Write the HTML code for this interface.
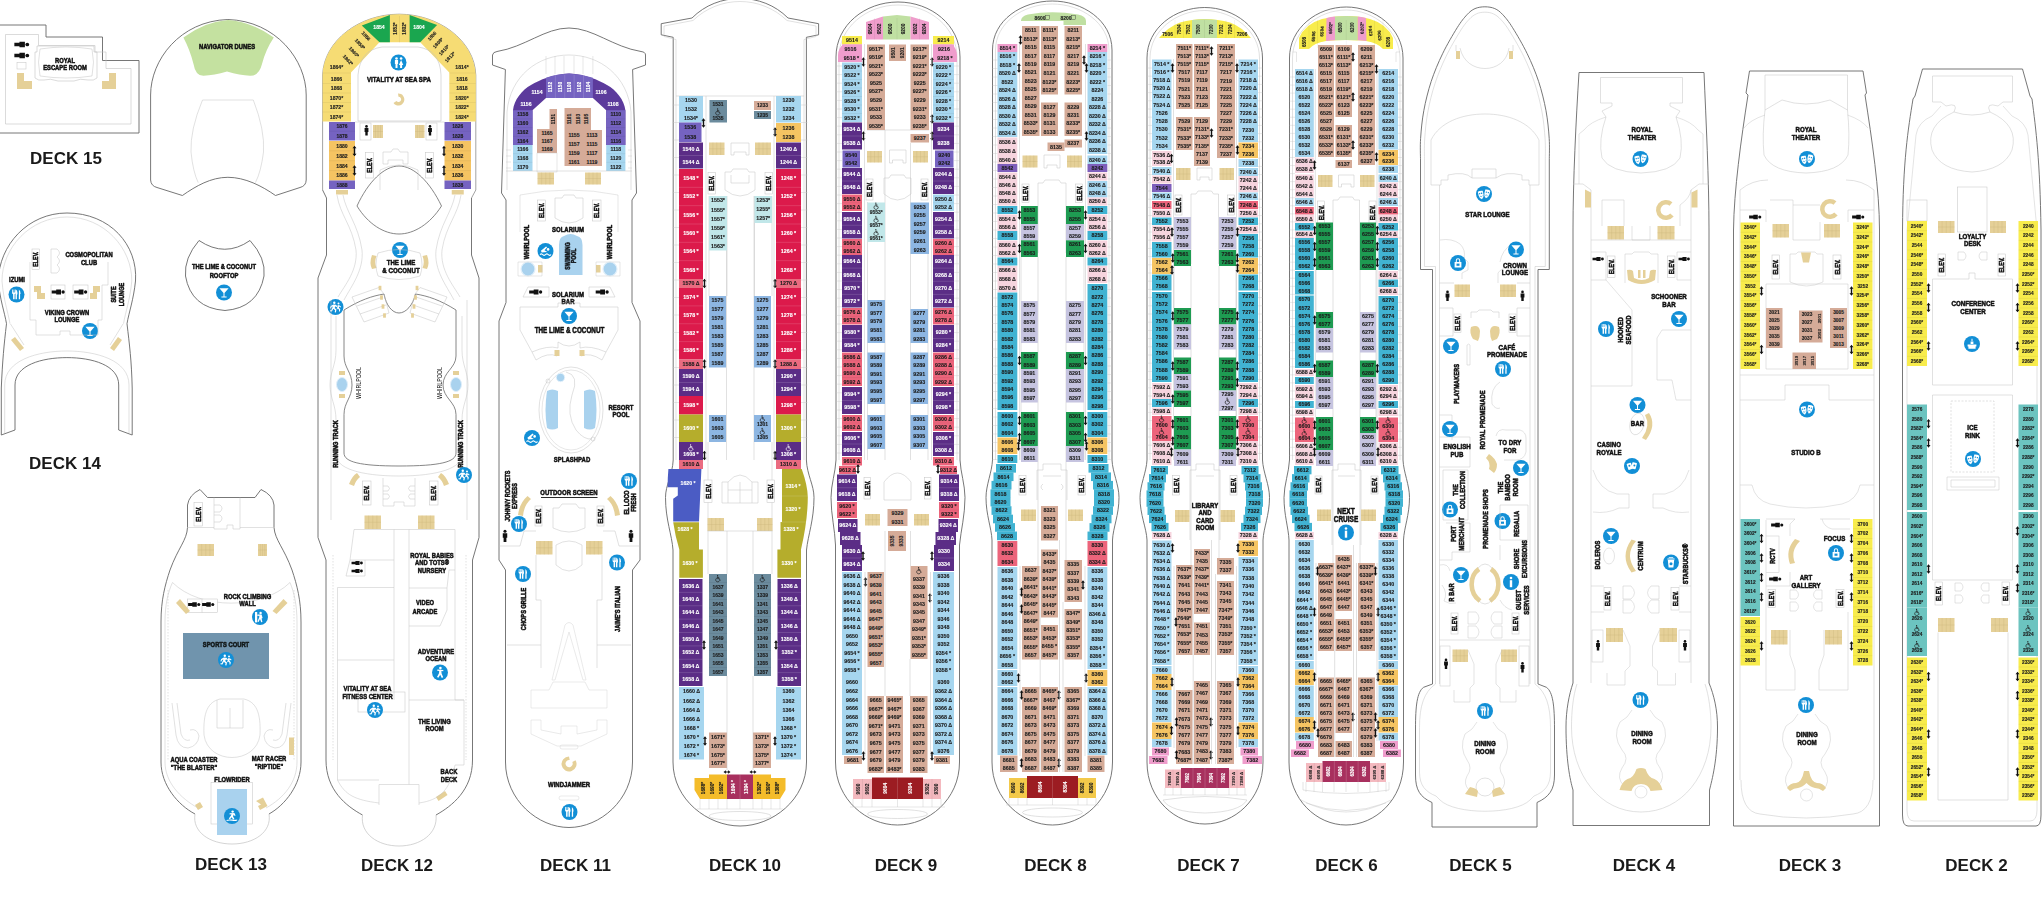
<!DOCTYPE html>
<html lang="en"><head><meta charset="utf-8"><title>Deck Plans</title>
<style>
html,body{margin:0;padding:0;background:#fff;}
body{width:2044px;height:921px;overflow:hidden;}
svg{display:block;opacity:0.999;}
.lb{font-family:"Liberation Sans",Arial,Helvetica,sans-serif;font-weight:bold;text-anchor:middle;stroke:#111;stroke-width:0.55px;stroke-linejoin:round;}
.lbn{font-family:"Liberation Sans",Arial,Helvetica,sans-serif;text-anchor:middle;}
.cb{font-family:"Liberation Sans",Arial,Helvetica,sans-serif;text-anchor:middle;stroke-width:0.12px;font-weight:bold;}
.dk{font-family:"Liberation Sans",Arial,Helvetica,sans-serif;font-weight:bold;font-size:17px;text-anchor:middle;fill:#1a1a1a;}
</style></head><body>
<svg width="2044" height="921" viewBox="0 0 2044 921">
<path d="M0,25 H46 V37 H102.5 V60.5 H139 V133 H0" fill="none" stroke="#686868" stroke-width="0.9"/>
<path d="M5.5,34.5 H38.5 V45.5 H95 V52 H106 V68.5 H131 V124 H5.5 Z" fill="none" stroke="#c2c2c2" stroke-width="0.6"/>
<path d="M37,46 H94 V52 H97 V78 Q94,81 88,80 Q80,78 74,81 H58 Q50,78 44,80 Q38,81 35,78 V52 H37 Z" fill="none" stroke="#c2c2c2" stroke-width="0.6"/>
<path d="M40,49 Q66,45 92,49 Q95,62 92,76 Q66,80 40,76 Q37,62 40,49 Z" fill="none" stroke="#c2c2c2" stroke-width="0.5"/>
<rect x="17" y="62.5" width="9" height="6.5" fill="#fff" stroke="#c2c2c2" stroke-width="0.5"/>
<g transform="translate(21.5,44.5) rotate(90) scale(1.7)" fill="#111"><circle cx="0" cy="-3.4" r="1.1"/><path d="M-1.6,-2 H1.6 V1.2 H1 V4.2 H-1 V1.2 H-1.6 Z"/></g>
<g transform="translate(21.5,55.5) rotate(90) scale(1.7)" fill="#111"><circle cx="0" cy="-3.4" r="1.1"/><path d="M-1.6,-2 H1.6 V1.2 H1 V4.2 H-1 V1.2 H-1.6 Z"/></g>
<polygon points="17,73 24,73 24,81 32,81 32,89 17,89" fill="#e5d098"/>
<polygon points="116,73 109,73 109,81 102,81 102,89 116,89" fill="#e5d098"/>
<g transform="translate(65,63.7) rotate(0) scale(0.7527,1)" class="lb" font-size="7.77" fill="#111">
<text x="0" y="-0.95">ROYAL</text>
<text x="0" y="6.55">ESCAPE ROOM</text>
</g>
<text x="66" y="164" class="dk">DECK 15</text>
<path d="M150.6,180 V95 C150.6,60 180,21 227.9,19.5 C276,21 306.2,60 306.2,95 V180 Q306,186 300,187.5 L275.5,195.5 C262,186 245,177.3 227.9,177.3 C211,177.3 196,186 182.4,195.5 L157,187.5 Q151,186 150.6,180 Z" fill="none" stroke="#686868" stroke-width="0.9"/>
<path d="M183.4,37.5 Q205,21.5 227.9,20 Q251,21.5 273.8,37.5 Q265.5,50 262,64 Q259,76 250,75.8 Q240,75 227,71.4 Q214,75 203.5,75.8 Q195.5,76 193.5,64 Q190,50 183.4,37.5 Z" fill="#c4e1a0" stroke="none" stroke-width="0"/>
<path d="M202.5,100 H253.3 Q265,130 263.5,152 Q261,172 255.4,182.6 M202.5,100 Q190,130 191,152 Q193,172 198.2,182.6" fill="none" stroke="#c2c2c2" stroke-width="0.5"/>
<g transform="translate(227,46) rotate(0) scale(0.7527,1)" class="lb" font-size="7.77" fill="#111">
<text x="0" y="2.8">NAVIGATOR DUNES</text>
</g>
<path d="M1.3,435 L15,430 V385 C15,365 42,357.6 66.9,357.6 C92,357.6 118.7,365 118.7,385 V430 L132.2,435 V388 C131.5,360 129.5,345 127,323.7 C129,312 133.5,300 135.5,281 C138,245 110,213 67,213 C28,213 -1,245 -1.8,281 C0,300 4.5,312 6.5,323.7 C4,345 2.5,360 1.3,388 Z" fill="none" stroke="#686868" stroke-width="0.9"/>
<path d="M10,323.7 C8,312 3.5,300 2,281 C2,248 30,217 67,217 C104,217 132,248 131.8,281 C130,300 125.5,312 123.5,323.7" fill="none" stroke="#c2c2c2" stroke-width="0.5"/>
<path d="M4.7,433 V385 C4.7,360 38,351 66.9,351 C96,351 129,360 129,385 V433" fill="none" stroke="#c2c2c2" stroke-width="0.5"/>
<path d="M10.5,324 L24,345 M123,324 L110,345" fill="none" stroke="#c2c2c2" stroke-width="0.5"/>
<rect x="32" y="249" width="7.5" height="20.5" fill="#fff" stroke="#c2c2c2" stroke-width="0.5"/>
<g transform="translate(35.95,259.25) rotate(-90) scale(0.8106,1)" class="lb" font-size="6.55" fill="#111">
<text x="0" y="2.36">ELEV.</text>
</g>
<path d="M51,249 h6 q5,4 0,8 q5,4 0,8 q5,4 0,8 h-6 z" fill="none" stroke="#c2c2c2" stroke-width="0.5"/>
<g transform="translate(89,258) rotate(0) scale(0.7527,1)" class="lb" font-size="7.77" fill="#111">
<text x="0" y="-1.1">COSMOPOLITAN</text>
<text x="0" y="6.7">CLUB</text>
</g>
<g transform="translate(17,279) rotate(0) scale(0.7527,1)" class="lb" font-size="7.77" fill="#111">
<text x="0" y="2.8">IZUMI</text>
</g>
<g transform="translate(16.5,294.5)">
<circle r="8" fill="#128fd6"/>
<path d="M-4.2,-5 h0.7 v3 h0.6 v-3 h0.7 v3 h0.6 v-3 h0.7 v3.6 q0,1 -1,1.2 v5 h-1.5 v-5 q-1,-0.2 -1,-1.2 z M-0.6,-5 q1.6,0.8 1.6,3.4 q0,1.6 -0.6,2.2 v4.2 h-1.4 v-4.2 z M2.4,-5 q1.7,1 1.7,4.6 h-0.5 v5.2 h-1.3 z" fill="#fff"/>
</g>
<g transform="translate(117.5,294.5) rotate(-90) scale(0.7527,1)" class="lb" font-size="7.33" fill="#111">
<text x="0" y="-1.61">SUITE</text>
<text x="0" y="6.89">LOUNGE</text>
</g>
<g transform="translate(67,315.7) rotate(0) scale(0.7527,1)" class="lb" font-size="7.77" fill="#111">
<text x="0" y="-1">VIKING CROWN</text>
<text x="0" y="6.6">LOUNGE</text>
</g>
<g transform="translate(90,331)">
<circle r="8" fill="#128fd6"/>
<path d="M-4.6,-4.2 H4.6 L0.5,0.6 V4 H2.6 V4.9 H-2.6 V4 H-0.5 V0.6 Z" fill="#fff"/>
</g>
<rect x="51" y="285" width="14" height="14" fill="#fff" stroke="#c2c2c2" stroke-width="0.5"/>
<rect x="73" y="285" width="15" height="14" fill="#fff" stroke="#c2c2c2" stroke-width="0.5"/>
<g transform="translate(58,292) rotate(90) scale(1.5)" fill="#111"><circle cx="0" cy="-3.4" r="1.1"/><path d="M-1.6,-2 H1.6 V1.2 H1 V4.2 H-1 V1.2 H-1.6 Z"/></g>
<g transform="translate(80.5,292) rotate(90) scale(1.5)" fill="#111"><circle cx="0" cy="-3.4" r="1.1"/><path d="M-1.6,-2 H1.6 V1.2 H1 V4.2 H-1 V1.2 H-1.6 Z"/></g>
<polygon points="34,286 41,286 41,293 45,293 45,299 37,299 37,292 34,292" fill="#e5d098"/>
<polygon points="100,286 93,286 93,293 90,293 90,299 97,299 97,292 100,292" fill="#e5d098"/>
<polygon points="11,340 15,337 24,348 20,351" fill="#e5d098"/>
<polygon points="122,340 118,337 110,348 114,351" fill="#e5d098"/>
<path d="M30,262 V320 H36 V335 H60 V331 H70 V335 H98 V320 H102 V285 H108 V262" fill="none" stroke="#c2c2c2" stroke-width="0.5"/>
<text x="65" y="469" class="dk">DECK 14</text>
<path d="M199,240.5 Q225,258 250,240.5 Q266,258 264,276 Q258,308 225,310.5 Q191,308 185.5,276 Q184,258 199,240.5 Z" fill="none" stroke="#686868" stroke-width="0.9"/>
<g transform="translate(224,270.5) rotate(0) scale(0.7527,1)" class="lb" font-size="7.77" fill="#111">
<text x="0" y="-1.6">THE LIME &amp; COCONUT</text>
<text x="0" y="7.2">ROOFTOP</text>
</g>
<g transform="translate(224,292.5)">
<circle r="8" fill="#128fd6"/>
<path d="M-4.6,-4.2 H4.6 L0.5,0.6 V4 H2.6 V4.9 H-2.6 V4 H-0.5 V0.6 Z" fill="#fff"/>
</g>
<path d="M161,762 V622 C161,600 165,585 170,570 C178,548 187,540 187.5,527.5 V505 Q189,495 200,489.5 L207.5,497.5 H255 L261,489.5 Q273,495 274,505 V527.5 C275,540 284,548 292,570 C297,585 301,600 301,622 V762 C301,785 285,805 269,814 M161,762 C161,785 178,805 195,814" fill="none" stroke="#686868" stroke-width="0.9"/>
<path d="M195,814 C192,832 210,844 232,844 C254,844 272,832 269,814" fill="none" stroke="#c2c2c2" stroke-width="0.7"/>
<path d="M165,762 V622 C165,605 168,592 172.5,582.5 C200,610 262,610 290,582.5 C294,592 297,605 297,622 V762 C297,782 284,798 266,808 M165,762 C165,782 180,798 198,808" fill="none" stroke="#c2c2c2" stroke-width="0.5"/>
<line x1="168" y1="590" x2="168" y2="760" stroke="#c2c2c2" stroke-width="0.5" stroke-dasharray="1.5 1.5"/>
<line x1="294" y1="590" x2="294" y2="760" stroke="#c2c2c2" stroke-width="0.5" stroke-dasharray="1.5 1.5"/>
<rect x="194" y="502.5" width="8.5" height="23.5" fill="#fff" stroke="#c2c2c2" stroke-width="0.5"/>
<g transform="translate(198.45,514.25) rotate(-90) scale(0.8106,1)" class="lb" font-size="6.55" fill="#111">
<text x="0" y="2.36">ELEV.</text>
</g>
<path d="M214,497.5 V529 H227 V525 H233 V529 H240 V497.5 M214,505 h6 q4,3 0,7 h-6 M214,515 h6 q4,3 0,7 h-6" fill="none" stroke="#c2c2c2" stroke-width="0.5"/>
<path d="M187.5,527.5 H214 M240,527.5 H275" fill="none" stroke="#c2c2c2" stroke-width="0.5"/>
<rect x="197.5" y="544" width="16.5" height="12" fill="#e5d098"/>
<line x1="201.62" y1="544" x2="201.62" y2="556" stroke="#c9b278" stroke-width="0.3"/>
<line x1="205.75" y1="544" x2="205.75" y2="556" stroke="#c9b278" stroke-width="0.3"/>
<line x1="209.88" y1="544" x2="209.88" y2="556" stroke="#c9b278" stroke-width="0.3"/>
<line x1="197.5" y1="550" x2="214" y2="550" stroke="#c9b278" stroke-width="0.3"/>
<rect x="258" y="544" width="9" height="12" fill="#e5d098"/>
<line x1="260.25" y1="544" x2="260.25" y2="556" stroke="#c9b278" stroke-width="0.3"/>
<line x1="262.5" y1="544" x2="262.5" y2="556" stroke="#c9b278" stroke-width="0.3"/>
<line x1="264.75" y1="544" x2="264.75" y2="556" stroke="#c9b278" stroke-width="0.3"/>
<line x1="258" y1="550" x2="267" y2="550" stroke="#c9b278" stroke-width="0.3"/>
<rect x="187.5" y="599" width="30" height="13.5" fill="#fff" stroke="#c2c2c2" stroke-width="0.5"/>
<line x1="202" y1="599" x2="202" y2="612.5" stroke="#c2c2c2" stroke-width="0.5"/>
<g transform="translate(194,604.5) rotate(90) scale(1.4)" fill="#111"><circle cx="0" cy="-3.4" r="1.1"/><path d="M-1.6,-2 H1.6 V1.2 H1 V4.2 H-1 V1.2 H-1.6 Z"/></g>
<g transform="translate(208,604.5) rotate(90) scale(1.4)" fill="#111"><circle cx="0" cy="-3.4" r="1.1"/><path d="M-1.6,-2 H1.6 V1.2 H1 V4.2 H-1 V1.2 H-1.6 Z"/></g>
<g transform="translate(247.5,599.7) rotate(0) scale(0.7527,1)" class="lb" font-size="7.77" fill="#111">
<text x="0" y="-1">ROCK CLIMBING</text>
<text x="0" y="6.6">WALL</text>
</g>
<g transform="translate(260,617)">
<circle r="8" fill="#128fd6"/>
<rect x="-5" y="-5" width="2.2" height="10.4" fill="#fff"/><circle cx="0.6" cy="-4" r="1.2" fill="#fff"/><path d="M-2.6,-2.4 L1.6,-2.6 L2.6,1 L1.6,1.4 L2.4,5 L1.2,5.2 L0,2 L-1.4,5 L-2.6,4.6 L-0.8,0.6 L-0.6,-1.2 L-2.6,-1 Z" fill="#fff"/>
</g>
<polygon points="176,603 180,599 190,611 186,614" fill="#e5d098"/>
<polygon points="287.5,603 283.5,599 272.5,611 276.5,614" fill="#e5d098"/>
<rect x="183" y="633" width="86" height="46" fill="#7094ad"/>
<g transform="translate(226,644) rotate(0) scale(0.7527,1)" class="lb" font-size="7.77" fill="#122">
<text x="0" y="2.8">SPORTS COURT</text>
</g>
<g transform="translate(226,660)">
<circle r="8" fill="#128fd6"/>
<circle cx="-1.2" cy="-4.2" r="1.2" fill="#fff"/><circle cx="3" cy="-3.4" r="1" fill="#fff"/><path d="M-2.2,-2.6 L0.4,-2.2 L2,-0.6 L1.2,0.2 L0,-0.8 L-0.8,1 L1,2.6 L0.4,5.4 L-0.8,5.2 L-0.4,3.2 L-2.2,1.8 L-3.6,4.4 L-5.6,4.2 L-5.4,3.2 L-4.2,3.2 L-2.6,-0.4 L-4,0 L-4.6,1.6 L-5.6,1.2 L-4.8,-1 Z" fill="#fff"/><path d="M2.2,-2 L4.2,-1.6 L5.6,-0.2 L5,0.4 L3.8,-0.4 L3.4,0.8 L4.8,2.2 L4.4,4.6 L3.4,4.4 L3.6,2.8 L2.2,1.6 L1.6,2.6 L1.2,1.4 L2,-0.2 Z" fill="#fff"/>
</g>
<path d="M204,735 C203,712 208,702 220,699 H244 C256,702 261,712 260,735 C258,750 245,757.5 232,757.5 C219,757.5 206,750 204,735 Z M217,700 V728 H243 V700 M230,708 V728" fill="none" stroke="#c2c2c2" stroke-width="0.5"/>
<path d="M172,703 L176,735 Q178,748 188,748 Q198,746 199,736 Q197,728 190,730 M177,703 L181,734 Q184,742 190,740" fill="none" stroke="#c2c2c2" stroke-width="0.5"/>
<path d="M291,703 L287,735 Q285,748 275,748 Q265,746 264,736 Q266,728 273,730 M286,703 L282,734 Q279,742 273,740" fill="none" stroke="#c2c2c2" stroke-width="0.5"/>
<rect x="289" y="737.5" width="5" height="17.5" fill="#e5d098"/>
<g transform="translate(194,763) rotate(0) scale(0.7527,1)" class="lb" font-size="7.77" fill="#111">
<text x="0" y="-1.1">AQUA COASTER</text>
<text x="0" y="6.7">"THE BLASTER"</text>
</g>
<g transform="translate(269,762) rotate(0) scale(0.7527,1)" class="lb" font-size="7.77" fill="#111">
<text x="0" y="-1.1">MAT RACER</text>
<text x="0" y="6.7">"RIPTIDE"</text>
</g>
<g transform="translate(232,779) rotate(0) scale(0.7527,1)" class="lb" font-size="7.77" fill="#111">
<text x="0" y="2.8">FLOWRIDER</text>
</g>
<rect x="211" y="782.5" width="41.5" height="41.5" fill="#fff" stroke="#c2c2c2" stroke-width="0.5"/>
<rect x="217" y="789" width="30" height="46" fill="#a9d2ee"/>
<g transform="translate(232,816)">
<circle r="8" fill="#128fd6"/>
<circle cx="0.6" cy="-4.4" r="1.2" fill="#fff"/><path d="M-2.4,-2.8 L2.4,-3 L3.6,-0.4 L2.6,0 L1.8,-1.6 L1,0.6 L2.4,2.8 L1.2,3.4 L-0.4,1.2 L-2,3.2 L-3.2,2.6 L-1,-0.4 L-0.6,-1.8 L-2.4,-1.6 Z M-5.4,4 q2,-1 5.6,-0.4 q3,0.6 5,-0.2 v1 q-2,1 -5,0.4 q-3.6,-0.6 -5.6,0.2 z" fill="#fff"/>
</g>
<polygon points="195,805 200,802 203,807 198,810" fill="#e5d098"/>
<polygon points="256,801 263,797.5 267.5,806 260,810 258,806 261,804.5" fill="#e5d098"/>
<text x="231" y="869.5" class="dk">DECK 13</text>
<path d="M322.6,190 V75 C324,40 360,14.2 399.2,14.2 C438,14.2 474.5,40 475.8,75 V190 L471.5,198" fill="none" stroke="#8c8c8c" stroke-width="0.8"/>
<path d="M471.5,198 V255 L479,278 V537.5 L472.5,560 V760 C472.5,790 452,806 436,815 M322.6,190 L326.5,198 V255 L318,278 V537.5 L326,560 V760 C326,790 346,806 362.5,815" fill="none" stroke="#686868" stroke-width="0.9"/>
<path d="M362.5,815 C360,834 378,846 399,846 C420,846 438,834 436,815" fill="none" stroke="#c2c2c2" stroke-width="0.7"/>
<path d="M322.6,121.5 V75 C324,40 360,14.2 399.2,14.2 C438,14.2 474.5,40 475.8,75 V121.5 H449.3 V72.5 L420.2,42.3 H379.5 L351,72.5 V121.5 Z" fill="#f6dc74" stroke="none" stroke-width="0"/>
<polygon points="361.8,25.4 389.9,15 389.9,42.3 379.5,42.3" fill="#1aa64f"/>
<polygon points="409.6,15 437.1,25.1 420.2,42.3 409.6,42.3" fill="#1aa64f"/>
<line x1="399.5" y1="16" x2="399.5" y2="42.5" stroke="rgba(0,0,0,0.15)" stroke-width="0.4"/>
<text x="379" y="28.85" class="cb" font-size="5.13" fill="#fff" stroke="#fff">1854</text>
<text x="419" y="28.85" class="cb" font-size="5.13" fill="#fff" stroke="#fff">1804</text>
<text x="395" y="30.21" class="cb" font-size="4.75" fill="#1c1c1c" stroke="#1c1c1c" transform="rotate(-90 395 28.5)">1852*</text>
<text x="404.5" y="30.21" class="cb" font-size="4.75" fill="#1c1c1c" stroke="#1c1c1c" transform="rotate(-90 404.5 28.5)">1802*</text>
<text x="366" y="37.71" class="cb" font-size="4.75" fill="#1c1c1c" stroke="#1c1c1c" transform="rotate(48 366 36)">1856</text>
<text x="360" y="45.71" class="cb" font-size="4.75" fill="#1c1c1c" stroke="#1c1c1c" transform="rotate(48 360 44)">1858*</text>
<text x="354" y="53.71" class="cb" font-size="4.75" fill="#1c1c1c" stroke="#1c1c1c" transform="rotate(48 354 52)">1860*</text>
<text x="348" y="61.71" class="cb" font-size="4.75" fill="#1c1c1c" stroke="#1c1c1c" transform="rotate(48 348 60)">1862*</text>
<text x="432" y="37.71" class="cb" font-size="4.75" fill="#1c1c1c" stroke="#1c1c1c" transform="rotate(-48 432 36)">1806</text>
<text x="438" y="44.71" class="cb" font-size="4.75" fill="#1c1c1c" stroke="#1c1c1c" transform="rotate(-48 438 43)">1808*</text>
<text x="444" y="51.71" class="cb" font-size="4.75" fill="#1c1c1c" stroke="#1c1c1c" transform="rotate(-48 444 50)">1810*</text>
<text x="450" y="58.71" class="cb" font-size="4.75" fill="#1c1c1c" stroke="#1c1c1c" transform="rotate(-48 450 57)">1812*</text>
<text x="336.5" y="68.85" class="cb" font-size="5.13" fill="#1c1c1c" stroke="#1c1c1c">1864*</text>
<text x="336.5" y="80.85" class="cb" font-size="5.13" fill="#1c1c1c" stroke="#1c1c1c">1866</text>
<text x="336.5" y="90.35" class="cb" font-size="5.13" fill="#1c1c1c" stroke="#1c1c1c">1868</text>
<text x="336.5" y="99.85" class="cb" font-size="5.13" fill="#1c1c1c" stroke="#1c1c1c">1870*</text>
<text x="336.5" y="109.35" class="cb" font-size="5.13" fill="#1c1c1c" stroke="#1c1c1c">1872*</text>
<text x="336.5" y="118.85" class="cb" font-size="5.13" fill="#1c1c1c" stroke="#1c1c1c">1874*</text>
<text x="462" y="68.85" class="cb" font-size="5.13" fill="#1c1c1c" stroke="#1c1c1c">1814*</text>
<text x="462" y="80.85" class="cb" font-size="5.13" fill="#1c1c1c" stroke="#1c1c1c">1816</text>
<text x="462" y="90.35" class="cb" font-size="5.13" fill="#1c1c1c" stroke="#1c1c1c">1818</text>
<text x="462" y="99.85" class="cb" font-size="5.13" fill="#1c1c1c" stroke="#1c1c1c">1820*</text>
<text x="462" y="109.35" class="cb" font-size="5.13" fill="#1c1c1c" stroke="#1c1c1c">1822*</text>
<text x="462" y="118.85" class="cb" font-size="5.13" fill="#1c1c1c" stroke="#1c1c1c">1824*</text>
<line x1="322.6" y1="73" x2="351" y2="73" stroke="rgba(0,0,0,0.12)" stroke-width="0.4"/>
<line x1="449.3" y1="73" x2="475.8" y2="73" stroke="rgba(0,0,0,0.12)" stroke-width="0.4"/>
<line x1="322.6" y1="83.5" x2="351" y2="83.5" stroke="rgba(0,0,0,0.12)" stroke-width="0.4"/>
<line x1="449.3" y1="83.5" x2="475.8" y2="83.5" stroke="rgba(0,0,0,0.12)" stroke-width="0.4"/>
<line x1="322.6" y1="93" x2="351" y2="93" stroke="rgba(0,0,0,0.12)" stroke-width="0.4"/>
<line x1="449.3" y1="93" x2="475.8" y2="93" stroke="rgba(0,0,0,0.12)" stroke-width="0.4"/>
<line x1="322.6" y1="102.5" x2="351" y2="102.5" stroke="rgba(0,0,0,0.12)" stroke-width="0.4"/>
<line x1="449.3" y1="102.5" x2="475.8" y2="102.5" stroke="rgba(0,0,0,0.12)" stroke-width="0.4"/>
<line x1="322.6" y1="112" x2="351" y2="112" stroke="rgba(0,0,0,0.12)" stroke-width="0.4"/>
<line x1="449.3" y1="112" x2="475.8" y2="112" stroke="rgba(0,0,0,0.12)" stroke-width="0.4"/>
<rect x="329" y="122" width="26" height="18.5" fill="#7563c1"/>
<text x="342" y="128.4" class="cb" font-size="4.9399999999999995" fill="#1c1c1c" stroke="#1c1c1c">1876</text>
<line x1="329" y1="131.25" x2="355" y2="131.25" stroke="rgba(0,0,0,0.13)" stroke-width="0.4"/>
<text x="342" y="137.65" class="cb" font-size="4.9399999999999995" fill="#1c1c1c" stroke="#1c1c1c">1878</text>
<rect x="329" y="141" width="26" height="39.5" fill="#f5c462"/>
<text x="342" y="147.78" class="cb" font-size="5.13" fill="#1c1c1c" stroke="#1c1c1c">1880</text>
<line x1="329" y1="150.88" x2="355" y2="150.88" stroke="rgba(0,0,0,0.13)" stroke-width="0.4"/>
<text x="342" y="157.66" class="cb" font-size="5.13" fill="#1c1c1c" stroke="#1c1c1c">1882</text>
<line x1="329" y1="160.75" x2="355" y2="160.75" stroke="rgba(0,0,0,0.13)" stroke-width="0.4"/>
<text x="342" y="167.53" class="cb" font-size="5.13" fill="#1c1c1c" stroke="#1c1c1c">1884</text>
<line x1="329" y1="170.62" x2="355" y2="170.62" stroke="rgba(0,0,0,0.13)" stroke-width="0.4"/>
<text x="342" y="177.41" class="cb" font-size="5.13" fill="#1c1c1c" stroke="#1c1c1c">1886</text>
<rect x="329" y="180.5" width="26" height="8.5" fill="#7563c1"/>
<text x="342" y="186.53" class="cb" font-size="4.9399999999999995" fill="#1c1c1c" stroke="#1c1c1c">1888</text>
<path d="M354.5,145.75 l2,2.6 h-1.3 v5.3 h1.3 l-2,2.6 l-2,-2.6 h1.3 v-5.3 h-1.3 z" fill="#111"/>
<path d="M354.5,165.25 l2,2.6 h-1.3 v5.3 h1.3 l-2,2.6 l-2,-2.6 h1.3 v-5.3 h-1.3 z" fill="#111"/>
<rect x="336" y="190" width="12" height="4.5" fill="#e5d098"/>
<rect x="444.5" y="122" width="26.5" height="18.5" fill="#7563c1"/>
<text x="457.75" y="128.4" class="cb" font-size="4.9399999999999995" fill="#1c1c1c" stroke="#1c1c1c">1826</text>
<line x1="444.5" y1="131.25" x2="471" y2="131.25" stroke="rgba(0,0,0,0.13)" stroke-width="0.4"/>
<text x="457.75" y="137.65" class="cb" font-size="4.9399999999999995" fill="#1c1c1c" stroke="#1c1c1c">1828</text>
<rect x="444.5" y="141" width="26.5" height="39.5" fill="#f5c462"/>
<text x="457.75" y="147.78" class="cb" font-size="5.13" fill="#1c1c1c" stroke="#1c1c1c">1830</text>
<line x1="444.5" y1="150.88" x2="471" y2="150.88" stroke="rgba(0,0,0,0.13)" stroke-width="0.4"/>
<text x="457.75" y="157.66" class="cb" font-size="5.13" fill="#1c1c1c" stroke="#1c1c1c">1832</text>
<line x1="444.5" y1="160.75" x2="471" y2="160.75" stroke="rgba(0,0,0,0.13)" stroke-width="0.4"/>
<text x="457.75" y="167.53" class="cb" font-size="5.13" fill="#1c1c1c" stroke="#1c1c1c">1834</text>
<line x1="444.5" y1="170.62" x2="471" y2="170.62" stroke="rgba(0,0,0,0.13)" stroke-width="0.4"/>
<text x="457.75" y="177.41" class="cb" font-size="5.13" fill="#1c1c1c" stroke="#1c1c1c">1836</text>
<rect x="444.5" y="180.5" width="26.5" height="8.5" fill="#7563c1"/>
<text x="457.75" y="186.53" class="cb" font-size="4.9399999999999995" fill="#1c1c1c" stroke="#1c1c1c">1838</text>
<path d="M444,145.75 l2,2.6 h-1.3 v5.3 h1.3 l-2,2.6 l-2,-2.6 h1.3 v-5.3 h-1.3 z" fill="#111"/>
<path d="M444,165.25 l2,2.6 h-1.3 v5.3 h1.3 l-2,2.6 l-2,-2.6 h1.3 v-5.3 h-1.3 z" fill="#111"/>
<rect x="451.75" y="190" width="12" height="4.5" fill="#e5d098"/>
<path d="M358,121 V75 Q360,50 382,47 H418 Q440,50 441,75 V121 Z" fill="none" stroke="#c2c2c2" stroke-width="0.6"/>
<g transform="translate(398.5,62.5)">
<circle r="8" fill="#128fd6"/>
<circle cx="-2" cy="-4" r="1.3" fill="#fff"/><circle cx="2.6" cy="-4" r="1.3" fill="#fff"/><path d="M-3.6,-2.4 H-0.4 V1.6 H-1 V5.4 H-3 V1.6 H-3.6 Z M2.6,-2.4 L4.8,2.4 H3.6 V5.4 H1.6 V2.4 H0.4 Z" fill="#fff"/>
</g>
<g transform="translate(399,79.3) rotate(0) scale(0.772,1)" class="lb" font-size="7.99" fill="#111">
<text x="0" y="2.88">VITALITY AT SEA SPA</text>
</g>
<path d="M398,93.5 a6,6 0 1 1 -4.5,9.5 l3,-2 a2.6,2.6 0 1 0 2,-4.2 z" fill="#e5d098"/>
<line x1="355" y1="122" x2="444.5" y2="122" stroke="#c2c2c2" stroke-width="0.5"/>
<g transform="translate(366.5,130.5) rotate(0) scale(1.2)" fill="#111"><circle cx="0" cy="-3.4" r="1.1"/><path d="M-1.6,-2 H1.6 V1.2 H1 V4.2 H-1 V1.2 H-1.6 Z"/></g>
<g transform="translate(430,130.5) rotate(0) scale(1.2)" fill="#111"><circle cx="0" cy="-3.4" r="1.1"/><path d="M-1.6,-2 H1.6 V1.2 H1 V4.2 H-1 V1.2 H-1.6 Z"/></g>
<rect x="373" y="125" width="10" height="13" fill="#e5d098"/>
<line x1="375.5" y1="125" x2="375.5" y2="138" stroke="#c9b278" stroke-width="0.3"/>
<line x1="378" y1="125" x2="378" y2="138" stroke="#c9b278" stroke-width="0.3"/>
<line x1="380.5" y1="125" x2="380.5" y2="138" stroke="#c9b278" stroke-width="0.3"/>
<line x1="373" y1="131.5" x2="383" y2="131.5" stroke="#c9b278" stroke-width="0.3"/>
<rect x="415" y="125" width="9.5" height="13" fill="#e5d098"/>
<line x1="417.38" y1="125" x2="417.38" y2="138" stroke="#c9b278" stroke-width="0.3"/>
<line x1="419.75" y1="125" x2="419.75" y2="138" stroke="#c9b278" stroke-width="0.3"/>
<line x1="422.12" y1="125" x2="422.12" y2="138" stroke="#c9b278" stroke-width="0.3"/>
<line x1="415" y1="131.5" x2="424.5" y2="131.5" stroke="#c9b278" stroke-width="0.3"/>
<rect x="360" y="123" width="11" height="17" fill="none" stroke="#c2c2c2" stroke-width="0.5"/>
<rect x="426" y="123" width="11" height="17" fill="none" stroke="#c2c2c2" stroke-width="0.5"/>
<rect x="365.5" y="152.5" width="8" height="25.5" fill="#fff" stroke="#c2c2c2" stroke-width="0.5"/>
<g transform="translate(369.7,165.25) rotate(-90) scale(0.8106,1)" class="lb" font-size="6.55" fill="#111">
<text x="0" y="2.36">ELEV.</text>
</g>
<rect x="425.5" y="152.5" width="8" height="25.5" fill="#fff" stroke="#c2c2c2" stroke-width="0.5"/>
<g transform="translate(429.7,165.25) rotate(-90) scale(0.8106,1)" class="lb" font-size="6.55" fill="#111">
<text x="0" y="2.36">ELEV.</text>
</g>
<path d="M383,152 h8 l2,-3 h5 l2,3 h8 v12 h-5 v-4 h-15 v4 h-5 z" fill="none" stroke="#c2c2c2" stroke-width="0.5"/>
<path d="M357,206 C368,182 384,166 399,166 C414,166 430,182 441.5,206 C430,224 414,234 399,234 C384,234 368,224 357,206 Z" fill="none" stroke="#686868" stroke-width="0.8"/>
<path d="M380,190 V170 Q399,160 418,170 V190" fill="none" stroke="#c2c2c2" stroke-width="0.5"/>
<path d="M337,195 C340,215 352,225 356,250 C358,270 345,285 338,297 M343,195 C346,212 358,224 362,250 C364,270 352,285 344,300" fill="none" stroke="#c2c2c2" stroke-width="0.5"/>
<path d="M461,195 C458,215 446,225 442,250 C440,270 453,285 460,297 M455,195 C452,212 440,224 436,250 C434,270 446,285 454,300" fill="none" stroke="#c2c2c2" stroke-width="0.5"/>
<g transform="translate(400,250)">
<circle r="8" fill="#128fd6"/>
<path d="M-4.6,-4.2 H4.6 L0.5,0.6 V4 H2.6 V4.9 H-2.6 V4 H-0.5 V0.6 Z" fill="#fff"/>
</g>
<g transform="translate(401,266.5) rotate(0) scale(0.772,1)" class="lb" font-size="7.99" fill="#111">
<text x="0" y="-1.02">THE LIME</text>
<text x="0" y="6.78">&amp; COCONUT</text>
</g>
<path d="M372,255 q-3,8 0,14 l4.5,-1 q-2.5,-6 0,-12 z" fill="#e5d098" stroke="#c2c2c2" stroke-width="0"/>
<path d="M427,255 q3,8 0,14 l-4.5,-1 q2.5,-6 0,-12 z" fill="#e5d098" stroke="#c2c2c2" stroke-width="0"/>
<path d="M378,253 Q399,246 420,253 Q424,265 420,276 Q399,283 378,276 Q374,265 378,253 Z" fill="none" stroke="#c2c2c2" stroke-width="0.5"/>
<path d="M344,310 C360,300 372,296 384,294 C386,305 392,313 399,313 C406,313 413,305 415.5,294 C428,296 440,300 456,310 V356 C456,368 443,372 443,385 C443,398 456,402 456,414.5 V453 C456,462 440,466 399,466 C360,466 344,462 344,453 V414.5 C344,402 352,398 352,385 C352,372 344,368 344,356 Z" fill="none" stroke="#686868" stroke-width="0.8"/>
<path d="M352,297 L379,287.5 L384,294 M357,306 L383,297 M360,314 L386,305 M364,322 L389,313 L384,294 M352,297 L364,322" fill="none" stroke="#c2c2c2" stroke-width="0.5"/>
<path d="M447,297 L420,287.5 L415,294 M442,306 L416,297 M439,314 L413,305 M435,322 L410,313 L415,294 M447,297 L435,322" fill="none" stroke="#c2c2c2" stroke-width="0.5"/>
<rect x="378.6" y="285.8" width="2.8" height="4.4" fill="#e5d098"/>
<rect x="415.6" y="285.8" width="2.8" height="4.4" fill="#e5d098"/>
<rect x="380.1" y="295.3" width="2.8" height="4.4" fill="#e5d098"/>
<rect x="414.1" y="295.3" width="2.8" height="4.4" fill="#e5d098"/>
<rect x="381.6" y="304.3" width="2.8" height="4.4" fill="#e5d098"/>
<rect x="412.6" y="304.3" width="2.8" height="4.4" fill="#e5d098"/>
<rect x="383.1" y="313.3" width="2.8" height="4.4" fill="#e5d098"/>
<rect x="411.1" y="313.3" width="2.8" height="4.4" fill="#e5d098"/>
<g transform="translate(335.5,307)">
<circle r="8" fill="#128fd6"/>
<circle cx="-1.2" cy="-4.2" r="1.2" fill="#fff"/><circle cx="3" cy="-3.4" r="1" fill="#fff"/><path d="M-2.2,-2.6 L0.4,-2.2 L2,-0.6 L1.2,0.2 L0,-0.8 L-0.8,1 L1,2.6 L0.4,5.4 L-0.8,5.2 L-0.4,3.2 L-2.2,1.8 L-3.6,4.4 L-5.6,4.2 L-5.4,3.2 L-4.2,3.2 L-2.6,-0.4 L-4,0 L-4.6,1.6 L-5.6,1.2 L-4.8,-1 Z" fill="#fff"/><path d="M2.2,-2 L4.2,-1.6 L5.6,-0.2 L5,0.4 L3.8,-0.4 L3.4,0.8 L4.8,2.2 L4.4,4.6 L3.4,4.4 L3.6,2.8 L2.2,1.6 L1.6,2.6 L1.2,1.4 L2,-0.2 Z" fill="#fff"/>
</g>
<path d="M331,300 V520 M336,316 V350 C336,365 330,372 330,385 C330,398 336,405 336,420 V455 C336,468 360,476 399,476 C438,476 462,468 462,455 V420 C462,405 468,398 468,385 C468,372 462,365 462,350 V316 M467,300 V520" fill="none" stroke="#c2c2c2" stroke-width="0.5"/>
<ellipse cx="342" cy="384.5" rx="5.5" ry="7" fill="#a9d2ee" stroke="#dfeefa" stroke-width="1"/>
<rect x="339" y="371" width="6" height="4" fill="#e5d098"/>
<rect x="339" y="394" width="6" height="4" fill="#e5d098"/>
<ellipse cx="456" cy="384.5" rx="5.5" ry="7" fill="#a9d2ee" stroke="#dfeefa" stroke-width="1"/>
<rect x="453" y="371" width="6" height="4" fill="#e5d098"/>
<rect x="453" y="394" width="6" height="4" fill="#e5d098"/>
<g transform="translate(359,383) rotate(-90) scale(0.772,1)" class="lbn" font-size="6.88" fill="#111">
<text x="0" y="2.48">WHIRLPOOL</text>
</g>
<g transform="translate(440,383) rotate(-90) scale(0.772,1)" class="lbn" font-size="6.88" fill="#111">
<text x="0" y="2.48">WHIRLPOOL</text>
</g>
<g transform="translate(335,444) rotate(-90) scale(0.772,1)" class="lb" font-size="7.33" fill="#111">
<text x="0" y="2.64">RUNNING TRACK</text>
</g>
<g transform="translate(460,444) rotate(-90) scale(0.772,1)" class="lb" font-size="7.33" fill="#111">
<text x="0" y="2.64">RUNNING TRACK</text>
</g>
<g transform="translate(464,475)">
<circle r="8" fill="#128fd6"/>
<circle cx="-1.2" cy="-4.2" r="1.2" fill="#fff"/><circle cx="3" cy="-3.4" r="1" fill="#fff"/><path d="M-2.2,-2.6 L0.4,-2.2 L2,-0.6 L1.2,0.2 L0,-0.8 L-0.8,1 L1,2.6 L0.4,5.4 L-0.8,5.2 L-0.4,3.2 L-2.2,1.8 L-3.6,4.4 L-5.6,4.2 L-5.4,3.2 L-4.2,3.2 L-2.6,-0.4 L-4,0 L-4.6,1.6 L-5.6,1.2 L-4.8,-1 Z" fill="#fff"/><path d="M2.2,-2 L4.2,-1.6 L5.6,-0.2 L5,0.4 L3.8,-0.4 L3.4,0.8 L4.8,2.2 L4.4,4.6 L3.4,4.4 L3.6,2.8 L2.2,1.6 L1.6,2.6 L1.2,1.4 L2,-0.2 Z" fill="#fff"/>
</g>
<path d="M349,484 q3,-8 8,-11 l3,4 q-4,3 -6,9 z" fill="#e5d098" stroke="#c2c2c2" stroke-width="0"/>
<path d="M449,484 q-3,-8 -8,-11 l-3,4 q4,3 6,9 z" fill="#e5d098" stroke="#c2c2c2" stroke-width="0"/>
<rect x="362.5" y="481" width="8.5" height="24" fill="#fff" stroke="#c2c2c2" stroke-width="0.5"/>
<g transform="translate(366.95,493) rotate(-90) scale(0.8106,1)" class="lb" font-size="6.55" fill="#111">
<text x="0" y="2.36">ELEV.</text>
</g>
<rect x="429.5" y="481" width="8.5" height="24" fill="#fff" stroke="#c2c2c2" stroke-width="0.5"/>
<g transform="translate(433.95,493) rotate(-90) scale(0.8106,1)" class="lb" font-size="6.55" fill="#111">
<text x="0" y="2.36">ELEV.</text>
</g>
<path d="M383,478 V506 H394 V502 H404 V506 H415 V478 M383,486 h5 q3,2.5 0,5 h-5 M383,494 h5 q3,2.5 0,5 h-5 M415,486 h-5 q-3,2.5 0,5 h5 M415,494 h-5 q-3,2.5 0,5 h5" fill="none" stroke="#c2c2c2" stroke-width="0.5"/>
<rect x="364.5" y="515.5" width="16.5" height="13.5" fill="#e5d098"/>
<line x1="368.62" y1="515.5" x2="368.62" y2="529" stroke="#c9b278" stroke-width="0.3"/>
<line x1="372.75" y1="515.5" x2="372.75" y2="529" stroke="#c9b278" stroke-width="0.3"/>
<line x1="376.88" y1="515.5" x2="376.88" y2="529" stroke="#c9b278" stroke-width="0.3"/>
<line x1="364.5" y1="522.25" x2="381" y2="522.25" stroke="#c9b278" stroke-width="0.3"/>
<rect x="418" y="515.5" width="16.5" height="13.5" fill="#e5d098"/>
<line x1="422.12" y1="515.5" x2="422.12" y2="529" stroke="#c9b278" stroke-width="0.3"/>
<line x1="426.25" y1="515.5" x2="426.25" y2="529" stroke="#c9b278" stroke-width="0.3"/>
<line x1="430.38" y1="515.5" x2="430.38" y2="529" stroke="#c9b278" stroke-width="0.3"/>
<line x1="418" y1="522.25" x2="434.5" y2="522.25" stroke="#c9b278" stroke-width="0.3"/>
<path d="M354,529.5 H455 V700 H464 V765 M394,529.5 V560 H350 L354,529.5 M346,576 L350,560 M394,560 V700 M409,529.5 V784.5 M337.5,587.5 H394 M337.5,587.5 V660 H394 M337.5,660 V780 H379 M409,588 H447 L449,570 H455 M409,626 H440 L447,610 V588 M409,700 H464 M346,576 H365 V560" fill="none" stroke="#c2c2c2" stroke-width="0.5"/>
<line x1="333" y1="555" x2="333" y2="760" stroke="#c2c2c2" stroke-width="0.5" stroke-dasharray="1.5 1.5"/>
<line x1="466" y1="555" x2="466" y2="760" stroke="#c2c2c2" stroke-width="0.5" stroke-dasharray="1.5 1.5"/>
<g transform="translate(357,563) rotate(90) scale(1.3)" fill="#111"><circle cx="0" cy="-3.4" r="1.1"/><path d="M-1.6,-2 H1.6 V1.2 H1 V4.2 H-1 V1.2 H-1.6 Z"/></g>
<g transform="translate(357,571) rotate(90) scale(1.3)" fill="#111"><circle cx="0" cy="-3.4" r="1.1"/><path d="M-1.6,-2 H1.6 V1.2 H1 V4.2 H-1 V1.2 H-1.6 Z"/></g>
<g transform="translate(432,562.5) rotate(0) scale(0.7527,1)" class="lb" font-size="7.77" fill="#111">
<text x="0" y="-4.8">ROYAL BABIES</text>
<text x="0" y="2.8">AND TOTS®</text>
<text x="0" y="10.4">NURSERY</text>
</g>
<g transform="translate(425,606.7) rotate(0) scale(0.7527,1)" class="lb" font-size="7.77" fill="#111">
<text x="0" y="-1.4">VIDEO</text>
<text x="0" y="7">ARCADE</text>
</g>
<g transform="translate(436,654.5) rotate(0) scale(0.7527,1)" class="lb" font-size="7.77" fill="#111">
<text x="0" y="-0.9">ADVENTURE</text>
<text x="0" y="6.5">OCEAN</text>
</g>
<g transform="translate(440,672.5)">
<circle r="8" fill="#128fd6"/>
<circle cx="0.4" cy="-4.4" r="1.3" fill="#fff"/><path d="M-2.6,-3 L3.4,-2.4 L3.2,-1.2 L1.4,-1.4 L1.6,1 L3.2,4.8 L1.8,5.4 L0.2,2.2 L-1.6,5.2 L-3,4.6 L-1,0.8 L-0.8,-1.6 L-2.8,-1.8 Z" fill="#fff"/>
</g>
<g transform="translate(367.5,692) rotate(0) scale(0.7527,1)" class="lb" font-size="7.77" fill="#111">
<text x="0" y="-1.2">VITALITY AT SEA</text>
<text x="0" y="6.8">FITNESS CENTER</text>
</g>
<rect x="358" y="692" width="47" height="20" fill="none" stroke="#c2c2c2" stroke-width="0.5"/>
<g transform="translate(375,710)">
<circle r="8" fill="#128fd6"/>
<circle cx="-1.2" cy="-4.2" r="1.2" fill="#fff"/><circle cx="3" cy="-3.4" r="1" fill="#fff"/><path d="M-2.2,-2.6 L0.4,-2.2 L2,-0.6 L1.2,0.2 L0,-0.8 L-0.8,1 L1,2.6 L0.4,5.4 L-0.8,5.2 L-0.4,3.2 L-2.2,1.8 L-3.6,4.4 L-5.6,4.2 L-5.4,3.2 L-4.2,3.2 L-2.6,-0.4 L-4,0 L-4.6,1.6 L-5.6,1.2 L-4.8,-1 Z" fill="#fff"/><path d="M2.2,-2 L4.2,-1.6 L5.6,-0.2 L5,0.4 L3.8,-0.4 L3.4,0.8 L4.8,2.2 L4.4,4.6 L3.4,4.4 L3.6,2.8 L2.2,1.6 L1.6,2.6 L1.2,1.4 L2,-0.2 Z" fill="#fff"/>
</g>
<g transform="translate(434.5,724.5) rotate(0) scale(0.7527,1)" class="lb" font-size="7.77" fill="#111">
<text x="0" y="-0.9">THE LIVING</text>
<text x="0" y="6.5">ROOM</text>
</g>
<g transform="translate(449,775) rotate(0) scale(0.7527,1)" class="lb" font-size="7.77" fill="#111">
<text x="0" y="-1.2">BACK</text>
<text x="0" y="6.8">DECK</text>
</g>
<polygon points="436,797 445,791 447.5,795 438.5,801" fill="#e5d098"/>
<path d="M379,805 V784.5 H419 V805 M337.5,780 C345,795 355,800 379,803 M419,803 C440,800 450,790 455,765 H464" fill="none" stroke="#c2c2c2" stroke-width="0.5"/>
<text x="397" y="871" class="dk">DECK 12</text>
<path d="M506,302.5 V200 L501.5,193 L505.4,69.5 L492.5,65 V55 Q493,52 497,51.5 C525,47 545,28 569,28 C593,28 613,47 641,51.5 Q645.5,52 645.5,55 V65 L632.6,69.5 L636.5,193 L632,200 V302.5 L640,321 V560 L632.5,570 V762 C632.5,800 600,827.5 569,827.5 C538,827.5 505.5,800 505.5,762 V570 L499,560 V321 Z" fill="none" stroke="#686868" stroke-width="0.9"/>
<path d="M507,190 V112 C510,76 538,55 569,55 C600,55 628,76 631,112 V190" fill="none" stroke="#c2c2c2" stroke-width="0.5"/>
<line x1="546" y1="56" x2="546" y2="74" stroke="#c2c2c2" stroke-width="0.4"/>
<line x1="555" y1="56" x2="555" y2="74" stroke="#c2c2c2" stroke-width="0.4"/>
<line x1="564" y1="56" x2="564" y2="74" stroke="#c2c2c2" stroke-width="0.4"/>
<line x1="574" y1="56" x2="574" y2="74" stroke="#c2c2c2" stroke-width="0.4"/>
<line x1="583" y1="56" x2="583" y2="74" stroke="#c2c2c2" stroke-width="0.4"/>
<line x1="592.9" y1="56" x2="592.9" y2="74" stroke="#c2c2c2" stroke-width="0.4"/>
<line x1="506" y1="150" x2="511" y2="150" stroke="#c2c2c2" stroke-width="0.4"/>
<line x1="628" y1="150" x2="632" y2="150" stroke="#c2c2c2" stroke-width="0.4"/>
<line x1="506" y1="156" x2="511" y2="156" stroke="#c2c2c2" stroke-width="0.4"/>
<line x1="628" y1="156" x2="632" y2="156" stroke="#c2c2c2" stroke-width="0.4"/>
<line x1="506" y1="162" x2="511" y2="162" stroke="#c2c2c2" stroke-width="0.4"/>
<line x1="628" y1="162" x2="632" y2="162" stroke="#c2c2c2" stroke-width="0.4"/>
<line x1="506" y1="168" x2="511" y2="168" stroke="#c2c2c2" stroke-width="0.4"/>
<line x1="628" y1="168" x2="632" y2="168" stroke="#c2c2c2" stroke-width="0.4"/>
<path d="M513,145 V110.2 C514,100 522,90 531,85 C540,80 552,74.5 569.1,73.6 C586,74.5 598,80 607,85 C616,90 624.4,100 625.4,110.2 V145 H606.2 V110.2 L592.9,98 H546 L532.5,110.2 V145 Z" fill="#5c3a9c" stroke="none" stroke-width="0"/>
<path d="M546,98 V77.7 Q557,74 569.1,73.6 Q581,74 592.9,77.7 V98 Z" fill="#7563c1" stroke="none" stroke-width="0"/>
<text x="550.69" y="88.71" class="cb" font-size="4.75" fill="#fff" stroke="#fff" transform="rotate(-90 550.69 87)">1152</text>
<text x="560.07" y="88.71" class="cb" font-size="4.75" fill="#fff" stroke="#fff" transform="rotate(-90 560.07 87)">1150</text>
<line x1="555.38" y1="75" x2="555.38" y2="98" stroke="rgba(255,255,255,0.35)" stroke-width="0.4"/>
<text x="569.45" y="88.71" class="cb" font-size="4.75" fill="#fff" stroke="#fff" transform="rotate(-90 569.45 87)">1100</text>
<line x1="564.76" y1="75" x2="564.76" y2="98" stroke="rgba(255,255,255,0.35)" stroke-width="0.4"/>
<text x="578.83" y="88.71" class="cb" font-size="4.75" fill="#fff" stroke="#fff" transform="rotate(-90 578.83 87)">1102</text>
<line x1="574.14" y1="75" x2="574.14" y2="98" stroke="rgba(255,255,255,0.35)" stroke-width="0.4"/>
<text x="588.21" y="88.71" class="cb" font-size="4.75" fill="#fff" stroke="#fff" transform="rotate(-90 588.21 87)">1104</text>
<line x1="583.52" y1="75" x2="583.52" y2="98" stroke="rgba(255,255,255,0.35)" stroke-width="0.4"/>
<text x="537" y="93.85" class="cb" font-size="5.13" fill="#fff" stroke="#fff">1154</text>
<text x="601" y="93.85" class="cb" font-size="5.13" fill="#fff" stroke="#fff">1106</text>
<text x="526" y="106.35" class="cb" font-size="5.13" fill="#fff" stroke="#fff">1156</text>
<text x="613" y="106.35" class="cb" font-size="5.13" fill="#fff" stroke="#fff">1108</text>
<rect x="513" y="110.2" width="19.5" height="34.8" fill="#7563c1"/>
<text x="522.75" y="116.4" class="cb" font-size="5.13" fill="#1c1c1c" stroke="#1c1c1c">1158</text>
<line x1="513" y1="118.9" x2="532.5" y2="118.9" stroke="rgba(0,0,0,0.13)" stroke-width="0.4"/>
<text x="522.75" y="125.1" class="cb" font-size="5.13" fill="#1c1c1c" stroke="#1c1c1c">1160</text>
<line x1="513" y1="127.6" x2="532.5" y2="127.6" stroke="rgba(0,0,0,0.13)" stroke-width="0.4"/>
<text x="522.75" y="133.8" class="cb" font-size="5.13" fill="#1c1c1c" stroke="#1c1c1c">1162</text>
<line x1="513" y1="136.3" x2="532.5" y2="136.3" stroke="rgba(0,0,0,0.13)" stroke-width="0.4"/>
<text x="522.75" y="142.5" class="cb" font-size="5.13" fill="#1c1c1c" stroke="#1c1c1c">1164</text>
<rect x="606.2" y="110.2" width="19.2" height="34.8" fill="#7563c1"/>
<text x="615.8" y="116.4" class="cb" font-size="5.13" fill="#1c1c1c" stroke="#1c1c1c">1110</text>
<line x1="606.2" y1="118.9" x2="625.4" y2="118.9" stroke="rgba(0,0,0,0.13)" stroke-width="0.4"/>
<text x="615.8" y="125.1" class="cb" font-size="5.13" fill="#1c1c1c" stroke="#1c1c1c">1112</text>
<line x1="606.2" y1="127.6" x2="625.4" y2="127.6" stroke="rgba(0,0,0,0.13)" stroke-width="0.4"/>
<text x="615.8" y="133.8" class="cb" font-size="5.13" fill="#1c1c1c" stroke="#1c1c1c">1114</text>
<line x1="606.2" y1="136.3" x2="625.4" y2="136.3" stroke="rgba(0,0,0,0.13)" stroke-width="0.4"/>
<text x="615.8" y="142.5" class="cb" font-size="5.13" fill="#1c1c1c" stroke="#1c1c1c">1116</text>
<rect x="513" y="145" width="19.5" height="26" fill="#a6d6ef"/>
<text x="522.75" y="151.18" class="cb" font-size="5.13" fill="#1c1c1c" stroke="#1c1c1c">1166</text>
<line x1="513" y1="153.67" x2="532.5" y2="153.67" stroke="rgba(0,0,0,0.13)" stroke-width="0.4"/>
<text x="522.75" y="159.85" class="cb" font-size="5.13" fill="#1c1c1c" stroke="#1c1c1c">1168</text>
<line x1="513" y1="162.33" x2="532.5" y2="162.33" stroke="rgba(0,0,0,0.13)" stroke-width="0.4"/>
<text x="522.75" y="168.51" class="cb" font-size="5.13" fill="#1c1c1c" stroke="#1c1c1c">1170</text>
<rect x="606.2" y="145" width="19.2" height="26" fill="#a6d6ef"/>
<text x="615.8" y="151.18" class="cb" font-size="5.13" fill="#1c1c1c" stroke="#1c1c1c">1118</text>
<line x1="606.2" y1="153.67" x2="625.4" y2="153.67" stroke="rgba(0,0,0,0.13)" stroke-width="0.4"/>
<text x="615.8" y="159.85" class="cb" font-size="5.13" fill="#1c1c1c" stroke="#1c1c1c">1120</text>
<line x1="606.2" y1="162.33" x2="625.4" y2="162.33" stroke="rgba(0,0,0,0.13)" stroke-width="0.4"/>
<text x="615.8" y="168.51" class="cb" font-size="5.13" fill="#1c1c1c" stroke="#1c1c1c">1122</text>
<rect x="549.5" y="109" width="7.5" height="20" fill="#d5ab98"/>
<text x="553.2" y="120.71" class="cb" font-size="4.75" fill="#1c1c1c" stroke="#1c1c1c" transform="rotate(-90 553.2 119)">1151</text>
<rect x="537" y="129" width="20" height="24" fill="#d5ab98"/>
<text x="547" y="134.85" class="cb" font-size="5.13" fill="#1c1c1c" stroke="#1c1c1c">1165</text>
<text x="547" y="142.85" class="cb" font-size="5.13" fill="#1c1c1c" stroke="#1c1c1c">1167</text>
<text x="547" y="150.85" class="cb" font-size="5.13" fill="#1c1c1c" stroke="#1c1c1c">1169</text>
<rect x="564.5" y="108" width="26.5" height="22" fill="#d5ab98"/>
<text x="568.92" y="120.78" class="cb" font-size="4.9399999999999995" fill="#1c1c1c" stroke="#1c1c1c" transform="rotate(-90 568.92 119)">1101</text>
<text x="577.75" y="120.78" class="cb" font-size="4.9399999999999995" fill="#1c1c1c" stroke="#1c1c1c" transform="rotate(-90 577.75 119)">1103</text>
<text x="586.58" y="120.78" class="cb" font-size="4.9399999999999995" fill="#1c1c1c" stroke="#1c1c1c" transform="rotate(-90 586.58 119)">1105</text>
<rect x="564.5" y="130" width="37.5" height="36" fill="#d5ab98"/>
<text x="574" y="137.35" class="cb" font-size="5.13" fill="#1c1c1c" stroke="#1c1c1c">1155</text>
<text x="592" y="137.35" class="cb" font-size="5.13" fill="#1c1c1c" stroke="#1c1c1c">1113</text>
<text x="574" y="146.35" class="cb" font-size="5.13" fill="#1c1c1c" stroke="#1c1c1c">1157</text>
<text x="592" y="146.35" class="cb" font-size="5.13" fill="#1c1c1c" stroke="#1c1c1c">1115</text>
<text x="574" y="155.35" class="cb" font-size="5.13" fill="#1c1c1c" stroke="#1c1c1c">1159</text>
<text x="592" y="155.35" class="cb" font-size="5.13" fill="#1c1c1c" stroke="#1c1c1c">1117</text>
<text x="574" y="164.35" class="cb" font-size="5.13" fill="#1c1c1c" stroke="#1c1c1c">1161</text>
<text x="592" y="164.35" class="cb" font-size="5.13" fill="#1c1c1c" stroke="#1c1c1c">1119</text>
<rect x="537" y="153" width="20" height="19" fill="#fff" stroke="#c2c2c2" stroke-width="0.4"/>
<rect x="537.5" y="172.5" width="16.5" height="12" fill="#e5d098"/>
<line x1="541.62" y1="172.5" x2="541.62" y2="184.5" stroke="#c9b278" stroke-width="0.3"/>
<line x1="545.75" y1="172.5" x2="545.75" y2="184.5" stroke="#c9b278" stroke-width="0.3"/>
<line x1="549.88" y1="172.5" x2="549.88" y2="184.5" stroke="#c9b278" stroke-width="0.3"/>
<line x1="537.5" y1="178.5" x2="554" y2="178.5" stroke="#c9b278" stroke-width="0.3"/>
<rect x="585" y="172.5" width="16" height="12" fill="#e5d098"/>
<line x1="589" y1="172.5" x2="589" y2="184.5" stroke="#c9b278" stroke-width="0.3"/>
<line x1="593" y1="172.5" x2="593" y2="184.5" stroke="#c9b278" stroke-width="0.3"/>
<line x1="597" y1="172.5" x2="597" y2="184.5" stroke="#c9b278" stroke-width="0.3"/>
<line x1="585" y1="178.5" x2="601" y2="178.5" stroke="#c9b278" stroke-width="0.3"/>
<line x1="506" y1="171" x2="632" y2="171" stroke="#c2c2c2" stroke-width="0.5"/>
<rect x="537.5" y="200" width="8" height="21" fill="#fff" stroke="#c2c2c2" stroke-width="0.5"/>
<g transform="translate(541.7,210.5) rotate(-90) scale(0.8106,1)" class="lb" font-size="6.55" fill="#111">
<text x="0" y="2.36">ELEV.</text>
</g>
<rect x="592.5" y="200" width="8.5" height="21" fill="#fff" stroke="#c2c2c2" stroke-width="0.5"/>
<g transform="translate(596.95,210.5) rotate(-90) scale(0.8106,1)" class="lb" font-size="6.55" fill="#111">
<text x="0" y="2.36">ELEV.</text>
</g>
<path d="M555,198 h7 l2,-3 h10 l2,3 h7 v20 q-14,10 -28,0 z" fill="none" stroke="#c2c2c2" stroke-width="0.5"/>
<path d="M520,195 Q569,185 618,195 M520,195 V232 M618,195 V232" fill="none" stroke="#c2c2c2" stroke-width="0.4"/>
<g transform="translate(568,229) rotate(0) scale(0.772,1)" class="lb" font-size="7.77" fill="#111">
<text x="0" y="2.8">SOLARIUM</text>
</g>
<g transform="translate(526,242) rotate(-90) scale(0.772,1)" class="lb" font-size="7.33" fill="#111">
<text x="0" y="2.64">WHIRLPOOL</text>
</g>
<g transform="translate(609,242) rotate(-90) scale(0.772,1)" class="lb" font-size="7.33" fill="#111">
<text x="0" y="2.64">WHIRLPOOL</text>
</g>
<g transform="translate(545.5,251)">
<circle r="8" fill="#128fd6"/>
<circle cx="2.6" cy="-1.6" r="1.3" fill="#fff"/><path d="M-4.6,-0.2 L0.6,-4.4 L1.6,-3.4 L-1,-0.8 L1.8,1 L-3.8,1.4 Z M-5.6,3 q1.4,-1.4 2.8,0 q1.4,1.4 2.8,0 q1.4,-1.4 2.8,0 q1.4,1.4 2.8,0 v1.2 q-1.4,1.4 -2.8,0 q-1.4,-1.4 -2.8,0 q-1.4,1.4 -2.8,0 q-1.4,-1.4 -2.8,0 z" fill="#fff"/>
</g>
<path d="M559,275 V245 Q559,237 564,236 Q570.5,232 577,236 Q582.5,237 582.5,245 V275 Z" fill="#a9d2ee" stroke="none" stroke-width="0"/>
<g transform="translate(570.5,256) rotate(-90) scale(0.772,1)" class="lb" font-size="6.66" fill="#234">
<text x="0" y="-0.9">SWIMMING</text>
<text x="0" y="5.7">POOL</text>
</g>
<circle cx="528" cy="269" r="7" fill="#a9d2ee" stroke="#e3f0fa" stroke-width="1.2"/>
<circle cx="610" cy="269" r="7" fill="#a9d2ee" stroke="#e3f0fa" stroke-width="1.2"/>
<rect x="538" y="265" width="4.5" height="7.5" fill="#e5d098"/>
<rect x="596" y="265" width="4.5" height="7.5" fill="#e5d098"/>
<path d="M518,262 h24 v14 h-24 z M596,262 h24 v14 h-24 z" fill="none" stroke="#c2c2c2" stroke-width="0.4"/>
<path d="M523,297 L528,287 H549 V297 Z M615,297 L610,287 H589 V297 Z" fill="none" stroke="#c2c2c2" stroke-width="0.5"/>
<g transform="translate(535.5,292) rotate(90) scale(1.5)" fill="#111"><circle cx="0" cy="-3.4" r="1.1"/><path d="M-1.6,-2 H1.6 V1.2 H1 V4.2 H-1 V1.2 H-1.6 Z"/></g>
<g transform="translate(602,292) rotate(90) scale(1.5)" fill="#111"><circle cx="0" cy="-3.4" r="1.1"/><path d="M-1.6,-2 H1.6 V1.2 H1 V4.2 H-1 V1.2 H-1.6 Z"/></g>
<g transform="translate(568,297.5) rotate(0) scale(0.772,1)" class="lb" font-size="7.77" fill="#111">
<text x="0" y="-0.8">SOLARIUM</text>
<text x="0" y="6.4">BAR</text>
</g>
<path d="M520,307 H558 V303 H580 V307 H618 V330 L606,352 Q590,345 580,348 V342 Q569,350 558,342 V348 Q548,345 532,352 L520,330 Z" fill="none" stroke="#c2c2c2" stroke-width="0.5"/>
<path d="M532,352 L536,360 Q548,352 557,356 M606,352 L602,360 Q590,352 581,356" fill="none" stroke="#c2c2c2" stroke-width="0.5"/>
<g transform="translate(569,316)">
<circle r="8" fill="#128fd6"/>
<path d="M-4.6,-4.2 H4.6 L0.5,0.6 V4 H2.6 V4.9 H-2.6 V4 H-0.5 V0.6 Z" fill="#fff"/>
</g>
<g transform="translate(569.5,330.5) rotate(0) scale(0.772,1)" class="lb" font-size="8.21" fill="#111">
<text x="0" y="2.96">THE LIME &amp; COCONUT</text>
</g>
<rect x="554.5" y="350" width="5" height="6" fill="#e5d098"/>
<rect x="579.5" y="350" width="5" height="6" fill="#e5d098"/>
<ellipse cx="571" cy="410" rx="32" ry="43" fill="none" stroke="#c2c2c2" stroke-width="0.5"/>
<ellipse cx="571" cy="410" rx="29" ry="40" fill="none" stroke="#c2c2c2" stroke-width="0.4"/>
<path d="M547,391 Q552,388 558,391 V428 Q552,431 547,428 Q544,410 547,391 Z" fill="#a9d2ee" stroke="none" stroke-width="0"/>
<path d="M595,391 Q590,388 584,391 V428 Q590,431 595,428 Q598,410 595,391 Z" fill="#a9d2ee" stroke="none" stroke-width="0"/>
<circle cx="560.5" cy="377.5" r="4.2" fill="#a9d2ee" stroke="#e3f0fa" stroke-width="1"/>
<circle cx="548" cy="381" r="2" fill="none" stroke="#c2c2c2" stroke-width="0.5"/>
<circle cx="593" cy="439" r="2" fill="none" stroke="#c2c2c2" stroke-width="0.5"/>
<path d="M566,372 Q580,375 572,395 Q566,415 576,430 Q584,440 592,439" fill="none" stroke="#c2c2c2" stroke-width="0.5"/>
<g transform="translate(621,410.7) rotate(0) scale(0.772,1)" class="lb" font-size="7.77" fill="#111">
<text x="0" y="-1">RESORT</text>
<text x="0" y="6.6">POOL</text>
</g>
<g transform="translate(532,438)">
<circle r="8" fill="#128fd6"/>
<circle cx="2.6" cy="-1.6" r="1.3" fill="#fff"/><path d="M-4.6,-0.2 L0.6,-4.4 L1.6,-3.4 L-1,-0.8 L1.8,1 L-3.8,1.4 Z M-5.6,3 q1.4,-1.4 2.8,0 q1.4,1.4 2.8,0 q1.4,-1.4 2.8,0 q1.4,1.4 2.8,0 v1.2 q-1.4,1.4 -2.8,0 q-1.4,-1.4 -2.8,0 q-1.4,1.4 -2.8,0 q-1.4,-1.4 -2.8,0 z" fill="#fff"/>
</g>
<g transform="translate(572,459) rotate(0) scale(0.772,1)" class="lb" font-size="7.77" fill="#111">
<text x="0" y="2.8">SPLASHPAD</text>
</g>
<g transform="translate(511,496) rotate(-90) scale(0.772,1)" class="lb" font-size="7.1" fill="#111">
<text x="0" y="-1.24">JOHNNY ROCKETS</text>
<text x="0" y="6.36">EXPRESS</text>
</g>
<g transform="translate(519,524)">
<circle r="8" fill="#128fd6"/>
<path d="M-4.2,-5 h0.7 v3 h0.6 v-3 h0.7 v3 h0.6 v-3 h0.7 v3.6 q0,1 -1,1.2 v5 h-1.5 v-5 q-1,-0.2 -1,-1.2 z M-0.6,-5 q1.6,0.8 1.6,3.4 q0,1.6 -0.6,2.2 v4.2 h-1.4 v-4.2 z M2.4,-5 q1.7,1 1.7,4.6 h-0.5 v5.2 h-1.3 z" fill="#fff"/>
</g>
<g transform="translate(569,492.3) rotate(0) scale(0.772,1)" class="lb" font-size="7.77" fill="#111">
<text x="0" y="2.8">OUTDOOR SCREEN</text>
</g>
<line x1="541" y1="497.5" x2="597.5" y2="497.5" stroke="#111" stroke-width="0.9"/>
<path d="M523,516 q1,-11 8,-17 l-3.5,-3 q-8,7 -9.5,19 z" fill="#e5d098" stroke="none" stroke-width="0"/>
<path d="M615,516 q-1,-11 -8,-17 l3.5,-3 q8,7 9.5,19 z" fill="#e5d098" stroke="none" stroke-width="0"/>
<rect x="535" y="506" width="7" height="20" fill="#fff" stroke="#c2c2c2" stroke-width="0.5"/>
<g transform="translate(538.7,516) rotate(-90) scale(0.8106,1)" class="lb" font-size="6.55" fill="#111">
<text x="0" y="2.36">ELEV.</text>
</g>
<rect x="597" y="506" width="7" height="20" fill="#fff" stroke="#c2c2c2" stroke-width="0.5"/>
<g transform="translate(600.7,516) rotate(-90) scale(0.8106,1)" class="lb" font-size="6.55" fill="#111">
<text x="0" y="2.36">ELEV.</text>
</g>
<path d="M553,528 V508 h6 l3,-4 h14 l3,4 h6 V528 q-16,8 -32,0 z" fill="none" stroke="#c2c2c2" stroke-width="0.5"/>
<g transform="translate(630,502.5) rotate(-90) scale(0.772,1)" class="lb" font-size="7.1" fill="#111">
<text x="0" y="-1.24">EL LOCO</text>
<text x="0" y="6.36">FRESH</text>
</g>
<g transform="translate(629,481)">
<circle r="8" fill="#128fd6"/>
<path d="M-4.2,-5 h0.7 v3 h0.6 v-3 h0.7 v3 h0.6 v-3 h0.7 v3.6 q0,1 -1,1.2 v5 h-1.5 v-5 q-1,-0.2 -1,-1.2 z M-0.6,-5 q1.6,0.8 1.6,3.4 q0,1.6 -0.6,2.2 v4.2 h-1.4 v-4.2 z M2.4,-5 q1.7,1 1.7,4.6 h-0.5 v5.2 h-1.3 z" fill="#fff"/>
</g>
<g transform="translate(505,536) rotate(0) scale(1.4)" fill="#111"><circle cx="0" cy="-3.4" r="1.1"/><path d="M-1.6,-2 H1.6 V1.2 H1 V4.2 H-1 V1.2 H-1.6 Z"/></g>
<g transform="translate(631,536) rotate(0) scale(1.4)" fill="#111"><circle cx="0" cy="-3.4" r="1.1"/><path d="M-1.6,-2 H1.6 V1.2 H1 V4.2 H-1 V1.2 H-1.6 Z"/></g>
<path d="M499,546 H520 L524,531 H536 M640,546 H619 L615,531 H603" fill="none" stroke="#c2c2c2" stroke-width="0.5"/>
<rect x="536" y="541" width="16.5" height="13.5" fill="#e5d098"/>
<line x1="540.12" y1="541" x2="540.12" y2="554.5" stroke="#c9b278" stroke-width="0.3"/>
<line x1="544.25" y1="541" x2="544.25" y2="554.5" stroke="#c9b278" stroke-width="0.3"/>
<line x1="548.38" y1="541" x2="548.38" y2="554.5" stroke="#c9b278" stroke-width="0.3"/>
<line x1="536" y1="547.75" x2="552.5" y2="547.75" stroke="#c9b278" stroke-width="0.3"/>
<rect x="586" y="541" width="16.5" height="13.5" fill="#e5d098"/>
<line x1="590.12" y1="541" x2="590.12" y2="554.5" stroke="#c9b278" stroke-width="0.3"/>
<line x1="594.25" y1="541" x2="594.25" y2="554.5" stroke="#c9b278" stroke-width="0.3"/>
<line x1="598.38" y1="541" x2="598.38" y2="554.5" stroke="#c9b278" stroke-width="0.3"/>
<line x1="586" y1="547.75" x2="602.5" y2="547.75" stroke="#c9b278" stroke-width="0.3"/>
<g transform="translate(523,574)">
<circle r="8" fill="#128fd6"/>
<path d="M-4.2,-5 h0.7 v3 h0.6 v-3 h0.7 v3 h0.6 v-3 h0.7 v3.6 q0,1 -1,1.2 v5 h-1.5 v-5 q-1,-0.2 -1,-1.2 z M-0.6,-5 q1.6,0.8 1.6,3.4 q0,1.6 -0.6,2.2 v4.2 h-1.4 v-4.2 z M2.4,-5 q1.7,1 1.7,4.6 h-0.5 v5.2 h-1.3 z" fill="#fff"/>
</g>
<g transform="translate(617,562.5)">
<circle r="8" fill="#128fd6"/>
<path d="M-4.2,-5 h0.7 v3 h0.6 v-3 h0.7 v3 h0.6 v-3 h0.7 v3.6 q0,1 -1,1.2 v5 h-1.5 v-5 q-1,-0.2 -1,-1.2 z M-0.6,-5 q1.6,0.8 1.6,3.4 q0,1.6 -0.6,2.2 v4.2 h-1.4 v-4.2 z M2.4,-5 q1.7,1 1.7,4.6 h-0.5 v5.2 h-1.3 z" fill="#fff"/>
</g>
<g transform="translate(523,609) rotate(-90) scale(0.772,1)" class="lb" font-size="7.33" fill="#111">
<text x="0" y="2.64">CHOPS GRILLE</text>
</g>
<g transform="translate(617,609) rotate(-90) scale(0.772,1)" class="lb" font-size="7.33" fill="#111">
<text x="0" y="2.64">JAIME'S ITALIAN</text>
</g>
<path d="M536,555 V600 H541 V645 H507 M602,555 V600 H597 V645 H631 M556,545 q13,-8 26,0 v20 q-13,12 -26,0 z" fill="none" stroke="#c2c2c2" stroke-width="0.5"/>
<path d="M541,645 V668 M597,645 V668" fill="none" stroke="#c2c2c2" stroke-width="0.5"/>
<path d="M565,625 q4,-5 8,0 L586,680 h-3 L569,632 L555,680 h-3 Z" fill="none" stroke="#d5d5d5" stroke-width="0.5"/>
<path d="M531,690 h18 l4,-8 h32 l4,8 h18 v18 h-76 z M531,720 h10 v10 l20,4 v-8 h16 v8 l20,-4 v-10 h10 v14 l-26,12 h-24 l-26,-12 z" fill="none" stroke="#d5d5d5" stroke-width="0.5"/>
<rect x="560" y="745" width="18" height="4" rx="2" fill="none" stroke="#d5d5d5" stroke-width="0.5"/>
<rect x="559" y="796" width="20" height="4" rx="2" fill="none" stroke="#d5d5d5" stroke-width="0.5"/>
<path d="M569,756.5 a7.5,7.5 0 1 0 6.5,3.7 l-3.2,1.8 a3.6,3.6 0 1 1 -2.6,-1.9 z" fill="#e5d098"/>
<g transform="translate(569,784) rotate(0) scale(0.772,1)" class="lb" font-size="7.77" fill="#111">
<text x="0" y="2.8">WINDJAMMER</text>
</g>
<g transform="translate(569.5,812)">
<circle r="8" fill="#128fd6"/>
<path d="M-4.2,-5 h0.7 v3 h0.6 v-3 h0.7 v3 h0.6 v-3 h0.7 v3.6 q0,1 -1,1.2 v5 h-1.5 v-5 q-1,-0.2 -1,-1.2 z M-0.6,-5 q1.6,0.8 1.6,3.4 q0,1.6 -0.6,2.2 v4.2 h-1.4 v-4.2 z M2.4,-5 q1.7,1 1.7,4.6 h-0.5 v5.2 h-1.3 z" fill="#fff"/>
</g>
<text x="575.5" y="871" class="dk">DECK 11</text>
<path d="M673.2,460 V37.3 L661.2,34.8 V23.7 L692,18 C705,5 722,-1.5 740,-1.5 C758,-1.5 775,5 788,18 L818.6,23.7 V34.8 L806.4,37.3 V460 C807,475 814,485 814,497.5 C814,520 808,535 806.5,550 V762 C806.5,800 772,826 740,826 C708,826 673,800 673,762 V550 C672,535 665.5,520 665.5,497.5 C665.5,485 672.5,475 673.2,460" fill="none" stroke="#686868" stroke-width="0.9"/>
<path d="M676,96 V460 M804,96 V460 M676,96 H804 M676,96 V39.5 L664,36.5 V26 L693,20.5 C706,8 723,1.5 740,1.5 C757,1.5 774,8 787,20.5 L816,26 V36.5 L804,39.5 V96" fill="none" stroke="#c2c2c2" stroke-width="0.5"/>
<line x1="672.5" y1="105" x2="679" y2="105" stroke="#c2c2c2" stroke-width="0.4"/>
<line x1="801" y1="105" x2="807.5" y2="105" stroke="#c2c2c2" stroke-width="0.4"/>
<line x1="672.5" y1="122.5" x2="679" y2="122.5" stroke="#c2c2c2" stroke-width="0.4"/>
<line x1="801" y1="122.5" x2="807.5" y2="122.5" stroke="#c2c2c2" stroke-width="0.4"/>
<line x1="672.5" y1="140" x2="679" y2="140" stroke="#c2c2c2" stroke-width="0.4"/>
<line x1="801" y1="140" x2="807.5" y2="140" stroke="#c2c2c2" stroke-width="0.4"/>
<line x1="672.5" y1="157.5" x2="679" y2="157.5" stroke="#c2c2c2" stroke-width="0.4"/>
<line x1="801" y1="157.5" x2="807.5" y2="157.5" stroke="#c2c2c2" stroke-width="0.4"/>
<line x1="672.5" y1="175" x2="679" y2="175" stroke="#c2c2c2" stroke-width="0.4"/>
<line x1="801" y1="175" x2="807.5" y2="175" stroke="#c2c2c2" stroke-width="0.4"/>
<line x1="672.5" y1="192.5" x2="679" y2="192.5" stroke="#c2c2c2" stroke-width="0.4"/>
<line x1="801" y1="192.5" x2="807.5" y2="192.5" stroke="#c2c2c2" stroke-width="0.4"/>
<line x1="672.5" y1="210" x2="679" y2="210" stroke="#c2c2c2" stroke-width="0.4"/>
<line x1="801" y1="210" x2="807.5" y2="210" stroke="#c2c2c2" stroke-width="0.4"/>
<line x1="672.5" y1="227.5" x2="679" y2="227.5" stroke="#c2c2c2" stroke-width="0.4"/>
<line x1="801" y1="227.5" x2="807.5" y2="227.5" stroke="#c2c2c2" stroke-width="0.4"/>
<line x1="672.5" y1="245" x2="679" y2="245" stroke="#c2c2c2" stroke-width="0.4"/>
<line x1="801" y1="245" x2="807.5" y2="245" stroke="#c2c2c2" stroke-width="0.4"/>
<line x1="672.5" y1="262.5" x2="679" y2="262.5" stroke="#c2c2c2" stroke-width="0.4"/>
<line x1="801" y1="262.5" x2="807.5" y2="262.5" stroke="#c2c2c2" stroke-width="0.4"/>
<line x1="672.5" y1="280" x2="679" y2="280" stroke="#c2c2c2" stroke-width="0.4"/>
<line x1="801" y1="280" x2="807.5" y2="280" stroke="#c2c2c2" stroke-width="0.4"/>
<line x1="672.5" y1="297.5" x2="679" y2="297.5" stroke="#c2c2c2" stroke-width="0.4"/>
<line x1="801" y1="297.5" x2="807.5" y2="297.5" stroke="#c2c2c2" stroke-width="0.4"/>
<line x1="672.5" y1="315" x2="679" y2="315" stroke="#c2c2c2" stroke-width="0.4"/>
<line x1="801" y1="315" x2="807.5" y2="315" stroke="#c2c2c2" stroke-width="0.4"/>
<line x1="672.5" y1="332.5" x2="679" y2="332.5" stroke="#c2c2c2" stroke-width="0.4"/>
<line x1="801" y1="332.5" x2="807.5" y2="332.5" stroke="#c2c2c2" stroke-width="0.4"/>
<line x1="672.5" y1="350" x2="679" y2="350" stroke="#c2c2c2" stroke-width="0.4"/>
<line x1="801" y1="350" x2="807.5" y2="350" stroke="#c2c2c2" stroke-width="0.4"/>
<line x1="672.5" y1="367.5" x2="679" y2="367.5" stroke="#c2c2c2" stroke-width="0.4"/>
<line x1="801" y1="367.5" x2="807.5" y2="367.5" stroke="#c2c2c2" stroke-width="0.4"/>
<line x1="672.5" y1="385" x2="679" y2="385" stroke="#c2c2c2" stroke-width="0.4"/>
<line x1="801" y1="385" x2="807.5" y2="385" stroke="#c2c2c2" stroke-width="0.4"/>
<line x1="672.5" y1="402.5" x2="679" y2="402.5" stroke="#c2c2c2" stroke-width="0.4"/>
<line x1="801" y1="402.5" x2="807.5" y2="402.5" stroke="#c2c2c2" stroke-width="0.4"/>
<line x1="672.5" y1="420" x2="679" y2="420" stroke="#c2c2c2" stroke-width="0.4"/>
<line x1="801" y1="420" x2="807.5" y2="420" stroke="#c2c2c2" stroke-width="0.4"/>
<line x1="672.5" y1="437.5" x2="679" y2="437.5" stroke="#c2c2c2" stroke-width="0.4"/>
<line x1="801" y1="437.5" x2="807.5" y2="437.5" stroke="#c2c2c2" stroke-width="0.4"/>
<rect x="679" y="96" width="24" height="26.5" fill="#a6d6ef"/>
<text x="691" y="102.33" class="cb" font-size="5.319999999999999" fill="#1c1c1c" stroke="#1c1c1c">1530</text>
<text x="691" y="111.17" class="cb" font-size="5.319999999999999" fill="#1c1c1c" stroke="#1c1c1c">1532</text>
<text x="691" y="120" class="cb" font-size="5.319999999999999" fill="#1c1c1c" stroke="#1c1c1c">1534*</text>
<rect x="679" y="122.5" width="22.5" height="19.5" fill="#7563c1"/>
<text x="690.25" y="129.29" class="cb" font-size="5.319999999999999" fill="#1c1c1c" stroke="#1c1c1c">1536</text>
<text x="690.25" y="139.04" class="cb" font-size="5.319999999999999" fill="#1c1c1c" stroke="#1c1c1c">1538</text>
<rect x="679" y="142.5" width="24" height="26" fill="#5b2d86"/>
<text x="691" y="150.92" class="cb" font-size="5.319999999999999" fill="#fff" stroke="#fff">1540 Δ</text>
<line x1="679" y1="155.5" x2="703" y2="155.5" stroke="rgba(255,255,255,0.35)" stroke-width="0.4"/>
<text x="691" y="163.92" class="cb" font-size="5.319999999999999" fill="#fff" stroke="#fff">1544 Δ</text>
<rect x="679" y="169" width="24" height="110" fill="#dc1a4b"/>
<text x="691" y="180.08" class="cb" font-size="5.319999999999999" fill="#fff" stroke="#fff">1548 *</text>
<line x1="679" y1="187.33" x2="703" y2="187.33" stroke="rgba(255,255,255,0.35)" stroke-width="0.4"/>
<text x="691" y="198.42" class="cb" font-size="5.319999999999999" fill="#fff" stroke="#fff">1552 *</text>
<line x1="679" y1="205.67" x2="703" y2="205.67" stroke="rgba(255,255,255,0.35)" stroke-width="0.4"/>
<text x="691" y="216.75" class="cb" font-size="5.319999999999999" fill="#fff" stroke="#fff">1556 *</text>
<line x1="679" y1="224" x2="703" y2="224" stroke="rgba(255,255,255,0.35)" stroke-width="0.4"/>
<text x="691" y="235.08" class="cb" font-size="5.319999999999999" fill="#fff" stroke="#fff">1560 *</text>
<line x1="679" y1="242.33" x2="703" y2="242.33" stroke="rgba(255,255,255,0.35)" stroke-width="0.4"/>
<text x="691" y="253.42" class="cb" font-size="5.319999999999999" fill="#fff" stroke="#fff">1564 *</text>
<line x1="679" y1="260.67" x2="703" y2="260.67" stroke="rgba(255,255,255,0.35)" stroke-width="0.4"/>
<text x="691" y="271.75" class="cb" font-size="5.319999999999999" fill="#fff" stroke="#fff">1568 *</text>
<rect x="679" y="279" width="24" height="9" fill="#ea6b80"/>
<text x="691" y="285.42" class="cb" font-size="5.319999999999999" fill="#1c1c1c" stroke="#1c1c1c">1570 Δ</text>
<rect x="679" y="288" width="24" height="71.5" fill="#dc1a4b"/>
<text x="691" y="298.85" class="cb" font-size="5.319999999999999" fill="#fff" stroke="#fff">1574 *</text>
<line x1="679" y1="305.88" x2="703" y2="305.88" stroke="rgba(255,255,255,0.35)" stroke-width="0.4"/>
<text x="691" y="316.73" class="cb" font-size="5.319999999999999" fill="#fff" stroke="#fff">1578 *</text>
<line x1="679" y1="323.75" x2="703" y2="323.75" stroke="rgba(255,255,255,0.35)" stroke-width="0.4"/>
<text x="691" y="334.6" class="cb" font-size="5.319999999999999" fill="#fff" stroke="#fff">1582 *</text>
<line x1="679" y1="341.62" x2="703" y2="341.62" stroke="rgba(255,255,255,0.35)" stroke-width="0.4"/>
<text x="691" y="352.48" class="cb" font-size="5.319999999999999" fill="#fff" stroke="#fff">1586 *</text>
<rect x="679" y="359.5" width="24" height="9.5" fill="#ea6b80"/>
<text x="691" y="366.17" class="cb" font-size="5.319999999999999" fill="#1c1c1c" stroke="#1c1c1c">1588 Δ</text>
<rect x="679" y="369" width="24" height="27" fill="#5b2d86"/>
<text x="691" y="377.67" class="cb" font-size="5.319999999999999" fill="#fff" stroke="#fff">1590 Δ</text>
<line x1="679" y1="382.5" x2="703" y2="382.5" stroke="rgba(255,255,255,0.35)" stroke-width="0.4"/>
<text x="691" y="391.17" class="cb" font-size="5.319999999999999" fill="#fff" stroke="#fff">1594 Δ</text>
<rect x="679" y="396" width="24" height="18.5" fill="#dc1a4b"/>
<text x="691" y="407.17" class="cb" font-size="5.319999999999999" fill="#fff" stroke="#fff">1598 *</text>
<rect x="679" y="414.5" width="24" height="27.5" fill="#b5ad2c"/>
<text x="691" y="430.17" class="cb" font-size="5.319999999999999" fill="#fff" stroke="#fff">1600 *</text>
<rect x="679" y="442" width="24" height="18" fill="#5b2d86"/>
<g transform="translate(691,447.4) scale(1.0)" fill="none" stroke="#fff" stroke-width="0.7"><circle cx="-0.4" cy="-2.6" r="0.6" fill="#fff" stroke="none"/><path d="M-0.4,-1.8 V0.4 H1.4 L2.2,2.4 M-0.4,-0.8 H1.2"/><path d="M-1.2,-0.2 A2,2 0 1 0 1.6,2.2"/></g>
<text x="691" y="455.52" class="cb" font-size="5.319999999999999" fill="#fff" stroke="#fff">1608 *</text>
<rect x="679" y="460" width="24" height="9" fill="#ea6b80"/>
<text x="691" y="466.42" class="cb" font-size="5.319999999999999" fill="#1c1c1c" stroke="#1c1c1c">1610 Δ</text>
<rect x="776" y="96" width="25" height="26.5" fill="#a6d6ef"/>
<text x="788.5" y="102.33" class="cb" font-size="5.319999999999999" fill="#1c1c1c" stroke="#1c1c1c">1230</text>
<text x="788.5" y="111.17" class="cb" font-size="5.319999999999999" fill="#1c1c1c" stroke="#1c1c1c">1232</text>
<text x="788.5" y="120" class="cb" font-size="5.319999999999999" fill="#1c1c1c" stroke="#1c1c1c">1234</text>
<rect x="776" y="123" width="25" height="19" fill="#f5c462"/>
<text x="788.5" y="129.67" class="cb" font-size="5.319999999999999" fill="#1c1c1c" stroke="#1c1c1c">1236</text>
<text x="788.5" y="139.17" class="cb" font-size="5.319999999999999" fill="#1c1c1c" stroke="#1c1c1c">1238</text>
<rect x="776" y="142.5" width="25" height="26" fill="#5b2d86"/>
<text x="788.5" y="150.92" class="cb" font-size="5.319999999999999" fill="#fff" stroke="#fff">1240 Δ</text>
<line x1="776" y1="155.5" x2="801" y2="155.5" stroke="rgba(255,255,255,0.35)" stroke-width="0.4"/>
<text x="788.5" y="163.92" class="cb" font-size="5.319999999999999" fill="#fff" stroke="#fff">1244 Δ</text>
<rect x="776" y="169" width="25" height="110" fill="#dc1a4b"/>
<text x="788.5" y="180.08" class="cb" font-size="5.319999999999999" fill="#fff" stroke="#fff">1248 *</text>
<line x1="776" y1="187.33" x2="801" y2="187.33" stroke="rgba(255,255,255,0.35)" stroke-width="0.4"/>
<text x="788.5" y="198.42" class="cb" font-size="5.319999999999999" fill="#fff" stroke="#fff">1252 *</text>
<line x1="776" y1="205.67" x2="801" y2="205.67" stroke="rgba(255,255,255,0.35)" stroke-width="0.4"/>
<text x="788.5" y="216.75" class="cb" font-size="5.319999999999999" fill="#fff" stroke="#fff">1256 *</text>
<line x1="776" y1="224" x2="801" y2="224" stroke="rgba(255,255,255,0.35)" stroke-width="0.4"/>
<text x="788.5" y="235.08" class="cb" font-size="5.319999999999999" fill="#fff" stroke="#fff">1260 *</text>
<line x1="776" y1="242.33" x2="801" y2="242.33" stroke="rgba(255,255,255,0.35)" stroke-width="0.4"/>
<text x="788.5" y="253.42" class="cb" font-size="5.319999999999999" fill="#fff" stroke="#fff">1264 *</text>
<line x1="776" y1="260.67" x2="801" y2="260.67" stroke="rgba(255,255,255,0.35)" stroke-width="0.4"/>
<text x="788.5" y="271.75" class="cb" font-size="5.319999999999999" fill="#fff" stroke="#fff">1268 *</text>
<rect x="776" y="279" width="25" height="9" fill="#ea6b80"/>
<text x="788.5" y="285.42" class="cb" font-size="5.319999999999999" fill="#1c1c1c" stroke="#1c1c1c">1270 Δ</text>
<rect x="776" y="288" width="25" height="71.5" fill="#dc1a4b"/>
<text x="788.5" y="298.85" class="cb" font-size="5.319999999999999" fill="#fff" stroke="#fff">1274 *</text>
<line x1="776" y1="305.88" x2="801" y2="305.88" stroke="rgba(255,255,255,0.35)" stroke-width="0.4"/>
<text x="788.5" y="316.73" class="cb" font-size="5.319999999999999" fill="#fff" stroke="#fff">1278 *</text>
<line x1="776" y1="323.75" x2="801" y2="323.75" stroke="rgba(255,255,255,0.35)" stroke-width="0.4"/>
<text x="788.5" y="334.6" class="cb" font-size="5.319999999999999" fill="#fff" stroke="#fff">1282 *</text>
<line x1="776" y1="341.62" x2="801" y2="341.62" stroke="rgba(255,255,255,0.35)" stroke-width="0.4"/>
<text x="788.5" y="352.48" class="cb" font-size="5.319999999999999" fill="#fff" stroke="#fff">1286 *</text>
<rect x="776" y="359.5" width="25" height="9.5" fill="#ea6b80"/>
<text x="788.5" y="366.17" class="cb" font-size="5.319999999999999" fill="#1c1c1c" stroke="#1c1c1c">1288 Δ</text>
<rect x="776" y="369" width="25" height="27" fill="#5b2d86"/>
<text x="788.5" y="377.67" class="cb" font-size="5.319999999999999" fill="#fff" stroke="#fff">1290 *</text>
<line x1="776" y1="382.5" x2="801" y2="382.5" stroke="rgba(255,255,255,0.35)" stroke-width="0.4"/>
<text x="788.5" y="391.17" class="cb" font-size="5.319999999999999" fill="#fff" stroke="#fff">1294 *</text>
<rect x="776" y="396" width="25" height="18.5" fill="#dc1a4b"/>
<text x="788.5" y="407.17" class="cb" font-size="5.319999999999999" fill="#fff" stroke="#fff">1298 *</text>
<rect x="776" y="414.5" width="25" height="27.5" fill="#b5ad2c"/>
<text x="788.5" y="430.17" class="cb" font-size="5.319999999999999" fill="#fff" stroke="#fff">1300 *</text>
<rect x="776" y="442" width="25" height="18" fill="#5b2d86"/>
<g transform="translate(788.5,447.4) scale(1.0)" fill="none" stroke="#fff" stroke-width="0.7"><circle cx="-0.4" cy="-2.6" r="0.6" fill="#fff" stroke="none"/><path d="M-0.4,-1.8 V0.4 H1.4 L2.2,2.4 M-0.4,-0.8 H1.2"/><path d="M-1.2,-0.2 A2,2 0 1 0 1.6,2.2"/></g>
<text x="788.5" y="455.52" class="cb" font-size="5.319999999999999" fill="#fff" stroke="#fff">1308 *</text>
<rect x="776" y="460" width="25" height="9" fill="#ea6b80"/>
<text x="788.5" y="466.42" class="cb" font-size="5.319999999999999" fill="#1c1c1c" stroke="#1c1c1c">1310 Δ</text>
<path d="M775,127.25 l2,2.6 h-1.3 v4.3 h1.3 l-2,2.6 l-2,-2.6 h1.3 v-4.3 h-1.3 z" fill="#111"/>
<path d="M704.5,278.75 l2,2.6 h-1.3 v4.3 h1.3 l-2,2.6 l-2,-2.6 h1.3 v-4.3 h-1.3 z" fill="#111"/>
<path d="M775,278.75 l2,2.6 h-1.3 v4.3 h1.3 l-2,2.6 l-2,-2.6 h1.3 v-4.3 h-1.3 z" fill="#111"/>
<path d="M704.5,359.25 l2,2.6 h-1.3 v4.3 h1.3 l-2,2.6 l-2,-2.6 h1.3 v-4.3 h-1.3 z" fill="#111"/>
<path d="M775,359.25 l2,2.6 h-1.3 v4.3 h1.3 l-2,2.6 l-2,-2.6 h1.3 v-4.3 h-1.3 z" fill="#111"/>
<path d="M704.5,450.75 l2,2.6 h-1.3 v4.3 h1.3 l-2,2.6 l-2,-2.6 h1.3 v-4.3 h-1.3 z" fill="#111"/>
<path d="M775,450.75 l2,2.6 h-1.3 v4.3 h1.3 l-2,2.6 l-2,-2.6 h1.3 v-4.3 h-1.3 z" fill="#111"/>
<path d="M703.5,118.25 l2,2.6 h-1.3 v4.3 h1.3 l-2,2.6 l-2,-2.6 h1.3 v-4.3 h-1.3 z" fill="#111"/>
<path d="M706,96 V460 M774,96 V460 M709,296 V196 M727,296 V196 M754.5,296 V196 M772,296 V196 M726.5,196 V460 M754,196 V460 M708,442 V574 M772,442 V574" fill="none" stroke="#c2c2c2" stroke-width="0.5"/>
<rect x="709.5" y="100" width="17.5" height="22.5" fill="#6b8b9d"/>
<text x="718" y="106.28" class="cb" font-size="4.9399999999999995" fill="#1c1c1c" stroke="#1c1c1c">1531</text>
<g transform="translate(718,111.5) scale(1.0)" fill="none" stroke="#1c1c1c" stroke-width="0.7"><circle cx="-0.4" cy="-2.6" r="0.6" fill="#1c1c1c" stroke="none"/><path d="M-0.4,-1.8 V0.4 H1.4 L2.2,2.4 M-0.4,-0.8 H1.2"/><path d="M-1.2,-0.2 A2,2 0 1 0 1.6,2.2"/></g>
<text x="718" y="120.28" class="cb" font-size="4.9399999999999995" fill="#1c1c1c" stroke="#1c1c1c">1535</text>
<rect x="754" y="101" width="17" height="9" fill="#d5ab98"/>
<text x="762.5" y="107.28" class="cb" font-size="4.9399999999999995" fill="#1c1c1c" stroke="#1c1c1c">1233</text>
<rect x="754" y="111" width="17" height="8" fill="#6b8b9d"/>
<text x="762.5" y="116.78" class="cb" font-size="4.9399999999999995" fill="#1c1c1c" stroke="#1c1c1c">1235</text>
<rect x="709" y="142.5" width="15.5" height="12.5" fill="#e5d098"/>
<line x1="712.88" y1="142.5" x2="712.88" y2="155" stroke="#c9b278" stroke-width="0.3"/>
<line x1="716.75" y1="142.5" x2="716.75" y2="155" stroke="#c9b278" stroke-width="0.3"/>
<line x1="720.62" y1="142.5" x2="720.62" y2="155" stroke="#c9b278" stroke-width="0.3"/>
<line x1="709" y1="148.75" x2="724.5" y2="148.75" stroke="#c9b278" stroke-width="0.3"/>
<rect x="755" y="142.5" width="16" height="12.5" fill="#e5d098"/>
<line x1="759" y1="142.5" x2="759" y2="155" stroke="#c9b278" stroke-width="0.3"/>
<line x1="763" y1="142.5" x2="763" y2="155" stroke="#c9b278" stroke-width="0.3"/>
<line x1="767" y1="142.5" x2="767" y2="155" stroke="#c9b278" stroke-width="0.3"/>
<line x1="755" y1="148.75" x2="771" y2="148.75" stroke="#c9b278" stroke-width="0.3"/>
<path d="M731,143 H749 V155 H746 V152 H734 V155 H731 Z" fill="none" stroke="#c2c2c2" stroke-width="0.5"/>
<rect x="708" y="172.5" width="7.5" height="21.5" fill="#fff" stroke="#c2c2c2" stroke-width="0.5"/>
<g transform="translate(711.95,183.25) rotate(-90) scale(0.8106,1)" class="lb" font-size="6.55" fill="#111">
<text x="0" y="2.36">ELEV.</text>
</g>
<rect x="765" y="172.5" width="7.5" height="21.5" fill="#fff" stroke="#c2c2c2" stroke-width="0.5"/>
<g transform="translate(768.95,183.25) rotate(-90) scale(0.8106,1)" class="lb" font-size="6.55" fill="#111">
<text x="0" y="2.36">ELEV.</text>
</g>
<path d="M725,172 h6 l2,-3 h14 l2,3 h6 v18 q-15,12 -30,0 z M731,175 v8 h18 v-8" fill="none" stroke="#c2c2c2" stroke-width="0.5"/>
<rect x="709" y="196" width="18" height="54.5" fill="#c1e7e9"/>
<text x="718" y="202.46" class="cb" font-size="5.319999999999999" fill="#1c1c1c" stroke="#1c1c1c">1553*</text>
<text x="718" y="211.54" class="cb" font-size="5.319999999999999" fill="#1c1c1c" stroke="#1c1c1c">1555*</text>
<text x="718" y="220.62" class="cb" font-size="5.319999999999999" fill="#1c1c1c" stroke="#1c1c1c">1557*</text>
<text x="718" y="229.71" class="cb" font-size="5.319999999999999" fill="#1c1c1c" stroke="#1c1c1c">1559*</text>
<text x="718" y="238.79" class="cb" font-size="5.319999999999999" fill="#1c1c1c" stroke="#1c1c1c">1561*</text>
<text x="718" y="247.87" class="cb" font-size="5.319999999999999" fill="#1c1c1c" stroke="#1c1c1c">1563*</text>
<rect x="754.5" y="196" width="17.5" height="27" fill="#c1e7e9"/>
<text x="763.25" y="202.42" class="cb" font-size="5.319999999999999" fill="#1c1c1c" stroke="#1c1c1c">1253*</text>
<text x="763.25" y="211.42" class="cb" font-size="5.319999999999999" fill="#1c1c1c" stroke="#1c1c1c">1255*</text>
<text x="763.25" y="220.42" class="cb" font-size="5.319999999999999" fill="#1c1c1c" stroke="#1c1c1c">1257*</text>
<rect x="709" y="296" width="17" height="71.5" fill="#8db6e2"/>
<text x="717.5" y="302.38" class="cb" font-size="5.319999999999999" fill="#1c1c1c" stroke="#1c1c1c">1575</text>
<text x="717.5" y="311.32" class="cb" font-size="5.319999999999999" fill="#1c1c1c" stroke="#1c1c1c">1577</text>
<text x="717.5" y="320.26" class="cb" font-size="5.319999999999999" fill="#1c1c1c" stroke="#1c1c1c">1579</text>
<text x="717.5" y="329.2" class="cb" font-size="5.319999999999999" fill="#1c1c1c" stroke="#1c1c1c">1581</text>
<text x="717.5" y="338.13" class="cb" font-size="5.319999999999999" fill="#1c1c1c" stroke="#1c1c1c">1583</text>
<text x="717.5" y="347.07" class="cb" font-size="5.319999999999999" fill="#1c1c1c" stroke="#1c1c1c">1585</text>
<text x="717.5" y="356.01" class="cb" font-size="5.319999999999999" fill="#1c1c1c" stroke="#1c1c1c">1587</text>
<text x="717.5" y="364.95" class="cb" font-size="5.319999999999999" fill="#1c1c1c" stroke="#1c1c1c">1589</text>
<rect x="754" y="296" width="17" height="71.5" fill="#8db6e2"/>
<text x="762.5" y="302.38" class="cb" font-size="5.319999999999999" fill="#1c1c1c" stroke="#1c1c1c">1275</text>
<text x="762.5" y="311.32" class="cb" font-size="5.319999999999999" fill="#1c1c1c" stroke="#1c1c1c">1277</text>
<text x="762.5" y="320.26" class="cb" font-size="5.319999999999999" fill="#1c1c1c" stroke="#1c1c1c">1279</text>
<text x="762.5" y="329.2" class="cb" font-size="5.319999999999999" fill="#1c1c1c" stroke="#1c1c1c">1281</text>
<text x="762.5" y="338.13" class="cb" font-size="5.319999999999999" fill="#1c1c1c" stroke="#1c1c1c">1283</text>
<text x="762.5" y="347.07" class="cb" font-size="5.319999999999999" fill="#1c1c1c" stroke="#1c1c1c">1285</text>
<text x="762.5" y="356.01" class="cb" font-size="5.319999999999999" fill="#1c1c1c" stroke="#1c1c1c">1287</text>
<text x="762.5" y="364.95" class="cb" font-size="5.319999999999999" fill="#1c1c1c" stroke="#1c1c1c">1289</text>
<rect x="709" y="415" width="17" height="27" fill="#8db6e2"/>
<text x="717.5" y="421.42" class="cb" font-size="5.319999999999999" fill="#1c1c1c" stroke="#1c1c1c">1601</text>
<text x="717.5" y="430.42" class="cb" font-size="5.319999999999999" fill="#1c1c1c" stroke="#1c1c1c">1603</text>
<text x="717.5" y="439.42" class="cb" font-size="5.319999999999999" fill="#1c1c1c" stroke="#1c1c1c">1605</text>
<rect x="754" y="415" width="17" height="27" fill="#8db6e2"/>
<g transform="translate(762.5,418.5) scale(1.0)" fill="none" stroke="#1c1c1c" stroke-width="0.7"><circle cx="-0.4" cy="-2.6" r="0.6" fill="#1c1c1c" stroke="none"/><path d="M-0.4,-1.8 V0.4 H1.4 L2.2,2.4 M-0.4,-0.8 H1.2"/><path d="M-1.2,-0.2 A2,2 0 1 0 1.6,2.2"/></g>
<text x="762.5" y="426.28" class="cb" font-size="4.9399999999999995" fill="#1c1c1c" stroke="#1c1c1c">1301</text>
<g transform="translate(762.5,431) scale(1.0)" fill="none" stroke="#1c1c1c" stroke-width="0.7"><circle cx="-0.4" cy="-2.6" r="0.6" fill="#1c1c1c" stroke="none"/><path d="M-0.4,-1.8 V0.4 H1.4 L2.2,2.4 M-0.4,-0.8 H1.2"/><path d="M-1.2,-0.2 A2,2 0 1 0 1.6,2.2"/></g>
<text x="762.5" y="439.28" class="cb" font-size="4.9399999999999995" fill="#1c1c1c" stroke="#1c1c1c">1305</text>
<polygon points="668.4,469 701.4,469 699,521.5 673.2,521.5 673.2,498.7 677.8,495.6 677.8,487.3 667.6,487.3 667.8,478" fill="#4b5cc4"/>
<text x="688" y="484.85" class="cb" font-size="5.13" fill="#fff" stroke="#fff">1620 *</text>
<path d="M673.2,522.2 H699 V549.6 H702.9 V577.7 H679.3 V549.6 Q675,535 673.2,522.2 Z" fill="#b5ad2c" stroke="none" stroke-width="0"/>
<text x="685" y="531.35" class="cb" font-size="5.13" fill="#fff" stroke="#fff">1628 *</text>
<text x="690" y="565.35" class="cb" font-size="5.13" fill="#fff" stroke="#fff">1630 *</text>
<path d="M782,469 H801.7 Q807.5,485 807.8,497 Q807.8,520 801,549.6 V577.7 H777.4 V549.6 H780.5 V522 H782 Z" fill="#b5ad2c" stroke="none" stroke-width="0"/>
<line x1="782" y1="496" x2="807.8" y2="496" stroke="rgba(255,255,255,0.35)" stroke-width="0.4"/>
<line x1="780.5" y1="522" x2="806" y2="522" stroke="rgba(255,255,255,0.35)" stroke-width="0.4"/>
<text x="793" y="487.85" class="cb" font-size="5.13" fill="#fff" stroke="#fff">1314 *</text>
<text x="793" y="510.85" class="cb" font-size="5.13" fill="#fff" stroke="#fff">1320 *</text>
<text x="791" y="531.35" class="cb" font-size="5.13" fill="#fff" stroke="#fff">1328 *</text>
<text x="789" y="564.85" class="cb" font-size="5.13" fill="#fff" stroke="#fff">1330 *</text>
<rect x="704" y="480" width="8" height="22.5" fill="#fff" stroke="#c2c2c2" stroke-width="0.5"/>
<g transform="translate(708.2,491.25) rotate(-90) scale(0.8106,1)" class="lb" font-size="6.55" fill="#111">
<text x="0" y="2.36">ELEV.</text>
</g>
<rect x="767" y="480" width="7.5" height="22.5" fill="#fff" stroke="#c2c2c2" stroke-width="0.5"/>
<g transform="translate(770.95,491.25) rotate(-90) scale(0.8106,1)" class="lb" font-size="6.55" fill="#111">
<text x="0" y="2.36">ELEV.</text>
</g>
<path d="M722,503 V482 h6 q12,-14 24,0 h6 V503 Z M728,490 h24 M740,482 v21 M728,482 v21 M752,482 v21" fill="none" stroke="#c2c2c2" stroke-width="0.5"/>
<rect x="707.5" y="518" width="16.5" height="13" fill="#e5d098"/>
<line x1="711.62" y1="518" x2="711.62" y2="531" stroke="#c9b278" stroke-width="0.3"/>
<line x1="715.75" y1="518" x2="715.75" y2="531" stroke="#c9b278" stroke-width="0.3"/>
<line x1="719.88" y1="518" x2="719.88" y2="531" stroke="#c9b278" stroke-width="0.3"/>
<line x1="707.5" y1="524.5" x2="724" y2="524.5" stroke="#c9b278" stroke-width="0.3"/>
<rect x="757" y="518" width="15.5" height="13" fill="#e5d098"/>
<line x1="760.88" y1="518" x2="760.88" y2="531" stroke="#c9b278" stroke-width="0.3"/>
<line x1="764.75" y1="518" x2="764.75" y2="531" stroke="#c9b278" stroke-width="0.3"/>
<line x1="768.62" y1="518" x2="768.62" y2="531" stroke="#c9b278" stroke-width="0.3"/>
<line x1="757" y1="524.5" x2="772.5" y2="524.5" stroke="#c9b278" stroke-width="0.3"/>
<path d="M707.5,531 H772.5 M727,531 V574 M753,531 V574" fill="none" stroke="#c2c2c2" stroke-width="0.5"/>
<rect x="679" y="579" width="23.5" height="107" fill="#5b2d86"/>
<text x="690.75" y="587.6" class="cb" font-size="5.319999999999999" fill="#fff" stroke="#fff">1636 Δ</text>
<line x1="679" y1="592.38" x2="702.5" y2="592.38" stroke="rgba(255,255,255,0.35)" stroke-width="0.4"/>
<text x="690.75" y="600.98" class="cb" font-size="5.319999999999999" fill="#fff" stroke="#fff">1640 Δ</text>
<line x1="679" y1="605.75" x2="702.5" y2="605.75" stroke="rgba(255,255,255,0.35)" stroke-width="0.4"/>
<text x="690.75" y="614.35" class="cb" font-size="5.319999999999999" fill="#fff" stroke="#fff">1644 Δ</text>
<line x1="679" y1="619.12" x2="702.5" y2="619.12" stroke="rgba(255,255,255,0.35)" stroke-width="0.4"/>
<text x="690.75" y="627.73" class="cb" font-size="5.319999999999999" fill="#fff" stroke="#fff">1646 Δ</text>
<line x1="679" y1="632.5" x2="702.5" y2="632.5" stroke="rgba(255,255,255,0.35)" stroke-width="0.4"/>
<text x="690.75" y="641.1" class="cb" font-size="5.319999999999999" fill="#fff" stroke="#fff">1650 Δ</text>
<line x1="679" y1="645.88" x2="702.5" y2="645.88" stroke="rgba(255,255,255,0.35)" stroke-width="0.4"/>
<text x="690.75" y="654.48" class="cb" font-size="5.319999999999999" fill="#fff" stroke="#fff">1652 Δ</text>
<line x1="679" y1="659.25" x2="702.5" y2="659.25" stroke="rgba(255,255,255,0.35)" stroke-width="0.4"/>
<text x="690.75" y="667.85" class="cb" font-size="5.319999999999999" fill="#fff" stroke="#fff">1654 Δ</text>
<line x1="679" y1="672.62" x2="702.5" y2="672.62" stroke="rgba(255,255,255,0.35)" stroke-width="0.4"/>
<text x="690.75" y="681.23" class="cb" font-size="5.319999999999999" fill="#fff" stroke="#fff">1658 Δ</text>
<rect x="777.5" y="579" width="23.5" height="107" fill="#5b2d86"/>
<text x="789.25" y="587.6" class="cb" font-size="5.319999999999999" fill="#fff" stroke="#fff">1336 Δ</text>
<line x1="777.5" y1="592.38" x2="801" y2="592.38" stroke="rgba(255,255,255,0.35)" stroke-width="0.4"/>
<text x="789.25" y="600.98" class="cb" font-size="5.319999999999999" fill="#fff" stroke="#fff">1340 Δ</text>
<line x1="777.5" y1="605.75" x2="801" y2="605.75" stroke="rgba(255,255,255,0.35)" stroke-width="0.4"/>
<text x="789.25" y="614.35" class="cb" font-size="5.319999999999999" fill="#fff" stroke="#fff">1344 Δ</text>
<line x1="777.5" y1="619.12" x2="801" y2="619.12" stroke="rgba(255,255,255,0.35)" stroke-width="0.4"/>
<text x="789.25" y="627.73" class="cb" font-size="5.319999999999999" fill="#fff" stroke="#fff">1346 Δ</text>
<line x1="777.5" y1="632.5" x2="801" y2="632.5" stroke="rgba(255,255,255,0.35)" stroke-width="0.4"/>
<text x="789.25" y="641.1" class="cb" font-size="5.319999999999999" fill="#fff" stroke="#fff">1350 Δ</text>
<line x1="777.5" y1="645.88" x2="801" y2="645.88" stroke="rgba(255,255,255,0.35)" stroke-width="0.4"/>
<text x="789.25" y="654.48" class="cb" font-size="5.319999999999999" fill="#fff" stroke="#fff">1352 *</text>
<line x1="777.5" y1="659.25" x2="801" y2="659.25" stroke="rgba(255,255,255,0.35)" stroke-width="0.4"/>
<text x="789.25" y="667.85" class="cb" font-size="5.319999999999999" fill="#fff" stroke="#fff">1354 Δ</text>
<line x1="777.5" y1="672.62" x2="801" y2="672.62" stroke="rgba(255,255,255,0.35)" stroke-width="0.4"/>
<text x="789.25" y="681.23" class="cb" font-size="5.319999999999999" fill="#fff" stroke="#fff">1358 *</text>
<path d="M704,640.25 l2,2.6 h-1.3 v4.3 h1.3 l-2,2.6 l-2,-2.6 h1.3 v-4.3 h-1.3 z" fill="#111"/>
<path d="M776,640.25 l2,2.6 h-1.3 v4.3 h1.3 l-2,2.6 l-2,-2.6 h1.3 v-4.3 h-1.3 z" fill="#111"/>
<rect x="709" y="574" width="18" height="102" fill="#6b8b9d"/>
<g transform="translate(718,578.25) scale(1.0)" fill="none" stroke="#1c1c1c" stroke-width="0.7"><circle cx="-0.4" cy="-2.6" r="0.6" fill="#1c1c1c" stroke="none"/><path d="M-0.4,-1.8 V0.4 H1.4 L2.2,2.4 M-0.4,-0.8 H1.2"/><path d="M-1.2,-0.2 A2,2 0 1 0 1.6,2.2"/></g>
<line x1="709" y1="582.5" x2="727" y2="582.5" stroke="rgba(0,0,0,0.13)" stroke-width="0.4"/>
<text x="718" y="588.53" class="cb" font-size="4.9399999999999995" fill="#1c1c1c" stroke="#1c1c1c">1637</text>
<line x1="709" y1="591" x2="727" y2="591" stroke="rgba(0,0,0,0.13)" stroke-width="0.4"/>
<text x="718" y="597.03" class="cb" font-size="4.9399999999999995" fill="#1c1c1c" stroke="#1c1c1c">1639</text>
<line x1="709" y1="599.5" x2="727" y2="599.5" stroke="rgba(0,0,0,0.13)" stroke-width="0.4"/>
<text x="718" y="605.53" class="cb" font-size="4.9399999999999995" fill="#1c1c1c" stroke="#1c1c1c">1641</text>
<line x1="709" y1="608" x2="727" y2="608" stroke="rgba(0,0,0,0.13)" stroke-width="0.4"/>
<text x="718" y="614.03" class="cb" font-size="4.9399999999999995" fill="#1c1c1c" stroke="#1c1c1c">1643</text>
<line x1="709" y1="616.5" x2="727" y2="616.5" stroke="rgba(0,0,0,0.13)" stroke-width="0.4"/>
<text x="718" y="622.53" class="cb" font-size="4.9399999999999995" fill="#1c1c1c" stroke="#1c1c1c">1645</text>
<line x1="709" y1="625" x2="727" y2="625" stroke="rgba(0,0,0,0.13)" stroke-width="0.4"/>
<text x="718" y="631.03" class="cb" font-size="4.9399999999999995" fill="#1c1c1c" stroke="#1c1c1c">1647</text>
<line x1="709" y1="633.5" x2="727" y2="633.5" stroke="rgba(0,0,0,0.13)" stroke-width="0.4"/>
<text x="718" y="639.53" class="cb" font-size="4.9399999999999995" fill="#1c1c1c" stroke="#1c1c1c">1649</text>
<line x1="709" y1="642" x2="727" y2="642" stroke="rgba(0,0,0,0.13)" stroke-width="0.4"/>
<text x="718" y="648.03" class="cb" font-size="4.9399999999999995" fill="#1c1c1c" stroke="#1c1c1c">1651</text>
<line x1="709" y1="650.5" x2="727" y2="650.5" stroke="rgba(0,0,0,0.13)" stroke-width="0.4"/>
<text x="718" y="656.53" class="cb" font-size="4.9399999999999995" fill="#1c1c1c" stroke="#1c1c1c">1653</text>
<line x1="709" y1="659" x2="727" y2="659" stroke="rgba(0,0,0,0.13)" stroke-width="0.4"/>
<text x="718" y="665.03" class="cb" font-size="4.9399999999999995" fill="#1c1c1c" stroke="#1c1c1c">1655</text>
<line x1="709" y1="667.5" x2="727" y2="667.5" stroke="rgba(0,0,0,0.13)" stroke-width="0.4"/>
<text x="718" y="673.53" class="cb" font-size="4.9399999999999995" fill="#1c1c1c" stroke="#1c1c1c">1657</text>
<rect x="754" y="574" width="17" height="102" fill="#6b8b9d"/>
<g transform="translate(762.5,578.25) scale(1.0)" fill="none" stroke="#1c1c1c" stroke-width="0.7"><circle cx="-0.4" cy="-2.6" r="0.6" fill="#1c1c1c" stroke="none"/><path d="M-0.4,-1.8 V0.4 H1.4 L2.2,2.4 M-0.4,-0.8 H1.2"/><path d="M-1.2,-0.2 A2,2 0 1 0 1.6,2.2"/></g>
<line x1="754" y1="582.5" x2="771" y2="582.5" stroke="rgba(0,0,0,0.13)" stroke-width="0.4"/>
<text x="762.5" y="588.53" class="cb" font-size="4.9399999999999995" fill="#1c1c1c" stroke="#1c1c1c">1337</text>
<line x1="754" y1="591" x2="771" y2="591" stroke="rgba(0,0,0,0.13)" stroke-width="0.4"/>
<text x="762.5" y="597.03" class="cb" font-size="4.9399999999999995" fill="#1c1c1c" stroke="#1c1c1c">1339</text>
<line x1="754" y1="599.5" x2="771" y2="599.5" stroke="rgba(0,0,0,0.13)" stroke-width="0.4"/>
<text x="762.5" y="605.53" class="cb" font-size="4.9399999999999995" fill="#1c1c1c" stroke="#1c1c1c">1341</text>
<line x1="754" y1="608" x2="771" y2="608" stroke="rgba(0,0,0,0.13)" stroke-width="0.4"/>
<text x="762.5" y="614.03" class="cb" font-size="4.9399999999999995" fill="#1c1c1c" stroke="#1c1c1c">1343</text>
<line x1="754" y1="616.5" x2="771" y2="616.5" stroke="rgba(0,0,0,0.13)" stroke-width="0.4"/>
<text x="762.5" y="622.53" class="cb" font-size="4.9399999999999995" fill="#1c1c1c" stroke="#1c1c1c">1345</text>
<line x1="754" y1="625" x2="771" y2="625" stroke="rgba(0,0,0,0.13)" stroke-width="0.4"/>
<text x="762.5" y="631.03" class="cb" font-size="4.9399999999999995" fill="#1c1c1c" stroke="#1c1c1c">1347</text>
<line x1="754" y1="633.5" x2="771" y2="633.5" stroke="rgba(0,0,0,0.13)" stroke-width="0.4"/>
<text x="762.5" y="639.53" class="cb" font-size="4.9399999999999995" fill="#1c1c1c" stroke="#1c1c1c">1349</text>
<line x1="754" y1="642" x2="771" y2="642" stroke="rgba(0,0,0,0.13)" stroke-width="0.4"/>
<text x="762.5" y="648.03" class="cb" font-size="4.9399999999999995" fill="#1c1c1c" stroke="#1c1c1c">1351</text>
<line x1="754" y1="650.5" x2="771" y2="650.5" stroke="rgba(0,0,0,0.13)" stroke-width="0.4"/>
<text x="762.5" y="656.53" class="cb" font-size="4.9399999999999995" fill="#1c1c1c" stroke="#1c1c1c">1353</text>
<line x1="754" y1="659" x2="771" y2="659" stroke="rgba(0,0,0,0.13)" stroke-width="0.4"/>
<text x="762.5" y="665.03" class="cb" font-size="4.9399999999999995" fill="#1c1c1c" stroke="#1c1c1c">1355</text>
<line x1="754" y1="667.5" x2="771" y2="667.5" stroke="rgba(0,0,0,0.13)" stroke-width="0.4"/>
<text x="762.5" y="673.53" class="cb" font-size="4.9399999999999995" fill="#1c1c1c" stroke="#1c1c1c">1357</text>
<rect x="679" y="687" width="25" height="72.5" fill="#a6d6ef"/>
<text x="691.5" y="693.45" class="cb" font-size="5.319999999999999" fill="#1c1c1c" stroke="#1c1c1c">1660 Δ</text>
<text x="691.5" y="702.51" class="cb" font-size="5.319999999999999" fill="#1c1c1c" stroke="#1c1c1c">1662 Δ</text>
<text x="691.5" y="711.57" class="cb" font-size="5.319999999999999" fill="#1c1c1c" stroke="#1c1c1c">1664 Δ</text>
<text x="691.5" y="720.63" class="cb" font-size="5.319999999999999" fill="#1c1c1c" stroke="#1c1c1c">1666 Δ</text>
<text x="691.5" y="729.7" class="cb" font-size="5.319999999999999" fill="#1c1c1c" stroke="#1c1c1c">1668 *</text>
<text x="691.5" y="738.76" class="cb" font-size="5.319999999999999" fill="#1c1c1c" stroke="#1c1c1c">1670 *</text>
<text x="691.5" y="747.82" class="cb" font-size="5.319999999999999" fill="#1c1c1c" stroke="#1c1c1c">1672 *</text>
<text x="691.5" y="756.88" class="cb" font-size="5.319999999999999" fill="#1c1c1c" stroke="#1c1c1c">1674 *</text>
<rect x="776" y="687" width="25" height="72.5" fill="#a6d6ef"/>
<text x="788.5" y="693.45" class="cb" font-size="5.319999999999999" fill="#1c1c1c" stroke="#1c1c1c">1360</text>
<text x="788.5" y="702.51" class="cb" font-size="5.319999999999999" fill="#1c1c1c" stroke="#1c1c1c">1362</text>
<text x="788.5" y="711.57" class="cb" font-size="5.319999999999999" fill="#1c1c1c" stroke="#1c1c1c">1364</text>
<text x="788.5" y="720.63" class="cb" font-size="5.319999999999999" fill="#1c1c1c" stroke="#1c1c1c">1366</text>
<text x="788.5" y="729.7" class="cb" font-size="5.319999999999999" fill="#1c1c1c" stroke="#1c1c1c">1368 *</text>
<text x="788.5" y="738.76" class="cb" font-size="5.319999999999999" fill="#1c1c1c" stroke="#1c1c1c">1370 *</text>
<text x="788.5" y="747.82" class="cb" font-size="5.319999999999999" fill="#1c1c1c" stroke="#1c1c1c">1372 *</text>
<text x="788.5" y="756.88" class="cb" font-size="5.319999999999999" fill="#1c1c1c" stroke="#1c1c1c">1374 *</text>
<path d="M705,736.25 l2,2.6 h-1.3 v4.3 h1.3 l-2,2.6 l-2,-2.6 h1.3 v-4.3 h-1.3 z" fill="#111"/>
<path d="M775,736.25 l2,2.6 h-1.3 v4.3 h1.3 l-2,2.6 l-2,-2.6 h1.3 v-4.3 h-1.3 z" fill="#111"/>
<rect x="709" y="732.5" width="18" height="35.5" fill="#d5ab98"/>
<text x="718" y="738.85" class="cb" font-size="5.319999999999999" fill="#1c1c1c" stroke="#1c1c1c">1671*</text>
<text x="718" y="747.73" class="cb" font-size="5.319999999999999" fill="#1c1c1c" stroke="#1c1c1c">1673*</text>
<text x="718" y="756.6" class="cb" font-size="5.319999999999999" fill="#1c1c1c" stroke="#1c1c1c">1675*</text>
<text x="718" y="765.48" class="cb" font-size="5.319999999999999" fill="#1c1c1c" stroke="#1c1c1c">1677*</text>
<rect x="753" y="732.5" width="18" height="35.5" fill="#d5ab98"/>
<text x="762" y="738.85" class="cb" font-size="5.319999999999999" fill="#1c1c1c" stroke="#1c1c1c">1371*</text>
<text x="762" y="747.73" class="cb" font-size="5.319999999999999" fill="#1c1c1c" stroke="#1c1c1c">1373*</text>
<text x="762" y="756.6" class="cb" font-size="5.319999999999999" fill="#1c1c1c" stroke="#1c1c1c">1375*</text>
<text x="762" y="765.48" class="cb" font-size="5.319999999999999" fill="#1c1c1c" stroke="#1c1c1c">1377*</text>
<path d="M727,676 V770 M753,676 V770" fill="none" stroke="#c2c2c2" stroke-width="0.5"/>
<polygon points="694.5,778 709,778 709,774.5 727,774.5 727,799 700,799 694.5,790" fill="#f4bc2a"/>
<polygon points="785.5,778 771,778 771,774.5 753,774.5 753,799 780,799 785.5,790" fill="#f4bc2a"/>
<rect x="727" y="774.5" width="26" height="24.5" fill="#a8305e"/>
<line x1="740" y1="774.5" x2="740" y2="799" stroke="rgba(255,255,255,0.4)" stroke-width="0.4"/>
<text x="703" y="789.71" class="cb" font-size="4.75" fill="#1c1c1c" stroke="#1c1c1c" transform="rotate(-90 703 788)">1688*</text>
<text x="712" y="789.71" class="cb" font-size="4.75" fill="#1c1c1c" stroke="#1c1c1c" transform="rotate(-90 712 788)">1690*</text>
<text x="721" y="789.71" class="cb" font-size="4.75" fill="#1c1c1c" stroke="#1c1c1c" transform="rotate(-90 721 788)">1692*</text>
<text x="759" y="789.71" class="cb" font-size="4.75" fill="#1c1c1c" stroke="#1c1c1c" transform="rotate(-90 759 788)">1392*</text>
<text x="768" y="789.71" class="cb" font-size="4.75" fill="#1c1c1c" stroke="#1c1c1c" transform="rotate(-90 768 788)">1390*</text>
<text x="777" y="789.71" class="cb" font-size="4.75" fill="#1c1c1c" stroke="#1c1c1c" transform="rotate(-90 777 788)">1388*</text>
<text x="733.5" y="788.71" class="cb" font-size="4.75" fill="#fff" stroke="#fff" transform="rotate(-90 733.5 787)">1694 *</text>
<text x="746.5" y="788.71" class="cb" font-size="4.75" fill="#fff" stroke="#fff" transform="rotate(-90 746.5 787)">1394 *</text>
<path d="M723.5,772 l2.4,-1.8 v1.2 h2.2 v-1.2 l2.4,1.8 l-2.4,1.8 v-1.2 h-2.2 v1.2 z" fill="#111"/>
<path d="M749.5,772 l2.4,-1.8 v1.2 h2.2 v-1.2 l2.4,1.8 l-2.4,1.8 v-1.2 h-2.2 v1.2 z" fill="#111"/>
<line x1="700" y1="799" x2="700" y2="809" stroke="#c2c2c2" stroke-width="0.4"/>
<line x1="709" y1="799" x2="709" y2="809" stroke="#c2c2c2" stroke-width="0.4"/>
<line x1="718" y1="799" x2="718" y2="809" stroke="#c2c2c2" stroke-width="0.4"/>
<line x1="727" y1="799" x2="727" y2="809" stroke="#c2c2c2" stroke-width="0.4"/>
<line x1="740" y1="799" x2="740" y2="809" stroke="#c2c2c2" stroke-width="0.4"/>
<line x1="753" y1="799" x2="753" y2="809" stroke="#c2c2c2" stroke-width="0.4"/>
<line x1="762" y1="799" x2="762" y2="809" stroke="#c2c2c2" stroke-width="0.4"/>
<line x1="771" y1="799" x2="771" y2="809" stroke="#c2c2c2" stroke-width="0.4"/>
<line x1="780" y1="799" x2="780" y2="809" stroke="#c2c2c2" stroke-width="0.4"/>
<line x1="697" y1="809" x2="783" y2="809" stroke="#c2c2c2" stroke-width="0.4"/>
<ellipse cx="740" cy="816" rx="31" ry="4.5" fill="none" stroke="#c2c2c2" stroke-width="0.5"/>
<text x="745" y="871" class="dk">DECK 10</text>
<path d="M836,460 V57 C836,25 865,2 898,2 C931,2 960,25 960,57 V460 C960.5,472 965,485 965,497.5 C965,515 961,530 959.5,545 V762 C959.5,800 928,825 897.5,825 C867,825 835.5,800 835.5,762 V545 C835,530 831,515 831,497.5 C831,485 835.5,472 836,460" fill="none" stroke="#686868" stroke-width="0.9"/>
<path d="M839,57 C839,28 866,5 898,5 C930,5 957,28 957,57 V460 M839,57 V460" fill="none" stroke="#c2c2c2" stroke-width="0.5"/>
<line x1="836" y1="66" x2="842" y2="66" stroke="#c2c2c2" stroke-width="0.35"/>
<line x1="954" y1="66" x2="960" y2="66" stroke="#c2c2c2" stroke-width="0.35"/>
<line x1="836" y1="74.6" x2="842" y2="74.6" stroke="#c2c2c2" stroke-width="0.35"/>
<line x1="954" y1="74.6" x2="960" y2="74.6" stroke="#c2c2c2" stroke-width="0.35"/>
<line x1="836" y1="83.2" x2="842" y2="83.2" stroke="#c2c2c2" stroke-width="0.35"/>
<line x1="954" y1="83.2" x2="960" y2="83.2" stroke="#c2c2c2" stroke-width="0.35"/>
<line x1="836" y1="91.8" x2="842" y2="91.8" stroke="#c2c2c2" stroke-width="0.35"/>
<line x1="954" y1="91.8" x2="960" y2="91.8" stroke="#c2c2c2" stroke-width="0.35"/>
<line x1="836" y1="100.4" x2="842" y2="100.4" stroke="#c2c2c2" stroke-width="0.35"/>
<line x1="954" y1="100.4" x2="960" y2="100.4" stroke="#c2c2c2" stroke-width="0.35"/>
<line x1="836" y1="109" x2="842" y2="109" stroke="#c2c2c2" stroke-width="0.35"/>
<line x1="954" y1="109" x2="960" y2="109" stroke="#c2c2c2" stroke-width="0.35"/>
<line x1="836" y1="117.6" x2="842" y2="117.6" stroke="#c2c2c2" stroke-width="0.35"/>
<line x1="954" y1="117.6" x2="960" y2="117.6" stroke="#c2c2c2" stroke-width="0.35"/>
<line x1="836" y1="126.2" x2="842" y2="126.2" stroke="#c2c2c2" stroke-width="0.35"/>
<line x1="954" y1="126.2" x2="960" y2="126.2" stroke="#c2c2c2" stroke-width="0.35"/>
<line x1="836" y1="134.8" x2="842" y2="134.8" stroke="#c2c2c2" stroke-width="0.35"/>
<line x1="954" y1="134.8" x2="960" y2="134.8" stroke="#c2c2c2" stroke-width="0.35"/>
<line x1="836" y1="143.4" x2="842" y2="143.4" stroke="#c2c2c2" stroke-width="0.35"/>
<line x1="954" y1="143.4" x2="960" y2="143.4" stroke="#c2c2c2" stroke-width="0.35"/>
<line x1="836" y1="152" x2="842" y2="152" stroke="#c2c2c2" stroke-width="0.35"/>
<line x1="954" y1="152" x2="960" y2="152" stroke="#c2c2c2" stroke-width="0.35"/>
<line x1="836" y1="160.6" x2="842" y2="160.6" stroke="#c2c2c2" stroke-width="0.35"/>
<line x1="954" y1="160.6" x2="960" y2="160.6" stroke="#c2c2c2" stroke-width="0.35"/>
<line x1="836" y1="169.2" x2="842" y2="169.2" stroke="#c2c2c2" stroke-width="0.35"/>
<line x1="954" y1="169.2" x2="960" y2="169.2" stroke="#c2c2c2" stroke-width="0.35"/>
<line x1="836" y1="177.8" x2="842" y2="177.8" stroke="#c2c2c2" stroke-width="0.35"/>
<line x1="954" y1="177.8" x2="960" y2="177.8" stroke="#c2c2c2" stroke-width="0.35"/>
<line x1="836" y1="186.4" x2="842" y2="186.4" stroke="#c2c2c2" stroke-width="0.35"/>
<line x1="954" y1="186.4" x2="960" y2="186.4" stroke="#c2c2c2" stroke-width="0.35"/>
<line x1="836" y1="195" x2="842" y2="195" stroke="#c2c2c2" stroke-width="0.35"/>
<line x1="954" y1="195" x2="960" y2="195" stroke="#c2c2c2" stroke-width="0.35"/>
<line x1="836" y1="203.6" x2="842" y2="203.6" stroke="#c2c2c2" stroke-width="0.35"/>
<line x1="954" y1="203.6" x2="960" y2="203.6" stroke="#c2c2c2" stroke-width="0.35"/>
<line x1="836" y1="212.2" x2="842" y2="212.2" stroke="#c2c2c2" stroke-width="0.35"/>
<line x1="954" y1="212.2" x2="960" y2="212.2" stroke="#c2c2c2" stroke-width="0.35"/>
<line x1="836" y1="220.8" x2="842" y2="220.8" stroke="#c2c2c2" stroke-width="0.35"/>
<line x1="954" y1="220.8" x2="960" y2="220.8" stroke="#c2c2c2" stroke-width="0.35"/>
<line x1="836" y1="229.4" x2="842" y2="229.4" stroke="#c2c2c2" stroke-width="0.35"/>
<line x1="954" y1="229.4" x2="960" y2="229.4" stroke="#c2c2c2" stroke-width="0.35"/>
<line x1="836" y1="238" x2="842" y2="238" stroke="#c2c2c2" stroke-width="0.35"/>
<line x1="954" y1="238" x2="960" y2="238" stroke="#c2c2c2" stroke-width="0.35"/>
<line x1="836" y1="246.6" x2="842" y2="246.6" stroke="#c2c2c2" stroke-width="0.35"/>
<line x1="954" y1="246.6" x2="960" y2="246.6" stroke="#c2c2c2" stroke-width="0.35"/>
<line x1="836" y1="255.2" x2="842" y2="255.2" stroke="#c2c2c2" stroke-width="0.35"/>
<line x1="954" y1="255.2" x2="960" y2="255.2" stroke="#c2c2c2" stroke-width="0.35"/>
<line x1="836" y1="263.8" x2="842" y2="263.8" stroke="#c2c2c2" stroke-width="0.35"/>
<line x1="954" y1="263.8" x2="960" y2="263.8" stroke="#c2c2c2" stroke-width="0.35"/>
<line x1="836" y1="272.4" x2="842" y2="272.4" stroke="#c2c2c2" stroke-width="0.35"/>
<line x1="954" y1="272.4" x2="960" y2="272.4" stroke="#c2c2c2" stroke-width="0.35"/>
<line x1="836" y1="281" x2="842" y2="281" stroke="#c2c2c2" stroke-width="0.35"/>
<line x1="954" y1="281" x2="960" y2="281" stroke="#c2c2c2" stroke-width="0.35"/>
<line x1="836" y1="289.6" x2="842" y2="289.6" stroke="#c2c2c2" stroke-width="0.35"/>
<line x1="954" y1="289.6" x2="960" y2="289.6" stroke="#c2c2c2" stroke-width="0.35"/>
<line x1="836" y1="298.2" x2="842" y2="298.2" stroke="#c2c2c2" stroke-width="0.35"/>
<line x1="954" y1="298.2" x2="960" y2="298.2" stroke="#c2c2c2" stroke-width="0.35"/>
<line x1="836" y1="306.8" x2="842" y2="306.8" stroke="#c2c2c2" stroke-width="0.35"/>
<line x1="954" y1="306.8" x2="960" y2="306.8" stroke="#c2c2c2" stroke-width="0.35"/>
<line x1="836" y1="315.4" x2="842" y2="315.4" stroke="#c2c2c2" stroke-width="0.35"/>
<line x1="954" y1="315.4" x2="960" y2="315.4" stroke="#c2c2c2" stroke-width="0.35"/>
<line x1="836" y1="324" x2="842" y2="324" stroke="#c2c2c2" stroke-width="0.35"/>
<line x1="954" y1="324" x2="960" y2="324" stroke="#c2c2c2" stroke-width="0.35"/>
<line x1="836" y1="332.6" x2="842" y2="332.6" stroke="#c2c2c2" stroke-width="0.35"/>
<line x1="954" y1="332.6" x2="960" y2="332.6" stroke="#c2c2c2" stroke-width="0.35"/>
<line x1="836" y1="341.2" x2="842" y2="341.2" stroke="#c2c2c2" stroke-width="0.35"/>
<line x1="954" y1="341.2" x2="960" y2="341.2" stroke="#c2c2c2" stroke-width="0.35"/>
<line x1="836" y1="349.8" x2="842" y2="349.8" stroke="#c2c2c2" stroke-width="0.35"/>
<line x1="954" y1="349.8" x2="960" y2="349.8" stroke="#c2c2c2" stroke-width="0.35"/>
<line x1="836" y1="358.4" x2="842" y2="358.4" stroke="#c2c2c2" stroke-width="0.35"/>
<line x1="954" y1="358.4" x2="960" y2="358.4" stroke="#c2c2c2" stroke-width="0.35"/>
<line x1="836" y1="367" x2="842" y2="367" stroke="#c2c2c2" stroke-width="0.35"/>
<line x1="954" y1="367" x2="960" y2="367" stroke="#c2c2c2" stroke-width="0.35"/>
<line x1="836" y1="375.6" x2="842" y2="375.6" stroke="#c2c2c2" stroke-width="0.35"/>
<line x1="954" y1="375.6" x2="960" y2="375.6" stroke="#c2c2c2" stroke-width="0.35"/>
<line x1="836" y1="384.2" x2="842" y2="384.2" stroke="#c2c2c2" stroke-width="0.35"/>
<line x1="954" y1="384.2" x2="960" y2="384.2" stroke="#c2c2c2" stroke-width="0.35"/>
<line x1="836" y1="392.8" x2="842" y2="392.8" stroke="#c2c2c2" stroke-width="0.35"/>
<line x1="954" y1="392.8" x2="960" y2="392.8" stroke="#c2c2c2" stroke-width="0.35"/>
<line x1="836" y1="401.4" x2="842" y2="401.4" stroke="#c2c2c2" stroke-width="0.35"/>
<line x1="954" y1="401.4" x2="960" y2="401.4" stroke="#c2c2c2" stroke-width="0.35"/>
<line x1="836" y1="410" x2="842" y2="410" stroke="#c2c2c2" stroke-width="0.35"/>
<line x1="954" y1="410" x2="960" y2="410" stroke="#c2c2c2" stroke-width="0.35"/>
<line x1="836" y1="418.6" x2="842" y2="418.6" stroke="#c2c2c2" stroke-width="0.35"/>
<line x1="954" y1="418.6" x2="960" y2="418.6" stroke="#c2c2c2" stroke-width="0.35"/>
<line x1="836" y1="427.2" x2="842" y2="427.2" stroke="#c2c2c2" stroke-width="0.35"/>
<line x1="954" y1="427.2" x2="960" y2="427.2" stroke="#c2c2c2" stroke-width="0.35"/>
<line x1="836" y1="435.8" x2="842" y2="435.8" stroke="#c2c2c2" stroke-width="0.35"/>
<line x1="954" y1="435.8" x2="960" y2="435.8" stroke="#c2c2c2" stroke-width="0.35"/>
<line x1="836" y1="444.4" x2="842" y2="444.4" stroke="#c2c2c2" stroke-width="0.35"/>
<line x1="954" y1="444.4" x2="960" y2="444.4" stroke="#c2c2c2" stroke-width="0.35"/>
<line x1="836" y1="453" x2="842" y2="453" stroke="#c2c2c2" stroke-width="0.35"/>
<line x1="954" y1="453" x2="960" y2="453" stroke="#c2c2c2" stroke-width="0.35"/>
<polygon points="866,22 883,16.5 883,39.5 866,39.5" fill="#ef9dcc"/>
<polygon points="883,16.5 897,15 910.5,16.5 910.5,39.5 883,39.5" fill="#c0e0a2"/>
<polygon points="910.5,16.5 929,22 929,39.5 910.5,39.5" fill="#ef9dcc"/>
<text x="870.5" y="30.71" class="cb" font-size="4.75" fill="#1c1c1c" stroke="#1c1c1c" transform="rotate(-90 870.5 29)">9504</text>
<text x="878.8" y="30.71" class="cb" font-size="4.75" fill="#1c1c1c" stroke="#1c1c1c" transform="rotate(-90 878.8 29)">9502</text>
<text x="890" y="30.71" class="cb" font-size="4.75" fill="#1c1c1c" stroke="#1c1c1c" transform="rotate(-90 890 29)">9500</text>
<text x="903.5" y="30.71" class="cb" font-size="4.75" fill="#1c1c1c" stroke="#1c1c1c" transform="rotate(-90 903.5 29)">9200</text>
<text x="915" y="30.71" class="cb" font-size="4.75" fill="#1c1c1c" stroke="#1c1c1c" transform="rotate(-90 915 29)">9202</text>
<text x="924" y="30.71" class="cb" font-size="4.75" fill="#1c1c1c" stroke="#1c1c1c" transform="rotate(-90 924 29)">9204</text>
<line x1="874.5" y1="18" x2="874.5" y2="39.5" stroke="rgba(0,0,0,0.12)" stroke-width="0.4"/>
<line x1="897" y1="18" x2="897" y2="39.5" stroke="rgba(0,0,0,0.12)" stroke-width="0.4"/>
<line x1="919.5" y1="18" x2="919.5" y2="39.5" stroke="rgba(0,0,0,0.12)" stroke-width="0.4"/>
<rect x="842" y="36" width="20" height="8.5" fill="#f8ec4c"/>
<text x="852" y="42.17" class="cb" font-size="5.319999999999999" fill="#1c1c1c" stroke="#1c1c1c">9514</text>
<rect x="842" y="44.5" width="20" height="17.5" fill="#ef9dcc"/>
<text x="852" y="50.79" class="cb" font-size="5.319999999999999" fill="#1c1c1c" stroke="#1c1c1c">9516</text>
<line x1="842" y1="53.25" x2="862" y2="53.25" stroke="rgba(0,0,0,0.13)" stroke-width="0.4"/>
<text x="852" y="59.54" class="cb" font-size="5.319999999999999" fill="#1c1c1c" stroke="#1c1c1c">9518 *</text>
<rect x="842" y="62.5" width="20" height="59.5" fill="#a6d6ef"/>
<text x="852" y="68.67" class="cb" font-size="5.319999999999999" fill="#1c1c1c" stroke="#1c1c1c">9520 *</text>
<line x1="842" y1="71" x2="862" y2="71" stroke="rgba(0,0,0,0.13)" stroke-width="0.4"/>
<text x="852" y="77.17" class="cb" font-size="5.319999999999999" fill="#1c1c1c" stroke="#1c1c1c">9522 *</text>
<line x1="842" y1="79.5" x2="862" y2="79.5" stroke="rgba(0,0,0,0.13)" stroke-width="0.4"/>
<text x="852" y="85.67" class="cb" font-size="5.319999999999999" fill="#1c1c1c" stroke="#1c1c1c">9524 *</text>
<line x1="842" y1="88" x2="862" y2="88" stroke="rgba(0,0,0,0.13)" stroke-width="0.4"/>
<text x="852" y="94.17" class="cb" font-size="5.319999999999999" fill="#1c1c1c" stroke="#1c1c1c">9526 *</text>
<line x1="842" y1="96.5" x2="862" y2="96.5" stroke="rgba(0,0,0,0.13)" stroke-width="0.4"/>
<text x="852" y="102.67" class="cb" font-size="5.319999999999999" fill="#1c1c1c" stroke="#1c1c1c">9528 *</text>
<line x1="842" y1="105" x2="862" y2="105" stroke="rgba(0,0,0,0.13)" stroke-width="0.4"/>
<text x="852" y="111.17" class="cb" font-size="5.319999999999999" fill="#1c1c1c" stroke="#1c1c1c">9530 *</text>
<line x1="842" y1="113.5" x2="862" y2="113.5" stroke="rgba(0,0,0,0.13)" stroke-width="0.4"/>
<text x="852" y="119.67" class="cb" font-size="5.319999999999999" fill="#1c1c1c" stroke="#1c1c1c">9532 *</text>
<rect x="842" y="122.5" width="20" height="27" fill="#5b2d86"/>
<text x="852" y="131.17" class="cb" font-size="5.319999999999999" fill="#fff" stroke="#fff">9534 Δ</text>
<line x1="842" y1="136" x2="862" y2="136" stroke="rgba(255,255,255,0.35)" stroke-width="0.4"/>
<text x="852" y="144.67" class="cb" font-size="5.319999999999999" fill="#fff" stroke="#fff">9538 Δ</text>
<rect x="842.5" y="150.5" width="17.5" height="17" fill="#7563c1"/>
<text x="851.25" y="156.67" class="cb" font-size="5.319999999999999" fill="#1c1c1c" stroke="#1c1c1c">9540</text>
<line x1="842.5" y1="159" x2="860" y2="159" stroke="rgba(0,0,0,0.13)" stroke-width="0.4"/>
<text x="851.25" y="165.17" class="cb" font-size="5.319999999999999" fill="#1c1c1c" stroke="#1c1c1c">9542</text>
<rect x="842" y="168" width="20" height="26" fill="#5b2d86"/>
<text x="852" y="176.42" class="cb" font-size="5.319999999999999" fill="#fff" stroke="#fff">9544 Δ</text>
<line x1="842" y1="181" x2="862" y2="181" stroke="rgba(255,255,255,0.35)" stroke-width="0.4"/>
<text x="852" y="189.42" class="cb" font-size="5.319999999999999" fill="#fff" stroke="#fff">9548 Δ</text>
<rect x="842" y="194.5" width="20" height="16.5" fill="#ec647b"/>
<text x="852" y="200.54" class="cb" font-size="5.319999999999999" fill="#1c1c1c" stroke="#1c1c1c">9550 Δ</text>
<line x1="842" y1="202.75" x2="862" y2="202.75" stroke="rgba(0,0,0,0.13)" stroke-width="0.4"/>
<text x="852" y="208.79" class="cb" font-size="5.319999999999999" fill="#1c1c1c" stroke="#1c1c1c">9552 Δ</text>
<rect x="842" y="212" width="20" height="26.5" fill="#5b2d86"/>
<text x="852" y="220.54" class="cb" font-size="5.319999999999999" fill="#fff" stroke="#fff">9554 Δ</text>
<line x1="842" y1="225.25" x2="862" y2="225.25" stroke="rgba(255,255,255,0.35)" stroke-width="0.4"/>
<text x="852" y="233.79" class="cb" font-size="5.319999999999999" fill="#fff" stroke="#fff">9558 Δ</text>
<rect x="842" y="239" width="20" height="16" fill="#ec647b"/>
<text x="852" y="244.92" class="cb" font-size="5.319999999999999" fill="#1c1c1c" stroke="#1c1c1c">9560 Δ</text>
<line x1="842" y1="247" x2="862" y2="247" stroke="rgba(0,0,0,0.13)" stroke-width="0.4"/>
<text x="852" y="252.92" class="cb" font-size="5.319999999999999" fill="#1c1c1c" stroke="#1c1c1c">9562 Δ</text>
<rect x="842" y="255" width="20" height="52.5" fill="#5b2d86"/>
<text x="852" y="263.48" class="cb" font-size="5.319999999999999" fill="#fff" stroke="#fff">9564 Δ</text>
<line x1="842" y1="268.12" x2="862" y2="268.12" stroke="rgba(255,255,255,0.35)" stroke-width="0.4"/>
<text x="852" y="276.6" class="cb" font-size="5.319999999999999" fill="#fff" stroke="#fff">9568 Δ</text>
<line x1="842" y1="281.25" x2="862" y2="281.25" stroke="rgba(255,255,255,0.35)" stroke-width="0.4"/>
<text x="852" y="289.73" class="cb" font-size="5.319999999999999" fill="#fff" stroke="#fff">9570 *</text>
<line x1="842" y1="294.38" x2="862" y2="294.38" stroke="rgba(255,255,255,0.35)" stroke-width="0.4"/>
<text x="852" y="302.85" class="cb" font-size="5.319999999999999" fill="#fff" stroke="#fff">9572 *</text>
<rect x="842" y="308" width="20" height="16.5" fill="#ec647b"/>
<text x="852" y="314.04" class="cb" font-size="5.319999999999999" fill="#1c1c1c" stroke="#1c1c1c">9576 Δ</text>
<line x1="842" y1="316.25" x2="862" y2="316.25" stroke="rgba(0,0,0,0.13)" stroke-width="0.4"/>
<text x="852" y="322.29" class="cb" font-size="5.319999999999999" fill="#1c1c1c" stroke="#1c1c1c">9578 Δ</text>
<rect x="842" y="325" width="20" height="27" fill="#5b2d86"/>
<text x="852" y="333.67" class="cb" font-size="5.319999999999999" fill="#fff" stroke="#fff">9580 *</text>
<line x1="842" y1="338.5" x2="862" y2="338.5" stroke="rgba(255,255,255,0.35)" stroke-width="0.4"/>
<text x="852" y="347.17" class="cb" font-size="5.319999999999999" fill="#fff" stroke="#fff">9584 *</text>
<rect x="842" y="352.5" width="20" height="33.5" fill="#ec647b"/>
<text x="852" y="358.6" class="cb" font-size="5.319999999999999" fill="#1c1c1c" stroke="#1c1c1c">9586 Δ</text>
<line x1="842" y1="360.88" x2="862" y2="360.88" stroke="rgba(0,0,0,0.13)" stroke-width="0.4"/>
<text x="852" y="366.98" class="cb" font-size="5.319999999999999" fill="#1c1c1c" stroke="#1c1c1c">9588 Δ</text>
<line x1="842" y1="369.25" x2="862" y2="369.25" stroke="rgba(0,0,0,0.13)" stroke-width="0.4"/>
<text x="852" y="375.35" class="cb" font-size="5.319999999999999" fill="#1c1c1c" stroke="#1c1c1c">9590 Δ</text>
<line x1="842" y1="377.62" x2="862" y2="377.62" stroke="rgba(0,0,0,0.13)" stroke-width="0.4"/>
<text x="852" y="383.73" class="cb" font-size="5.319999999999999" fill="#1c1c1c" stroke="#1c1c1c">9592 Δ</text>
<rect x="842" y="387" width="20" height="27" fill="#5b2d86"/>
<text x="852" y="395.67" class="cb" font-size="5.319999999999999" fill="#fff" stroke="#fff">9594 *</text>
<line x1="842" y1="400.5" x2="862" y2="400.5" stroke="rgba(255,255,255,0.35)" stroke-width="0.4"/>
<text x="852" y="409.17" class="cb" font-size="5.319999999999999" fill="#fff" stroke="#fff">9598 *</text>
<rect x="842" y="415" width="20" height="16" fill="#ec647b"/>
<text x="852" y="420.92" class="cb" font-size="5.319999999999999" fill="#1c1c1c" stroke="#1c1c1c">9600 Δ</text>
<line x1="842" y1="423" x2="862" y2="423" stroke="rgba(0,0,0,0.13)" stroke-width="0.4"/>
<text x="852" y="428.92" class="cb" font-size="5.319999999999999" fill="#1c1c1c" stroke="#1c1c1c">9602 Δ</text>
<rect x="842" y="432" width="20" height="24" fill="#5b2d86"/>
<text x="852" y="439.92" class="cb" font-size="5.319999999999999" fill="#fff" stroke="#fff">9606 *</text>
<line x1="842" y1="444" x2="862" y2="444" stroke="rgba(255,255,255,0.35)" stroke-width="0.4"/>
<text x="852" y="451.92" class="cb" font-size="5.319999999999999" fill="#fff" stroke="#fff">9608 Δ</text>
<rect x="842" y="457" width="20" height="8.5" fill="#ec647b"/>
<text x="852" y="463.17" class="cb" font-size="5.319999999999999" fill="#1c1c1c" stroke="#1c1c1c">9610 Δ</text>
<rect x="933" y="36" width="21" height="8.5" fill="#f8ec4c"/>
<text x="943.5" y="42.17" class="cb" font-size="5.319999999999999" fill="#1c1c1c" stroke="#1c1c1c">9214</text>
<rect x="933" y="44.5" width="21" height="17.5" fill="#ef9dcc"/>
<text x="943.5" y="50.79" class="cb" font-size="5.319999999999999" fill="#1c1c1c" stroke="#1c1c1c">9216</text>
<line x1="933" y1="53.25" x2="954" y2="53.25" stroke="rgba(0,0,0,0.13)" stroke-width="0.4"/>
<text x="943.5" y="59.54" class="cb" font-size="5.319999999999999" fill="#1c1c1c" stroke="#1c1c1c">9218 *</text>
<rect x="933" y="62.5" width="21" height="59.5" fill="#a6d6ef"/>
<text x="943.5" y="68.67" class="cb" font-size="5.319999999999999" fill="#1c1c1c" stroke="#1c1c1c">9220 *</text>
<line x1="933" y1="71" x2="954" y2="71" stroke="rgba(0,0,0,0.13)" stroke-width="0.4"/>
<text x="943.5" y="77.17" class="cb" font-size="5.319999999999999" fill="#1c1c1c" stroke="#1c1c1c">9222 *</text>
<line x1="933" y1="79.5" x2="954" y2="79.5" stroke="rgba(0,0,0,0.13)" stroke-width="0.4"/>
<text x="943.5" y="85.67" class="cb" font-size="5.319999999999999" fill="#1c1c1c" stroke="#1c1c1c">9224 *</text>
<line x1="933" y1="88" x2="954" y2="88" stroke="rgba(0,0,0,0.13)" stroke-width="0.4"/>
<text x="943.5" y="94.17" class="cb" font-size="5.319999999999999" fill="#1c1c1c" stroke="#1c1c1c">9226 *</text>
<line x1="933" y1="96.5" x2="954" y2="96.5" stroke="rgba(0,0,0,0.13)" stroke-width="0.4"/>
<text x="943.5" y="102.67" class="cb" font-size="5.319999999999999" fill="#1c1c1c" stroke="#1c1c1c">9228 *</text>
<line x1="933" y1="105" x2="954" y2="105" stroke="rgba(0,0,0,0.13)" stroke-width="0.4"/>
<text x="943.5" y="111.17" class="cb" font-size="5.319999999999999" fill="#1c1c1c" stroke="#1c1c1c">9230 *</text>
<line x1="933" y1="113.5" x2="954" y2="113.5" stroke="rgba(0,0,0,0.13)" stroke-width="0.4"/>
<text x="943.5" y="119.67" class="cb" font-size="5.319999999999999" fill="#1c1c1c" stroke="#1c1c1c">9232 *</text>
<rect x="933" y="122.5" width="21" height="27" fill="#5b2d86"/>
<text x="943.5" y="131.17" class="cb" font-size="5.319999999999999" fill="#fff" stroke="#fff">9234</text>
<line x1="933" y1="136" x2="954" y2="136" stroke="rgba(255,255,255,0.35)" stroke-width="0.4"/>
<text x="943.5" y="144.67" class="cb" font-size="5.319999999999999" fill="#fff" stroke="#fff">9238</text>
<rect x="935" y="150.5" width="18.5" height="17" fill="#7563c1"/>
<text x="944.25" y="156.67" class="cb" font-size="5.319999999999999" fill="#1c1c1c" stroke="#1c1c1c">9240</text>
<line x1="935" y1="159" x2="953.5" y2="159" stroke="rgba(0,0,0,0.13)" stroke-width="0.4"/>
<text x="944.25" y="165.17" class="cb" font-size="5.319999999999999" fill="#1c1c1c" stroke="#1c1c1c">9242</text>
<rect x="933" y="168" width="21" height="26" fill="#5b2d86"/>
<text x="943.5" y="176.42" class="cb" font-size="5.319999999999999" fill="#fff" stroke="#fff">9244 Δ</text>
<line x1="933" y1="181" x2="954" y2="181" stroke="rgba(255,255,255,0.35)" stroke-width="0.4"/>
<text x="943.5" y="189.42" class="cb" font-size="5.319999999999999" fill="#fff" stroke="#fff">9248 Δ</text>
<rect x="933" y="194.5" width="21" height="16.5" fill="#a6d6ef"/>
<text x="943.5" y="200.54" class="cb" font-size="5.319999999999999" fill="#1c1c1c" stroke="#1c1c1c">9250 Δ</text>
<line x1="933" y1="202.75" x2="954" y2="202.75" stroke="rgba(0,0,0,0.13)" stroke-width="0.4"/>
<text x="943.5" y="208.79" class="cb" font-size="5.319999999999999" fill="#1c1c1c" stroke="#1c1c1c">9252 Δ</text>
<rect x="933" y="212" width="21" height="26.5" fill="#5b2d86"/>
<text x="943.5" y="220.54" class="cb" font-size="5.319999999999999" fill="#fff" stroke="#fff">9254 Δ</text>
<line x1="933" y1="225.25" x2="954" y2="225.25" stroke="rgba(255,255,255,0.35)" stroke-width="0.4"/>
<text x="943.5" y="233.79" class="cb" font-size="5.319999999999999" fill="#fff" stroke="#fff">9258 Δ</text>
<rect x="933" y="239" width="21" height="16" fill="#ec647b"/>
<text x="943.5" y="244.92" class="cb" font-size="5.319999999999999" fill="#1c1c1c" stroke="#1c1c1c">9260 Δ</text>
<line x1="933" y1="247" x2="954" y2="247" stroke="rgba(0,0,0,0.13)" stroke-width="0.4"/>
<text x="943.5" y="252.92" class="cb" font-size="5.319999999999999" fill="#1c1c1c" stroke="#1c1c1c">9262 Δ</text>
<rect x="933" y="255" width="21" height="52.5" fill="#5b2d86"/>
<text x="943.5" y="263.48" class="cb" font-size="5.319999999999999" fill="#fff" stroke="#fff">9264 Δ</text>
<line x1="933" y1="268.12" x2="954" y2="268.12" stroke="rgba(255,255,255,0.35)" stroke-width="0.4"/>
<text x="943.5" y="276.6" class="cb" font-size="5.319999999999999" fill="#fff" stroke="#fff">9268 Δ</text>
<line x1="933" y1="281.25" x2="954" y2="281.25" stroke="rgba(255,255,255,0.35)" stroke-width="0.4"/>
<text x="943.5" y="289.73" class="cb" font-size="5.319999999999999" fill="#fff" stroke="#fff">9270 Δ</text>
<line x1="933" y1="294.38" x2="954" y2="294.38" stroke="rgba(255,255,255,0.35)" stroke-width="0.4"/>
<text x="943.5" y="302.85" class="cb" font-size="5.319999999999999" fill="#fff" stroke="#fff">9272 Δ</text>
<rect x="933" y="308" width="21" height="16.5" fill="#ec647b"/>
<text x="943.5" y="314.04" class="cb" font-size="5.319999999999999" fill="#1c1c1c" stroke="#1c1c1c">9276 Δ</text>
<line x1="933" y1="316.25" x2="954" y2="316.25" stroke="rgba(0,0,0,0.13)" stroke-width="0.4"/>
<text x="943.5" y="322.29" class="cb" font-size="5.319999999999999" fill="#1c1c1c" stroke="#1c1c1c">9278 Δ</text>
<rect x="933" y="325" width="21" height="27" fill="#5b2d86"/>
<text x="943.5" y="333.67" class="cb" font-size="5.319999999999999" fill="#fff" stroke="#fff">9280 *</text>
<line x1="933" y1="338.5" x2="954" y2="338.5" stroke="rgba(255,255,255,0.35)" stroke-width="0.4"/>
<text x="943.5" y="347.17" class="cb" font-size="5.319999999999999" fill="#fff" stroke="#fff">9284 *</text>
<rect x="933" y="352.5" width="21" height="33.5" fill="#ec647b"/>
<text x="943.5" y="358.6" class="cb" font-size="5.319999999999999" fill="#1c1c1c" stroke="#1c1c1c">9286 Δ</text>
<line x1="933" y1="360.88" x2="954" y2="360.88" stroke="rgba(0,0,0,0.13)" stroke-width="0.4"/>
<text x="943.5" y="366.98" class="cb" font-size="5.319999999999999" fill="#1c1c1c" stroke="#1c1c1c">9288 Δ</text>
<line x1="933" y1="369.25" x2="954" y2="369.25" stroke="rgba(0,0,0,0.13)" stroke-width="0.4"/>
<text x="943.5" y="375.35" class="cb" font-size="5.319999999999999" fill="#1c1c1c" stroke="#1c1c1c">9290 Δ</text>
<line x1="933" y1="377.62" x2="954" y2="377.62" stroke="rgba(0,0,0,0.13)" stroke-width="0.4"/>
<text x="943.5" y="383.73" class="cb" font-size="5.319999999999999" fill="#1c1c1c" stroke="#1c1c1c">9292 Δ</text>
<rect x="933" y="387" width="21" height="27" fill="#5b2d86"/>
<text x="943.5" y="395.67" class="cb" font-size="5.319999999999999" fill="#fff" stroke="#fff">9294 *</text>
<line x1="933" y1="400.5" x2="954" y2="400.5" stroke="rgba(255,255,255,0.35)" stroke-width="0.4"/>
<text x="943.5" y="409.17" class="cb" font-size="5.319999999999999" fill="#fff" stroke="#fff">9298 *</text>
<rect x="933" y="415" width="21" height="16" fill="#ec647b"/>
<text x="943.5" y="420.92" class="cb" font-size="5.319999999999999" fill="#1c1c1c" stroke="#1c1c1c">9300 Δ</text>
<line x1="933" y1="423" x2="954" y2="423" stroke="rgba(0,0,0,0.13)" stroke-width="0.4"/>
<text x="943.5" y="428.92" class="cb" font-size="5.319999999999999" fill="#1c1c1c" stroke="#1c1c1c">9302 Δ</text>
<rect x="933" y="432" width="21" height="24" fill="#5b2d86"/>
<text x="943.5" y="439.92" class="cb" font-size="5.319999999999999" fill="#fff" stroke="#fff">9306 *</text>
<line x1="933" y1="444" x2="954" y2="444" stroke="rgba(255,255,255,0.35)" stroke-width="0.4"/>
<text x="943.5" y="451.92" class="cb" font-size="5.319999999999999" fill="#fff" stroke="#fff">9308 Δ</text>
<rect x="933" y="457" width="21" height="8.5" fill="#ec647b"/>
<text x="943.5" y="463.17" class="cb" font-size="5.319999999999999" fill="#1c1c1c" stroke="#1c1c1c">9310 Δ</text>
<path d="M838,62 V55 Q838.5,48 843,44.5 H862 V62 Z" fill="#ef9dcc" stroke="none" stroke-width="0"/>
<path d="M957,62 V55 Q956.5,48 952,44.5 H933 V62 Z" fill="#ef9dcc" stroke="none" stroke-width="0"/>
<text x="850.5" y="50.92" class="cb" font-size="5.319999999999999" fill="#1c1c1c" stroke="#1c1c1c">9516</text>
<text x="851.5" y="59.62" class="cb" font-size="5.319999999999999" fill="#1c1c1c" stroke="#1c1c1c">9518 *</text>
<text x="944" y="50.92" class="cb" font-size="5.319999999999999" fill="#1c1c1c" stroke="#1c1c1c">9216</text>
<text x="945" y="59.62" class="cb" font-size="5.319999999999999" fill="#1c1c1c" stroke="#1c1c1c">9218 *</text>
<rect x="839" y="466" width="17" height="8" fill="#ec647b"/>
<text x="847.5" y="471.92" class="cb" font-size="5.319999999999999" fill="#1c1c1c" stroke="#1c1c1c">9612 Δ</text>
<rect x="837" y="474.5" width="20" height="26.5" fill="#5b2d86"/>
<text x="847" y="483.04" class="cb" font-size="5.319999999999999" fill="#fff" stroke="#fff">9614 Δ</text>
<line x1="837" y1="487.75" x2="857" y2="487.75" stroke="rgba(255,255,255,0.35)" stroke-width="0.4"/>
<text x="847" y="496.29" class="cb" font-size="5.319999999999999" fill="#fff" stroke="#fff">9618 Δ</text>
<rect x="837" y="502" width="20" height="16" fill="#ec647b"/>
<text x="847" y="507.92" class="cb" font-size="5.319999999999999" fill="#1c1c1c" stroke="#1c1c1c">9620 *</text>
<line x1="837" y1="510" x2="857" y2="510" stroke="rgba(0,0,0,0.13)" stroke-width="0.4"/>
<text x="847" y="515.92" class="cb" font-size="5.319999999999999" fill="#1c1c1c" stroke="#1c1c1c">9622 *</text>
<rect x="838" y="519" width="19.5" height="13" fill="#5b2d86"/>
<text x="847.75" y="527.42" class="cb" font-size="5.319999999999999" fill="#fff" stroke="#fff">9624 Δ</text>
<rect x="840" y="532" width="20.5" height="13" fill="#5b2d86"/>
<text x="850.25" y="540.42" class="cb" font-size="5.319999999999999" fill="#fff" stroke="#fff">9628 Δ</text>
<rect x="842" y="545" width="20" height="26" fill="#5b2d86"/>
<text x="852" y="553.42" class="cb" font-size="5.319999999999999" fill="#fff" stroke="#fff">9630 Δ</text>
<line x1="842" y1="558" x2="862" y2="558" stroke="rgba(255,255,255,0.35)" stroke-width="0.4"/>
<text x="852" y="566.42" class="cb" font-size="5.319999999999999" fill="#fff" stroke="#fff">9634 Δ</text>
<rect x="940" y="466" width="17" height="8" fill="#ec647b"/>
<text x="948.5" y="471.92" class="cb" font-size="5.319999999999999" fill="#1c1c1c" stroke="#1c1c1c">9312 Δ</text>
<rect x="939" y="474.5" width="20" height="26.5" fill="#5b2d86"/>
<text x="949" y="483.04" class="cb" font-size="5.319999999999999" fill="#fff" stroke="#fff">9314 Δ</text>
<line x1="939" y1="487.75" x2="959" y2="487.75" stroke="rgba(255,255,255,0.35)" stroke-width="0.4"/>
<text x="949" y="496.29" class="cb" font-size="5.319999999999999" fill="#fff" stroke="#fff">9318 Δ</text>
<rect x="939" y="502" width="20" height="16" fill="#ec647b"/>
<text x="949" y="507.92" class="cb" font-size="5.319999999999999" fill="#1c1c1c" stroke="#1c1c1c">9320 *</text>
<line x1="939" y1="510" x2="959" y2="510" stroke="rgba(0,0,0,0.13)" stroke-width="0.4"/>
<text x="949" y="515.92" class="cb" font-size="5.319999999999999" fill="#1c1c1c" stroke="#1c1c1c">9322 *</text>
<rect x="938.5" y="519" width="19.5" height="13" fill="#5b2d86"/>
<text x="948.25" y="527.42" class="cb" font-size="5.319999999999999" fill="#fff" stroke="#fff">9324 Δ</text>
<rect x="935.5" y="532" width="20.5" height="13" fill="#5b2d86"/>
<text x="945.75" y="540.42" class="cb" font-size="5.319999999999999" fill="#fff" stroke="#fff">9328 Δ</text>
<rect x="934" y="545" width="20" height="26" fill="#5b2d86"/>
<text x="944" y="553.42" class="cb" font-size="5.319999999999999" fill="#fff" stroke="#fff">9330</text>
<line x1="934" y1="558" x2="954" y2="558" stroke="rgba(255,255,255,0.35)" stroke-width="0.4"/>
<text x="944" y="566.42" class="cb" font-size="5.319999999999999" fill="#fff" stroke="#fff">9334</text>
<rect x="842" y="572" width="20" height="102" fill="#a6d6ef"/>
<text x="852" y="578.17" class="cb" font-size="5.319999999999999" fill="#1c1c1c" stroke="#1c1c1c">9636 Δ</text>
<text x="852" y="586.67" class="cb" font-size="5.319999999999999" fill="#1c1c1c" stroke="#1c1c1c">9638 Δ</text>
<text x="852" y="595.17" class="cb" font-size="5.319999999999999" fill="#1c1c1c" stroke="#1c1c1c">9640 Δ</text>
<text x="852" y="603.67" class="cb" font-size="5.319999999999999" fill="#1c1c1c" stroke="#1c1c1c">9642 Δ</text>
<text x="852" y="612.17" class="cb" font-size="5.319999999999999" fill="#1c1c1c" stroke="#1c1c1c">9644 Δ</text>
<text x="852" y="620.67" class="cb" font-size="5.319999999999999" fill="#1c1c1c" stroke="#1c1c1c">9646 Δ</text>
<text x="852" y="629.17" class="cb" font-size="5.319999999999999" fill="#1c1c1c" stroke="#1c1c1c">9648 Δ</text>
<text x="852" y="637.67" class="cb" font-size="5.319999999999999" fill="#1c1c1c" stroke="#1c1c1c">9650</text>
<text x="852" y="646.17" class="cb" font-size="5.319999999999999" fill="#1c1c1c" stroke="#1c1c1c">9652</text>
<text x="852" y="654.67" class="cb" font-size="5.319999999999999" fill="#1c1c1c" stroke="#1c1c1c">9654 *</text>
<text x="852" y="663.17" class="cb" font-size="5.319999999999999" fill="#1c1c1c" stroke="#1c1c1c">9656 *</text>
<text x="852" y="671.67" class="cb" font-size="5.319999999999999" fill="#1c1c1c" stroke="#1c1c1c">9658 *</text>
<rect x="842" y="678.3" width="20" height="76.7" fill="#a6d6ef"/>
<text x="852" y="684.48" class="cb" font-size="5.319999999999999" fill="#1c1c1c" stroke="#1c1c1c">9660</text>
<text x="852" y="693" class="cb" font-size="5.319999999999999" fill="#1c1c1c" stroke="#1c1c1c">9662</text>
<text x="852" y="701.52" class="cb" font-size="5.319999999999999" fill="#1c1c1c" stroke="#1c1c1c">9664</text>
<text x="852" y="710.04" class="cb" font-size="5.319999999999999" fill="#1c1c1c" stroke="#1c1c1c">9666</text>
<text x="852" y="718.57" class="cb" font-size="5.319999999999999" fill="#1c1c1c" stroke="#1c1c1c">9668</text>
<text x="852" y="727.09" class="cb" font-size="5.319999999999999" fill="#1c1c1c" stroke="#1c1c1c">9670</text>
<text x="852" y="735.61" class="cb" font-size="5.319999999999999" fill="#1c1c1c" stroke="#1c1c1c">9672</text>
<text x="852" y="744.13" class="cb" font-size="5.319999999999999" fill="#1c1c1c" stroke="#1c1c1c">9674</text>
<text x="852" y="752.65" class="cb" font-size="5.319999999999999" fill="#1c1c1c" stroke="#1c1c1c">9676</text>
<rect x="933" y="572" width="21" height="102" fill="#a6d6ef"/>
<text x="943.5" y="578.17" class="cb" font-size="5.319999999999999" fill="#1c1c1c" stroke="#1c1c1c">9336</text>
<text x="943.5" y="586.67" class="cb" font-size="5.319999999999999" fill="#1c1c1c" stroke="#1c1c1c">9338</text>
<text x="943.5" y="595.17" class="cb" font-size="5.319999999999999" fill="#1c1c1c" stroke="#1c1c1c">9340</text>
<text x="943.5" y="603.67" class="cb" font-size="5.319999999999999" fill="#1c1c1c" stroke="#1c1c1c">9342</text>
<text x="943.5" y="612.17" class="cb" font-size="5.319999999999999" fill="#1c1c1c" stroke="#1c1c1c">9344</text>
<text x="943.5" y="620.67" class="cb" font-size="5.319999999999999" fill="#1c1c1c" stroke="#1c1c1c">9346</text>
<text x="943.5" y="629.17" class="cb" font-size="5.319999999999999" fill="#1c1c1c" stroke="#1c1c1c">9348</text>
<text x="943.5" y="637.67" class="cb" font-size="5.319999999999999" fill="#1c1c1c" stroke="#1c1c1c">9350</text>
<text x="943.5" y="646.17" class="cb" font-size="5.319999999999999" fill="#1c1c1c" stroke="#1c1c1c">9352</text>
<text x="943.5" y="654.67" class="cb" font-size="5.319999999999999" fill="#1c1c1c" stroke="#1c1c1c">9354 *</text>
<text x="943.5" y="663.17" class="cb" font-size="5.319999999999999" fill="#1c1c1c" stroke="#1c1c1c">9356 *</text>
<text x="943.5" y="671.67" class="cb" font-size="5.319999999999999" fill="#1c1c1c" stroke="#1c1c1c">9358 *</text>
<rect x="933" y="678.3" width="21" height="76.7" fill="#a6d6ef"/>
<text x="943.5" y="684.48" class="cb" font-size="5.319999999999999" fill="#1c1c1c" stroke="#1c1c1c">9360</text>
<text x="943.5" y="693" class="cb" font-size="5.319999999999999" fill="#1c1c1c" stroke="#1c1c1c">9362 Δ</text>
<text x="943.5" y="701.52" class="cb" font-size="5.319999999999999" fill="#1c1c1c" stroke="#1c1c1c">9364 Δ</text>
<text x="943.5" y="710.04" class="cb" font-size="5.319999999999999" fill="#1c1c1c" stroke="#1c1c1c">9366 Δ</text>
<text x="943.5" y="718.57" class="cb" font-size="5.319999999999999" fill="#1c1c1c" stroke="#1c1c1c">9368 Δ</text>
<text x="943.5" y="727.09" class="cb" font-size="5.319999999999999" fill="#1c1c1c" stroke="#1c1c1c">9370 Δ</text>
<text x="943.5" y="735.61" class="cb" font-size="5.319999999999999" fill="#1c1c1c" stroke="#1c1c1c">9372 Δ</text>
<text x="943.5" y="744.13" class="cb" font-size="5.319999999999999" fill="#1c1c1c" stroke="#1c1c1c">9374 Δ</text>
<text x="943.5" y="752.65" class="cb" font-size="5.319999999999999" fill="#1c1c1c" stroke="#1c1c1c">9376</text>
<rect x="842" y="673.5" width="20" height="5.5" fill="#a6d6ef"/>
<rect x="933" y="673.5" width="21" height="5.5" fill="#a6d6ef"/>
<rect x="844" y="756" width="18" height="8" fill="#d5ab98"/>
<text x="853" y="761.92" class="cb" font-size="5.319999999999999" fill="#1c1c1c" stroke="#1c1c1c">9681</text>
<rect x="934" y="756" width="16" height="8" fill="#d5ab98"/>
<text x="942" y="761.92" class="cb" font-size="5.319999999999999" fill="#1c1c1c" stroke="#1c1c1c">9381</text>
<path d="M863.5,57.25 l2,2.6 h-1.3 v4.3 h1.3 l-2,2.6 l-2,-2.6 h1.3 v-4.3 h-1.3 z" fill="#111"/>
<path d="M932,57.25 l2,2.6 h-1.3 v4.3 h1.3 l-2,2.6 l-2,-2.6 h1.3 v-4.3 h-1.3 z" fill="#111"/>
<path d="M863.5,131.25 l2,2.6 h-1.3 v4.3 h1.3 l-2,2.6 l-2,-2.6 h1.3 v-4.3 h-1.3 z" fill="#111"/>
<path d="M932,131.25 l2,2.6 h-1.3 v4.3 h1.3 l-2,2.6 l-2,-2.6 h1.3 v-4.3 h-1.3 z" fill="#111"/>
<path d="M932,114.25 l2,2.6 h-1.3 v4.3 h1.3 l-2,2.6 l-2,-2.6 h1.3 v-4.3 h-1.3 z" fill="#111"/>
<path d="M858,464.25 l2,2.6 h-1.3 v4.3 h1.3 l-2,2.6 l-2,-2.6 h1.3 v-4.3 h-1.3 z" fill="#111"/>
<path d="M938,464.25 l2,2.6 h-1.3 v4.3 h1.3 l-2,2.6 l-2,-2.6 h1.3 v-4.3 h-1.3 z" fill="#111"/>
<path d="M863,551.25 l2,2.6 h-1.3 v4.3 h1.3 l-2,2.6 l-2,-2.6 h1.3 v-4.3 h-1.3 z" fill="#111"/>
<path d="M932,551.25 l2,2.6 h-1.3 v4.3 h1.3 l-2,2.6 l-2,-2.6 h1.3 v-4.3 h-1.3 z" fill="#111"/>
<path d="M865.5,577.25 l2,2.6 h-1.3 v4.3 h1.3 l-2,2.6 l-2,-2.6 h1.3 v-4.3 h-1.3 z" fill="#111"/>
<path d="M930,593.25 l2,2.6 h-1.3 v4.3 h1.3 l-2,2.6 l-2,-2.6 h1.3 v-4.3 h-1.3 z" fill="#111"/>
<path d="M863.5,751.25 l2,2.6 h-1.3 v4.3 h1.3 l-2,2.6 l-2,-2.6 h1.3 v-4.3 h-1.3 z" fill="#111"/>
<path d="M932,751.25 l2,2.6 h-1.3 v4.3 h1.3 l-2,2.6 l-2,-2.6 h1.3 v-4.3 h-1.3 z" fill="#111"/>
<path d="M864.5,44 V460 M931.5,44 V460 M867.5,202 V460 M885,130 V460 M885,531 V572 M910.5,143 V460 M910.5,531 V566 M928,254 V460 M867,130 H929" fill="none" stroke="#c2c2c2" stroke-width="0.5"/>
<rect x="867" y="44.5" width="18" height="85.5" fill="#d5ab98"/>
<text x="876" y="50.69" class="cb" font-size="5.319999999999999" fill="#1c1c1c" stroke="#1c1c1c">9517*</text>
<text x="876" y="59.24" class="cb" font-size="5.319999999999999" fill="#1c1c1c" stroke="#1c1c1c">9519*</text>
<text x="876" y="67.79" class="cb" font-size="5.319999999999999" fill="#1c1c1c" stroke="#1c1c1c">9521*</text>
<text x="876" y="76.34" class="cb" font-size="5.319999999999999" fill="#1c1c1c" stroke="#1c1c1c">9523*</text>
<text x="876" y="84.89" class="cb" font-size="5.319999999999999" fill="#1c1c1c" stroke="#1c1c1c">9525</text>
<text x="876" y="93.44" class="cb" font-size="5.319999999999999" fill="#1c1c1c" stroke="#1c1c1c">9527*</text>
<text x="876" y="101.99" class="cb" font-size="5.319999999999999" fill="#1c1c1c" stroke="#1c1c1c">9529</text>
<text x="876" y="110.54" class="cb" font-size="5.319999999999999" fill="#1c1c1c" stroke="#1c1c1c">9531*</text>
<text x="876" y="119.09" class="cb" font-size="5.319999999999999" fill="#1c1c1c" stroke="#1c1c1c">9533</text>
<text x="876" y="127.64" class="cb" font-size="5.319999999999999" fill="#1c1c1c" stroke="#1c1c1c">9535*</text>
<rect x="910.5" y="44.5" width="18.5" height="85.5" fill="#d5ab98"/>
<text x="919.75" y="50.69" class="cb" font-size="5.319999999999999" fill="#1c1c1c" stroke="#1c1c1c">9217*</text>
<text x="919.75" y="59.24" class="cb" font-size="5.319999999999999" fill="#1c1c1c" stroke="#1c1c1c">9219*</text>
<text x="919.75" y="67.79" class="cb" font-size="5.319999999999999" fill="#1c1c1c" stroke="#1c1c1c">9221*</text>
<text x="919.75" y="76.34" class="cb" font-size="5.319999999999999" fill="#1c1c1c" stroke="#1c1c1c">9223*</text>
<text x="919.75" y="84.89" class="cb" font-size="5.319999999999999" fill="#1c1c1c" stroke="#1c1c1c">9225</text>
<text x="919.75" y="93.44" class="cb" font-size="5.319999999999999" fill="#1c1c1c" stroke="#1c1c1c">9227*</text>
<text x="919.75" y="101.99" class="cb" font-size="5.319999999999999" fill="#1c1c1c" stroke="#1c1c1c">9229</text>
<text x="919.75" y="110.54" class="cb" font-size="5.319999999999999" fill="#1c1c1c" stroke="#1c1c1c">9231*</text>
<text x="919.75" y="119.09" class="cb" font-size="5.319999999999999" fill="#1c1c1c" stroke="#1c1c1c">9233</text>
<text x="919.75" y="127.64" class="cb" font-size="5.319999999999999" fill="#1c1c1c" stroke="#1c1c1c">9235*</text>
<rect x="889" y="44.5" width="17" height="16.5" fill="#d5ab98"/>
<text x="893.25" y="54.53" class="cb" font-size="4.9399999999999995" fill="#1c1c1c" stroke="#1c1c1c" transform="rotate(-90 893.25 52.75)">9501</text>
<text x="901.75" y="54.53" class="cb" font-size="4.9399999999999995" fill="#1c1c1c" stroke="#1c1c1c" transform="rotate(-90 901.75 52.75)">9201</text>
<rect x="910.5" y="134" width="18.5" height="8.5" fill="#d5ab98"/>
<text x="919.75" y="140.17" class="cb" font-size="5.319999999999999" fill="#1c1c1c" stroke="#1c1c1c">9237</text>
<rect x="867" y="151" width="15" height="11.5" fill="#e5d098"/>
<line x1="870.75" y1="151" x2="870.75" y2="162.5" stroke="#c9b278" stroke-width="0.3"/>
<line x1="874.5" y1="151" x2="874.5" y2="162.5" stroke="#c9b278" stroke-width="0.3"/>
<line x1="878.25" y1="151" x2="878.25" y2="162.5" stroke="#c9b278" stroke-width="0.3"/>
<line x1="867" y1="156.75" x2="882" y2="156.75" stroke="#c9b278" stroke-width="0.3"/>
<rect x="913" y="151" width="15" height="11.5" fill="#e5d098"/>
<line x1="916.75" y1="151" x2="916.75" y2="162.5" stroke="#c9b278" stroke-width="0.3"/>
<line x1="920.5" y1="151" x2="920.5" y2="162.5" stroke="#c9b278" stroke-width="0.3"/>
<line x1="924.25" y1="151" x2="924.25" y2="162.5" stroke="#c9b278" stroke-width="0.3"/>
<line x1="913" y1="156.75" x2="928" y2="156.75" stroke="#c9b278" stroke-width="0.3"/>
<path d="M889.5,150 H906 V163 H903 V160 H892.5 V163 H889.5 Z" fill="none" stroke="#c2c2c2" stroke-width="0.5"/>
<rect x="866" y="179" width="7" height="21" fill="#fff" stroke="#c2c2c2" stroke-width="0.5"/>
<g transform="translate(869.7,189.5) rotate(-90) scale(0.8106,1)" class="lb" font-size="6.55" fill="#111">
<text x="0" y="2.36">ELEV.</text>
</g>
<rect x="921" y="179" width="7" height="21" fill="#fff" stroke="#c2c2c2" stroke-width="0.5"/>
<g transform="translate(924.7,189.5) rotate(-90) scale(0.8106,1)" class="lb" font-size="6.55" fill="#111">
<text x="0" y="2.36">ELEV.</text>
</g>
<path d="M884,178 h5 l2,-3 h13 l2,3 h5 v16 q-13.5,12 -27,0 z" fill="none" stroke="#c2c2c2" stroke-width="0.5"/>
<rect x="867.5" y="202.5" width="17.5" height="39.5" fill="#c1e7e9"/>
<g transform="translate(876.25,205.79) scale(1.0)" fill="none" stroke="#1c1c1c" stroke-width="0.7"><circle cx="-0.4" cy="-2.6" r="0.6" fill="#1c1c1c" stroke="none"/><path d="M-0.4,-1.8 V0.4 H1.4 L2.2,2.4 M-0.4,-0.8 H1.2"/><path d="M-1.2,-0.2 A2,2 0 1 0 1.6,2.2"/></g>
<text x="876.25" y="214.15" class="cb" font-size="4.9399999999999995" fill="#1c1c1c" stroke="#1c1c1c">9553*</text>
<g transform="translate(876.25,218.96) scale(1.0)" fill="none" stroke="#1c1c1c" stroke-width="0.7"><circle cx="-0.4" cy="-2.6" r="0.6" fill="#1c1c1c" stroke="none"/><path d="M-0.4,-1.8 V0.4 H1.4 L2.2,2.4 M-0.4,-0.8 H1.2"/><path d="M-1.2,-0.2 A2,2 0 1 0 1.6,2.2"/></g>
<text x="876.25" y="227.32" class="cb" font-size="4.9399999999999995" fill="#1c1c1c" stroke="#1c1c1c">9557*</text>
<g transform="translate(876.25,232.12) scale(1.0)" fill="none" stroke="#1c1c1c" stroke-width="0.7"><circle cx="-0.4" cy="-2.6" r="0.6" fill="#1c1c1c" stroke="none"/><path d="M-0.4,-1.8 V0.4 H1.4 L2.2,2.4 M-0.4,-0.8 H1.2"/><path d="M-1.2,-0.2 A2,2 0 1 0 1.6,2.2"/></g>
<text x="876.25" y="240.49" class="cb" font-size="4.9399999999999995" fill="#1c1c1c" stroke="#1c1c1c">9561*</text>
<rect x="910.5" y="202.5" width="18.5" height="51.5" fill="#8db6e2"/>
<text x="919.75" y="208.71" class="cb" font-size="5.319999999999999" fill="#1c1c1c" stroke="#1c1c1c">9253</text>
<text x="919.75" y="217.29" class="cb" font-size="5.319999999999999" fill="#1c1c1c" stroke="#1c1c1c">9255</text>
<text x="919.75" y="225.87" class="cb" font-size="5.319999999999999" fill="#1c1c1c" stroke="#1c1c1c">9257</text>
<text x="919.75" y="234.46" class="cb" font-size="5.319999999999999" fill="#1c1c1c" stroke="#1c1c1c">9259</text>
<text x="919.75" y="243.04" class="cb" font-size="5.319999999999999" fill="#1c1c1c" stroke="#1c1c1c">9261</text>
<text x="919.75" y="251.62" class="cb" font-size="5.319999999999999" fill="#1c1c1c" stroke="#1c1c1c">9263</text>
<rect x="867.5" y="300" width="17.5" height="43" fill="#8db6e2"/>
<text x="876.25" y="306.22" class="cb" font-size="5.319999999999999" fill="#1c1c1c" stroke="#1c1c1c">9575</text>
<text x="876.25" y="314.82" class="cb" font-size="5.319999999999999" fill="#1c1c1c" stroke="#1c1c1c">9577</text>
<text x="876.25" y="323.42" class="cb" font-size="5.319999999999999" fill="#1c1c1c" stroke="#1c1c1c">9579</text>
<text x="876.25" y="332.02" class="cb" font-size="5.319999999999999" fill="#1c1c1c" stroke="#1c1c1c">9581</text>
<text x="876.25" y="340.62" class="cb" font-size="5.319999999999999" fill="#1c1c1c" stroke="#1c1c1c">9583</text>
<rect x="910.5" y="309" width="17.5" height="34" fill="#8db6e2"/>
<text x="919.25" y="315.17" class="cb" font-size="5.319999999999999" fill="#1c1c1c" stroke="#1c1c1c">9277</text>
<text x="919.25" y="323.67" class="cb" font-size="5.319999999999999" fill="#1c1c1c" stroke="#1c1c1c">9279</text>
<text x="919.25" y="332.17" class="cb" font-size="5.319999999999999" fill="#1c1c1c" stroke="#1c1c1c">9281</text>
<text x="919.25" y="340.67" class="cb" font-size="5.319999999999999" fill="#1c1c1c" stroke="#1c1c1c">9283</text>
<rect x="867.5" y="352.5" width="17.5" height="51.5" fill="#8db6e2"/>
<text x="876.25" y="358.71" class="cb" font-size="5.319999999999999" fill="#1c1c1c" stroke="#1c1c1c">9587</text>
<text x="876.25" y="367.29" class="cb" font-size="5.319999999999999" fill="#1c1c1c" stroke="#1c1c1c">9589</text>
<text x="876.25" y="375.87" class="cb" font-size="5.319999999999999" fill="#1c1c1c" stroke="#1c1c1c">9591</text>
<text x="876.25" y="384.46" class="cb" font-size="5.319999999999999" fill="#1c1c1c" stroke="#1c1c1c">9593</text>
<text x="876.25" y="393.04" class="cb" font-size="5.319999999999999" fill="#1c1c1c" stroke="#1c1c1c">9595</text>
<text x="876.25" y="401.62" class="cb" font-size="5.319999999999999" fill="#1c1c1c" stroke="#1c1c1c">9597</text>
<rect x="910.5" y="352.5" width="17.5" height="51.5" fill="#8db6e2"/>
<text x="919.25" y="358.71" class="cb" font-size="5.319999999999999" fill="#1c1c1c" stroke="#1c1c1c">9287</text>
<text x="919.25" y="367.29" class="cb" font-size="5.319999999999999" fill="#1c1c1c" stroke="#1c1c1c">9289</text>
<text x="919.25" y="375.87" class="cb" font-size="5.319999999999999" fill="#1c1c1c" stroke="#1c1c1c">9291</text>
<text x="919.25" y="384.46" class="cb" font-size="5.319999999999999" fill="#1c1c1c" stroke="#1c1c1c">9293</text>
<text x="919.25" y="393.04" class="cb" font-size="5.319999999999999" fill="#1c1c1c" stroke="#1c1c1c">9295</text>
<text x="919.25" y="401.62" class="cb" font-size="5.319999999999999" fill="#1c1c1c" stroke="#1c1c1c">9297</text>
<rect x="867.5" y="415" width="17.5" height="34" fill="#8db6e2"/>
<text x="876.25" y="421.17" class="cb" font-size="5.319999999999999" fill="#1c1c1c" stroke="#1c1c1c">9601</text>
<text x="876.25" y="429.67" class="cb" font-size="5.319999999999999" fill="#1c1c1c" stroke="#1c1c1c">9603</text>
<text x="876.25" y="438.17" class="cb" font-size="5.319999999999999" fill="#1c1c1c" stroke="#1c1c1c">9605</text>
<text x="876.25" y="446.67" class="cb" font-size="5.319999999999999" fill="#1c1c1c" stroke="#1c1c1c">9607</text>
<rect x="910.5" y="415" width="17.5" height="34" fill="#8db6e2"/>
<text x="919.25" y="421.17" class="cb" font-size="5.319999999999999" fill="#1c1c1c" stroke="#1c1c1c">9301</text>
<text x="919.25" y="429.67" class="cb" font-size="5.319999999999999" fill="#1c1c1c" stroke="#1c1c1c">9303</text>
<text x="919.25" y="438.17" class="cb" font-size="5.319999999999999" fill="#1c1c1c" stroke="#1c1c1c">9305</text>
<text x="919.25" y="446.67" class="cb" font-size="5.319999999999999" fill="#1c1c1c" stroke="#1c1c1c">9307</text>
<rect x="864" y="477.5" width="6.5" height="21.5" fill="#fff" stroke="#c2c2c2" stroke-width="0.5"/>
<g transform="translate(867.45,488.25) rotate(-90) scale(0.8106,1)" class="lb" font-size="6.55" fill="#111">
<text x="0" y="2.36">ELEV.</text>
</g>
<rect x="924.5" y="477.5" width="6.5" height="21.5" fill="#fff" stroke="#c2c2c2" stroke-width="0.5"/>
<g transform="translate(927.95,488.25) rotate(-90) scale(0.8106,1)" class="lb" font-size="6.55" fill="#111">
<text x="0" y="2.36">ELEV.</text>
</g>
<path d="M884,500 V482 q13.5,-18 27,0 V500 Z" fill="none" stroke="#c2c2c2" stroke-width="0.5"/>
<rect x="887.5" y="509" width="20" height="17" fill="#d5ab98"/>
<text x="897.5" y="515.17" class="cb" font-size="5.319999999999999" fill="#1c1c1c" stroke="#1c1c1c">9329</text>
<text x="897.5" y="523.67" class="cb" font-size="5.319999999999999" fill="#1c1c1c" stroke="#1c1c1c">9331</text>
<rect x="888" y="531" width="18" height="20" fill="#d5ab98"/>
<text x="892.5" y="542.78" class="cb" font-size="4.9399999999999995" fill="#1c1c1c" stroke="#1c1c1c" transform="rotate(-90 892.5 541)">9335</text>
<text x="901.5" y="542.78" class="cb" font-size="4.9399999999999995" fill="#1c1c1c" stroke="#1c1c1c" transform="rotate(-90 901.5 541)">9333</text>
<rect x="865" y="514" width="15" height="11.5" fill="#e5d098"/>
<line x1="868.75" y1="514" x2="868.75" y2="525.5" stroke="#c9b278" stroke-width="0.3"/>
<line x1="872.5" y1="514" x2="872.5" y2="525.5" stroke="#c9b278" stroke-width="0.3"/>
<line x1="876.25" y1="514" x2="876.25" y2="525.5" stroke="#c9b278" stroke-width="0.3"/>
<line x1="865" y1="519.75" x2="880" y2="519.75" stroke="#c9b278" stroke-width="0.3"/>
<rect x="914" y="514" width="15" height="11.5" fill="#e5d098"/>
<line x1="917.75" y1="514" x2="917.75" y2="525.5" stroke="#c9b278" stroke-width="0.3"/>
<line x1="921.5" y1="514" x2="921.5" y2="525.5" stroke="#c9b278" stroke-width="0.3"/>
<line x1="925.25" y1="514" x2="925.25" y2="525.5" stroke="#c9b278" stroke-width="0.3"/>
<line x1="914" y1="519.75" x2="929" y2="519.75" stroke="#c9b278" stroke-width="0.3"/>
<rect x="867.5" y="572" width="16.5" height="95" fill="#d5ab98"/>
<text x="875.75" y="578.23" class="cb" font-size="5.319999999999999" fill="#1c1c1c" stroke="#1c1c1c">9637</text>
<text x="875.75" y="586.87" class="cb" font-size="5.319999999999999" fill="#1c1c1c" stroke="#1c1c1c">9639</text>
<text x="875.75" y="595.51" class="cb" font-size="5.319999999999999" fill="#1c1c1c" stroke="#1c1c1c">9641</text>
<text x="875.75" y="604.14" class="cb" font-size="5.319999999999999" fill="#1c1c1c" stroke="#1c1c1c">9643</text>
<text x="875.75" y="612.78" class="cb" font-size="5.319999999999999" fill="#1c1c1c" stroke="#1c1c1c">9645</text>
<text x="875.75" y="621.42" class="cb" font-size="5.319999999999999" fill="#1c1c1c" stroke="#1c1c1c">9647*</text>
<text x="875.75" y="630.05" class="cb" font-size="5.319999999999999" fill="#1c1c1c" stroke="#1c1c1c">9649*</text>
<text x="875.75" y="638.69" class="cb" font-size="5.319999999999999" fill="#1c1c1c" stroke="#1c1c1c">9651*</text>
<text x="875.75" y="647.32" class="cb" font-size="5.319999999999999" fill="#1c1c1c" stroke="#1c1c1c">9653*</text>
<text x="875.75" y="655.96" class="cb" font-size="5.319999999999999" fill="#1c1c1c" stroke="#1c1c1c">9655*</text>
<text x="875.75" y="664.6" class="cb" font-size="5.319999999999999" fill="#1c1c1c" stroke="#1c1c1c">9657</text>
<rect x="910.5" y="566" width="17" height="93" fill="#d5ab98"/>
<g transform="translate(919,570.23) scale(1.0)" fill="none" stroke="#1c1c1c" stroke-width="0.7"><circle cx="-0.4" cy="-2.6" r="0.6" fill="#1c1c1c" stroke="none"/><path d="M-0.4,-1.8 V0.4 H1.4 L2.2,2.4 M-0.4,-0.8 H1.2"/><path d="M-1.2,-0.2 A2,2 0 1 0 1.6,2.2"/></g>
<text x="919" y="580.6" class="cb" font-size="5.319999999999999" fill="#1c1c1c" stroke="#1c1c1c">9337</text>
<text x="919" y="589.05" class="cb" font-size="5.319999999999999" fill="#1c1c1c" stroke="#1c1c1c">9339</text>
<text x="919" y="597.51" class="cb" font-size="5.319999999999999" fill="#1c1c1c" stroke="#1c1c1c">9341</text>
<text x="919" y="605.96" class="cb" font-size="5.319999999999999" fill="#1c1c1c" stroke="#1c1c1c">9343</text>
<text x="919" y="614.42" class="cb" font-size="5.319999999999999" fill="#1c1c1c" stroke="#1c1c1c">9345</text>
<text x="919" y="622.87" class="cb" font-size="5.319999999999999" fill="#1c1c1c" stroke="#1c1c1c">9347</text>
<text x="919" y="631.32" class="cb" font-size="5.319999999999999" fill="#1c1c1c" stroke="#1c1c1c">9349*</text>
<text x="919" y="639.78" class="cb" font-size="5.319999999999999" fill="#1c1c1c" stroke="#1c1c1c">9351*</text>
<text x="919" y="648.23" class="cb" font-size="5.319999999999999" fill="#1c1c1c" stroke="#1c1c1c">9353*</text>
<text x="919" y="656.69" class="cb" font-size="5.319999999999999" fill="#1c1c1c" stroke="#1c1c1c">9355*</text>
<rect x="867.5" y="696" width="16.5" height="77" fill="#d5ab98"/>
<text x="875.75" y="702.19" class="cb" font-size="5.319999999999999" fill="#1c1c1c" stroke="#1c1c1c">9665</text>
<text x="875.75" y="710.75" class="cb" font-size="5.319999999999999" fill="#1c1c1c" stroke="#1c1c1c">9667*</text>
<text x="875.75" y="719.3" class="cb" font-size="5.319999999999999" fill="#1c1c1c" stroke="#1c1c1c">9669*</text>
<text x="875.75" y="727.86" class="cb" font-size="5.319999999999999" fill="#1c1c1c" stroke="#1c1c1c">9671*</text>
<text x="875.75" y="736.42" class="cb" font-size="5.319999999999999" fill="#1c1c1c" stroke="#1c1c1c">9673</text>
<text x="875.75" y="744.97" class="cb" font-size="5.319999999999999" fill="#1c1c1c" stroke="#1c1c1c">9675</text>
<text x="875.75" y="753.53" class="cb" font-size="5.319999999999999" fill="#1c1c1c" stroke="#1c1c1c">9677</text>
<text x="875.75" y="762.08" class="cb" font-size="5.319999999999999" fill="#1c1c1c" stroke="#1c1c1c">9679</text>
<text x="875.75" y="770.64" class="cb" font-size="5.319999999999999" fill="#1c1c1c" stroke="#1c1c1c">9683*</text>
<rect x="886" y="696" width="17" height="77" fill="#d5ab98"/>
<text x="894.5" y="702.19" class="cb" font-size="5.319999999999999" fill="#1c1c1c" stroke="#1c1c1c">9465*</text>
<text x="894.5" y="710.75" class="cb" font-size="5.319999999999999" fill="#1c1c1c" stroke="#1c1c1c">9467*</text>
<text x="894.5" y="719.3" class="cb" font-size="5.319999999999999" fill="#1c1c1c" stroke="#1c1c1c">9469*</text>
<text x="894.5" y="727.86" class="cb" font-size="5.319999999999999" fill="#1c1c1c" stroke="#1c1c1c">9471</text>
<text x="894.5" y="736.42" class="cb" font-size="5.319999999999999" fill="#1c1c1c" stroke="#1c1c1c">9473</text>
<text x="894.5" y="744.97" class="cb" font-size="5.319999999999999" fill="#1c1c1c" stroke="#1c1c1c">9475</text>
<text x="894.5" y="753.53" class="cb" font-size="5.319999999999999" fill="#1c1c1c" stroke="#1c1c1c">9477</text>
<text x="894.5" y="762.08" class="cb" font-size="5.319999999999999" fill="#1c1c1c" stroke="#1c1c1c">9479</text>
<text x="894.5" y="770.64" class="cb" font-size="5.319999999999999" fill="#1c1c1c" stroke="#1c1c1c">9483*</text>
<rect x="910" y="696" width="17.5" height="77" fill="#d5ab98"/>
<text x="918.75" y="702.19" class="cb" font-size="5.319999999999999" fill="#1c1c1c" stroke="#1c1c1c">9365</text>
<text x="918.75" y="710.75" class="cb" font-size="5.319999999999999" fill="#1c1c1c" stroke="#1c1c1c">9367</text>
<text x="918.75" y="719.3" class="cb" font-size="5.319999999999999" fill="#1c1c1c" stroke="#1c1c1c">9369</text>
<text x="918.75" y="727.86" class="cb" font-size="5.319999999999999" fill="#1c1c1c" stroke="#1c1c1c">9371</text>
<text x="918.75" y="736.42" class="cb" font-size="5.319999999999999" fill="#1c1c1c" stroke="#1c1c1c">9373</text>
<text x="918.75" y="744.97" class="cb" font-size="5.319999999999999" fill="#1c1c1c" stroke="#1c1c1c">9375</text>
<text x="918.75" y="753.53" class="cb" font-size="5.319999999999999" fill="#1c1c1c" stroke="#1c1c1c">9377</text>
<text x="918.75" y="762.08" class="cb" font-size="5.319999999999999" fill="#1c1c1c" stroke="#1c1c1c">9379</text>
<text x="918.75" y="770.64" class="cb" font-size="5.319999999999999" fill="#1c1c1c" stroke="#1c1c1c">9383</text>
<path d="M885,572 V696 M910,659 V696 M865,572 V756 M930.5,572 V756" fill="none" stroke="#c2c2c2" stroke-width="0.5"/>
<rect x="853" y="779" width="19" height="20" fill="#f4b9bf"/>
<text x="857.75" y="790.78" class="cb" font-size="4.9399999999999995" fill="#1c1c1c" stroke="#1c1c1c" transform="rotate(-90 857.75 789)">9690</text>
<line x1="862.5" y1="779" x2="862.5" y2="799" stroke="rgba(0,0,0,0.15)" stroke-width="0.4"/>
<text x="867.25" y="790.78" class="cb" font-size="4.9399999999999995" fill="#1c1c1c" stroke="#1c1c1c" transform="rotate(-90 867.25 789)">9692</text>
<rect x="872" y="777.5" width="51" height="21.5" fill="#9c1c22"/>
<text x="884.75" y="790.03" class="cb" font-size="4.9399999999999995" fill="#fff" stroke="#fff" transform="rotate(-90 884.75 788.25)">9694</text>
<line x1="897.5" y1="777.5" x2="897.5" y2="799" stroke="rgba(255,255,255,0.4)" stroke-width="0.4"/>
<text x="910.25" y="790.03" class="cb" font-size="4.9399999999999995" fill="#fff" stroke="#fff" transform="rotate(-90 910.25 788.25)">9394</text>
<rect x="923" y="779" width="18" height="20" fill="#f4b9bf"/>
<text x="927.5" y="790.78" class="cb" font-size="4.9399999999999995" fill="#1c1c1c" stroke="#1c1c1c" transform="rotate(-90 927.5 789)">9392</text>
<line x1="932" y1="779" x2="932" y2="799" stroke="rgba(0,0,0,0.15)" stroke-width="0.4"/>
<text x="936.5" y="790.78" class="cb" font-size="4.9399999999999995" fill="#1c1c1c" stroke="#1c1c1c" transform="rotate(-90 936.5 789)">9390</text>
<line x1="853" y1="799" x2="853" y2="807" stroke="#c2c2c2" stroke-width="0.4"/>
<line x1="862" y1="799" x2="862" y2="807" stroke="#c2c2c2" stroke-width="0.4"/>
<line x1="872" y1="799" x2="872" y2="807" stroke="#c2c2c2" stroke-width="0.4"/>
<line x1="897.5" y1="799" x2="897.5" y2="807" stroke="#c2c2c2" stroke-width="0.4"/>
<line x1="923" y1="799" x2="923" y2="807" stroke="#c2c2c2" stroke-width="0.4"/>
<line x1="932" y1="799" x2="932" y2="807" stroke="#c2c2c2" stroke-width="0.4"/>
<line x1="941" y1="799" x2="941" y2="807" stroke="#c2c2c2" stroke-width="0.4"/>
<line x1="850" y1="807" x2="945" y2="807" stroke="#c2c2c2" stroke-width="0.4"/>
<ellipse cx="897.5" cy="814" rx="30" ry="4.5" fill="none" stroke="#c2c2c2" stroke-width="0.5"/>
<text x="906" y="871" class="dk">DECK 9</text>
<path d="M992.5,460 V50 C992.5,20 1022,1 1052.25,1 C1082,1 1112,20 1112,50 V460 C1112.5,472 1119,485 1119,497.5 C1119,515 1113,528 1112.5,540 V762 C1112.5,800 1082,825 1052.5,825 C1023,825 992,800 992,762 V540 C991.5,528 986,515 986,497.5 C986,485 992,472 992.5,460" fill="none" stroke="#686868" stroke-width="0.9"/>
<path d="M995.5,50 C995.5,23 1023,4 1052.25,4 C1081,4 1109,23 1109,50 V460 M995.5,50 V460" fill="none" stroke="#c2c2c2" stroke-width="0.5"/>
<line x1="992.5" y1="60" x2="997.5" y2="60" stroke="#c2c2c2" stroke-width="0.35"/>
<line x1="1107.5" y1="60" x2="1112" y2="60" stroke="#c2c2c2" stroke-width="0.35"/>
<line x1="992.5" y1="68.5" x2="997.5" y2="68.5" stroke="#c2c2c2" stroke-width="0.35"/>
<line x1="1107.5" y1="68.5" x2="1112" y2="68.5" stroke="#c2c2c2" stroke-width="0.35"/>
<line x1="992.5" y1="77" x2="997.5" y2="77" stroke="#c2c2c2" stroke-width="0.35"/>
<line x1="1107.5" y1="77" x2="1112" y2="77" stroke="#c2c2c2" stroke-width="0.35"/>
<line x1="992.5" y1="85.5" x2="997.5" y2="85.5" stroke="#c2c2c2" stroke-width="0.35"/>
<line x1="1107.5" y1="85.5" x2="1112" y2="85.5" stroke="#c2c2c2" stroke-width="0.35"/>
<line x1="992.5" y1="94" x2="997.5" y2="94" stroke="#c2c2c2" stroke-width="0.35"/>
<line x1="1107.5" y1="94" x2="1112" y2="94" stroke="#c2c2c2" stroke-width="0.35"/>
<line x1="992.5" y1="102.5" x2="997.5" y2="102.5" stroke="#c2c2c2" stroke-width="0.35"/>
<line x1="1107.5" y1="102.5" x2="1112" y2="102.5" stroke="#c2c2c2" stroke-width="0.35"/>
<line x1="992.5" y1="111" x2="997.5" y2="111" stroke="#c2c2c2" stroke-width="0.35"/>
<line x1="1107.5" y1="111" x2="1112" y2="111" stroke="#c2c2c2" stroke-width="0.35"/>
<line x1="992.5" y1="119.5" x2="997.5" y2="119.5" stroke="#c2c2c2" stroke-width="0.35"/>
<line x1="1107.5" y1="119.5" x2="1112" y2="119.5" stroke="#c2c2c2" stroke-width="0.35"/>
<line x1="992.5" y1="128" x2="997.5" y2="128" stroke="#c2c2c2" stroke-width="0.35"/>
<line x1="1107.5" y1="128" x2="1112" y2="128" stroke="#c2c2c2" stroke-width="0.35"/>
<line x1="992.5" y1="136.5" x2="997.5" y2="136.5" stroke="#c2c2c2" stroke-width="0.35"/>
<line x1="1107.5" y1="136.5" x2="1112" y2="136.5" stroke="#c2c2c2" stroke-width="0.35"/>
<line x1="992.5" y1="145" x2="997.5" y2="145" stroke="#c2c2c2" stroke-width="0.35"/>
<line x1="1107.5" y1="145" x2="1112" y2="145" stroke="#c2c2c2" stroke-width="0.35"/>
<line x1="992.5" y1="153.5" x2="997.5" y2="153.5" stroke="#c2c2c2" stroke-width="0.35"/>
<line x1="1107.5" y1="153.5" x2="1112" y2="153.5" stroke="#c2c2c2" stroke-width="0.35"/>
<line x1="992.5" y1="162" x2="997.5" y2="162" stroke="#c2c2c2" stroke-width="0.35"/>
<line x1="1107.5" y1="162" x2="1112" y2="162" stroke="#c2c2c2" stroke-width="0.35"/>
<line x1="992.5" y1="170.5" x2="997.5" y2="170.5" stroke="#c2c2c2" stroke-width="0.35"/>
<line x1="1107.5" y1="170.5" x2="1112" y2="170.5" stroke="#c2c2c2" stroke-width="0.35"/>
<line x1="992.5" y1="179" x2="997.5" y2="179" stroke="#c2c2c2" stroke-width="0.35"/>
<line x1="1107.5" y1="179" x2="1112" y2="179" stroke="#c2c2c2" stroke-width="0.35"/>
<line x1="992.5" y1="187.5" x2="997.5" y2="187.5" stroke="#c2c2c2" stroke-width="0.35"/>
<line x1="1107.5" y1="187.5" x2="1112" y2="187.5" stroke="#c2c2c2" stroke-width="0.35"/>
<line x1="992.5" y1="196" x2="997.5" y2="196" stroke="#c2c2c2" stroke-width="0.35"/>
<line x1="1107.5" y1="196" x2="1112" y2="196" stroke="#c2c2c2" stroke-width="0.35"/>
<line x1="992.5" y1="204.5" x2="997.5" y2="204.5" stroke="#c2c2c2" stroke-width="0.35"/>
<line x1="1107.5" y1="204.5" x2="1112" y2="204.5" stroke="#c2c2c2" stroke-width="0.35"/>
<line x1="992.5" y1="213" x2="997.5" y2="213" stroke="#c2c2c2" stroke-width="0.35"/>
<line x1="1107.5" y1="213" x2="1112" y2="213" stroke="#c2c2c2" stroke-width="0.35"/>
<line x1="992.5" y1="221.5" x2="997.5" y2="221.5" stroke="#c2c2c2" stroke-width="0.35"/>
<line x1="1107.5" y1="221.5" x2="1112" y2="221.5" stroke="#c2c2c2" stroke-width="0.35"/>
<line x1="992.5" y1="230" x2="997.5" y2="230" stroke="#c2c2c2" stroke-width="0.35"/>
<line x1="1107.5" y1="230" x2="1112" y2="230" stroke="#c2c2c2" stroke-width="0.35"/>
<line x1="992.5" y1="238.5" x2="997.5" y2="238.5" stroke="#c2c2c2" stroke-width="0.35"/>
<line x1="1107.5" y1="238.5" x2="1112" y2="238.5" stroke="#c2c2c2" stroke-width="0.35"/>
<line x1="992.5" y1="247" x2="997.5" y2="247" stroke="#c2c2c2" stroke-width="0.35"/>
<line x1="1107.5" y1="247" x2="1112" y2="247" stroke="#c2c2c2" stroke-width="0.35"/>
<line x1="992.5" y1="255.5" x2="997.5" y2="255.5" stroke="#c2c2c2" stroke-width="0.35"/>
<line x1="1107.5" y1="255.5" x2="1112" y2="255.5" stroke="#c2c2c2" stroke-width="0.35"/>
<line x1="992.5" y1="264" x2="997.5" y2="264" stroke="#c2c2c2" stroke-width="0.35"/>
<line x1="1107.5" y1="264" x2="1112" y2="264" stroke="#c2c2c2" stroke-width="0.35"/>
<line x1="992.5" y1="272.5" x2="997.5" y2="272.5" stroke="#c2c2c2" stroke-width="0.35"/>
<line x1="1107.5" y1="272.5" x2="1112" y2="272.5" stroke="#c2c2c2" stroke-width="0.35"/>
<line x1="992.5" y1="281" x2="997.5" y2="281" stroke="#c2c2c2" stroke-width="0.35"/>
<line x1="1107.5" y1="281" x2="1112" y2="281" stroke="#c2c2c2" stroke-width="0.35"/>
<line x1="992.5" y1="289.5" x2="997.5" y2="289.5" stroke="#c2c2c2" stroke-width="0.35"/>
<line x1="1107.5" y1="289.5" x2="1112" y2="289.5" stroke="#c2c2c2" stroke-width="0.35"/>
<line x1="992.5" y1="298" x2="997.5" y2="298" stroke="#c2c2c2" stroke-width="0.35"/>
<line x1="1107.5" y1="298" x2="1112" y2="298" stroke="#c2c2c2" stroke-width="0.35"/>
<line x1="992.5" y1="306.5" x2="997.5" y2="306.5" stroke="#c2c2c2" stroke-width="0.35"/>
<line x1="1107.5" y1="306.5" x2="1112" y2="306.5" stroke="#c2c2c2" stroke-width="0.35"/>
<line x1="992.5" y1="315" x2="997.5" y2="315" stroke="#c2c2c2" stroke-width="0.35"/>
<line x1="1107.5" y1="315" x2="1112" y2="315" stroke="#c2c2c2" stroke-width="0.35"/>
<line x1="992.5" y1="323.5" x2="997.5" y2="323.5" stroke="#c2c2c2" stroke-width="0.35"/>
<line x1="1107.5" y1="323.5" x2="1112" y2="323.5" stroke="#c2c2c2" stroke-width="0.35"/>
<line x1="992.5" y1="332" x2="997.5" y2="332" stroke="#c2c2c2" stroke-width="0.35"/>
<line x1="1107.5" y1="332" x2="1112" y2="332" stroke="#c2c2c2" stroke-width="0.35"/>
<line x1="992.5" y1="340.5" x2="997.5" y2="340.5" stroke="#c2c2c2" stroke-width="0.35"/>
<line x1="1107.5" y1="340.5" x2="1112" y2="340.5" stroke="#c2c2c2" stroke-width="0.35"/>
<line x1="992.5" y1="349" x2="997.5" y2="349" stroke="#c2c2c2" stroke-width="0.35"/>
<line x1="1107.5" y1="349" x2="1112" y2="349" stroke="#c2c2c2" stroke-width="0.35"/>
<line x1="992.5" y1="357.5" x2="997.5" y2="357.5" stroke="#c2c2c2" stroke-width="0.35"/>
<line x1="1107.5" y1="357.5" x2="1112" y2="357.5" stroke="#c2c2c2" stroke-width="0.35"/>
<line x1="992.5" y1="366" x2="997.5" y2="366" stroke="#c2c2c2" stroke-width="0.35"/>
<line x1="1107.5" y1="366" x2="1112" y2="366" stroke="#c2c2c2" stroke-width="0.35"/>
<line x1="992.5" y1="374.5" x2="997.5" y2="374.5" stroke="#c2c2c2" stroke-width="0.35"/>
<line x1="1107.5" y1="374.5" x2="1112" y2="374.5" stroke="#c2c2c2" stroke-width="0.35"/>
<line x1="992.5" y1="383" x2="997.5" y2="383" stroke="#c2c2c2" stroke-width="0.35"/>
<line x1="1107.5" y1="383" x2="1112" y2="383" stroke="#c2c2c2" stroke-width="0.35"/>
<line x1="992.5" y1="391.5" x2="997.5" y2="391.5" stroke="#c2c2c2" stroke-width="0.35"/>
<line x1="1107.5" y1="391.5" x2="1112" y2="391.5" stroke="#c2c2c2" stroke-width="0.35"/>
<line x1="992.5" y1="400" x2="997.5" y2="400" stroke="#c2c2c2" stroke-width="0.35"/>
<line x1="1107.5" y1="400" x2="1112" y2="400" stroke="#c2c2c2" stroke-width="0.35"/>
<line x1="992.5" y1="408.5" x2="997.5" y2="408.5" stroke="#c2c2c2" stroke-width="0.35"/>
<line x1="1107.5" y1="408.5" x2="1112" y2="408.5" stroke="#c2c2c2" stroke-width="0.35"/>
<line x1="992.5" y1="417" x2="997.5" y2="417" stroke="#c2c2c2" stroke-width="0.35"/>
<line x1="1107.5" y1="417" x2="1112" y2="417" stroke="#c2c2c2" stroke-width="0.35"/>
<line x1="992.5" y1="425.5" x2="997.5" y2="425.5" stroke="#c2c2c2" stroke-width="0.35"/>
<line x1="1107.5" y1="425.5" x2="1112" y2="425.5" stroke="#c2c2c2" stroke-width="0.35"/>
<line x1="992.5" y1="434" x2="997.5" y2="434" stroke="#c2c2c2" stroke-width="0.35"/>
<line x1="1107.5" y1="434" x2="1112" y2="434" stroke="#c2c2c2" stroke-width="0.35"/>
<line x1="992.5" y1="442.5" x2="997.5" y2="442.5" stroke="#c2c2c2" stroke-width="0.35"/>
<line x1="1107.5" y1="442.5" x2="1112" y2="442.5" stroke="#c2c2c2" stroke-width="0.35"/>
<line x1="992.5" y1="451" x2="997.5" y2="451" stroke="#c2c2c2" stroke-width="0.35"/>
<line x1="1107.5" y1="451" x2="1112" y2="451" stroke="#c2c2c2" stroke-width="0.35"/>
<line x1="992.5" y1="459.5" x2="997.5" y2="459.5" stroke="#c2c2c2" stroke-width="0.35"/>
<line x1="1107.5" y1="459.5" x2="1112" y2="459.5" stroke="#c2c2c2" stroke-width="0.35"/>
<path d="M1021,21 Q1021,16 1028,14.5 Q1052,10 1078,14.5 Q1086,16 1086,21 V25 H1063.5 V21 Z" fill="#c0e0a2" stroke="none" stroke-width="0"/>
<text x="1040" y="19.58" class="cb" font-size="4.9399999999999995" fill="#1c1c1c" stroke="#1c1c1c">8600</text>
<text x="1066" y="19.58" class="cb" font-size="4.9399999999999995" fill="#1c1c1c" stroke="#1c1c1c">8200</text>
<rect x="1045.5" y="15.3" width="4" height="4" fill="none" stroke="#333" stroke-width="0.4"/>
<rect x="1071.5" y="15.3" width="4" height="4" fill="none" stroke="#333" stroke-width="0.4"/>
<rect x="997.5" y="44" width="19.8" height="8" fill="#ef9dcc"/>
<text x="1007.4" y="49.92" class="cb" font-size="5.319999999999999" fill="#1c1c1c" stroke="#1c1c1c">8514 *</text>
<rect x="997.5" y="52" width="19.8" height="85" fill="#a6d6ef"/>
<text x="1007.4" y="58.17" class="cb" font-size="5.319999999999999" fill="#1c1c1c" stroke="#1c1c1c">8516 *</text>
<text x="1007.4" y="66.67" class="cb" font-size="5.319999999999999" fill="#1c1c1c" stroke="#1c1c1c">8518 *</text>
<text x="1007.4" y="75.17" class="cb" font-size="5.319999999999999" fill="#1c1c1c" stroke="#1c1c1c">8520 Δ</text>
<text x="1007.4" y="83.67" class="cb" font-size="5.319999999999999" fill="#1c1c1c" stroke="#1c1c1c">8522</text>
<text x="1007.4" y="92.17" class="cb" font-size="5.319999999999999" fill="#1c1c1c" stroke="#1c1c1c">8524 Δ</text>
<text x="1007.4" y="100.67" class="cb" font-size="5.319999999999999" fill="#1c1c1c" stroke="#1c1c1c">8526 Δ</text>
<text x="1007.4" y="109.17" class="cb" font-size="5.319999999999999" fill="#1c1c1c" stroke="#1c1c1c">8528 Δ</text>
<text x="1007.4" y="117.67" class="cb" font-size="5.319999999999999" fill="#1c1c1c" stroke="#1c1c1c">8530 Δ</text>
<text x="1007.4" y="126.17" class="cb" font-size="5.319999999999999" fill="#1c1c1c" stroke="#1c1c1c">8532 Δ</text>
<text x="1007.4" y="134.67" class="cb" font-size="5.319999999999999" fill="#1c1c1c" stroke="#1c1c1c">8534 Δ</text>
<rect x="997.5" y="137.5" width="19.8" height="26.5" fill="#f6d4de"/>
<text x="1007.4" y="143.83" class="cb" font-size="5.319999999999999" fill="#1c1c1c" stroke="#1c1c1c">8536 Δ</text>
<text x="1007.4" y="152.67" class="cb" font-size="5.319999999999999" fill="#1c1c1c" stroke="#1c1c1c">8538 Δ</text>
<text x="1007.4" y="161.5" class="cb" font-size="5.319999999999999" fill="#1c1c1c" stroke="#1c1c1c">8540 Δ</text>
<rect x="997.5" y="164" width="19.8" height="8" fill="#7e5fbb"/>
<text x="1007.4" y="169.92" class="cb" font-size="5.319999999999999" fill="#1c1c1c" stroke="#1c1c1c">8542</text>
<rect x="997.5" y="172.5" width="19.8" height="33" fill="#f6d4de"/>
<text x="1007.4" y="178.54" class="cb" font-size="5.319999999999999" fill="#1c1c1c" stroke="#1c1c1c">8544 Δ</text>
<text x="1007.4" y="186.79" class="cb" font-size="5.319999999999999" fill="#1c1c1c" stroke="#1c1c1c">8546 Δ</text>
<text x="1007.4" y="195.04" class="cb" font-size="5.319999999999999" fill="#1c1c1c" stroke="#1c1c1c">8548 Δ</text>
<text x="1007.4" y="203.29" class="cb" font-size="5.319999999999999" fill="#1c1c1c" stroke="#1c1c1c">8550 Δ</text>
<rect x="997.5" y="206" width="19.8" height="8" fill="#41b3d2"/>
<text x="1007.4" y="211.92" class="cb" font-size="5.319999999999999" fill="#1c1c1c" stroke="#1c1c1c">8552</text>
<rect x="997.5" y="214.5" width="19.8" height="16.5" fill="#f6d4de"/>
<text x="1007.4" y="220.54" class="cb" font-size="5.319999999999999" fill="#1c1c1c" stroke="#1c1c1c">8554 Δ</text>
<text x="1007.4" y="228.79" class="cb" font-size="5.319999999999999" fill="#1c1c1c" stroke="#1c1c1c">8556 Δ</text>
<rect x="997.5" y="231" width="19.8" height="9" fill="#41b3d2"/>
<text x="1007.4" y="237.42" class="cb" font-size="5.319999999999999" fill="#1c1c1c" stroke="#1c1c1c">8558</text>
<rect x="997.5" y="240.5" width="19.8" height="16.5" fill="#f6d4de"/>
<text x="1007.4" y="246.54" class="cb" font-size="5.319999999999999" fill="#1c1c1c" stroke="#1c1c1c">8560 Δ</text>
<text x="1007.4" y="254.79" class="cb" font-size="5.319999999999999" fill="#1c1c1c" stroke="#1c1c1c">8562 Δ</text>
<rect x="997.5" y="257.5" width="19.8" height="8" fill="#41b3d2"/>
<text x="1007.4" y="263.42" class="cb" font-size="5.319999999999999" fill="#1c1c1c" stroke="#1c1c1c">8564</text>
<rect x="997.5" y="266" width="19.8" height="26" fill="#f6d4de"/>
<text x="1007.4" y="272.25" class="cb" font-size="5.319999999999999" fill="#1c1c1c" stroke="#1c1c1c">8566 Δ</text>
<text x="1007.4" y="280.92" class="cb" font-size="5.319999999999999" fill="#1c1c1c" stroke="#1c1c1c">8568 Δ</text>
<text x="1007.4" y="289.58" class="cb" font-size="5.319999999999999" fill="#1c1c1c" stroke="#1c1c1c">8570 Δ</text>
<rect x="997.5" y="292.5" width="19.8" height="117.5" fill="#41b3d2"/>
<text x="1007.4" y="298.61" class="cb" font-size="5.319999999999999" fill="#1c1c1c" stroke="#1c1c1c">8572</text>
<text x="1007.4" y="307" class="cb" font-size="5.319999999999999" fill="#1c1c1c" stroke="#1c1c1c">8574</text>
<text x="1007.4" y="315.4" class="cb" font-size="5.319999999999999" fill="#1c1c1c" stroke="#1c1c1c">8576</text>
<text x="1007.4" y="323.79" class="cb" font-size="5.319999999999999" fill="#1c1c1c" stroke="#1c1c1c">8578</text>
<text x="1007.4" y="332.18" class="cb" font-size="5.319999999999999" fill="#1c1c1c" stroke="#1c1c1c">8580</text>
<text x="1007.4" y="340.58" class="cb" font-size="5.319999999999999" fill="#1c1c1c" stroke="#1c1c1c">8582</text>
<text x="1007.4" y="348.97" class="cb" font-size="5.319999999999999" fill="#1c1c1c" stroke="#1c1c1c">8584</text>
<text x="1007.4" y="357.36" class="cb" font-size="5.319999999999999" fill="#1c1c1c" stroke="#1c1c1c">8586</text>
<text x="1007.4" y="365.75" class="cb" font-size="5.319999999999999" fill="#1c1c1c" stroke="#1c1c1c">8588</text>
<text x="1007.4" y="374.15" class="cb" font-size="5.319999999999999" fill="#1c1c1c" stroke="#1c1c1c">8590</text>
<text x="1007.4" y="382.54" class="cb" font-size="5.319999999999999" fill="#1c1c1c" stroke="#1c1c1c">8592</text>
<text x="1007.4" y="390.93" class="cb" font-size="5.319999999999999" fill="#1c1c1c" stroke="#1c1c1c">8594</text>
<text x="1007.4" y="399.33" class="cb" font-size="5.319999999999999" fill="#1c1c1c" stroke="#1c1c1c">8596</text>
<text x="1007.4" y="407.72" class="cb" font-size="5.319999999999999" fill="#1c1c1c" stroke="#1c1c1c">8598</text>
<rect x="997.5" y="412" width="19.8" height="25" fill="#41b3d2"/>
<text x="1007.4" y="418.08" class="cb" font-size="5.319999999999999" fill="#1c1c1c" stroke="#1c1c1c">8600</text>
<text x="1007.4" y="426.42" class="cb" font-size="5.319999999999999" fill="#1c1c1c" stroke="#1c1c1c">8602</text>
<text x="1007.4" y="434.75" class="cb" font-size="5.319999999999999" fill="#1c1c1c" stroke="#1c1c1c">8604</text>
<rect x="997.5" y="437.5" width="19.8" height="16.5" fill="#f5c462"/>
<text x="1007.4" y="443.54" class="cb" font-size="5.319999999999999" fill="#1c1c1c" stroke="#1c1c1c">8606</text>
<text x="1007.4" y="451.79" class="cb" font-size="5.319999999999999" fill="#1c1c1c" stroke="#1c1c1c">8608</text>
<rect x="997.5" y="455" width="19.8" height="8" fill="#41b3d2"/>
<text x="1007.4" y="460.92" class="cb" font-size="5.319999999999999" fill="#1c1c1c" stroke="#1c1c1c">8610</text>
<rect x="1087.5" y="44" width="19.8" height="8" fill="#ef9dcc"/>
<text x="1097.4" y="49.92" class="cb" font-size="5.319999999999999" fill="#1c1c1c" stroke="#1c1c1c">8214 *</text>
<rect x="1087.5" y="52" width="19.8" height="102" fill="#a6d6ef"/>
<text x="1097.4" y="58.17" class="cb" font-size="5.319999999999999" fill="#1c1c1c" stroke="#1c1c1c">8216 *</text>
<text x="1097.4" y="66.67" class="cb" font-size="5.319999999999999" fill="#1c1c1c" stroke="#1c1c1c">8218 *</text>
<text x="1097.4" y="75.17" class="cb" font-size="5.319999999999999" fill="#1c1c1c" stroke="#1c1c1c">8220 *</text>
<text x="1097.4" y="83.67" class="cb" font-size="5.319999999999999" fill="#1c1c1c" stroke="#1c1c1c">8222 *</text>
<text x="1097.4" y="92.17" class="cb" font-size="5.319999999999999" fill="#1c1c1c" stroke="#1c1c1c">8224</text>
<text x="1097.4" y="100.67" class="cb" font-size="5.319999999999999" fill="#1c1c1c" stroke="#1c1c1c">8226</text>
<text x="1097.4" y="109.17" class="cb" font-size="5.319999999999999" fill="#1c1c1c" stroke="#1c1c1c">8228 Δ</text>
<text x="1097.4" y="117.67" class="cb" font-size="5.319999999999999" fill="#1c1c1c" stroke="#1c1c1c">8230 Δ</text>
<text x="1097.4" y="126.17" class="cb" font-size="5.319999999999999" fill="#1c1c1c" stroke="#1c1c1c">8232 Δ</text>
<text x="1097.4" y="134.67" class="cb" font-size="5.319999999999999" fill="#1c1c1c" stroke="#1c1c1c">8234 Δ</text>
<text x="1097.4" y="143.17" class="cb" font-size="5.319999999999999" fill="#1c1c1c" stroke="#1c1c1c">8236 Δ</text>
<text x="1097.4" y="151.67" class="cb" font-size="5.319999999999999" fill="#1c1c1c" stroke="#1c1c1c">8238 Δ</text>
<rect x="1087.5" y="155.5" width="19.8" height="8.5" fill="#a6d6ef"/>
<text x="1097.4" y="161.67" class="cb" font-size="5.319999999999999" fill="#1c1c1c" stroke="#1c1c1c">8240 Δ</text>
<rect x="1087.5" y="164" width="19.8" height="8" fill="#7e5fbb"/>
<text x="1097.4" y="169.92" class="cb" font-size="5.319999999999999" fill="#1c1c1c" stroke="#1c1c1c">8242</text>
<rect x="1087.5" y="172.5" width="19.8" height="8" fill="#f6d4de"/>
<text x="1097.4" y="178.42" class="cb" font-size="5.319999999999999" fill="#1c1c1c" stroke="#1c1c1c">8244 Δ</text>
<rect x="1087.5" y="181" width="19.8" height="16.5" fill="#a6d6ef"/>
<text x="1097.4" y="187.04" class="cb" font-size="5.319999999999999" fill="#1c1c1c" stroke="#1c1c1c">8246 Δ</text>
<text x="1097.4" y="195.29" class="cb" font-size="5.319999999999999" fill="#1c1c1c" stroke="#1c1c1c">8248 Δ</text>
<rect x="1087.5" y="197.5" width="19.8" height="8" fill="#f6d4de"/>
<text x="1097.4" y="203.42" class="cb" font-size="5.319999999999999" fill="#1c1c1c" stroke="#1c1c1c">8250 Δ</text>
<rect x="1087.5" y="206" width="19.8" height="8" fill="#41b3d2"/>
<text x="1097.4" y="211.92" class="cb" font-size="5.319999999999999" fill="#1c1c1c" stroke="#1c1c1c">8252</text>
<rect x="1087.5" y="214.5" width="19.8" height="16.5" fill="#f6d4de"/>
<text x="1097.4" y="220.54" class="cb" font-size="5.319999999999999" fill="#1c1c1c" stroke="#1c1c1c">8254 Δ</text>
<text x="1097.4" y="228.79" class="cb" font-size="5.319999999999999" fill="#1c1c1c" stroke="#1c1c1c">8256 Δ</text>
<rect x="1087.5" y="231" width="19.8" height="9" fill="#41b3d2"/>
<text x="1097.4" y="237.42" class="cb" font-size="5.319999999999999" fill="#1c1c1c" stroke="#1c1c1c">8258</text>
<rect x="1087.5" y="240.5" width="19.8" height="16.5" fill="#f6d4de"/>
<text x="1097.4" y="246.54" class="cb" font-size="5.319999999999999" fill="#1c1c1c" stroke="#1c1c1c">8260 Δ</text>
<text x="1097.4" y="254.79" class="cb" font-size="5.319999999999999" fill="#1c1c1c" stroke="#1c1c1c">8262 Δ</text>
<rect x="1087.5" y="257.5" width="19.8" height="8" fill="#41b3d2"/>
<text x="1097.4" y="263.42" class="cb" font-size="5.319999999999999" fill="#1c1c1c" stroke="#1c1c1c">8264</text>
<rect x="1087.5" y="266" width="19.8" height="17" fill="#f6d4de"/>
<text x="1097.4" y="272.17" class="cb" font-size="5.319999999999999" fill="#1c1c1c" stroke="#1c1c1c">8266 Δ</text>
<text x="1097.4" y="280.67" class="cb" font-size="5.319999999999999" fill="#1c1c1c" stroke="#1c1c1c">8268 Δ</text>
<rect x="1087.5" y="284" width="19.8" height="126" fill="#41b3d2"/>
<text x="1097.4" y="290.12" class="cb" font-size="5.319999999999999" fill="#1c1c1c" stroke="#1c1c1c">8270</text>
<text x="1097.4" y="298.52" class="cb" font-size="5.319999999999999" fill="#1c1c1c" stroke="#1c1c1c">8272</text>
<text x="1097.4" y="306.92" class="cb" font-size="5.319999999999999" fill="#1c1c1c" stroke="#1c1c1c">8274</text>
<text x="1097.4" y="315.32" class="cb" font-size="5.319999999999999" fill="#1c1c1c" stroke="#1c1c1c">8276</text>
<text x="1097.4" y="323.72" class="cb" font-size="5.319999999999999" fill="#1c1c1c" stroke="#1c1c1c">8278</text>
<text x="1097.4" y="332.12" class="cb" font-size="5.319999999999999" fill="#1c1c1c" stroke="#1c1c1c">8280</text>
<text x="1097.4" y="340.52" class="cb" font-size="5.319999999999999" fill="#1c1c1c" stroke="#1c1c1c">8282</text>
<text x="1097.4" y="348.92" class="cb" font-size="5.319999999999999" fill="#1c1c1c" stroke="#1c1c1c">8284</text>
<text x="1097.4" y="357.32" class="cb" font-size="5.319999999999999" fill="#1c1c1c" stroke="#1c1c1c">8286</text>
<text x="1097.4" y="365.72" class="cb" font-size="5.319999999999999" fill="#1c1c1c" stroke="#1c1c1c">8288</text>
<text x="1097.4" y="374.12" class="cb" font-size="5.319999999999999" fill="#1c1c1c" stroke="#1c1c1c">8290</text>
<text x="1097.4" y="382.52" class="cb" font-size="5.319999999999999" fill="#1c1c1c" stroke="#1c1c1c">8292</text>
<text x="1097.4" y="390.92" class="cb" font-size="5.319999999999999" fill="#1c1c1c" stroke="#1c1c1c">8294</text>
<text x="1097.4" y="399.32" class="cb" font-size="5.319999999999999" fill="#1c1c1c" stroke="#1c1c1c">8296</text>
<text x="1097.4" y="407.72" class="cb" font-size="5.319999999999999" fill="#1c1c1c" stroke="#1c1c1c">8298</text>
<rect x="1087.5" y="412" width="19.8" height="25" fill="#41b3d2"/>
<text x="1097.4" y="418.08" class="cb" font-size="5.319999999999999" fill="#1c1c1c" stroke="#1c1c1c">8300</text>
<text x="1097.4" y="426.42" class="cb" font-size="5.319999999999999" fill="#1c1c1c" stroke="#1c1c1c">8302</text>
<text x="1097.4" y="434.75" class="cb" font-size="5.319999999999999" fill="#1c1c1c" stroke="#1c1c1c">8304</text>
<rect x="1087.5" y="437.5" width="19.8" height="16.5" fill="#f5c462"/>
<text x="1097.4" y="443.54" class="cb" font-size="5.319999999999999" fill="#1c1c1c" stroke="#1c1c1c">8306</text>
<text x="1097.4" y="451.79" class="cb" font-size="5.319999999999999" fill="#1c1c1c" stroke="#1c1c1c">8308</text>
<rect x="1087.5" y="455" width="19.8" height="8" fill="#41b3d2"/>
<text x="1097.4" y="460.92" class="cb" font-size="5.319999999999999" fill="#1c1c1c" stroke="#1c1c1c">8310</text>
<rect x="996" y="464" width="20" height="8.64" fill="#41b3d2"/>
<text x="1006" y="470.24" class="cb" font-size="5.319999999999999" fill="#1c1c1c" stroke="#1c1c1c">8612</text>
<rect x="1088.5" y="464" width="20" height="8.64" fill="#41b3d2"/>
<text x="1098.5" y="470.24" class="cb" font-size="5.319999999999999" fill="#1c1c1c" stroke="#1c1c1c">8312</text>
<rect x="993.5" y="472.44" width="20" height="8.64" fill="#41b3d2"/>
<text x="1003.5" y="478.68" class="cb" font-size="5.319999999999999" fill="#1c1c1c" stroke="#1c1c1c">8614</text>
<rect x="1091" y="472.44" width="20" height="8.64" fill="#41b3d2"/>
<text x="1101" y="478.68" class="cb" font-size="5.319999999999999" fill="#1c1c1c" stroke="#1c1c1c">8314</text>
<rect x="991.5" y="480.89" width="20" height="8.64" fill="#41b3d2"/>
<text x="1001.5" y="487.13" class="cb" font-size="5.319999999999999" fill="#1c1c1c" stroke="#1c1c1c">8616</text>
<rect x="1093" y="480.89" width="20" height="8.64" fill="#41b3d2"/>
<text x="1103" y="487.13" class="cb" font-size="5.319999999999999" fill="#1c1c1c" stroke="#1c1c1c">8316</text>
<rect x="990.5" y="489.33" width="20" height="8.64" fill="#41b3d2"/>
<text x="1000.5" y="495.57" class="cb" font-size="5.319999999999999" fill="#1c1c1c" stroke="#1c1c1c">8618</text>
<rect x="1094" y="489.33" width="20" height="8.64" fill="#41b3d2"/>
<text x="1104" y="495.57" class="cb" font-size="5.319999999999999" fill="#1c1c1c" stroke="#1c1c1c">8318</text>
<rect x="990.5" y="497.78" width="20" height="8.64" fill="#41b3d2"/>
<text x="1000.5" y="504.02" class="cb" font-size="5.319999999999999" fill="#1c1c1c" stroke="#1c1c1c">8620</text>
<rect x="1094" y="497.78" width="20" height="8.64" fill="#41b3d2"/>
<text x="1104" y="504.02" class="cb" font-size="5.319999999999999" fill="#1c1c1c" stroke="#1c1c1c">8320</text>
<rect x="991.5" y="506.22" width="20" height="8.64" fill="#41b3d2"/>
<text x="1001.5" y="512.46" class="cb" font-size="5.319999999999999" fill="#1c1c1c" stroke="#1c1c1c">8622</text>
<rect x="1093" y="506.22" width="20" height="8.64" fill="#41b3d2"/>
<text x="1103" y="512.46" class="cb" font-size="5.319999999999999" fill="#1c1c1c" stroke="#1c1c1c">8322</text>
<rect x="993" y="514.67" width="20" height="8.64" fill="#41b3d2"/>
<text x="1003" y="520.9" class="cb" font-size="5.319999999999999" fill="#1c1c1c" stroke="#1c1c1c">8624</text>
<rect x="1091.5" y="514.67" width="20" height="8.64" fill="#41b3d2"/>
<text x="1101.5" y="520.9" class="cb" font-size="5.319999999999999" fill="#1c1c1c" stroke="#1c1c1c">8324</text>
<rect x="995" y="523.11" width="20" height="8.64" fill="#41b3d2"/>
<text x="1005" y="529.35" class="cb" font-size="5.319999999999999" fill="#1c1c1c" stroke="#1c1c1c">8626</text>
<rect x="1089.5" y="523.11" width="20" height="8.64" fill="#41b3d2"/>
<text x="1099.5" y="529.35" class="cb" font-size="5.319999999999999" fill="#1c1c1c" stroke="#1c1c1c">8326</text>
<rect x="997" y="531.56" width="20" height="8.64" fill="#41b3d2"/>
<text x="1007" y="537.79" class="cb" font-size="5.319999999999999" fill="#1c1c1c" stroke="#1c1c1c">8628</text>
<rect x="1087.5" y="531.56" width="20" height="8.64" fill="#41b3d2"/>
<text x="1097.5" y="537.79" class="cb" font-size="5.319999999999999" fill="#1c1c1c" stroke="#1c1c1c">8328</text>
<rect x="997.5" y="541" width="19.8" height="25" fill="#ec647b"/>
<text x="1007.4" y="547.08" class="cb" font-size="5.319999999999999" fill="#1c1c1c" stroke="#1c1c1c">8630</text>
<text x="1007.4" y="555.42" class="cb" font-size="5.319999999999999" fill="#1c1c1c" stroke="#1c1c1c">8632</text>
<text x="1007.4" y="563.75" class="cb" font-size="5.319999999999999" fill="#1c1c1c" stroke="#1c1c1c">8634</text>
<rect x="997.5" y="567" width="19.8" height="102" fill="#a6d6ef"/>
<text x="1007.4" y="573.17" class="cb" font-size="5.319999999999999" fill="#1c1c1c" stroke="#1c1c1c">8636</text>
<text x="1007.4" y="581.67" class="cb" font-size="5.319999999999999" fill="#1c1c1c" stroke="#1c1c1c">8638</text>
<text x="1007.4" y="590.17" class="cb" font-size="5.319999999999999" fill="#1c1c1c" stroke="#1c1c1c">8640</text>
<text x="1007.4" y="598.67" class="cb" font-size="5.319999999999999" fill="#1c1c1c" stroke="#1c1c1c">8642</text>
<text x="1007.4" y="607.17" class="cb" font-size="5.319999999999999" fill="#1c1c1c" stroke="#1c1c1c">8644</text>
<text x="1007.4" y="615.67" class="cb" font-size="5.319999999999999" fill="#1c1c1c" stroke="#1c1c1c">8646</text>
<text x="1007.4" y="624.17" class="cb" font-size="5.319999999999999" fill="#1c1c1c" stroke="#1c1c1c">8648</text>
<text x="1007.4" y="632.67" class="cb" font-size="5.319999999999999" fill="#1c1c1c" stroke="#1c1c1c">8650</text>
<text x="1007.4" y="641.17" class="cb" font-size="5.319999999999999" fill="#1c1c1c" stroke="#1c1c1c">8652</text>
<text x="1007.4" y="649.67" class="cb" font-size="5.319999999999999" fill="#1c1c1c" stroke="#1c1c1c">8654</text>
<text x="1007.4" y="658.17" class="cb" font-size="5.319999999999999" fill="#1c1c1c" stroke="#1c1c1c">8656 *</text>
<text x="1007.4" y="666.67" class="cb" font-size="5.319999999999999" fill="#1c1c1c" stroke="#1c1c1c">8658</text>
<rect x="997.5" y="670" width="19.8" height="16" fill="#a6d6ef"/>
<text x="1007.4" y="675.92" class="cb" font-size="5.319999999999999" fill="#1c1c1c" stroke="#1c1c1c">8660</text>
<text x="1007.4" y="683.92" class="cb" font-size="5.319999999999999" fill="#1c1c1c" stroke="#1c1c1c">8662</text>
<rect x="997.5" y="687" width="19.8" height="68" fill="#a6d6ef"/>
<text x="1007.4" y="693.17" class="cb" font-size="5.319999999999999" fill="#1c1c1c" stroke="#1c1c1c">8664</text>
<text x="1007.4" y="701.67" class="cb" font-size="5.319999999999999" fill="#1c1c1c" stroke="#1c1c1c">8666</text>
<text x="1007.4" y="710.17" class="cb" font-size="5.319999999999999" fill="#1c1c1c" stroke="#1c1c1c">8668</text>
<text x="1007.4" y="718.67" class="cb" font-size="5.319999999999999" fill="#1c1c1c" stroke="#1c1c1c">8670</text>
<text x="1007.4" y="727.17" class="cb" font-size="5.319999999999999" fill="#1c1c1c" stroke="#1c1c1c">8672</text>
<text x="1007.4" y="735.67" class="cb" font-size="5.319999999999999" fill="#1c1c1c" stroke="#1c1c1c">8674</text>
<text x="1007.4" y="744.17" class="cb" font-size="5.319999999999999" fill="#1c1c1c" stroke="#1c1c1c">8676</text>
<text x="1007.4" y="752.67" class="cb" font-size="5.319999999999999" fill="#1c1c1c" stroke="#1c1c1c">8678</text>
<rect x="1087.5" y="541" width="19.8" height="25" fill="#ec647b"/>
<text x="1097.4" y="547.08" class="cb" font-size="5.319999999999999" fill="#1c1c1c" stroke="#1c1c1c">8330</text>
<text x="1097.4" y="555.42" class="cb" font-size="5.319999999999999" fill="#1c1c1c" stroke="#1c1c1c">8332 Δ</text>
<text x="1097.4" y="563.75" class="cb" font-size="5.319999999999999" fill="#1c1c1c" stroke="#1c1c1c">8334 Δ</text>
<rect x="1087.5" y="567" width="19.8" height="102" fill="#a6d6ef"/>
<text x="1097.4" y="573.17" class="cb" font-size="5.319999999999999" fill="#1c1c1c" stroke="#1c1c1c">8336</text>
<text x="1097.4" y="581.67" class="cb" font-size="5.319999999999999" fill="#1c1c1c" stroke="#1c1c1c">8338</text>
<text x="1097.4" y="590.17" class="cb" font-size="5.319999999999999" fill="#1c1c1c" stroke="#1c1c1c">8340</text>
<text x="1097.4" y="598.67" class="cb" font-size="5.319999999999999" fill="#1c1c1c" stroke="#1c1c1c">8342</text>
<text x="1097.4" y="607.17" class="cb" font-size="5.319999999999999" fill="#1c1c1c" stroke="#1c1c1c">8344</text>
<text x="1097.4" y="615.67" class="cb" font-size="5.319999999999999" fill="#1c1c1c" stroke="#1c1c1c">8346 Δ</text>
<text x="1097.4" y="624.17" class="cb" font-size="5.319999999999999" fill="#1c1c1c" stroke="#1c1c1c">8348</text>
<text x="1097.4" y="632.67" class="cb" font-size="5.319999999999999" fill="#1c1c1c" stroke="#1c1c1c">8350</text>
<text x="1097.4" y="641.17" class="cb" font-size="5.319999999999999" fill="#1c1c1c" stroke="#1c1c1c">8352</text>
<text x="1097.4" y="649.67" class="cb" font-size="5.319999999999999" fill="#1c1c1c" stroke="#1c1c1c">8354 *</text>
<text x="1097.4" y="658.17" class="cb" font-size="5.319999999999999" fill="#1c1c1c" stroke="#1c1c1c">8356 *</text>
<text x="1097.4" y="666.67" class="cb" font-size="5.319999999999999" fill="#1c1c1c" stroke="#1c1c1c">8358 *</text>
<rect x="1087.5" y="670" width="19.8" height="16" fill="#f5c462"/>
<text x="1097.4" y="675.92" class="cb" font-size="5.319999999999999" fill="#1c1c1c" stroke="#1c1c1c">8360</text>
<text x="1097.4" y="683.92" class="cb" font-size="5.319999999999999" fill="#1c1c1c" stroke="#1c1c1c">8362</text>
<rect x="1087.5" y="687" width="19.8" height="68" fill="#a6d6ef"/>
<text x="1097.4" y="693.17" class="cb" font-size="5.319999999999999" fill="#1c1c1c" stroke="#1c1c1c">8364 Δ</text>
<text x="1097.4" y="701.67" class="cb" font-size="5.319999999999999" fill="#1c1c1c" stroke="#1c1c1c">8366 Δ</text>
<text x="1097.4" y="710.17" class="cb" font-size="5.319999999999999" fill="#1c1c1c" stroke="#1c1c1c">8368 Δ</text>
<text x="1097.4" y="718.67" class="cb" font-size="5.319999999999999" fill="#1c1c1c" stroke="#1c1c1c">8370</text>
<text x="1097.4" y="727.17" class="cb" font-size="5.319999999999999" fill="#1c1c1c" stroke="#1c1c1c">8372 Δ</text>
<text x="1097.4" y="735.67" class="cb" font-size="5.319999999999999" fill="#1c1c1c" stroke="#1c1c1c">8374 Δ</text>
<text x="1097.4" y="744.17" class="cb" font-size="5.319999999999999" fill="#1c1c1c" stroke="#1c1c1c">8376 Δ</text>
<text x="1097.4" y="752.67" class="cb" font-size="5.319999999999999" fill="#1c1c1c" stroke="#1c1c1c">8378 Δ</text>
<rect x="1000" y="755.5" width="17.5" height="16.5" fill="#d5ab98"/>
<text x="1008.75" y="761.54" class="cb" font-size="5.319999999999999" fill="#1c1c1c" stroke="#1c1c1c">8681</text>
<text x="1008.75" y="769.79" class="cb" font-size="5.319999999999999" fill="#1c1c1c" stroke="#1c1c1c">8685</text>
<rect x="1087.5" y="755.5" width="17" height="16.5" fill="#d5ab98"/>
<text x="1096" y="761.54" class="cb" font-size="5.319999999999999" fill="#1c1c1c" stroke="#1c1c1c">8381</text>
<text x="1096" y="769.79" class="cb" font-size="5.319999999999999" fill="#1c1c1c" stroke="#1c1c1c">8385</text>
<path d="M1019.5,44 V460 M1085.5,44 V460 M1021,224 V460 M1038,257 V566 M1066,257 V560 M1084,224 V460" fill="none" stroke="#c2c2c2" stroke-width="0.5"/>
<rect x="1022" y="26" width="17.5" height="110" fill="#d5ab98"/>
<text x="1030.75" y="32.15" class="cb" font-size="5.319999999999999" fill="#1c1c1c" stroke="#1c1c1c">8511</text>
<text x="1030.75" y="40.61" class="cb" font-size="5.319999999999999" fill="#1c1c1c" stroke="#1c1c1c">8513*</text>
<text x="1030.75" y="49.07" class="cb" font-size="5.319999999999999" fill="#1c1c1c" stroke="#1c1c1c">8515</text>
<text x="1030.75" y="57.53" class="cb" font-size="5.319999999999999" fill="#1c1c1c" stroke="#1c1c1c">8517</text>
<text x="1030.75" y="65.99" class="cb" font-size="5.319999999999999" fill="#1c1c1c" stroke="#1c1c1c">8519</text>
<text x="1030.75" y="74.45" class="cb" font-size="5.319999999999999" fill="#1c1c1c" stroke="#1c1c1c">8521</text>
<text x="1030.75" y="82.92" class="cb" font-size="5.319999999999999" fill="#1c1c1c" stroke="#1c1c1c">8523</text>
<text x="1030.75" y="91.38" class="cb" font-size="5.319999999999999" fill="#1c1c1c" stroke="#1c1c1c">8525</text>
<text x="1030.75" y="99.84" class="cb" font-size="5.319999999999999" fill="#1c1c1c" stroke="#1c1c1c">8527</text>
<text x="1030.75" y="108.3" class="cb" font-size="5.319999999999999" fill="#1c1c1c" stroke="#1c1c1c">8529</text>
<text x="1030.75" y="116.76" class="cb" font-size="5.319999999999999" fill="#1c1c1c" stroke="#1c1c1c">8531</text>
<text x="1030.75" y="125.22" class="cb" font-size="5.319999999999999" fill="#1c1c1c" stroke="#1c1c1c">8533*</text>
<text x="1030.75" y="133.68" class="cb" font-size="5.319999999999999" fill="#1c1c1c" stroke="#1c1c1c">8535*</text>
<rect x="1041" y="26" width="17" height="68.5" fill="#d5ab98"/>
<text x="1049.5" y="32.2" class="cb" font-size="5.319999999999999" fill="#1c1c1c" stroke="#1c1c1c">8111*</text>
<text x="1049.5" y="40.76" class="cb" font-size="5.319999999999999" fill="#1c1c1c" stroke="#1c1c1c">8113*</text>
<text x="1049.5" y="49.32" class="cb" font-size="5.319999999999999" fill="#1c1c1c" stroke="#1c1c1c">8115</text>
<text x="1049.5" y="57.88" class="cb" font-size="5.319999999999999" fill="#1c1c1c" stroke="#1c1c1c">8117</text>
<text x="1049.5" y="66.45" class="cb" font-size="5.319999999999999" fill="#1c1c1c" stroke="#1c1c1c">8119</text>
<text x="1049.5" y="75.01" class="cb" font-size="5.319999999999999" fill="#1c1c1c" stroke="#1c1c1c">8121</text>
<text x="1049.5" y="83.57" class="cb" font-size="5.319999999999999" fill="#1c1c1c" stroke="#1c1c1c">8123*</text>
<text x="1049.5" y="92.13" class="cb" font-size="5.319999999999999" fill="#1c1c1c" stroke="#1c1c1c">8125*</text>
<rect x="1041" y="102.5" width="17" height="33.5" fill="#d5ab98"/>
<text x="1049.5" y="108.6" class="cb" font-size="5.319999999999999" fill="#1c1c1c" stroke="#1c1c1c">8127</text>
<text x="1049.5" y="116.98" class="cb" font-size="5.319999999999999" fill="#1c1c1c" stroke="#1c1c1c">8129</text>
<text x="1049.5" y="125.35" class="cb" font-size="5.319999999999999" fill="#1c1c1c" stroke="#1c1c1c">8131</text>
<text x="1049.5" y="133.73" class="cb" font-size="5.319999999999999" fill="#1c1c1c" stroke="#1c1c1c">8133</text>
<rect x="1064.5" y="26" width="17.5" height="68.5" fill="#d5ab98"/>
<text x="1073.25" y="32.2" class="cb" font-size="5.319999999999999" fill="#1c1c1c" stroke="#1c1c1c">8211</text>
<text x="1073.25" y="40.76" class="cb" font-size="5.319999999999999" fill="#1c1c1c" stroke="#1c1c1c">8213*</text>
<text x="1073.25" y="49.32" class="cb" font-size="5.319999999999999" fill="#1c1c1c" stroke="#1c1c1c">8215*</text>
<text x="1073.25" y="57.88" class="cb" font-size="5.319999999999999" fill="#1c1c1c" stroke="#1c1c1c">8217</text>
<text x="1073.25" y="66.45" class="cb" font-size="5.319999999999999" fill="#1c1c1c" stroke="#1c1c1c">8219</text>
<text x="1073.25" y="75.01" class="cb" font-size="5.319999999999999" fill="#1c1c1c" stroke="#1c1c1c">8221</text>
<text x="1073.25" y="83.57" class="cb" font-size="5.319999999999999" fill="#1c1c1c" stroke="#1c1c1c">8223*</text>
<text x="1073.25" y="92.13" class="cb" font-size="5.319999999999999" fill="#1c1c1c" stroke="#1c1c1c">8225*</text>
<rect x="1064.5" y="102.5" width="17.5" height="33.5" fill="#d5ab98"/>
<text x="1073.25" y="108.6" class="cb" font-size="5.319999999999999" fill="#1c1c1c" stroke="#1c1c1c">8229</text>
<text x="1073.25" y="116.98" class="cb" font-size="5.319999999999999" fill="#1c1c1c" stroke="#1c1c1c">8231</text>
<text x="1073.25" y="125.35" class="cb" font-size="5.319999999999999" fill="#1c1c1c" stroke="#1c1c1c">8233*</text>
<text x="1073.25" y="133.73" class="cb" font-size="5.319999999999999" fill="#1c1c1c" stroke="#1c1c1c">8235*</text>
<rect x="1047.5" y="142.5" width="17" height="8.5" fill="#d5ab98"/>
<text x="1056" y="148.67" class="cb" font-size="5.319999999999999" fill="#1c1c1c" stroke="#1c1c1c">8135</text>
<rect x="1064.5" y="139.5" width="17.5" height="8" fill="#d5ab98"/>
<text x="1073.25" y="145.42" class="cb" font-size="5.319999999999999" fill="#1c1c1c" stroke="#1c1c1c">8237</text>
<path d="M1020.5,35.25 l2,2.6 h-1.3 v4.3 h1.3 l-2,2.6 l-2,-2.6 h1.3 v-4.3 h-1.3 z" fill="#111"/>
<path d="M1019,63.25 l2,2.6 h-1.3 v4.3 h1.3 l-2,2.6 l-2,-2.6 h1.3 v-4.3 h-1.3 z" fill="#111"/>
<path d="M1084,55.25 l2,2.6 h-1.3 v4.3 h1.3 l-2,2.6 l-2,-2.6 h1.3 v-4.3 h-1.3 z" fill="#111"/>
<path d="M1086.5,63.25 l2,2.6 h-1.3 v4.3 h1.3 l-2,2.6 l-2,-2.6 h1.3 v-4.3 h-1.3 z" fill="#111"/>
<path d="M1086.5,131.25 l2,2.6 h-1.3 v4.3 h1.3 l-2,2.6 l-2,-2.6 h1.3 v-4.3 h-1.3 z" fill="#111"/>
<rect x="1022.5" y="155.5" width="15" height="12" fill="#e5d098"/>
<line x1="1026.25" y1="155.5" x2="1026.25" y2="167.5" stroke="#c9b278" stroke-width="0.3"/>
<line x1="1030" y1="155.5" x2="1030" y2="167.5" stroke="#c9b278" stroke-width="0.3"/>
<line x1="1033.75" y1="155.5" x2="1033.75" y2="167.5" stroke="#c9b278" stroke-width="0.3"/>
<line x1="1022.5" y1="161.5" x2="1037.5" y2="161.5" stroke="#c9b278" stroke-width="0.3"/>
<rect x="1067" y="155.5" width="15" height="12" fill="#e5d098"/>
<line x1="1070.75" y1="155.5" x2="1070.75" y2="167.5" stroke="#c9b278" stroke-width="0.3"/>
<line x1="1074.5" y1="155.5" x2="1074.5" y2="167.5" stroke="#c9b278" stroke-width="0.3"/>
<line x1="1078.25" y1="155.5" x2="1078.25" y2="167.5" stroke="#c9b278" stroke-width="0.3"/>
<line x1="1067" y1="161.5" x2="1082" y2="161.5" stroke="#c9b278" stroke-width="0.3"/>
<path d="M1044,155 H1060 V168 H1057 V165 H1047 V168 H1044 Z" fill="none" stroke="#c2c2c2" stroke-width="0.5"/>
<rect x="1022" y="184" width="7" height="18.5" fill="#fff" stroke="#c2c2c2" stroke-width="0.5"/>
<g transform="translate(1025.7,193.25) rotate(-90) scale(0.8106,1)" class="lb" font-size="6.55" fill="#111">
<text x="0" y="2.36">ELEV.</text>
</g>
<rect x="1075.5" y="184" width="7" height="18.5" fill="#fff" stroke="#c2c2c2" stroke-width="0.5"/>
<g transform="translate(1079.2,193.25) rotate(-90) scale(0.8106,1)" class="lb" font-size="6.55" fill="#111">
<text x="0" y="2.36">ELEV.</text>
</g>
<path d="M1038,183 h5 l2,-3 h14 l2,3 h5 v70 M1038,183 v70" fill="none" stroke="#c2c2c2" stroke-width="0.5"/>
<rect x="1021" y="206" width="16.8" height="18" fill="#1e9b52"/>
<text x="1029.4" y="212.42" class="cb" font-size="5.319999999999999" fill="#1c1c1c" stroke="#1c1c1c">8553</text>
<text x="1029.4" y="221.42" class="cb" font-size="5.319999999999999" fill="#1c1c1c" stroke="#1c1c1c">8555</text>
<rect x="1021" y="224" width="16.8" height="16.3" fill="#c6c4e0"/>
<text x="1029.4" y="229.99" class="cb" font-size="5.319999999999999" fill="#1c1c1c" stroke="#1c1c1c">8557</text>
<text x="1029.4" y="238.14" class="cb" font-size="5.319999999999999" fill="#1c1c1c" stroke="#1c1c1c">8559</text>
<rect x="1021" y="240.3" width="16.8" height="16.7" fill="#1e9b52"/>
<text x="1029.4" y="246.39" class="cb" font-size="5.319999999999999" fill="#1c1c1c" stroke="#1c1c1c">8561</text>
<text x="1029.4" y="254.74" class="cb" font-size="5.319999999999999" fill="#1c1c1c" stroke="#1c1c1c">8563</text>
<rect x="1021" y="301" width="16.8" height="42" fill="#c6c4e0"/>
<text x="1029.4" y="307.12" class="cb" font-size="5.319999999999999" fill="#1c1c1c" stroke="#1c1c1c">8575</text>
<text x="1029.4" y="315.52" class="cb" font-size="5.319999999999999" fill="#1c1c1c" stroke="#1c1c1c">8577</text>
<text x="1029.4" y="323.92" class="cb" font-size="5.319999999999999" fill="#1c1c1c" stroke="#1c1c1c">8579</text>
<text x="1029.4" y="332.32" class="cb" font-size="5.319999999999999" fill="#1c1c1c" stroke="#1c1c1c">8581</text>
<text x="1029.4" y="340.72" class="cb" font-size="5.319999999999999" fill="#1c1c1c" stroke="#1c1c1c">8583</text>
<rect x="1021" y="352" width="16.8" height="17" fill="#1e9b52"/>
<text x="1029.4" y="358.17" class="cb" font-size="5.319999999999999" fill="#1c1c1c" stroke="#1c1c1c">8587</text>
<text x="1029.4" y="366.67" class="cb" font-size="5.319999999999999" fill="#1c1c1c" stroke="#1c1c1c">8589</text>
<rect x="1021" y="369" width="16.8" height="33.5" fill="#c6c4e0"/>
<text x="1029.4" y="375.1" class="cb" font-size="5.319999999999999" fill="#1c1c1c" stroke="#1c1c1c">8591</text>
<text x="1029.4" y="383.48" class="cb" font-size="5.319999999999999" fill="#1c1c1c" stroke="#1c1c1c">8593</text>
<text x="1029.4" y="391.85" class="cb" font-size="5.319999999999999" fill="#1c1c1c" stroke="#1c1c1c">8595</text>
<text x="1029.4" y="400.23" class="cb" font-size="5.319999999999999" fill="#1c1c1c" stroke="#1c1c1c">8597</text>
<rect x="1066" y="206" width="18" height="18" fill="#1e9b52"/>
<text x="1075" y="212.42" class="cb" font-size="5.319999999999999" fill="#1c1c1c" stroke="#1c1c1c">8253</text>
<text x="1075" y="221.42" class="cb" font-size="5.319999999999999" fill="#1c1c1c" stroke="#1c1c1c">8255</text>
<rect x="1066" y="224" width="18" height="16.3" fill="#c6c4e0"/>
<text x="1075" y="229.99" class="cb" font-size="5.319999999999999" fill="#1c1c1c" stroke="#1c1c1c">8257</text>
<text x="1075" y="238.14" class="cb" font-size="5.319999999999999" fill="#1c1c1c" stroke="#1c1c1c">8259</text>
<rect x="1066" y="240.3" width="18" height="16.7" fill="#1e9b52"/>
<text x="1075" y="246.39" class="cb" font-size="5.319999999999999" fill="#1c1c1c" stroke="#1c1c1c">8261</text>
<text x="1075" y="254.74" class="cb" font-size="5.319999999999999" fill="#1c1c1c" stroke="#1c1c1c">8263</text>
<rect x="1066" y="301" width="18" height="42" fill="#c6c4e0"/>
<text x="1075" y="307.12" class="cb" font-size="5.319999999999999" fill="#1c1c1c" stroke="#1c1c1c">8275</text>
<text x="1075" y="315.52" class="cb" font-size="5.319999999999999" fill="#1c1c1c" stroke="#1c1c1c">8277</text>
<text x="1075" y="323.92" class="cb" font-size="5.319999999999999" fill="#1c1c1c" stroke="#1c1c1c">8279</text>
<text x="1075" y="332.32" class="cb" font-size="5.319999999999999" fill="#1c1c1c" stroke="#1c1c1c">8281</text>
<text x="1075" y="340.72" class="cb" font-size="5.319999999999999" fill="#1c1c1c" stroke="#1c1c1c">8283</text>
<rect x="1066" y="352" width="18" height="17" fill="#1e9b52"/>
<text x="1075" y="358.17" class="cb" font-size="5.319999999999999" fill="#1c1c1c" stroke="#1c1c1c">8287</text>
<text x="1075" y="366.67" class="cb" font-size="5.319999999999999" fill="#1c1c1c" stroke="#1c1c1c">8289</text>
<rect x="1066" y="369" width="18" height="33.5" fill="#c6c4e0"/>
<text x="1075" y="375.1" class="cb" font-size="5.319999999999999" fill="#1c1c1c" stroke="#1c1c1c">8291</text>
<text x="1075" y="383.48" class="cb" font-size="5.319999999999999" fill="#1c1c1c" stroke="#1c1c1c">8293</text>
<text x="1075" y="391.85" class="cb" font-size="5.319999999999999" fill="#1c1c1c" stroke="#1c1c1c">8295</text>
<text x="1075" y="400.23" class="cb" font-size="5.319999999999999" fill="#1c1c1c" stroke="#1c1c1c">8297</text>
<rect x="1021" y="412" width="16.8" height="34" fill="#1e9b52"/>
<text x="1029.4" y="418.17" class="cb" font-size="5.319999999999999" fill="#1c1c1c" stroke="#1c1c1c">8601</text>
<text x="1029.4" y="426.67" class="cb" font-size="5.319999999999999" fill="#1c1c1c" stroke="#1c1c1c">8603</text>
<text x="1029.4" y="435.17" class="cb" font-size="5.319999999999999" fill="#1c1c1c" stroke="#1c1c1c">8605</text>
<text x="1029.4" y="443.67" class="cb" font-size="5.319999999999999" fill="#1c1c1c" stroke="#1c1c1c">8607</text>
<rect x="1021" y="446" width="16.8" height="16" fill="#c6c4e0"/>
<text x="1029.4" y="451.92" class="cb" font-size="5.319999999999999" fill="#1c1c1c" stroke="#1c1c1c">8609</text>
<text x="1029.4" y="459.92" class="cb" font-size="5.319999999999999" fill="#1c1c1c" stroke="#1c1c1c">8611</text>
<rect x="1066" y="412" width="18" height="34" fill="#1e9b52"/>
<text x="1075" y="418.17" class="cb" font-size="5.319999999999999" fill="#1c1c1c" stroke="#1c1c1c">8301</text>
<text x="1075" y="426.67" class="cb" font-size="5.319999999999999" fill="#1c1c1c" stroke="#1c1c1c">8303</text>
<text x="1075" y="435.17" class="cb" font-size="5.319999999999999" fill="#1c1c1c" stroke="#1c1c1c">8305</text>
<text x="1075" y="443.67" class="cb" font-size="5.319999999999999" fill="#1c1c1c" stroke="#1c1c1c">8307</text>
<rect x="1066" y="446" width="18" height="16" fill="#c6c4e0"/>
<text x="1075" y="451.92" class="cb" font-size="5.319999999999999" fill="#1c1c1c" stroke="#1c1c1c">8309</text>
<text x="1075" y="459.92" class="cb" font-size="5.319999999999999" fill="#1c1c1c" stroke="#1c1c1c">8311</text>
<path d="M1019.5,210.25 l2,2.6 h-1.3 v4.3 h1.3 l-2,2.6 l-2,-2.6 h1.3 v-4.3 h-1.3 z" fill="#111"/>
<path d="M1085.5,210.25 l2,2.6 h-1.3 v4.3 h1.3 l-2,2.6 l-2,-2.6 h1.3 v-4.3 h-1.3 z" fill="#111"/>
<path d="M1019.5,243.75 l2,2.6 h-1.3 v4.3 h1.3 l-2,2.6 l-2,-2.6 h1.3 v-4.3 h-1.3 z" fill="#111"/>
<path d="M1085.5,243.75 l2,2.6 h-1.3 v4.3 h1.3 l-2,2.6 l-2,-2.6 h1.3 v-4.3 h-1.3 z" fill="#111"/>
<path d="M1019.5,355.75 l2,2.6 h-1.3 v4.3 h1.3 l-2,2.6 l-2,-2.6 h1.3 v-4.3 h-1.3 z" fill="#111"/>
<path d="M1085.5,355.75 l2,2.6 h-1.3 v4.3 h1.3 l-2,2.6 l-2,-2.6 h1.3 v-4.3 h-1.3 z" fill="#111"/>
<path d="M1019.5,415.75 l2,2.6 h-1.3 v4.3 h1.3 l-2,2.6 l-2,-2.6 h1.3 v-4.3 h-1.3 z" fill="#111"/>
<path d="M1085.5,415.75 l2,2.6 h-1.3 v4.3 h1.3 l-2,2.6 l-2,-2.6 h1.3 v-4.3 h-1.3 z" fill="#111"/>
<path d="M1019.5,432.75 l2,2.6 h-1.3 v4.3 h1.3 l-2,2.6 l-2,-2.6 h1.3 v-4.3 h-1.3 z" fill="#111"/>
<path d="M1085.5,432.75 l2,2.6 h-1.3 v4.3 h1.3 l-2,2.6 l-2,-2.6 h1.3 v-4.3 h-1.3 z" fill="#111"/>
<path d="M1018.5,441.25 l2,2.6 h-1.3 v4.3 h1.3 l-2,2.6 l-2,-2.6 h1.3 v-4.3 h-1.3 z" fill="#111"/>
<path d="M1086.5,441.25 l2,2.6 h-1.3 v4.3 h1.3 l-2,2.6 l-2,-2.6 h1.3 v-4.3 h-1.3 z" fill="#111"/>
<rect x="1019" y="475.5" width="7" height="19.5" fill="#fff" stroke="#c2c2c2" stroke-width="0.5"/>
<g transform="translate(1022.7,485.25) rotate(-90) scale(0.8106,1)" class="lb" font-size="6.55" fill="#111">
<text x="0" y="2.36">ELEV.</text>
</g>
<rect x="1078" y="475.5" width="7.5" height="19.5" fill="#fff" stroke="#c2c2c2" stroke-width="0.5"/>
<g transform="translate(1081.95,485.25) rotate(-90) scale(0.8106,1)" class="lb" font-size="6.55" fill="#111">
<text x="0" y="2.36">ELEV.</text>
</g>
<path d="M1037,500 V470 h6 v-6 h18 v6 h6 V500 M1043,476 h18 M1043,484 q-4,3 0,6 M1061,484 q4,3 0,6" fill="none" stroke="#c2c2c2" stroke-width="0.5"/>
<rect x="1021" y="509.5" width="15" height="11.5" fill="#e5d098"/>
<line x1="1024.75" y1="509.5" x2="1024.75" y2="521" stroke="#c9b278" stroke-width="0.3"/>
<line x1="1028.5" y1="509.5" x2="1028.5" y2="521" stroke="#c9b278" stroke-width="0.3"/>
<line x1="1032.25" y1="509.5" x2="1032.25" y2="521" stroke="#c9b278" stroke-width="0.3"/>
<line x1="1021" y1="515.25" x2="1036" y2="515.25" stroke="#c9b278" stroke-width="0.3"/>
<rect x="1068" y="509.5" width="15" height="11.5" fill="#e5d098"/>
<line x1="1071.75" y1="509.5" x2="1071.75" y2="521" stroke="#c9b278" stroke-width="0.3"/>
<line x1="1075.5" y1="509.5" x2="1075.5" y2="521" stroke="#c9b278" stroke-width="0.3"/>
<line x1="1079.25" y1="509.5" x2="1079.25" y2="521" stroke="#c9b278" stroke-width="0.3"/>
<line x1="1068" y1="515.25" x2="1083" y2="515.25" stroke="#c9b278" stroke-width="0.3"/>
<rect x="1041" y="506" width="17" height="34.5" fill="#d5ab98"/>
<text x="1049.5" y="512.23" class="cb" font-size="5.319999999999999" fill="#1c1c1c" stroke="#1c1c1c">8321</text>
<text x="1049.5" y="520.85" class="cb" font-size="5.319999999999999" fill="#1c1c1c" stroke="#1c1c1c">8323</text>
<text x="1049.5" y="529.48" class="cb" font-size="5.319999999999999" fill="#1c1c1c" stroke="#1c1c1c">8325</text>
<text x="1049.5" y="538.1" class="cb" font-size="5.319999999999999" fill="#1c1c1c" stroke="#1c1c1c">8327</text>
<rect x="1041" y="549.5" width="17" height="68" fill="#d5ab98"/>
<text x="1049.5" y="555.67" class="cb" font-size="5.319999999999999" fill="#1c1c1c" stroke="#1c1c1c">8433*</text>
<text x="1049.5" y="564.17" class="cb" font-size="5.319999999999999" fill="#1c1c1c" stroke="#1c1c1c">8435</text>
<text x="1049.5" y="572.67" class="cb" font-size="5.319999999999999" fill="#1c1c1c" stroke="#1c1c1c">8437*</text>
<text x="1049.5" y="581.17" class="cb" font-size="5.319999999999999" fill="#1c1c1c" stroke="#1c1c1c">8439*</text>
<text x="1049.5" y="589.67" class="cb" font-size="5.319999999999999" fill="#1c1c1c" stroke="#1c1c1c">8441*</text>
<text x="1049.5" y="598.17" class="cb" font-size="5.319999999999999" fill="#1c1c1c" stroke="#1c1c1c">8443*</text>
<text x="1049.5" y="606.67" class="cb" font-size="5.319999999999999" fill="#1c1c1c" stroke="#1c1c1c">8445*</text>
<text x="1049.5" y="615.17" class="cb" font-size="5.319999999999999" fill="#1c1c1c" stroke="#1c1c1c">8447</text>
<rect x="1041" y="625" width="17" height="34.5" fill="#d5ab98"/>
<text x="1049.5" y="631.23" class="cb" font-size="5.319999999999999" fill="#1c1c1c" stroke="#1c1c1c">8451</text>
<text x="1049.5" y="639.85" class="cb" font-size="5.319999999999999" fill="#1c1c1c" stroke="#1c1c1c">8453*</text>
<text x="1049.5" y="648.48" class="cb" font-size="5.319999999999999" fill="#1c1c1c" stroke="#1c1c1c">8455 *</text>
<text x="1049.5" y="657.1" class="cb" font-size="5.319999999999999" fill="#1c1c1c" stroke="#1c1c1c">8457*</text>
<rect x="1022" y="566" width="17.5" height="93.5" fill="#d5ab98"/>
<text x="1030.75" y="572.17" class="cb" font-size="5.319999999999999" fill="#1c1c1c" stroke="#1c1c1c">8637</text>
<text x="1030.75" y="580.67" class="cb" font-size="5.319999999999999" fill="#1c1c1c" stroke="#1c1c1c">8639*</text>
<text x="1030.75" y="589.17" class="cb" font-size="5.319999999999999" fill="#1c1c1c" stroke="#1c1c1c">8641*</text>
<text x="1030.75" y="597.67" class="cb" font-size="5.319999999999999" fill="#1c1c1c" stroke="#1c1c1c">8643*</text>
<text x="1030.75" y="606.17" class="cb" font-size="5.319999999999999" fill="#1c1c1c" stroke="#1c1c1c">8645*</text>
<text x="1030.75" y="614.67" class="cb" font-size="5.319999999999999" fill="#1c1c1c" stroke="#1c1c1c">8647*</text>
<text x="1030.75" y="623.17" class="cb" font-size="5.319999999999999" fill="#1c1c1c" stroke="#1c1c1c">8649*</text>
<text x="1030.75" y="631.67" class="cb" font-size="5.319999999999999" fill="#1c1c1c" stroke="#1c1c1c">8651*</text>
<text x="1030.75" y="640.17" class="cb" font-size="5.319999999999999" fill="#1c1c1c" stroke="#1c1c1c">8653*</text>
<text x="1030.75" y="648.67" class="cb" font-size="5.319999999999999" fill="#1c1c1c" stroke="#1c1c1c">8655*</text>
<text x="1030.75" y="657.17" class="cb" font-size="5.319999999999999" fill="#1c1c1c" stroke="#1c1c1c">8657</text>
<rect x="1064.5" y="560" width="17.5" height="42" fill="#d5ab98"/>
<text x="1073.25" y="566.12" class="cb" font-size="5.319999999999999" fill="#1c1c1c" stroke="#1c1c1c">8335</text>
<text x="1073.25" y="574.52" class="cb" font-size="5.319999999999999" fill="#1c1c1c" stroke="#1c1c1c">8337</text>
<text x="1073.25" y="582.92" class="cb" font-size="5.319999999999999" fill="#1c1c1c" stroke="#1c1c1c">8339</text>
<text x="1073.25" y="591.32" class="cb" font-size="5.319999999999999" fill="#1c1c1c" stroke="#1c1c1c">8341</text>
<text x="1073.25" y="599.72" class="cb" font-size="5.319999999999999" fill="#1c1c1c" stroke="#1c1c1c">8343</text>
<rect x="1064.5" y="609" width="17.5" height="50.5" fill="#d5ab98"/>
<text x="1073.25" y="615.12" class="cb" font-size="5.319999999999999" fill="#1c1c1c" stroke="#1c1c1c">8347*</text>
<text x="1073.25" y="623.54" class="cb" font-size="5.319999999999999" fill="#1c1c1c" stroke="#1c1c1c">8349*</text>
<text x="1073.25" y="631.96" class="cb" font-size="5.319999999999999" fill="#1c1c1c" stroke="#1c1c1c">8351*</text>
<text x="1073.25" y="640.37" class="cb" font-size="5.319999999999999" fill="#1c1c1c" stroke="#1c1c1c">8353*</text>
<text x="1073.25" y="648.79" class="cb" font-size="5.319999999999999" fill="#1c1c1c" stroke="#1c1c1c">8355*</text>
<text x="1073.25" y="657.21" class="cb" font-size="5.319999999999999" fill="#1c1c1c" stroke="#1c1c1c">8357</text>
<path d="M1021.5,587.25 l2,2.6 h-1.3 v4.3 h1.3 l-2,2.6 l-2,-2.6 h1.3 v-4.3 h-1.3 z" fill="#111"/>
<path d="M1021.5,604.25 l2,2.6 h-1.3 v4.3 h1.3 l-2,2.6 l-2,-2.6 h1.3 v-4.3 h-1.3 z" fill="#111"/>
<path d="M1083,580.25 l2,2.6 h-1.3 v4.3 h1.3 l-2,2.6 l-2,-2.6 h1.3 v-4.3 h-1.3 z" fill="#111"/>
<path d="M1018.5,673.25 l2,2.6 h-1.3 v4.3 h1.3 l-2,2.6 l-2,-2.6 h1.3 v-4.3 h-1.3 z" fill="#111"/>
<path d="M1086,673.25 l2,2.6 h-1.3 v4.3 h1.3 l-2,2.6 l-2,-2.6 h1.3 v-4.3 h-1.3 z" fill="#111"/>
<rect x="1022" y="687" width="17.5" height="85" fill="#d5ab98"/>
<text x="1030.75" y="693.17" class="cb" font-size="5.319999999999999" fill="#1c1c1c" stroke="#1c1c1c">8665</text>
<text x="1030.75" y="701.67" class="cb" font-size="5.319999999999999" fill="#1c1c1c" stroke="#1c1c1c">8667*</text>
<text x="1030.75" y="710.17" class="cb" font-size="5.319999999999999" fill="#1c1c1c" stroke="#1c1c1c">8669</text>
<text x="1030.75" y="718.67" class="cb" font-size="5.319999999999999" fill="#1c1c1c" stroke="#1c1c1c">8671</text>
<text x="1030.75" y="727.17" class="cb" font-size="5.319999999999999" fill="#1c1c1c" stroke="#1c1c1c">8673</text>
<text x="1030.75" y="735.67" class="cb" font-size="5.319999999999999" fill="#1c1c1c" stroke="#1c1c1c">8675</text>
<text x="1030.75" y="744.17" class="cb" font-size="5.319999999999999" fill="#1c1c1c" stroke="#1c1c1c">8677</text>
<text x="1030.75" y="752.67" class="cb" font-size="5.319999999999999" fill="#1c1c1c" stroke="#1c1c1c">8679</text>
<text x="1030.75" y="761.17" class="cb" font-size="5.319999999999999" fill="#1c1c1c" stroke="#1c1c1c">8683</text>
<text x="1030.75" y="769.67" class="cb" font-size="5.319999999999999" fill="#1c1c1c" stroke="#1c1c1c">8687</text>
<rect x="1041" y="687" width="17" height="85" fill="#d5ab98"/>
<text x="1049.5" y="693.17" class="cb" font-size="5.319999999999999" fill="#1c1c1c" stroke="#1c1c1c">8465*</text>
<text x="1049.5" y="701.67" class="cb" font-size="5.319999999999999" fill="#1c1c1c" stroke="#1c1c1c">8467</text>
<text x="1049.5" y="710.17" class="cb" font-size="5.319999999999999" fill="#1c1c1c" stroke="#1c1c1c">8469*</text>
<text x="1049.5" y="718.67" class="cb" font-size="5.319999999999999" fill="#1c1c1c" stroke="#1c1c1c">8471</text>
<text x="1049.5" y="727.17" class="cb" font-size="5.319999999999999" fill="#1c1c1c" stroke="#1c1c1c">8473</text>
<text x="1049.5" y="735.67" class="cb" font-size="5.319999999999999" fill="#1c1c1c" stroke="#1c1c1c">8475</text>
<text x="1049.5" y="744.17" class="cb" font-size="5.319999999999999" fill="#1c1c1c" stroke="#1c1c1c">8477</text>
<text x="1049.5" y="752.67" class="cb" font-size="5.319999999999999" fill="#1c1c1c" stroke="#1c1c1c">8479</text>
<text x="1049.5" y="761.17" class="cb" font-size="5.319999999999999" fill="#1c1c1c" stroke="#1c1c1c">8483</text>
<text x="1049.5" y="769.67" class="cb" font-size="5.319999999999999" fill="#1c1c1c" stroke="#1c1c1c">8487</text>
<rect x="1064.5" y="687" width="17.5" height="85" fill="#d5ab98"/>
<text x="1073.25" y="693.17" class="cb" font-size="5.319999999999999" fill="#1c1c1c" stroke="#1c1c1c">8365</text>
<text x="1073.25" y="701.67" class="cb" font-size="5.319999999999999" fill="#1c1c1c" stroke="#1c1c1c">8367*</text>
<text x="1073.25" y="710.17" class="cb" font-size="5.319999999999999" fill="#1c1c1c" stroke="#1c1c1c">8369</text>
<text x="1073.25" y="718.67" class="cb" font-size="5.319999999999999" fill="#1c1c1c" stroke="#1c1c1c">8371</text>
<text x="1073.25" y="727.17" class="cb" font-size="5.319999999999999" fill="#1c1c1c" stroke="#1c1c1c">8373</text>
<text x="1073.25" y="735.67" class="cb" font-size="5.319999999999999" fill="#1c1c1c" stroke="#1c1c1c">8375</text>
<text x="1073.25" y="744.17" class="cb" font-size="5.319999999999999" fill="#1c1c1c" stroke="#1c1c1c">8377</text>
<text x="1073.25" y="752.67" class="cb" font-size="5.319999999999999" fill="#1c1c1c" stroke="#1c1c1c">8379</text>
<text x="1073.25" y="761.17" class="cb" font-size="5.319999999999999" fill="#1c1c1c" stroke="#1c1c1c">8383</text>
<text x="1073.25" y="769.67" class="cb" font-size="5.319999999999999" fill="#1c1c1c" stroke="#1c1c1c">8387</text>
<path d="M1021.5,690.25 l2,2.6 h-1.3 v4.3 h1.3 l-2,2.6 l-2,-2.6 h1.3 v-4.3 h-1.3 z" fill="#111"/>
<path d="M1021.5,758.25 l2,2.6 h-1.3 v4.3 h1.3 l-2,2.6 l-2,-2.6 h1.3 v-4.3 h-1.3 z" fill="#111"/>
<path d="M1059,690.25 l2,2.6 h-1.3 v4.3 h1.3 l-2,2.6 l-2,-2.6 h1.3 v-4.3 h-1.3 z" fill="#111"/>
<path d="M1059,758.25 l2,2.6 h-1.3 v4.3 h1.3 l-2,2.6 l-2,-2.6 h1.3 v-4.3 h-1.3 z" fill="#111"/>
<path d="M1040.2,566 V772 M1059.5,540 V772 M1063,602 V772 M1020,566 V756 M1085,566 V756" fill="none" stroke="#c2c2c2" stroke-width="0.5"/>
<rect x="1009" y="778" width="18" height="20" fill="#f8ec4c"/>
<text x="1013.5" y="789.78" class="cb" font-size="4.9399999999999995" fill="#1c1c1c" stroke="#1c1c1c" transform="rotate(-90 1013.5 788)">8690</text>
<line x1="1018" y1="778" x2="1018" y2="798" stroke="rgba(0,0,0,0.15)" stroke-width="0.4"/>
<text x="1022.5" y="789.78" class="cb" font-size="4.9399999999999995" fill="#1c1c1c" stroke="#1c1c1c" transform="rotate(-90 1022.5 788)">8692</text>
<rect x="1009" y="778" width="18" height="20" fill="#f3c94a"/>
<text x="1013.5" y="789.71" class="cb" font-size="4.75" fill="#1c1c1c" stroke="#1c1c1c" transform="rotate(-90 1013.5 788)">8690</text>
<text x="1022.5" y="789.71" class="cb" font-size="4.75" fill="#1c1c1c" stroke="#1c1c1c" transform="rotate(-90 1022.5 788)">8692</text>
<rect x="1078" y="778" width="18" height="20" fill="#f3c94a"/>
<text x="1082.5" y="789.71" class="cb" font-size="4.75" fill="#1c1c1c" stroke="#1c1c1c" transform="rotate(-90 1082.5 788)">8392</text>
<text x="1091.5" y="789.71" class="cb" font-size="4.75" fill="#1c1c1c" stroke="#1c1c1c" transform="rotate(-90 1091.5 788)">8390</text>
<rect x="1027" y="776" width="51" height="22" fill="#9c1c22"/>
<text x="1039.75" y="788.78" class="cb" font-size="4.9399999999999995" fill="#fff" stroke="#fff" transform="rotate(-90 1039.75 787)">8694</text>
<line x1="1052.5" y1="776" x2="1052.5" y2="798" stroke="rgba(255,255,255,0.4)" stroke-width="0.4"/>
<text x="1065.25" y="788.78" class="cb" font-size="4.9399999999999995" fill="#fff" stroke="#fff" transform="rotate(-90 1065.25 787)">8394</text>
<line x1="1009" y1="798" x2="1009" y2="805" stroke="#c2c2c2" stroke-width="0.4"/>
<line x1="1018" y1="798" x2="1018" y2="805" stroke="#c2c2c2" stroke-width="0.4"/>
<line x1="1027" y1="798" x2="1027" y2="805" stroke="#c2c2c2" stroke-width="0.4"/>
<line x1="1052.5" y1="798" x2="1052.5" y2="805" stroke="#c2c2c2" stroke-width="0.4"/>
<line x1="1078" y1="798" x2="1078" y2="805" stroke="#c2c2c2" stroke-width="0.4"/>
<line x1="1087" y1="798" x2="1087" y2="805" stroke="#c2c2c2" stroke-width="0.4"/>
<line x1="1096" y1="798" x2="1096" y2="805" stroke="#c2c2c2" stroke-width="0.4"/>
<line x1="1006" y1="805" x2="1099" y2="805" stroke="#c2c2c2" stroke-width="0.4"/>
<ellipse cx="1052.5" cy="812.5" rx="30" ry="4.5" fill="none" stroke="#c2c2c2" stroke-width="0.5"/>
<text x="1055.5" y="871" class="dk">DECK 8</text>
<path d="M1147,460 V58 C1147,28 1175,7.5 1204.75,7.5 C1234,7.5 1262.5,28 1262.5,58 V460 C1263,472 1269.5,485 1269.5,497.5 C1269.5,515 1263.5,528 1263,540 V762 C1263,800 1234,824 1205,824 C1176,824 1147,800 1147,762 V540 C1146.5,528 1140,515 1140,497.5 C1140,485 1146.5,472 1147,460" fill="none" stroke="#686868" stroke-width="0.9"/>
<path d="M1150,58 C1150,31 1176,10.5 1204.75,10.5 C1233,10.5 1259.5,31 1259.5,58 V460 M1150,58 V460" fill="none" stroke="#c2c2c2" stroke-width="0.5"/>
<line x1="1147" y1="68" x2="1152" y2="68" stroke="#c2c2c2" stroke-width="0.35"/>
<line x1="1258" y1="68" x2="1262.5" y2="68" stroke="#c2c2c2" stroke-width="0.35"/>
<line x1="1147" y1="76.2" x2="1152" y2="76.2" stroke="#c2c2c2" stroke-width="0.35"/>
<line x1="1258" y1="76.2" x2="1262.5" y2="76.2" stroke="#c2c2c2" stroke-width="0.35"/>
<line x1="1147" y1="84.4" x2="1152" y2="84.4" stroke="#c2c2c2" stroke-width="0.35"/>
<line x1="1258" y1="84.4" x2="1262.5" y2="84.4" stroke="#c2c2c2" stroke-width="0.35"/>
<line x1="1147" y1="92.6" x2="1152" y2="92.6" stroke="#c2c2c2" stroke-width="0.35"/>
<line x1="1258" y1="92.6" x2="1262.5" y2="92.6" stroke="#c2c2c2" stroke-width="0.35"/>
<line x1="1147" y1="100.8" x2="1152" y2="100.8" stroke="#c2c2c2" stroke-width="0.35"/>
<line x1="1258" y1="100.8" x2="1262.5" y2="100.8" stroke="#c2c2c2" stroke-width="0.35"/>
<line x1="1147" y1="109" x2="1152" y2="109" stroke="#c2c2c2" stroke-width="0.35"/>
<line x1="1258" y1="109" x2="1262.5" y2="109" stroke="#c2c2c2" stroke-width="0.35"/>
<line x1="1147" y1="117.2" x2="1152" y2="117.2" stroke="#c2c2c2" stroke-width="0.35"/>
<line x1="1258" y1="117.2" x2="1262.5" y2="117.2" stroke="#c2c2c2" stroke-width="0.35"/>
<line x1="1147" y1="125.4" x2="1152" y2="125.4" stroke="#c2c2c2" stroke-width="0.35"/>
<line x1="1258" y1="125.4" x2="1262.5" y2="125.4" stroke="#c2c2c2" stroke-width="0.35"/>
<line x1="1147" y1="133.6" x2="1152" y2="133.6" stroke="#c2c2c2" stroke-width="0.35"/>
<line x1="1258" y1="133.6" x2="1262.5" y2="133.6" stroke="#c2c2c2" stroke-width="0.35"/>
<line x1="1147" y1="141.8" x2="1152" y2="141.8" stroke="#c2c2c2" stroke-width="0.35"/>
<line x1="1258" y1="141.8" x2="1262.5" y2="141.8" stroke="#c2c2c2" stroke-width="0.35"/>
<line x1="1147" y1="150" x2="1152" y2="150" stroke="#c2c2c2" stroke-width="0.35"/>
<line x1="1258" y1="150" x2="1262.5" y2="150" stroke="#c2c2c2" stroke-width="0.35"/>
<line x1="1147" y1="158.2" x2="1152" y2="158.2" stroke="#c2c2c2" stroke-width="0.35"/>
<line x1="1258" y1="158.2" x2="1262.5" y2="158.2" stroke="#c2c2c2" stroke-width="0.35"/>
<line x1="1147" y1="166.4" x2="1152" y2="166.4" stroke="#c2c2c2" stroke-width="0.35"/>
<line x1="1258" y1="166.4" x2="1262.5" y2="166.4" stroke="#c2c2c2" stroke-width="0.35"/>
<line x1="1147" y1="174.6" x2="1152" y2="174.6" stroke="#c2c2c2" stroke-width="0.35"/>
<line x1="1258" y1="174.6" x2="1262.5" y2="174.6" stroke="#c2c2c2" stroke-width="0.35"/>
<line x1="1147" y1="182.8" x2="1152" y2="182.8" stroke="#c2c2c2" stroke-width="0.35"/>
<line x1="1258" y1="182.8" x2="1262.5" y2="182.8" stroke="#c2c2c2" stroke-width="0.35"/>
<line x1="1147" y1="191" x2="1152" y2="191" stroke="#c2c2c2" stroke-width="0.35"/>
<line x1="1258" y1="191" x2="1262.5" y2="191" stroke="#c2c2c2" stroke-width="0.35"/>
<line x1="1147" y1="199.2" x2="1152" y2="199.2" stroke="#c2c2c2" stroke-width="0.35"/>
<line x1="1258" y1="199.2" x2="1262.5" y2="199.2" stroke="#c2c2c2" stroke-width="0.35"/>
<line x1="1147" y1="207.4" x2="1152" y2="207.4" stroke="#c2c2c2" stroke-width="0.35"/>
<line x1="1258" y1="207.4" x2="1262.5" y2="207.4" stroke="#c2c2c2" stroke-width="0.35"/>
<line x1="1147" y1="215.6" x2="1152" y2="215.6" stroke="#c2c2c2" stroke-width="0.35"/>
<line x1="1258" y1="215.6" x2="1262.5" y2="215.6" stroke="#c2c2c2" stroke-width="0.35"/>
<line x1="1147" y1="223.8" x2="1152" y2="223.8" stroke="#c2c2c2" stroke-width="0.35"/>
<line x1="1258" y1="223.8" x2="1262.5" y2="223.8" stroke="#c2c2c2" stroke-width="0.35"/>
<line x1="1147" y1="232" x2="1152" y2="232" stroke="#c2c2c2" stroke-width="0.35"/>
<line x1="1258" y1="232" x2="1262.5" y2="232" stroke="#c2c2c2" stroke-width="0.35"/>
<line x1="1147" y1="240.2" x2="1152" y2="240.2" stroke="#c2c2c2" stroke-width="0.35"/>
<line x1="1258" y1="240.2" x2="1262.5" y2="240.2" stroke="#c2c2c2" stroke-width="0.35"/>
<line x1="1147" y1="248.4" x2="1152" y2="248.4" stroke="#c2c2c2" stroke-width="0.35"/>
<line x1="1258" y1="248.4" x2="1262.5" y2="248.4" stroke="#c2c2c2" stroke-width="0.35"/>
<line x1="1147" y1="256.6" x2="1152" y2="256.6" stroke="#c2c2c2" stroke-width="0.35"/>
<line x1="1258" y1="256.6" x2="1262.5" y2="256.6" stroke="#c2c2c2" stroke-width="0.35"/>
<line x1="1147" y1="264.8" x2="1152" y2="264.8" stroke="#c2c2c2" stroke-width="0.35"/>
<line x1="1258" y1="264.8" x2="1262.5" y2="264.8" stroke="#c2c2c2" stroke-width="0.35"/>
<line x1="1147" y1="273" x2="1152" y2="273" stroke="#c2c2c2" stroke-width="0.35"/>
<line x1="1258" y1="273" x2="1262.5" y2="273" stroke="#c2c2c2" stroke-width="0.35"/>
<line x1="1147" y1="281.2" x2="1152" y2="281.2" stroke="#c2c2c2" stroke-width="0.35"/>
<line x1="1258" y1="281.2" x2="1262.5" y2="281.2" stroke="#c2c2c2" stroke-width="0.35"/>
<line x1="1147" y1="289.4" x2="1152" y2="289.4" stroke="#c2c2c2" stroke-width="0.35"/>
<line x1="1258" y1="289.4" x2="1262.5" y2="289.4" stroke="#c2c2c2" stroke-width="0.35"/>
<line x1="1147" y1="297.6" x2="1152" y2="297.6" stroke="#c2c2c2" stroke-width="0.35"/>
<line x1="1258" y1="297.6" x2="1262.5" y2="297.6" stroke="#c2c2c2" stroke-width="0.35"/>
<line x1="1147" y1="305.8" x2="1152" y2="305.8" stroke="#c2c2c2" stroke-width="0.35"/>
<line x1="1258" y1="305.8" x2="1262.5" y2="305.8" stroke="#c2c2c2" stroke-width="0.35"/>
<line x1="1147" y1="314" x2="1152" y2="314" stroke="#c2c2c2" stroke-width="0.35"/>
<line x1="1258" y1="314" x2="1262.5" y2="314" stroke="#c2c2c2" stroke-width="0.35"/>
<line x1="1147" y1="322.2" x2="1152" y2="322.2" stroke="#c2c2c2" stroke-width="0.35"/>
<line x1="1258" y1="322.2" x2="1262.5" y2="322.2" stroke="#c2c2c2" stroke-width="0.35"/>
<line x1="1147" y1="330.4" x2="1152" y2="330.4" stroke="#c2c2c2" stroke-width="0.35"/>
<line x1="1258" y1="330.4" x2="1262.5" y2="330.4" stroke="#c2c2c2" stroke-width="0.35"/>
<line x1="1147" y1="338.6" x2="1152" y2="338.6" stroke="#c2c2c2" stroke-width="0.35"/>
<line x1="1258" y1="338.6" x2="1262.5" y2="338.6" stroke="#c2c2c2" stroke-width="0.35"/>
<line x1="1147" y1="346.8" x2="1152" y2="346.8" stroke="#c2c2c2" stroke-width="0.35"/>
<line x1="1258" y1="346.8" x2="1262.5" y2="346.8" stroke="#c2c2c2" stroke-width="0.35"/>
<line x1="1147" y1="355" x2="1152" y2="355" stroke="#c2c2c2" stroke-width="0.35"/>
<line x1="1258" y1="355" x2="1262.5" y2="355" stroke="#c2c2c2" stroke-width="0.35"/>
<line x1="1147" y1="363.2" x2="1152" y2="363.2" stroke="#c2c2c2" stroke-width="0.35"/>
<line x1="1258" y1="363.2" x2="1262.5" y2="363.2" stroke="#c2c2c2" stroke-width="0.35"/>
<line x1="1147" y1="371.4" x2="1152" y2="371.4" stroke="#c2c2c2" stroke-width="0.35"/>
<line x1="1258" y1="371.4" x2="1262.5" y2="371.4" stroke="#c2c2c2" stroke-width="0.35"/>
<line x1="1147" y1="379.6" x2="1152" y2="379.6" stroke="#c2c2c2" stroke-width="0.35"/>
<line x1="1258" y1="379.6" x2="1262.5" y2="379.6" stroke="#c2c2c2" stroke-width="0.35"/>
<line x1="1147" y1="387.8" x2="1152" y2="387.8" stroke="#c2c2c2" stroke-width="0.35"/>
<line x1="1258" y1="387.8" x2="1262.5" y2="387.8" stroke="#c2c2c2" stroke-width="0.35"/>
<line x1="1147" y1="396" x2="1152" y2="396" stroke="#c2c2c2" stroke-width="0.35"/>
<line x1="1258" y1="396" x2="1262.5" y2="396" stroke="#c2c2c2" stroke-width="0.35"/>
<line x1="1147" y1="404.2" x2="1152" y2="404.2" stroke="#c2c2c2" stroke-width="0.35"/>
<line x1="1258" y1="404.2" x2="1262.5" y2="404.2" stroke="#c2c2c2" stroke-width="0.35"/>
<line x1="1147" y1="412.4" x2="1152" y2="412.4" stroke="#c2c2c2" stroke-width="0.35"/>
<line x1="1258" y1="412.4" x2="1262.5" y2="412.4" stroke="#c2c2c2" stroke-width="0.35"/>
<line x1="1147" y1="420.6" x2="1152" y2="420.6" stroke="#c2c2c2" stroke-width="0.35"/>
<line x1="1258" y1="420.6" x2="1262.5" y2="420.6" stroke="#c2c2c2" stroke-width="0.35"/>
<line x1="1147" y1="428.8" x2="1152" y2="428.8" stroke="#c2c2c2" stroke-width="0.35"/>
<line x1="1258" y1="428.8" x2="1262.5" y2="428.8" stroke="#c2c2c2" stroke-width="0.35"/>
<line x1="1147" y1="437" x2="1152" y2="437" stroke="#c2c2c2" stroke-width="0.35"/>
<line x1="1258" y1="437" x2="1262.5" y2="437" stroke="#c2c2c2" stroke-width="0.35"/>
<line x1="1147" y1="445.2" x2="1152" y2="445.2" stroke="#c2c2c2" stroke-width="0.35"/>
<line x1="1258" y1="445.2" x2="1262.5" y2="445.2" stroke="#c2c2c2" stroke-width="0.35"/>
<line x1="1147" y1="453.4" x2="1152" y2="453.4" stroke="#c2c2c2" stroke-width="0.35"/>
<line x1="1258" y1="453.4" x2="1262.5" y2="453.4" stroke="#c2c2c2" stroke-width="0.35"/>
<path d="M1159,38 Q1168,27 1180,22.5 Q1192,19 1204.75,19 Q1218,19 1230,22.5 Q1242,27 1251,38 Z" fill="#f8ec4c" stroke="none" stroke-width="0"/>
<path d="M1192,20 Q1204.75,18.3 1217,20 V38 H1192 Z" fill="#c0e0a2" stroke="none" stroke-width="0"/>
<line x1="1175" y1="20" x2="1175" y2="38" stroke="rgba(0,0,0,0.13)" stroke-width="0.4"/>
<line x1="1183.5" y1="20" x2="1183.5" y2="38" stroke="rgba(0,0,0,0.13)" stroke-width="0.4"/>
<line x1="1204.5" y1="20" x2="1204.5" y2="38" stroke="rgba(0,0,0,0.13)" stroke-width="0.4"/>
<line x1="1226" y1="20" x2="1226" y2="38" stroke="rgba(0,0,0,0.13)" stroke-width="0.4"/>
<line x1="1234.5" y1="20" x2="1234.5" y2="38" stroke="rgba(0,0,0,0.13)" stroke-width="0.4"/>
<text x="1167.5" y="36.21" class="cb" font-size="4.75" fill="#1c1c1c" stroke="#1c1c1c">7506</text>
<text x="1242" y="36.21" class="cb" font-size="4.75" fill="#1c1c1c" stroke="#1c1c1c">7206</text>
<text x="1179.5" y="31.14" class="cb" font-size="4.56" fill="#1c1c1c" stroke="#1c1c1c" transform="rotate(-90 1179.5 29.5)">7504</text>
<text x="1188" y="31.14" class="cb" font-size="4.56" fill="#1c1c1c" stroke="#1c1c1c" transform="rotate(-90 1188 29.5)">7502</text>
<text x="1198.5" y="31.14" class="cb" font-size="4.56" fill="#1c1c1c" stroke="#1c1c1c" transform="rotate(-90 1198.5 29.5)">7500</text>
<text x="1211" y="31.14" class="cb" font-size="4.56" fill="#1c1c1c" stroke="#1c1c1c" transform="rotate(-90 1211 29.5)">7200</text>
<text x="1221.5" y="31.14" class="cb" font-size="4.56" fill="#1c1c1c" stroke="#1c1c1c" transform="rotate(-90 1221.5 29.5)">7202</text>
<text x="1230" y="31.14" class="cb" font-size="4.56" fill="#1c1c1c" stroke="#1c1c1c" transform="rotate(-90 1230 29.5)">7204</text>
<rect x="1152" y="59.5" width="19.5" height="90.5" fill="#a6d6ef"/>
<text x="1161.75" y="65.53" class="cb" font-size="5.319999999999999" fill="#1c1c1c" stroke="#1c1c1c">7514 *</text>
<text x="1161.75" y="73.76" class="cb" font-size="5.319999999999999" fill="#1c1c1c" stroke="#1c1c1c">7516 *</text>
<text x="1161.75" y="81.98" class="cb" font-size="5.319999999999999" fill="#1c1c1c" stroke="#1c1c1c">7518 Δ</text>
<text x="1161.75" y="90.21" class="cb" font-size="5.319999999999999" fill="#1c1c1c" stroke="#1c1c1c">7520 Δ</text>
<text x="1161.75" y="98.44" class="cb" font-size="5.319999999999999" fill="#1c1c1c" stroke="#1c1c1c">7522 Δ</text>
<text x="1161.75" y="106.67" class="cb" font-size="5.319999999999999" fill="#1c1c1c" stroke="#1c1c1c">7524 Δ</text>
<text x="1161.75" y="114.89" class="cb" font-size="5.319999999999999" fill="#1c1c1c" stroke="#1c1c1c">7526</text>
<text x="1161.75" y="123.12" class="cb" font-size="5.319999999999999" fill="#1c1c1c" stroke="#1c1c1c">7528</text>
<text x="1161.75" y="131.35" class="cb" font-size="5.319999999999999" fill="#1c1c1c" stroke="#1c1c1c">7530</text>
<text x="1161.75" y="139.57" class="cb" font-size="5.319999999999999" fill="#1c1c1c" stroke="#1c1c1c">7532</text>
<text x="1161.75" y="147.8" class="cb" font-size="5.319999999999999" fill="#1c1c1c" stroke="#1c1c1c">7534</text>
<rect x="1152" y="151" width="19.5" height="15" fill="#f6d4de"/>
<text x="1161.75" y="156.67" class="cb" font-size="5.319999999999999" fill="#1c1c1c" stroke="#1c1c1c">7536 Δ</text>
<text x="1161.75" y="164.17" class="cb" font-size="5.319999999999999" fill="#1c1c1c" stroke="#1c1c1c">7538 Δ</text>
<rect x="1152" y="167" width="19.5" height="8" fill="#a6d6ef"/>
<text x="1161.75" y="172.92" class="cb" font-size="5.319999999999999" fill="#1c1c1c" stroke="#1c1c1c">7540 Δ</text>
<rect x="1152" y="175.5" width="19.5" height="8" fill="#f6d4de"/>
<text x="1161.75" y="181.42" class="cb" font-size="5.319999999999999" fill="#1c1c1c" stroke="#1c1c1c">7542 Δ</text>
<rect x="1152" y="184" width="19.5" height="8" fill="#7e5fbb"/>
<text x="1161.75" y="189.92" class="cb" font-size="5.319999999999999" fill="#1c1c1c" stroke="#1c1c1c">7544</text>
<rect x="1152" y="192.5" width="19.5" height="7.5" fill="#a6d6ef"/>
<text x="1161.75" y="198.17" class="cb" font-size="5.319999999999999" fill="#1c1c1c" stroke="#1c1c1c">7546 Δ</text>
<rect x="1152" y="201" width="19.5" height="8" fill="#ec647b"/>
<text x="1161.75" y="206.92" class="cb" font-size="5.319999999999999" fill="#1c1c1c" stroke="#1c1c1c">7548 Δ</text>
<rect x="1152" y="209.5" width="19.5" height="7.5" fill="#f6d4de"/>
<text x="1161.75" y="215.17" class="cb" font-size="5.319999999999999" fill="#1c1c1c" stroke="#1c1c1c">7550 Δ</text>
<rect x="1152" y="217.5" width="19.5" height="7.5" fill="#41b3d2"/>
<text x="1161.75" y="223.17" class="cb" font-size="5.319999999999999" fill="#1c1c1c" stroke="#1c1c1c">7552</text>
<rect x="1152" y="225.5" width="19.5" height="16" fill="#f6d4de"/>
<text x="1161.75" y="231.42" class="cb" font-size="5.319999999999999" fill="#1c1c1c" stroke="#1c1c1c">7554 Δ</text>
<text x="1161.75" y="239.42" class="cb" font-size="5.319999999999999" fill="#1c1c1c" stroke="#1c1c1c">7556 Δ</text>
<rect x="1152" y="242" width="19.5" height="15.5" fill="#41b3d2"/>
<text x="1161.75" y="247.79" class="cb" font-size="5.319999999999999" fill="#1c1c1c" stroke="#1c1c1c">7558</text>
<text x="1161.75" y="255.54" class="cb" font-size="5.319999999999999" fill="#1c1c1c" stroke="#1c1c1c">7560</text>
<rect x="1152" y="258" width="19.5" height="16" fill="#f5c462"/>
<text x="1161.75" y="263.92" class="cb" font-size="5.319999999999999" fill="#1c1c1c" stroke="#1c1c1c">7562</text>
<text x="1161.75" y="271.92" class="cb" font-size="5.319999999999999" fill="#1c1c1c" stroke="#1c1c1c">7564</text>
<rect x="1152" y="274.5" width="19.5" height="16" fill="#41b3d2"/>
<text x="1161.75" y="280.42" class="cb" font-size="5.319999999999999" fill="#1c1c1c" stroke="#1c1c1c">7566</text>
<text x="1161.75" y="288.42" class="cb" font-size="5.319999999999999" fill="#1c1c1c" stroke="#1c1c1c">7568</text>
<rect x="1152" y="292" width="19.5" height="90" fill="#41b3d2"/>
<text x="1161.75" y="298.01" class="cb" font-size="5.319999999999999" fill="#1c1c1c" stroke="#1c1c1c">7570</text>
<text x="1161.75" y="306.19" class="cb" font-size="5.319999999999999" fill="#1c1c1c" stroke="#1c1c1c">7572</text>
<text x="1161.75" y="314.37" class="cb" font-size="5.319999999999999" fill="#1c1c1c" stroke="#1c1c1c">7574</text>
<text x="1161.75" y="322.55" class="cb" font-size="5.319999999999999" fill="#1c1c1c" stroke="#1c1c1c">7576</text>
<text x="1161.75" y="330.73" class="cb" font-size="5.319999999999999" fill="#1c1c1c" stroke="#1c1c1c">7578</text>
<text x="1161.75" y="338.92" class="cb" font-size="5.319999999999999" fill="#1c1c1c" stroke="#1c1c1c">7580</text>
<text x="1161.75" y="347.1" class="cb" font-size="5.319999999999999" fill="#1c1c1c" stroke="#1c1c1c">7582</text>
<text x="1161.75" y="355.28" class="cb" font-size="5.319999999999999" fill="#1c1c1c" stroke="#1c1c1c">7584</text>
<text x="1161.75" y="363.46" class="cb" font-size="5.319999999999999" fill="#1c1c1c" stroke="#1c1c1c">7586</text>
<text x="1161.75" y="371.64" class="cb" font-size="5.319999999999999" fill="#1c1c1c" stroke="#1c1c1c">7588</text>
<text x="1161.75" y="379.82" class="cb" font-size="5.319999999999999" fill="#1c1c1c" stroke="#1c1c1c">7590</text>
<rect x="1152" y="383" width="19.5" height="16" fill="#f6d4de"/>
<text x="1161.75" y="388.92" class="cb" font-size="5.319999999999999" fill="#1c1c1c" stroke="#1c1c1c">7592 Δ</text>
<text x="1161.75" y="396.92" class="cb" font-size="5.319999999999999" fill="#1c1c1c" stroke="#1c1c1c">7594 Δ</text>
<rect x="1152" y="399" width="19.5" height="8" fill="#41b3d2"/>
<text x="1161.75" y="404.92" class="cb" font-size="5.319999999999999" fill="#1c1c1c" stroke="#1c1c1c">7596</text>
<rect x="1152" y="407.5" width="19.5" height="7.5" fill="#f6d4de"/>
<text x="1161.75" y="413.17" class="cb" font-size="5.319999999999999" fill="#1c1c1c" stroke="#1c1c1c">7598 Δ</text>
<rect x="1152" y="416" width="19.5" height="25" fill="#ec647b"/>
<g transform="translate(1161.75,418.65) scale(1.0)" fill="none" stroke="#1c1c1c" stroke-width="0.7"><circle cx="-0.4" cy="-2.6" r="0.6" fill="#1c1c1c" stroke="none"/><path d="M-0.4,-1.8 V0.4 H1.4 L2.2,2.4 M-0.4,-0.8 H1.2"/><path d="M-1.2,-0.2 A2,2 0 1 0 1.6,2.2"/></g>
<text x="1161.75" y="426.77" class="cb" font-size="5.319999999999999" fill="#1c1c1c" stroke="#1c1c1c">7600</text>
<g transform="translate(1161.75,431.15) scale(1.0)" fill="none" stroke="#1c1c1c" stroke-width="0.7"><circle cx="-0.4" cy="-2.6" r="0.6" fill="#1c1c1c" stroke="none"/><path d="M-0.4,-1.8 V0.4 H1.4 L2.2,2.4 M-0.4,-0.8 H1.2"/><path d="M-1.2,-0.2 A2,2 0 1 0 1.6,2.2"/></g>
<text x="1161.75" y="439.27" class="cb" font-size="5.319999999999999" fill="#1c1c1c" stroke="#1c1c1c">7604</text>
<rect x="1152" y="441" width="19.5" height="24" fill="#f6d4de"/>
<text x="1161.75" y="446.92" class="cb" font-size="5.319999999999999" fill="#1c1c1c" stroke="#1c1c1c">7606 Δ</text>
<text x="1161.75" y="454.92" class="cb" font-size="5.319999999999999" fill="#1c1c1c" stroke="#1c1c1c">7608 Δ</text>
<text x="1161.75" y="462.92" class="cb" font-size="5.319999999999999" fill="#1c1c1c" stroke="#1c1c1c">7610 Δ</text>
<rect x="1238.5" y="59.5" width="19.5" height="82.5" fill="#a6d6ef"/>
<text x="1248.25" y="65.54" class="cb" font-size="5.319999999999999" fill="#1c1c1c" stroke="#1c1c1c">7214 *</text>
<text x="1248.25" y="73.79" class="cb" font-size="5.319999999999999" fill="#1c1c1c" stroke="#1c1c1c">7216 *</text>
<text x="1248.25" y="82.04" class="cb" font-size="5.319999999999999" fill="#1c1c1c" stroke="#1c1c1c">7218 Δ</text>
<text x="1248.25" y="90.29" class="cb" font-size="5.319999999999999" fill="#1c1c1c" stroke="#1c1c1c">7220 Δ</text>
<text x="1248.25" y="98.54" class="cb" font-size="5.319999999999999" fill="#1c1c1c" stroke="#1c1c1c">7222 Δ</text>
<text x="1248.25" y="106.79" class="cb" font-size="5.319999999999999" fill="#1c1c1c" stroke="#1c1c1c">7224 Δ</text>
<text x="1248.25" y="115.04" class="cb" font-size="5.319999999999999" fill="#1c1c1c" stroke="#1c1c1c">7226 Δ</text>
<text x="1248.25" y="123.29" class="cb" font-size="5.319999999999999" fill="#1c1c1c" stroke="#1c1c1c">7228 Δ</text>
<text x="1248.25" y="131.54" class="cb" font-size="5.319999999999999" fill="#1c1c1c" stroke="#1c1c1c">7230</text>
<text x="1248.25" y="139.79" class="cb" font-size="5.319999999999999" fill="#1c1c1c" stroke="#1c1c1c">7232</text>
<rect x="1238.5" y="142.5" width="19.5" height="15.5" fill="#f5c462"/>
<text x="1248.25" y="148.29" class="cb" font-size="5.319999999999999" fill="#1c1c1c" stroke="#1c1c1c">7234</text>
<text x="1248.25" y="156.04" class="cb" font-size="5.319999999999999" fill="#1c1c1c" stroke="#1c1c1c">7236</text>
<rect x="1238.5" y="159" width="19.5" height="8" fill="#a6d6ef"/>
<text x="1248.25" y="164.92" class="cb" font-size="5.319999999999999" fill="#1c1c1c" stroke="#1c1c1c">7238</text>
<rect x="1238.5" y="168" width="19.5" height="8" fill="#a6d6ef"/>
<text x="1248.25" y="173.92" class="cb" font-size="5.319999999999999" fill="#1c1c1c" stroke="#1c1c1c">7240 Δ</text>
<rect x="1238.5" y="176" width="19.5" height="16" fill="#f6d4de"/>
<text x="1248.25" y="181.92" class="cb" font-size="5.319999999999999" fill="#1c1c1c" stroke="#1c1c1c">7242 Δ</text>
<text x="1248.25" y="189.92" class="cb" font-size="5.319999999999999" fill="#1c1c1c" stroke="#1c1c1c">7244 Δ</text>
<rect x="1238.5" y="192.5" width="19.5" height="7.5" fill="#a6d6ef"/>
<text x="1248.25" y="198.17" class="cb" font-size="5.319999999999999" fill="#1c1c1c" stroke="#1c1c1c">7246 Δ</text>
<rect x="1238.5" y="201" width="19.5" height="8" fill="#ec647b"/>
<text x="1248.25" y="206.92" class="cb" font-size="5.319999999999999" fill="#1c1c1c" stroke="#1c1c1c">7248 Δ</text>
<rect x="1238.5" y="209.5" width="19.5" height="7.5" fill="#f6d4de"/>
<text x="1248.25" y="215.17" class="cb" font-size="5.319999999999999" fill="#1c1c1c" stroke="#1c1c1c">7250 Δ</text>
<rect x="1238.5" y="217.5" width="19.5" height="7.5" fill="#41b3d2"/>
<text x="1248.25" y="223.17" class="cb" font-size="5.319999999999999" fill="#1c1c1c" stroke="#1c1c1c">7252</text>
<rect x="1238.5" y="225.5" width="19.5" height="8" fill="#f6d4de"/>
<text x="1248.25" y="231.42" class="cb" font-size="5.319999999999999" fill="#1c1c1c" stroke="#1c1c1c">7254 Δ</text>
<rect x="1238.5" y="234" width="19.5" height="23.5" fill="#41b3d2"/>
<text x="1248.25" y="239.83" class="cb" font-size="5.319999999999999" fill="#1c1c1c" stroke="#1c1c1c">7256</text>
<text x="1248.25" y="247.67" class="cb" font-size="5.319999999999999" fill="#1c1c1c" stroke="#1c1c1c">7258</text>
<text x="1248.25" y="255.5" class="cb" font-size="5.319999999999999" fill="#1c1c1c" stroke="#1c1c1c">7260</text>
<rect x="1238.5" y="258" width="19.5" height="16" fill="#f5c462"/>
<text x="1248.25" y="263.92" class="cb" font-size="5.319999999999999" fill="#1c1c1c" stroke="#1c1c1c">7262</text>
<text x="1248.25" y="271.92" class="cb" font-size="5.319999999999999" fill="#1c1c1c" stroke="#1c1c1c">7264</text>
<rect x="1238.5" y="274.5" width="19.5" height="16" fill="#41b3d2"/>
<text x="1248.25" y="280.42" class="cb" font-size="5.319999999999999" fill="#1c1c1c" stroke="#1c1c1c">7266</text>
<text x="1248.25" y="288.42" class="cb" font-size="5.319999999999999" fill="#1c1c1c" stroke="#1c1c1c">7268</text>
<rect x="1238.5" y="292" width="19.5" height="90" fill="#41b3d2"/>
<text x="1248.25" y="298.01" class="cb" font-size="5.319999999999999" fill="#1c1c1c" stroke="#1c1c1c">7270</text>
<text x="1248.25" y="306.19" class="cb" font-size="5.319999999999999" fill="#1c1c1c" stroke="#1c1c1c">7272</text>
<text x="1248.25" y="314.37" class="cb" font-size="5.319999999999999" fill="#1c1c1c" stroke="#1c1c1c">7274</text>
<text x="1248.25" y="322.55" class="cb" font-size="5.319999999999999" fill="#1c1c1c" stroke="#1c1c1c">7276</text>
<text x="1248.25" y="330.73" class="cb" font-size="5.319999999999999" fill="#1c1c1c" stroke="#1c1c1c">7278</text>
<text x="1248.25" y="338.92" class="cb" font-size="5.319999999999999" fill="#1c1c1c" stroke="#1c1c1c">7280</text>
<text x="1248.25" y="347.1" class="cb" font-size="5.319999999999999" fill="#1c1c1c" stroke="#1c1c1c">7282</text>
<text x="1248.25" y="355.28" class="cb" font-size="5.319999999999999" fill="#1c1c1c" stroke="#1c1c1c">7284</text>
<text x="1248.25" y="363.46" class="cb" font-size="5.319999999999999" fill="#1c1c1c" stroke="#1c1c1c">7286</text>
<text x="1248.25" y="371.64" class="cb" font-size="5.319999999999999" fill="#1c1c1c" stroke="#1c1c1c">7288</text>
<text x="1248.25" y="379.82" class="cb" font-size="5.319999999999999" fill="#1c1c1c" stroke="#1c1c1c">7290</text>
<rect x="1238.5" y="383" width="19.5" height="16" fill="#f6d4de"/>
<text x="1248.25" y="388.92" class="cb" font-size="5.319999999999999" fill="#1c1c1c" stroke="#1c1c1c">7292 Δ</text>
<text x="1248.25" y="396.92" class="cb" font-size="5.319999999999999" fill="#1c1c1c" stroke="#1c1c1c">7294 Δ</text>
<rect x="1238.5" y="399" width="19.5" height="8" fill="#41b3d2"/>
<text x="1248.25" y="404.92" class="cb" font-size="5.319999999999999" fill="#1c1c1c" stroke="#1c1c1c">7296</text>
<rect x="1238.5" y="407.5" width="19.5" height="7.5" fill="#f6d4de"/>
<text x="1248.25" y="413.17" class="cb" font-size="5.319999999999999" fill="#1c1c1c" stroke="#1c1c1c">7298 Δ</text>
<rect x="1238.5" y="416" width="19.5" height="25" fill="#ec647b"/>
<g transform="translate(1248.25,418.65) scale(1.0)" fill="none" stroke="#1c1c1c" stroke-width="0.7"><circle cx="-0.4" cy="-2.6" r="0.6" fill="#1c1c1c" stroke="none"/><path d="M-0.4,-1.8 V0.4 H1.4 L2.2,2.4 M-0.4,-0.8 H1.2"/><path d="M-1.2,-0.2 A2,2 0 1 0 1.6,2.2"/></g>
<text x="1248.25" y="426.77" class="cb" font-size="5.319999999999999" fill="#1c1c1c" stroke="#1c1c1c">7300</text>
<g transform="translate(1248.25,431.15) scale(1.0)" fill="none" stroke="#1c1c1c" stroke-width="0.7"><circle cx="-0.4" cy="-2.6" r="0.6" fill="#1c1c1c" stroke="none"/><path d="M-0.4,-1.8 V0.4 H1.4 L2.2,2.4 M-0.4,-0.8 H1.2"/><path d="M-1.2,-0.2 A2,2 0 1 0 1.6,2.2"/></g>
<text x="1248.25" y="439.27" class="cb" font-size="5.319999999999999" fill="#1c1c1c" stroke="#1c1c1c">7304</text>
<rect x="1238.5" y="441" width="19.5" height="24" fill="#f6d4de"/>
<text x="1248.25" y="446.92" class="cb" font-size="5.319999999999999" fill="#1c1c1c" stroke="#1c1c1c">7306 Δ</text>
<text x="1248.25" y="454.92" class="cb" font-size="5.319999999999999" fill="#1c1c1c" stroke="#1c1c1c">7308 Δ</text>
<text x="1248.25" y="462.92" class="cb" font-size="5.319999999999999" fill="#1c1c1c" stroke="#1c1c1c">7310 Δ</text>
<rect x="1151" y="466" width="17" height="8.32" fill="#41b3d2"/>
<text x="1159.5" y="472.08" class="cb" font-size="5.319999999999999" fill="#1c1c1c" stroke="#1c1c1c">7612</text>
<rect x="1241.5" y="466" width="17" height="8.32" fill="#41b3d2"/>
<text x="1250" y="472.08" class="cb" font-size="5.319999999999999" fill="#1c1c1c" stroke="#1c1c1c">7312</text>
<rect x="1149" y="474.12" width="17" height="8.32" fill="#41b3d2"/>
<text x="1157.5" y="480.2" class="cb" font-size="5.319999999999999" fill="#1c1c1c" stroke="#1c1c1c">7614</text>
<rect x="1243.5" y="474.12" width="17" height="8.32" fill="#41b3d2"/>
<text x="1252" y="480.2" class="cb" font-size="5.319999999999999" fill="#1c1c1c" stroke="#1c1c1c">7314</text>
<rect x="1147.5" y="482.25" width="17" height="8.32" fill="#41b3d2"/>
<text x="1156" y="488.33" class="cb" font-size="5.319999999999999" fill="#1c1c1c" stroke="#1c1c1c">7616</text>
<rect x="1245" y="482.25" width="17" height="8.32" fill="#41b3d2"/>
<text x="1253.5" y="488.33" class="cb" font-size="5.319999999999999" fill="#1c1c1c" stroke="#1c1c1c">7316</text>
<rect x="1146.5" y="490.38" width="17" height="8.32" fill="#41b3d2"/>
<text x="1155" y="496.45" class="cb" font-size="5.319999999999999" fill="#1c1c1c" stroke="#1c1c1c">7618</text>
<rect x="1246" y="490.38" width="17" height="8.32" fill="#41b3d2"/>
<text x="1254.5" y="496.45" class="cb" font-size="5.319999999999999" fill="#1c1c1c" stroke="#1c1c1c">7318</text>
<rect x="1146.5" y="498.5" width="17" height="8.32" fill="#41b3d2"/>
<text x="1155" y="504.58" class="cb" font-size="5.319999999999999" fill="#1c1c1c" stroke="#1c1c1c">7620</text>
<rect x="1246" y="498.5" width="17" height="8.32" fill="#41b3d2"/>
<text x="1254.5" y="504.58" class="cb" font-size="5.319999999999999" fill="#1c1c1c" stroke="#1c1c1c">7320</text>
<rect x="1147.5" y="506.62" width="17" height="8.33" fill="#41b3d2"/>
<text x="1156" y="512.7" class="cb" font-size="5.319999999999999" fill="#1c1c1c" stroke="#1c1c1c">7622</text>
<rect x="1245" y="506.62" width="17" height="8.33" fill="#41b3d2"/>
<text x="1253.5" y="512.7" class="cb" font-size="5.319999999999999" fill="#1c1c1c" stroke="#1c1c1c">7322</text>
<rect x="1149" y="514.75" width="17" height="8.33" fill="#41b3d2"/>
<text x="1157.5" y="520.83" class="cb" font-size="5.319999999999999" fill="#1c1c1c" stroke="#1c1c1c">7624</text>
<rect x="1243.5" y="514.75" width="17" height="8.33" fill="#41b3d2"/>
<text x="1252" y="520.83" class="cb" font-size="5.319999999999999" fill="#1c1c1c" stroke="#1c1c1c">7324</text>
<rect x="1151.5" y="522.88" width="17" height="8.33" fill="#41b3d2"/>
<text x="1160" y="528.95" class="cb" font-size="5.319999999999999" fill="#1c1c1c" stroke="#1c1c1c">7626</text>
<rect x="1241" y="522.88" width="17" height="8.33" fill="#41b3d2"/>
<text x="1249.5" y="528.95" class="cb" font-size="5.319999999999999" fill="#1c1c1c" stroke="#1c1c1c">7326</text>
<rect x="1152" y="532" width="19.5" height="7" fill="#f6d4de"/>
<text x="1161.75" y="537.42" class="cb" font-size="5.319999999999999" fill="#1c1c1c" stroke="#1c1c1c">7628 Δ</text>
<rect x="1152" y="540.5" width="19.5" height="124.5" fill="#a6d6ef"/>
<text x="1161.75" y="546.57" class="cb" font-size="5.319999999999999" fill="#1c1c1c" stroke="#1c1c1c">7630 Δ</text>
<text x="1161.75" y="554.87" class="cb" font-size="5.319999999999999" fill="#1c1c1c" stroke="#1c1c1c">7632 Δ</text>
<text x="1161.75" y="563.17" class="cb" font-size="5.319999999999999" fill="#1c1c1c" stroke="#1c1c1c">7634 Δ</text>
<text x="1161.75" y="571.47" class="cb" font-size="5.319999999999999" fill="#1c1c1c" stroke="#1c1c1c">7636 Δ</text>
<text x="1161.75" y="579.77" class="cb" font-size="5.319999999999999" fill="#1c1c1c" stroke="#1c1c1c">7638 Δ</text>
<text x="1161.75" y="588.07" class="cb" font-size="5.319999999999999" fill="#1c1c1c" stroke="#1c1c1c">7640 Δ</text>
<text x="1161.75" y="596.37" class="cb" font-size="5.319999999999999" fill="#1c1c1c" stroke="#1c1c1c">7642 Δ</text>
<text x="1161.75" y="604.67" class="cb" font-size="5.319999999999999" fill="#1c1c1c" stroke="#1c1c1c">7644 Δ</text>
<text x="1161.75" y="612.97" class="cb" font-size="5.319999999999999" fill="#1c1c1c" stroke="#1c1c1c">7646 Δ</text>
<text x="1161.75" y="621.27" class="cb" font-size="5.319999999999999" fill="#1c1c1c" stroke="#1c1c1c">7648 *</text>
<text x="1161.75" y="629.57" class="cb" font-size="5.319999999999999" fill="#1c1c1c" stroke="#1c1c1c">7650 *</text>
<text x="1161.75" y="637.87" class="cb" font-size="5.319999999999999" fill="#1c1c1c" stroke="#1c1c1c">7652 *</text>
<text x="1161.75" y="646.17" class="cb" font-size="5.319999999999999" fill="#1c1c1c" stroke="#1c1c1c">7654 *</text>
<text x="1161.75" y="654.47" class="cb" font-size="5.319999999999999" fill="#1c1c1c" stroke="#1c1c1c">7656 *</text>
<text x="1161.75" y="662.77" class="cb" font-size="5.319999999999999" fill="#1c1c1c" stroke="#1c1c1c">7658 *</text>
<rect x="1152" y="666" width="19.5" height="8" fill="#a6d6ef"/>
<text x="1161.75" y="671.92" class="cb" font-size="5.319999999999999" fill="#1c1c1c" stroke="#1c1c1c">7660</text>
<rect x="1152" y="674" width="19.5" height="16" fill="#f5c462"/>
<text x="1161.75" y="679.92" class="cb" font-size="5.319999999999999" fill="#1c1c1c" stroke="#1c1c1c">7662</text>
<text x="1161.75" y="687.92" class="cb" font-size="5.319999999999999" fill="#1c1c1c" stroke="#1c1c1c">7664</text>
<rect x="1152" y="690" width="19.5" height="32" fill="#a6d6ef"/>
<text x="1161.75" y="695.92" class="cb" font-size="5.319999999999999" fill="#1c1c1c" stroke="#1c1c1c">7666</text>
<text x="1161.75" y="703.92" class="cb" font-size="5.319999999999999" fill="#1c1c1c" stroke="#1c1c1c">7668</text>
<text x="1161.75" y="711.92" class="cb" font-size="5.319999999999999" fill="#1c1c1c" stroke="#1c1c1c">7670</text>
<text x="1161.75" y="719.92" class="cb" font-size="5.319999999999999" fill="#1c1c1c" stroke="#1c1c1c">7672</text>
<rect x="1152" y="722.5" width="19.5" height="16.5" fill="#f5c462"/>
<text x="1161.75" y="728.54" class="cb" font-size="5.319999999999999" fill="#1c1c1c" stroke="#1c1c1c">7674</text>
<text x="1161.75" y="736.79" class="cb" font-size="5.319999999999999" fill="#1c1c1c" stroke="#1c1c1c">7676</text>
<rect x="1152" y="739" width="19.5" height="8" fill="#a6d6ef"/>
<text x="1161.75" y="744.92" class="cb" font-size="5.319999999999999" fill="#1c1c1c" stroke="#1c1c1c">7678</text>
<rect x="1152" y="747.5" width="17" height="8" fill="#ef9dcc"/>
<text x="1160.5" y="753.42" class="cb" font-size="5.319999999999999" fill="#1c1c1c" stroke="#1c1c1c">7680</text>
<rect x="1149" y="756" width="18.5" height="8" fill="#ef9dcc"/>
<text x="1158.25" y="761.92" class="cb" font-size="5.319999999999999" fill="#1c1c1c" stroke="#1c1c1c">7682</text>
<rect x="1238.5" y="532" width="19.5" height="7" fill="#f6d4de"/>
<text x="1248.25" y="537.42" class="cb" font-size="5.319999999999999" fill="#1c1c1c" stroke="#1c1c1c">7328 Δ</text>
<rect x="1238.5" y="540.5" width="19.5" height="15.5" fill="#f5c462"/>
<text x="1248.25" y="546.29" class="cb" font-size="5.319999999999999" fill="#1c1c1c" stroke="#1c1c1c">7330</text>
<text x="1248.25" y="554.04" class="cb" font-size="5.319999999999999" fill="#1c1c1c" stroke="#1c1c1c">7332</text>
<rect x="1238.5" y="557" width="19.5" height="108" fill="#a6d6ef"/>
<text x="1248.25" y="563.07" class="cb" font-size="5.319999999999999" fill="#1c1c1c" stroke="#1c1c1c">7334</text>
<text x="1248.25" y="571.38" class="cb" font-size="5.319999999999999" fill="#1c1c1c" stroke="#1c1c1c">7336</text>
<text x="1248.25" y="579.68" class="cb" font-size="5.319999999999999" fill="#1c1c1c" stroke="#1c1c1c">7338</text>
<text x="1248.25" y="587.99" class="cb" font-size="5.319999999999999" fill="#1c1c1c" stroke="#1c1c1c">7340</text>
<text x="1248.25" y="596.3" class="cb" font-size="5.319999999999999" fill="#1c1c1c" stroke="#1c1c1c">7342</text>
<text x="1248.25" y="604.61" class="cb" font-size="5.319999999999999" fill="#1c1c1c" stroke="#1c1c1c">7344</text>
<text x="1248.25" y="612.92" class="cb" font-size="5.319999999999999" fill="#1c1c1c" stroke="#1c1c1c">7346</text>
<text x="1248.25" y="621.22" class="cb" font-size="5.319999999999999" fill="#1c1c1c" stroke="#1c1c1c">7348</text>
<text x="1248.25" y="629.53" class="cb" font-size="5.319999999999999" fill="#1c1c1c" stroke="#1c1c1c">7350 *</text>
<text x="1248.25" y="637.84" class="cb" font-size="5.319999999999999" fill="#1c1c1c" stroke="#1c1c1c">7352 *</text>
<text x="1248.25" y="646.15" class="cb" font-size="5.319999999999999" fill="#1c1c1c" stroke="#1c1c1c">7354 *</text>
<text x="1248.25" y="654.45" class="cb" font-size="5.319999999999999" fill="#1c1c1c" stroke="#1c1c1c">7356 *</text>
<text x="1248.25" y="662.76" class="cb" font-size="5.319999999999999" fill="#1c1c1c" stroke="#1c1c1c">7358 *</text>
<rect x="1238.5" y="666" width="19.5" height="8" fill="#a6d6ef"/>
<text x="1248.25" y="671.92" class="cb" font-size="5.319999999999999" fill="#1c1c1c" stroke="#1c1c1c">7360</text>
<rect x="1238.5" y="674" width="19.5" height="16" fill="#f5c462"/>
<text x="1248.25" y="679.92" class="cb" font-size="5.319999999999999" fill="#1c1c1c" stroke="#1c1c1c">7362</text>
<text x="1248.25" y="687.92" class="cb" font-size="5.319999999999999" fill="#1c1c1c" stroke="#1c1c1c">7364</text>
<rect x="1238.5" y="690" width="19.5" height="32" fill="#a6d6ef"/>
<text x="1248.25" y="695.92" class="cb" font-size="5.319999999999999" fill="#1c1c1c" stroke="#1c1c1c">7366</text>
<text x="1248.25" y="703.92" class="cb" font-size="5.319999999999999" fill="#1c1c1c" stroke="#1c1c1c">7368</text>
<text x="1248.25" y="711.92" class="cb" font-size="5.319999999999999" fill="#1c1c1c" stroke="#1c1c1c">7370</text>
<text x="1248.25" y="719.92" class="cb" font-size="5.319999999999999" fill="#1c1c1c" stroke="#1c1c1c">7372</text>
<rect x="1238.5" y="722.5" width="19.5" height="16.5" fill="#f5c462"/>
<text x="1248.25" y="728.54" class="cb" font-size="5.319999999999999" fill="#1c1c1c" stroke="#1c1c1c">7374</text>
<text x="1248.25" y="736.79" class="cb" font-size="5.319999999999999" fill="#1c1c1c" stroke="#1c1c1c">7376</text>
<rect x="1238.5" y="739" width="19.5" height="8" fill="#a6d6ef"/>
<text x="1248.25" y="744.92" class="cb" font-size="5.319999999999999" fill="#1c1c1c" stroke="#1c1c1c">7378</text>
<rect x="1240.5" y="747.5" width="17.5" height="8" fill="#ef9dcc"/>
<text x="1249.25" y="753.42" class="cb" font-size="5.319999999999999" fill="#1c1c1c" stroke="#1c1c1c">7380</text>
<rect x="1242.5" y="756" width="19.5" height="8" fill="#ef9dcc"/>
<text x="1252.25" y="761.92" class="cb" font-size="5.319999999999999" fill="#1c1c1c" stroke="#1c1c1c">7382</text>
<path d="M1173.5,59 V460 M1236.5,59 V460 M1174,266 V308 M1191,266 V565 M1219,266 V558 M1236,266 V460" fill="none" stroke="#c2c2c2" stroke-width="0.5"/>
<rect x="1176" y="44" width="16.5" height="65" fill="#d5ab98"/>
<text x="1184.25" y="49.98" class="cb" font-size="5.319999999999999" fill="#1c1c1c" stroke="#1c1c1c">7511*</text>
<text x="1184.25" y="58.1" class="cb" font-size="5.319999999999999" fill="#1c1c1c" stroke="#1c1c1c">7513*</text>
<text x="1184.25" y="66.23" class="cb" font-size="5.319999999999999" fill="#1c1c1c" stroke="#1c1c1c">7515*</text>
<text x="1184.25" y="74.35" class="cb" font-size="5.319999999999999" fill="#1c1c1c" stroke="#1c1c1c">7517</text>
<text x="1184.25" y="82.48" class="cb" font-size="5.319999999999999" fill="#1c1c1c" stroke="#1c1c1c">7519</text>
<text x="1184.25" y="90.6" class="cb" font-size="5.319999999999999" fill="#1c1c1c" stroke="#1c1c1c">7521</text>
<text x="1184.25" y="98.73" class="cb" font-size="5.319999999999999" fill="#1c1c1c" stroke="#1c1c1c">7523</text>
<text x="1184.25" y="106.85" class="cb" font-size="5.319999999999999" fill="#1c1c1c" stroke="#1c1c1c">7525</text>
<rect x="1194" y="44" width="16" height="65" fill="#d5ab98"/>
<text x="1202" y="49.98" class="cb" font-size="5.319999999999999" fill="#1c1c1c" stroke="#1c1c1c">7111*</text>
<text x="1202" y="58.1" class="cb" font-size="5.319999999999999" fill="#1c1c1c" stroke="#1c1c1c">7113*</text>
<text x="1202" y="66.23" class="cb" font-size="5.319999999999999" fill="#1c1c1c" stroke="#1c1c1c">7115*</text>
<text x="1202" y="74.35" class="cb" font-size="5.319999999999999" fill="#1c1c1c" stroke="#1c1c1c">7117</text>
<text x="1202" y="82.48" class="cb" font-size="5.319999999999999" fill="#1c1c1c" stroke="#1c1c1c">7119</text>
<text x="1202" y="90.6" class="cb" font-size="5.319999999999999" fill="#1c1c1c" stroke="#1c1c1c">7121</text>
<text x="1202" y="98.73" class="cb" font-size="5.319999999999999" fill="#1c1c1c" stroke="#1c1c1c">7123</text>
<text x="1202" y="106.85" class="cb" font-size="5.319999999999999" fill="#1c1c1c" stroke="#1c1c1c">7125</text>
<rect x="1217" y="44" width="18" height="114" fill="#d5ab98"/>
<text x="1226" y="49.99" class="cb" font-size="5.319999999999999" fill="#1c1c1c" stroke="#1c1c1c">7211*</text>
<text x="1226" y="58.13" class="cb" font-size="5.319999999999999" fill="#1c1c1c" stroke="#1c1c1c">7213*</text>
<text x="1226" y="66.27" class="cb" font-size="5.319999999999999" fill="#1c1c1c" stroke="#1c1c1c">7215*</text>
<text x="1226" y="74.42" class="cb" font-size="5.319999999999999" fill="#1c1c1c" stroke="#1c1c1c">7217</text>
<text x="1226" y="82.56" class="cb" font-size="5.319999999999999" fill="#1c1c1c" stroke="#1c1c1c">7219</text>
<text x="1226" y="90.7" class="cb" font-size="5.319999999999999" fill="#1c1c1c" stroke="#1c1c1c">7221</text>
<text x="1226" y="98.84" class="cb" font-size="5.319999999999999" fill="#1c1c1c" stroke="#1c1c1c">7223</text>
<text x="1226" y="106.99" class="cb" font-size="5.319999999999999" fill="#1c1c1c" stroke="#1c1c1c">7225</text>
<text x="1226" y="115.13" class="cb" font-size="5.319999999999999" fill="#1c1c1c" stroke="#1c1c1c">7227</text>
<text x="1226" y="123.27" class="cb" font-size="5.319999999999999" fill="#1c1c1c" stroke="#1c1c1c">7229</text>
<text x="1226" y="131.42" class="cb" font-size="5.319999999999999" fill="#1c1c1c" stroke="#1c1c1c">7231*</text>
<text x="1226" y="139.56" class="cb" font-size="5.319999999999999" fill="#1c1c1c" stroke="#1c1c1c">7233*</text>
<text x="1226" y="147.7" class="cb" font-size="5.319999999999999" fill="#1c1c1c" stroke="#1c1c1c">7235*</text>
<text x="1226" y="155.84" class="cb" font-size="5.319999999999999" fill="#1c1c1c" stroke="#1c1c1c">7237</text>
<rect x="1176" y="117" width="16.5" height="33" fill="#d5ab98"/>
<text x="1184.25" y="123.04" class="cb" font-size="5.319999999999999" fill="#1c1c1c" stroke="#1c1c1c">7529</text>
<text x="1184.25" y="131.29" class="cb" font-size="5.319999999999999" fill="#1c1c1c" stroke="#1c1c1c">7531*</text>
<text x="1184.25" y="139.54" class="cb" font-size="5.319999999999999" fill="#1c1c1c" stroke="#1c1c1c">7533*</text>
<text x="1184.25" y="147.79" class="cb" font-size="5.319999999999999" fill="#1c1c1c" stroke="#1c1c1c">7535*</text>
<rect x="1194" y="117" width="16" height="49" fill="#d5ab98"/>
<text x="1202" y="123" class="cb" font-size="5.319999999999999" fill="#1c1c1c" stroke="#1c1c1c">7129</text>
<text x="1202" y="131.17" class="cb" font-size="5.319999999999999" fill="#1c1c1c" stroke="#1c1c1c">7131*</text>
<text x="1202" y="139.33" class="cb" font-size="5.319999999999999" fill="#1c1c1c" stroke="#1c1c1c">7133*</text>
<text x="1202" y="147.5" class="cb" font-size="5.319999999999999" fill="#1c1c1c" stroke="#1c1c1c">7135*</text>
<text x="1202" y="155.67" class="cb" font-size="5.319999999999999" fill="#1c1c1c" stroke="#1c1c1c">7137</text>
<text x="1202" y="163.83" class="cb" font-size="5.319999999999999" fill="#1c1c1c" stroke="#1c1c1c">7139</text>
<path d="M1211.5,46.25 l2,2.6 h-1.3 v4.3 h1.3 l-2,2.6 l-2,-2.6 h1.3 v-4.3 h-1.3 z" fill="#111"/>
<path d="M1211.5,128.25 l2,2.6 h-1.3 v4.3 h1.3 l-2,2.6 l-2,-2.6 h1.3 v-4.3 h-1.3 z" fill="#111"/>
<path d="M1172.5,63.25 l2,2.6 h-1.3 v4.3 h1.3 l-2,2.6 l-2,-2.6 h1.3 v-4.3 h-1.3 z" fill="#111"/>
<path d="M1237,63.25 l2,2.6 h-1.3 v4.3 h1.3 l-2,2.6 l-2,-2.6 h1.3 v-4.3 h-1.3 z" fill="#111"/>
<path d="M1237.5,145.25 l2,2.6 h-1.3 v4.3 h1.3 l-2,2.6 l-2,-2.6 h1.3 v-4.3 h-1.3 z" fill="#111"/>
<path d="M1171.5,153.75 l2,2.6 h-1.3 v4.3 h1.3 l-2,2.6 l-2,-2.6 h1.3 v-4.3 h-1.3 z" fill="#111"/>
<rect x="1176" y="168" width="14.5" height="12" fill="#e5d098"/>
<line x1="1179.62" y1="168" x2="1179.62" y2="180" stroke="#c9b278" stroke-width="0.3"/>
<line x1="1183.25" y1="168" x2="1183.25" y2="180" stroke="#c9b278" stroke-width="0.3"/>
<line x1="1186.88" y1="168" x2="1186.88" y2="180" stroke="#c9b278" stroke-width="0.3"/>
<line x1="1176" y1="174" x2="1190.5" y2="174" stroke="#c9b278" stroke-width="0.3"/>
<rect x="1219.5" y="168" width="14.5" height="12" fill="#e5d098"/>
<line x1="1223.12" y1="168" x2="1223.12" y2="180" stroke="#c9b278" stroke-width="0.3"/>
<line x1="1226.75" y1="168" x2="1226.75" y2="180" stroke="#c9b278" stroke-width="0.3"/>
<line x1="1230.38" y1="168" x2="1230.38" y2="180" stroke="#c9b278" stroke-width="0.3"/>
<line x1="1219.5" y1="174" x2="1234" y2="174" stroke="#c9b278" stroke-width="0.3"/>
<path d="M1197,168 H1212 V180 H1209 V177 H1200 V180 H1197 Z" fill="none" stroke="#c2c2c2" stroke-width="0.5"/>
<rect x="1175" y="195" width="7" height="20" fill="#fff" stroke="#c2c2c2" stroke-width="0.5"/>
<g transform="translate(1178.7,205) rotate(-90) scale(0.8106,1)" class="lb" font-size="6.55" fill="#111">
<text x="0" y="2.36">ELEV.</text>
</g>
<rect x="1227.5" y="195" width="7" height="20" fill="#fff" stroke="#c2c2c2" stroke-width="0.5"/>
<g transform="translate(1231.2,205) rotate(-90) scale(0.8106,1)" class="lb" font-size="6.55" fill="#111">
<text x="0" y="2.36">ELEV.</text>
</g>
<path d="M1191,194 h5 l2,-3 h13.5 l2,3 h5 v70 M1191,194 v70" fill="none" stroke="#c2c2c2" stroke-width="0.5"/>
<rect x="1174" y="217" width="17" height="32.5" fill="#c6c4e0"/>
<text x="1182.5" y="222.98" class="cb" font-size="5.319999999999999" fill="#1c1c1c" stroke="#1c1c1c">7553</text>
<text x="1182.5" y="231.1" class="cb" font-size="5.319999999999999" fill="#1c1c1c" stroke="#1c1c1c">7555</text>
<text x="1182.5" y="239.23" class="cb" font-size="5.319999999999999" fill="#1c1c1c" stroke="#1c1c1c">7557</text>
<text x="1182.5" y="247.35" class="cb" font-size="5.319999999999999" fill="#1c1c1c" stroke="#1c1c1c">7559</text>
<rect x="1174" y="250" width="17" height="16" fill="#1e9b52"/>
<text x="1182.5" y="255.92" class="cb" font-size="5.319999999999999" fill="#1c1c1c" stroke="#1c1c1c">7561</text>
<text x="1182.5" y="263.92" class="cb" font-size="5.319999999999999" fill="#1c1c1c" stroke="#1c1c1c">7563</text>
<rect x="1174" y="308" width="17" height="16.5" fill="#1e9b52"/>
<text x="1182.5" y="314.04" class="cb" font-size="5.319999999999999" fill="#1c1c1c" stroke="#1c1c1c">7575</text>
<text x="1182.5" y="322.29" class="cb" font-size="5.319999999999999" fill="#1c1c1c" stroke="#1c1c1c">7577</text>
<rect x="1174" y="324.5" width="17" height="25" fill="#c6c4e0"/>
<text x="1182.5" y="330.58" class="cb" font-size="5.319999999999999" fill="#1c1c1c" stroke="#1c1c1c">7579</text>
<text x="1182.5" y="338.92" class="cb" font-size="5.319999999999999" fill="#1c1c1c" stroke="#1c1c1c">7581</text>
<text x="1182.5" y="347.25" class="cb" font-size="5.319999999999999" fill="#1c1c1c" stroke="#1c1c1c">7583</text>
<rect x="1174" y="357.5" width="17" height="16.5" fill="#1e9b52"/>
<text x="1182.5" y="363.54" class="cb" font-size="5.319999999999999" fill="#1c1c1c" stroke="#1c1c1c">7587</text>
<text x="1182.5" y="371.79" class="cb" font-size="5.319999999999999" fill="#1c1c1c" stroke="#1c1c1c">7589</text>
<rect x="1174" y="374" width="17" height="16.5" fill="#c6c4e0"/>
<text x="1182.5" y="380.04" class="cb" font-size="5.319999999999999" fill="#1c1c1c" stroke="#1c1c1c">7591</text>
<text x="1182.5" y="388.29" class="cb" font-size="5.319999999999999" fill="#1c1c1c" stroke="#1c1c1c">7593</text>
<rect x="1174" y="390.5" width="17" height="16.5" fill="#1e9b52"/>
<text x="1182.5" y="396.54" class="cb" font-size="5.319999999999999" fill="#1c1c1c" stroke="#1c1c1c">7595</text>
<text x="1182.5" y="404.79" class="cb" font-size="5.319999999999999" fill="#1c1c1c" stroke="#1c1c1c">7597</text>
<rect x="1174" y="416" width="17" height="33.5" fill="#1e9b52"/>
<text x="1182.5" y="422.1" class="cb" font-size="5.319999999999999" fill="#1c1c1c" stroke="#1c1c1c">7601</text>
<text x="1182.5" y="430.48" class="cb" font-size="5.319999999999999" fill="#1c1c1c" stroke="#1c1c1c">7603</text>
<text x="1182.5" y="438.85" class="cb" font-size="5.319999999999999" fill="#1c1c1c" stroke="#1c1c1c">7605</text>
<text x="1182.5" y="447.23" class="cb" font-size="5.319999999999999" fill="#1c1c1c" stroke="#1c1c1c">7607</text>
<rect x="1174" y="449.5" width="17" height="16.5" fill="#c6c4e0"/>
<text x="1182.5" y="455.54" class="cb" font-size="5.319999999999999" fill="#1c1c1c" stroke="#1c1c1c">7609</text>
<text x="1182.5" y="463.79" class="cb" font-size="5.319999999999999" fill="#1c1c1c" stroke="#1c1c1c">7611</text>
<rect x="1219" y="217" width="17" height="32.5" fill="#c6c4e0"/>
<text x="1227.5" y="222.98" class="cb" font-size="5.319999999999999" fill="#1c1c1c" stroke="#1c1c1c">7253</text>
<text x="1227.5" y="231.1" class="cb" font-size="5.319999999999999" fill="#1c1c1c" stroke="#1c1c1c">7255</text>
<text x="1227.5" y="239.23" class="cb" font-size="5.319999999999999" fill="#1c1c1c" stroke="#1c1c1c">7257</text>
<text x="1227.5" y="247.35" class="cb" font-size="5.319999999999999" fill="#1c1c1c" stroke="#1c1c1c">7259</text>
<rect x="1219" y="250" width="17" height="16" fill="#1e9b52"/>
<text x="1227.5" y="255.92" class="cb" font-size="5.319999999999999" fill="#1c1c1c" stroke="#1c1c1c">7261</text>
<text x="1227.5" y="263.92" class="cb" font-size="5.319999999999999" fill="#1c1c1c" stroke="#1c1c1c">7263</text>
<rect x="1219" y="308" width="17" height="16.5" fill="#1e9b52"/>
<text x="1227.5" y="314.04" class="cb" font-size="5.319999999999999" fill="#1c1c1c" stroke="#1c1c1c">7275</text>
<text x="1227.5" y="322.29" class="cb" font-size="5.319999999999999" fill="#1c1c1c" stroke="#1c1c1c">7277</text>
<rect x="1219" y="324.5" width="17" height="25" fill="#c6c4e0"/>
<text x="1227.5" y="330.58" class="cb" font-size="5.319999999999999" fill="#1c1c1c" stroke="#1c1c1c">7279</text>
<text x="1227.5" y="338.92" class="cb" font-size="5.319999999999999" fill="#1c1c1c" stroke="#1c1c1c">7281</text>
<text x="1227.5" y="347.25" class="cb" font-size="5.319999999999999" fill="#1c1c1c" stroke="#1c1c1c">7283</text>
<rect x="1219" y="357.5" width="17" height="33" fill="#1e9b52"/>
<text x="1227.5" y="363.54" class="cb" font-size="5.319999999999999" fill="#1c1c1c" stroke="#1c1c1c">7287</text>
<text x="1227.5" y="371.79" class="cb" font-size="5.319999999999999" fill="#1c1c1c" stroke="#1c1c1c">7289</text>
<text x="1227.5" y="380.04" class="cb" font-size="5.319999999999999" fill="#1c1c1c" stroke="#1c1c1c">7291</text>
<text x="1227.5" y="388.29" class="cb" font-size="5.319999999999999" fill="#1c1c1c" stroke="#1c1c1c">7293</text>
<rect x="1219" y="390.5" width="17" height="20.5" fill="#c6c4e0"/>
<text x="1227.5" y="395.83" class="cb" font-size="5.319999999999999" fill="#1c1c1c" stroke="#1c1c1c">7295</text>
<g transform="translate(1227.5,400.75) scale(1.0)" fill="none" stroke="#1c1c1c" stroke-width="0.7"><circle cx="-0.4" cy="-2.6" r="0.6" fill="#1c1c1c" stroke="none"/><path d="M-0.4,-1.8 V0.4 H1.4 L2.2,2.4 M-0.4,-0.8 H1.2"/><path d="M-1.2,-0.2 A2,2 0 1 0 1.6,2.2"/></g>
<text x="1227.5" y="409.5" class="cb" font-size="5.319999999999999" fill="#1c1c1c" stroke="#1c1c1c">7297</text>
<rect x="1219" y="416" width="17" height="33.5" fill="#1e9b52"/>
<text x="1227.5" y="422.1" class="cb" font-size="5.319999999999999" fill="#1c1c1c" stroke="#1c1c1c">7301</text>
<text x="1227.5" y="430.48" class="cb" font-size="5.319999999999999" fill="#1c1c1c" stroke="#1c1c1c">7303</text>
<text x="1227.5" y="438.85" class="cb" font-size="5.319999999999999" fill="#1c1c1c" stroke="#1c1c1c">7305</text>
<text x="1227.5" y="447.23" class="cb" font-size="5.319999999999999" fill="#1c1c1c" stroke="#1c1c1c">7307</text>
<rect x="1219" y="449.5" width="17" height="16.5" fill="#c6c4e0"/>
<text x="1227.5" y="455.54" class="cb" font-size="5.319999999999999" fill="#1c1c1c" stroke="#1c1c1c">7309</text>
<text x="1227.5" y="463.79" class="cb" font-size="5.319999999999999" fill="#1c1c1c" stroke="#1c1c1c">7311</text>
<path d="M1172.8,253.25 l2,2.6 h-1.3 v4.3 h1.3 l-2,2.6 l-2,-2.6 h1.3 v-4.3 h-1.3 z" fill="#111"/>
<path d="M1172.8,311.25 l2,2.6 h-1.3 v4.3 h1.3 l-2,2.6 l-2,-2.6 h1.3 v-4.3 h-1.3 z" fill="#111"/>
<path d="M1172.8,361.25 l2,2.6 h-1.3 v4.3 h1.3 l-2,2.6 l-2,-2.6 h1.3 v-4.3 h-1.3 z" fill="#111"/>
<path d="M1172.8,394.25 l2,2.6 h-1.3 v4.3 h1.3 l-2,2.6 l-2,-2.6 h1.3 v-4.3 h-1.3 z" fill="#111"/>
<path d="M1172.8,419.25 l2,2.6 h-1.3 v4.3 h1.3 l-2,2.6 l-2,-2.6 h1.3 v-4.3 h-1.3 z" fill="#111"/>
<path d="M1172.8,436.25 l2,2.6 h-1.3 v4.3 h1.3 l-2,2.6 l-2,-2.6 h1.3 v-4.3 h-1.3 z" fill="#111"/>
<path d="M1237.3,253.25 l2,2.6 h-1.3 v4.3 h1.3 l-2,2.6 l-2,-2.6 h1.3 v-4.3 h-1.3 z" fill="#111"/>
<path d="M1237.3,311.25 l2,2.6 h-1.3 v4.3 h1.3 l-2,2.6 l-2,-2.6 h1.3 v-4.3 h-1.3 z" fill="#111"/>
<path d="M1237.3,361.25 l2,2.6 h-1.3 v4.3 h1.3 l-2,2.6 l-2,-2.6 h1.3 v-4.3 h-1.3 z" fill="#111"/>
<path d="M1237.3,377.75 l2,2.6 h-1.3 v4.3 h1.3 l-2,2.6 l-2,-2.6 h1.3 v-4.3 h-1.3 z" fill="#111"/>
<path d="M1237.3,419.25 l2,2.6 h-1.3 v4.3 h1.3 l-2,2.6 l-2,-2.6 h1.3 v-4.3 h-1.3 z" fill="#111"/>
<path d="M1237.3,436.25 l2,2.6 h-1.3 v4.3 h1.3 l-2,2.6 l-2,-2.6 h1.3 v-4.3 h-1.3 z" fill="#111"/>
<path d="M1172,227.25 l2,2.6 h-1.3 v4.3 h1.3 l-2,2.6 l-2,-2.6 h1.3 v-4.3 h-1.3 z" fill="#111"/>
<path d="M1172,265.25 l2,2.6 h-1.3 v4.3 h1.3 l-2,2.6 l-2,-2.6 h1.3 v-4.3 h-1.3 z" fill="#111"/>
<path d="M1237.5,227.25 l2,2.6 h-1.3 v4.3 h1.3 l-2,2.6 l-2,-2.6 h1.3 v-4.3 h-1.3 z" fill="#111"/>
<path d="M1237.5,263.25 l2,2.6 h-1.3 v4.3 h1.3 l-2,2.6 l-2,-2.6 h1.3 v-4.3 h-1.3 z" fill="#111"/>
<path d="M1171.5,447.25 l2,2.6 h-1.3 v4.3 h1.3 l-2,2.6 l-2,-2.6 h1.3 v-4.3 h-1.3 z" fill="#111"/>
<path d="M1238,447.25 l2,2.6 h-1.3 v4.3 h1.3 l-2,2.6 l-2,-2.6 h1.3 v-4.3 h-1.3 z" fill="#111"/>
<rect x="1172.5" y="475.5" width="7" height="19.5" fill="#fff" stroke="#c2c2c2" stroke-width="0.5"/>
<g transform="translate(1176.2,485.25) rotate(-90) scale(0.8106,1)" class="lb" font-size="6.55" fill="#111">
<text x="0" y="2.36">ELEV.</text>
</g>
<rect x="1230" y="475.5" width="7" height="19.5" fill="#fff" stroke="#c2c2c2" stroke-width="0.5"/>
<g transform="translate(1233.7,485.25) rotate(-90) scale(0.8106,1)" class="lb" font-size="6.55" fill="#111">
<text x="0" y="2.36">ELEV.</text>
</g>
<path d="M1190,540 V470 h6 v-6 h18 v6 h6 V540 M1196,476 h18" fill="none" stroke="#c2c2c2" stroke-width="0.5"/>
<g transform="translate(1205,516.3) rotate(0) scale(0.772,1)" class="lb" font-size="7.77" fill="#111">
<text x="0" y="-8.45">LIBRARY</text>
<text x="0" y="-0.95">AND</text>
<text x="0" y="6.55">CARD</text>
<text x="0" y="14.05">ROOM</text>
</g>
<rect x="1175" y="510" width="14.5" height="12" fill="#e5d098"/>
<line x1="1178.62" y1="510" x2="1178.62" y2="522" stroke="#c9b278" stroke-width="0.3"/>
<line x1="1182.25" y1="510" x2="1182.25" y2="522" stroke="#c9b278" stroke-width="0.3"/>
<line x1="1185.88" y1="510" x2="1185.88" y2="522" stroke="#c9b278" stroke-width="0.3"/>
<line x1="1175" y1="516" x2="1189.5" y2="516" stroke="#c9b278" stroke-width="0.3"/>
<rect x="1220.5" y="510" width="14.5" height="12" fill="#e5d098"/>
<line x1="1224.12" y1="510" x2="1224.12" y2="522" stroke="#c9b278" stroke-width="0.3"/>
<line x1="1227.75" y1="510" x2="1227.75" y2="522" stroke="#c9b278" stroke-width="0.3"/>
<line x1="1231.38" y1="510" x2="1231.38" y2="522" stroke="#c9b278" stroke-width="0.3"/>
<line x1="1220.5" y1="516" x2="1235" y2="516" stroke="#c9b278" stroke-width="0.3"/>
<rect x="1194" y="549" width="16" height="65" fill="#d5ab98"/>
<text x="1202" y="554.98" class="cb" font-size="5.319999999999999" fill="#1c1c1c" stroke="#1c1c1c">7433*</text>
<text x="1202" y="563.1" class="cb" font-size="5.319999999999999" fill="#1c1c1c" stroke="#1c1c1c">7435</text>
<text x="1202" y="571.23" class="cb" font-size="5.319999999999999" fill="#1c1c1c" stroke="#1c1c1c">7437*</text>
<text x="1202" y="579.35" class="cb" font-size="5.319999999999999" fill="#1c1c1c" stroke="#1c1c1c">7439*</text>
<text x="1202" y="587.48" class="cb" font-size="5.319999999999999" fill="#1c1c1c" stroke="#1c1c1c">7441*</text>
<text x="1202" y="595.6" class="cb" font-size="5.319999999999999" fill="#1c1c1c" stroke="#1c1c1c">7443</text>
<text x="1202" y="603.73" class="cb" font-size="5.319999999999999" fill="#1c1c1c" stroke="#1c1c1c">7445</text>
<text x="1202" y="611.85" class="cb" font-size="5.319999999999999" fill="#1c1c1c" stroke="#1c1c1c">7447</text>
<rect x="1176" y="565" width="16.5" height="90" fill="#d5ab98"/>
<text x="1184.25" y="571.01" class="cb" font-size="5.319999999999999" fill="#1c1c1c" stroke="#1c1c1c">7637*</text>
<text x="1184.25" y="579.19" class="cb" font-size="5.319999999999999" fill="#1c1c1c" stroke="#1c1c1c">7639*</text>
<text x="1184.25" y="587.37" class="cb" font-size="5.319999999999999" fill="#1c1c1c" stroke="#1c1c1c">7641</text>
<text x="1184.25" y="595.55" class="cb" font-size="5.319999999999999" fill="#1c1c1c" stroke="#1c1c1c">7643</text>
<text x="1184.25" y="603.73" class="cb" font-size="5.319999999999999" fill="#1c1c1c" stroke="#1c1c1c">7645</text>
<text x="1184.25" y="611.92" class="cb" font-size="5.319999999999999" fill="#1c1c1c" stroke="#1c1c1c">7647*</text>
<text x="1184.25" y="620.1" class="cb" font-size="5.319999999999999" fill="#1c1c1c" stroke="#1c1c1c">7649*</text>
<text x="1184.25" y="628.28" class="cb" font-size="5.319999999999999" fill="#1c1c1c" stroke="#1c1c1c">7651</text>
<text x="1184.25" y="636.46" class="cb" font-size="5.319999999999999" fill="#1c1c1c" stroke="#1c1c1c">7653*</text>
<text x="1184.25" y="644.64" class="cb" font-size="5.319999999999999" fill="#1c1c1c" stroke="#1c1c1c">7655*</text>
<text x="1184.25" y="652.82" class="cb" font-size="5.319999999999999" fill="#1c1c1c" stroke="#1c1c1c">7657</text>
<rect x="1194" y="622.5" width="16" height="32.5" fill="#d5ab98"/>
<text x="1202" y="628.48" class="cb" font-size="5.319999999999999" fill="#1c1c1c" stroke="#1c1c1c">7451</text>
<text x="1202" y="636.6" class="cb" font-size="5.319999999999999" fill="#1c1c1c" stroke="#1c1c1c">7453</text>
<text x="1202" y="644.73" class="cb" font-size="5.319999999999999" fill="#1c1c1c" stroke="#1c1c1c">7455</text>
<text x="1202" y="652.85" class="cb" font-size="5.319999999999999" fill="#1c1c1c" stroke="#1c1c1c">7457</text>
<rect x="1217" y="558" width="17" height="16.5" fill="#d5ab98"/>
<text x="1225.5" y="564.04" class="cb" font-size="5.319999999999999" fill="#1c1c1c" stroke="#1c1c1c">7335</text>
<text x="1225.5" y="572.29" class="cb" font-size="5.319999999999999" fill="#1c1c1c" stroke="#1c1c1c">7337</text>
<rect x="1217" y="581" width="17" height="74" fill="#d5ab98"/>
<text x="1225.5" y="587.03" class="cb" font-size="5.319999999999999" fill="#1c1c1c" stroke="#1c1c1c">7341</text>
<text x="1225.5" y="595.25" class="cb" font-size="5.319999999999999" fill="#1c1c1c" stroke="#1c1c1c">7343</text>
<text x="1225.5" y="603.47" class="cb" font-size="5.319999999999999" fill="#1c1c1c" stroke="#1c1c1c">7345</text>
<text x="1225.5" y="611.69" class="cb" font-size="5.319999999999999" fill="#1c1c1c" stroke="#1c1c1c">7347*</text>
<text x="1225.5" y="619.92" class="cb" font-size="5.319999999999999" fill="#1c1c1c" stroke="#1c1c1c">7349*</text>
<text x="1225.5" y="628.14" class="cb" font-size="5.319999999999999" fill="#1c1c1c" stroke="#1c1c1c">7351</text>
<text x="1225.5" y="636.36" class="cb" font-size="5.319999999999999" fill="#1c1c1c" stroke="#1c1c1c">7353*</text>
<text x="1225.5" y="644.58" class="cb" font-size="5.319999999999999" fill="#1c1c1c" stroke="#1c1c1c">7355*</text>
<text x="1225.5" y="652.8" class="cb" font-size="5.319999999999999" fill="#1c1c1c" stroke="#1c1c1c">7357</text>
<rect x="1176" y="690" width="16.5" height="74" fill="#d5ab98"/>
<text x="1184.25" y="696.03" class="cb" font-size="5.319999999999999" fill="#1c1c1c" stroke="#1c1c1c">7667</text>
<text x="1184.25" y="704.25" class="cb" font-size="5.319999999999999" fill="#1c1c1c" stroke="#1c1c1c">7669</text>
<text x="1184.25" y="712.47" class="cb" font-size="5.319999999999999" fill="#1c1c1c" stroke="#1c1c1c">7671</text>
<text x="1184.25" y="720.69" class="cb" font-size="5.319999999999999" fill="#1c1c1c" stroke="#1c1c1c">7673</text>
<text x="1184.25" y="728.92" class="cb" font-size="5.319999999999999" fill="#1c1c1c" stroke="#1c1c1c">7675</text>
<text x="1184.25" y="737.14" class="cb" font-size="5.319999999999999" fill="#1c1c1c" stroke="#1c1c1c">7677</text>
<text x="1184.25" y="745.36" class="cb" font-size="5.319999999999999" fill="#1c1c1c" stroke="#1c1c1c">7679</text>
<text x="1184.25" y="753.58" class="cb" font-size="5.319999999999999" fill="#1c1c1c" stroke="#1c1c1c">7683</text>
<text x="1184.25" y="761.8" class="cb" font-size="5.319999999999999" fill="#1c1c1c" stroke="#1c1c1c">7687*</text>
<rect x="1194" y="681" width="16" height="83" fill="#d5ab98"/>
<text x="1202" y="687.07" class="cb" font-size="5.319999999999999" fill="#1c1c1c" stroke="#1c1c1c">7465</text>
<text x="1202" y="695.37" class="cb" font-size="5.319999999999999" fill="#1c1c1c" stroke="#1c1c1c">7467</text>
<text x="1202" y="703.67" class="cb" font-size="5.319999999999999" fill="#1c1c1c" stroke="#1c1c1c">7469</text>
<text x="1202" y="711.97" class="cb" font-size="5.319999999999999" fill="#1c1c1c" stroke="#1c1c1c">7471</text>
<text x="1202" y="720.27" class="cb" font-size="5.319999999999999" fill="#1c1c1c" stroke="#1c1c1c">7473</text>
<text x="1202" y="728.57" class="cb" font-size="5.319999999999999" fill="#1c1c1c" stroke="#1c1c1c">7475</text>
<text x="1202" y="736.87" class="cb" font-size="5.319999999999999" fill="#1c1c1c" stroke="#1c1c1c">7477</text>
<text x="1202" y="745.17" class="cb" font-size="5.319999999999999" fill="#1c1c1c" stroke="#1c1c1c">7479</text>
<text x="1202" y="753.47" class="cb" font-size="5.319999999999999" fill="#1c1c1c" stroke="#1c1c1c">7483</text>
<text x="1202" y="761.77" class="cb" font-size="5.319999999999999" fill="#1c1c1c" stroke="#1c1c1c">7487</text>
<rect x="1217" y="681" width="17" height="83" fill="#d5ab98"/>
<text x="1225.5" y="687.07" class="cb" font-size="5.319999999999999" fill="#1c1c1c" stroke="#1c1c1c">7365</text>
<text x="1225.5" y="695.37" class="cb" font-size="5.319999999999999" fill="#1c1c1c" stroke="#1c1c1c">7367</text>
<text x="1225.5" y="703.67" class="cb" font-size="5.319999999999999" fill="#1c1c1c" stroke="#1c1c1c">7369</text>
<text x="1225.5" y="711.97" class="cb" font-size="5.319999999999999" fill="#1c1c1c" stroke="#1c1c1c">7371</text>
<text x="1225.5" y="720.27" class="cb" font-size="5.319999999999999" fill="#1c1c1c" stroke="#1c1c1c">7373</text>
<text x="1225.5" y="728.57" class="cb" font-size="5.319999999999999" fill="#1c1c1c" stroke="#1c1c1c">7375</text>
<text x="1225.5" y="736.87" class="cb" font-size="5.319999999999999" fill="#1c1c1c" stroke="#1c1c1c">7377</text>
<text x="1225.5" y="745.17" class="cb" font-size="5.319999999999999" fill="#1c1c1c" stroke="#1c1c1c">7379</text>
<text x="1225.5" y="753.47" class="cb" font-size="5.319999999999999" fill="#1c1c1c" stroke="#1c1c1c">7383</text>
<text x="1225.5" y="761.77" class="cb" font-size="5.319999999999999" fill="#1c1c1c" stroke="#1c1c1c">7387*</text>
<path d="M1172.5,543.25 l2,2.6 h-1.3 v4.3 h1.3 l-2,2.6 l-2,-2.6 h1.3 v-4.3 h-1.3 z" fill="#111"/>
<path d="M1238,543.25 l2,2.6 h-1.3 v4.3 h1.3 l-2,2.6 l-2,-2.6 h1.3 v-4.3 h-1.3 z" fill="#111"/>
<path d="M1176,617.25 l2,2.6 h-1.3 v4.3 h1.3 l-2,2.6 l-2,-2.6 h1.3 v-4.3 h-1.3 z" fill="#111"/>
<path d="M1172,677.25 l2,2.6 h-1.3 v4.3 h1.3 l-2,2.6 l-2,-2.6 h1.3 v-4.3 h-1.3 z" fill="#111"/>
<path d="M1238,677.25 l2,2.6 h-1.3 v4.3 h1.3 l-2,2.6 l-2,-2.6 h1.3 v-4.3 h-1.3 z" fill="#111"/>
<path d="M1176.5,717.25 l2,2.6 h-1.3 v4.3 h1.3 l-2,2.6 l-2,-2.6 h1.3 v-4.3 h-1.3 z" fill="#111"/>
<path d="M1211,717.25 l2,2.6 h-1.3 v4.3 h1.3 l-2,2.6 l-2,-2.6 h1.3 v-4.3 h-1.3 z" fill="#111"/>
<path d="M1171.5,725.75 l2,2.6 h-1.3 v4.3 h1.3 l-2,2.6 l-2,-2.6 h1.3 v-4.3 h-1.3 z" fill="#111"/>
<path d="M1238,725.75 l2,2.6 h-1.3 v4.3 h1.3 l-2,2.6 l-2,-2.6 h1.3 v-4.3 h-1.3 z" fill="#111"/>
<path d="M1176.5,750.25 l2,2.6 h-1.3 v4.3 h1.3 l-2,2.6 l-2,-2.6 h1.3 v-4.3 h-1.3 z" fill="#111"/>
<path d="M1211,750.25 l2,2.6 h-1.3 v4.3 h1.3 l-2,2.6 l-2,-2.6 h1.3 v-4.3 h-1.3 z" fill="#111"/>
<path d="M1193.2,565 V764 M1211.5,540 V764 M1215.5,574 V764 M1174,566 V748 M1236.5,566 V748" fill="none" stroke="#c2c2c2" stroke-width="0.5"/>
<rect x="1165" y="769.5" width="16" height="18.5" fill="#f4b9bf"/>
<text x="1169" y="780.32" class="cb" font-size="4.369999999999999" fill="#1c1c1c" stroke="#1c1c1c" transform="rotate(-90 1169 778.75)">7688 Δ</text>
<line x1="1173" y1="769.5" x2="1173" y2="788" stroke="rgba(0,0,0,0.15)" stroke-width="0.4"/>
<text x="1177" y="780.32" class="cb" font-size="4.369999999999999" fill="#1c1c1c" stroke="#1c1c1c" transform="rotate(-90 1177 778.75)">7690 Δ</text>
<rect x="1181" y="768" width="48" height="20" fill="#a8305e"/>
<text x="1187" y="779.64" class="cb" font-size="4.56" fill="#fff" stroke="#fff" transform="rotate(-90 1187 778)">7692</text>
<line x1="1193" y1="768" x2="1193" y2="788" stroke="rgba(255,255,255,0.4)" stroke-width="0.4"/>
<text x="1199" y="779.64" class="cb" font-size="4.56" fill="#fff" stroke="#fff" transform="rotate(-90 1199 778)">7694</text>
<line x1="1205" y1="768" x2="1205" y2="788" stroke="rgba(255,255,255,0.4)" stroke-width="0.4"/>
<text x="1211" y="779.64" class="cb" font-size="4.56" fill="#fff" stroke="#fff" transform="rotate(-90 1211 778)">7394</text>
<line x1="1217" y1="768" x2="1217" y2="788" stroke="rgba(255,255,255,0.4)" stroke-width="0.4"/>
<text x="1223" y="779.64" class="cb" font-size="4.56" fill="#fff" stroke="#fff" transform="rotate(-90 1223 778)">7392</text>
<rect x="1229" y="769.5" width="16" height="18.5" fill="#f4b9bf"/>
<text x="1233" y="780.32" class="cb" font-size="4.369999999999999" fill="#1c1c1c" stroke="#1c1c1c" transform="rotate(-90 1233 778.75)">7390 Δ</text>
<line x1="1237" y1="769.5" x2="1237" y2="788" stroke="rgba(0,0,0,0.15)" stroke-width="0.4"/>
<text x="1241" y="780.32" class="cb" font-size="4.369999999999999" fill="#1c1c1c" stroke="#1c1c1c" transform="rotate(-90 1241 778.75)">7388 Δ</text>
<line x1="1165" y1="788" x2="1165" y2="795" stroke="#c2c2c2" stroke-width="0.4"/>
<line x1="1173" y1="788" x2="1173" y2="795" stroke="#c2c2c2" stroke-width="0.4"/>
<line x1="1181" y1="788" x2="1181" y2="795" stroke="#c2c2c2" stroke-width="0.4"/>
<line x1="1193" y1="788" x2="1193" y2="795" stroke="#c2c2c2" stroke-width="0.4"/>
<line x1="1205" y1="788" x2="1205" y2="795" stroke="#c2c2c2" stroke-width="0.4"/>
<line x1="1217" y1="788" x2="1217" y2="795" stroke="#c2c2c2" stroke-width="0.4"/>
<line x1="1229" y1="788" x2="1229" y2="795" stroke="#c2c2c2" stroke-width="0.4"/>
<line x1="1237" y1="788" x2="1237" y2="795" stroke="#c2c2c2" stroke-width="0.4"/>
<line x1="1245" y1="788" x2="1245" y2="795" stroke="#c2c2c2" stroke-width="0.4"/>
<line x1="1163" y1="795" x2="1247" y2="795" stroke="#c2c2c2" stroke-width="0.4"/>
<path d="M1163,800 Q1205,793 1247,800 Q1240,812 1205,813 Q1170,812 1163,800 Z" fill="none" stroke="#c2c2c2" stroke-width="0.5"/>
<text x="1208.5" y="871" class="dk">DECK 7</text>
<path d="M1289.5,460 V58 C1289.5,28 1317,7 1346.25,7 C1375,7 1403,28 1403,58 V460 C1403.5,472 1409.5,485 1409.5,497.5 C1409.5,515 1404,528 1403.5,540 V762 C1403.5,800 1375,825 1346,825 C1317,825 1289,800 1289,762 V540 C1288.5,528 1284,515 1284,497.5 C1284,485 1289,472 1289.5,460" fill="none" stroke="#686868" stroke-width="0.9"/>
<path d="M1292.5,58 C1292.5,31 1318,10 1346.25,10 C1374,10 1400,31 1400,58 V460 M1292.5,58 V460" fill="none" stroke="#c2c2c2" stroke-width="0.5"/>
<line x1="1289.5" y1="77" x2="1295" y2="77" stroke="#c2c2c2" stroke-width="0.35"/>
<line x1="1398" y1="77" x2="1403" y2="77" stroke="#c2c2c2" stroke-width="0.35"/>
<line x1="1289.5" y1="85.05" x2="1295" y2="85.05" stroke="#c2c2c2" stroke-width="0.35"/>
<line x1="1398" y1="85.05" x2="1403" y2="85.05" stroke="#c2c2c2" stroke-width="0.35"/>
<line x1="1289.5" y1="93.1" x2="1295" y2="93.1" stroke="#c2c2c2" stroke-width="0.35"/>
<line x1="1398" y1="93.1" x2="1403" y2="93.1" stroke="#c2c2c2" stroke-width="0.35"/>
<line x1="1289.5" y1="101.15" x2="1295" y2="101.15" stroke="#c2c2c2" stroke-width="0.35"/>
<line x1="1398" y1="101.15" x2="1403" y2="101.15" stroke="#c2c2c2" stroke-width="0.35"/>
<line x1="1289.5" y1="109.2" x2="1295" y2="109.2" stroke="#c2c2c2" stroke-width="0.35"/>
<line x1="1398" y1="109.2" x2="1403" y2="109.2" stroke="#c2c2c2" stroke-width="0.35"/>
<line x1="1289.5" y1="117.25" x2="1295" y2="117.25" stroke="#c2c2c2" stroke-width="0.35"/>
<line x1="1398" y1="117.25" x2="1403" y2="117.25" stroke="#c2c2c2" stroke-width="0.35"/>
<line x1="1289.5" y1="125.3" x2="1295" y2="125.3" stroke="#c2c2c2" stroke-width="0.35"/>
<line x1="1398" y1="125.3" x2="1403" y2="125.3" stroke="#c2c2c2" stroke-width="0.35"/>
<line x1="1289.5" y1="133.35" x2="1295" y2="133.35" stroke="#c2c2c2" stroke-width="0.35"/>
<line x1="1398" y1="133.35" x2="1403" y2="133.35" stroke="#c2c2c2" stroke-width="0.35"/>
<line x1="1289.5" y1="141.4" x2="1295" y2="141.4" stroke="#c2c2c2" stroke-width="0.35"/>
<line x1="1398" y1="141.4" x2="1403" y2="141.4" stroke="#c2c2c2" stroke-width="0.35"/>
<line x1="1289.5" y1="149.45" x2="1295" y2="149.45" stroke="#c2c2c2" stroke-width="0.35"/>
<line x1="1398" y1="149.45" x2="1403" y2="149.45" stroke="#c2c2c2" stroke-width="0.35"/>
<line x1="1289.5" y1="157.5" x2="1295" y2="157.5" stroke="#c2c2c2" stroke-width="0.35"/>
<line x1="1398" y1="157.5" x2="1403" y2="157.5" stroke="#c2c2c2" stroke-width="0.35"/>
<line x1="1289.5" y1="165.55" x2="1295" y2="165.55" stroke="#c2c2c2" stroke-width="0.35"/>
<line x1="1398" y1="165.55" x2="1403" y2="165.55" stroke="#c2c2c2" stroke-width="0.35"/>
<line x1="1289.5" y1="173.6" x2="1295" y2="173.6" stroke="#c2c2c2" stroke-width="0.35"/>
<line x1="1398" y1="173.6" x2="1403" y2="173.6" stroke="#c2c2c2" stroke-width="0.35"/>
<line x1="1289.5" y1="181.65" x2="1295" y2="181.65" stroke="#c2c2c2" stroke-width="0.35"/>
<line x1="1398" y1="181.65" x2="1403" y2="181.65" stroke="#c2c2c2" stroke-width="0.35"/>
<line x1="1289.5" y1="189.7" x2="1295" y2="189.7" stroke="#c2c2c2" stroke-width="0.35"/>
<line x1="1398" y1="189.7" x2="1403" y2="189.7" stroke="#c2c2c2" stroke-width="0.35"/>
<line x1="1289.5" y1="197.75" x2="1295" y2="197.75" stroke="#c2c2c2" stroke-width="0.35"/>
<line x1="1398" y1="197.75" x2="1403" y2="197.75" stroke="#c2c2c2" stroke-width="0.35"/>
<line x1="1289.5" y1="205.8" x2="1295" y2="205.8" stroke="#c2c2c2" stroke-width="0.35"/>
<line x1="1398" y1="205.8" x2="1403" y2="205.8" stroke="#c2c2c2" stroke-width="0.35"/>
<line x1="1289.5" y1="213.85" x2="1295" y2="213.85" stroke="#c2c2c2" stroke-width="0.35"/>
<line x1="1398" y1="213.85" x2="1403" y2="213.85" stroke="#c2c2c2" stroke-width="0.35"/>
<line x1="1289.5" y1="221.9" x2="1295" y2="221.9" stroke="#c2c2c2" stroke-width="0.35"/>
<line x1="1398" y1="221.9" x2="1403" y2="221.9" stroke="#c2c2c2" stroke-width="0.35"/>
<line x1="1289.5" y1="229.95" x2="1295" y2="229.95" stroke="#c2c2c2" stroke-width="0.35"/>
<line x1="1398" y1="229.95" x2="1403" y2="229.95" stroke="#c2c2c2" stroke-width="0.35"/>
<line x1="1289.5" y1="238" x2="1295" y2="238" stroke="#c2c2c2" stroke-width="0.35"/>
<line x1="1398" y1="238" x2="1403" y2="238" stroke="#c2c2c2" stroke-width="0.35"/>
<line x1="1289.5" y1="246.05" x2="1295" y2="246.05" stroke="#c2c2c2" stroke-width="0.35"/>
<line x1="1398" y1="246.05" x2="1403" y2="246.05" stroke="#c2c2c2" stroke-width="0.35"/>
<line x1="1289.5" y1="254.1" x2="1295" y2="254.1" stroke="#c2c2c2" stroke-width="0.35"/>
<line x1="1398" y1="254.1" x2="1403" y2="254.1" stroke="#c2c2c2" stroke-width="0.35"/>
<line x1="1289.5" y1="262.15" x2="1295" y2="262.15" stroke="#c2c2c2" stroke-width="0.35"/>
<line x1="1398" y1="262.15" x2="1403" y2="262.15" stroke="#c2c2c2" stroke-width="0.35"/>
<line x1="1289.5" y1="270.2" x2="1295" y2="270.2" stroke="#c2c2c2" stroke-width="0.35"/>
<line x1="1398" y1="270.2" x2="1403" y2="270.2" stroke="#c2c2c2" stroke-width="0.35"/>
<line x1="1289.5" y1="278.25" x2="1295" y2="278.25" stroke="#c2c2c2" stroke-width="0.35"/>
<line x1="1398" y1="278.25" x2="1403" y2="278.25" stroke="#c2c2c2" stroke-width="0.35"/>
<line x1="1289.5" y1="286.3" x2="1295" y2="286.3" stroke="#c2c2c2" stroke-width="0.35"/>
<line x1="1398" y1="286.3" x2="1403" y2="286.3" stroke="#c2c2c2" stroke-width="0.35"/>
<line x1="1289.5" y1="294.35" x2="1295" y2="294.35" stroke="#c2c2c2" stroke-width="0.35"/>
<line x1="1398" y1="294.35" x2="1403" y2="294.35" stroke="#c2c2c2" stroke-width="0.35"/>
<line x1="1289.5" y1="302.4" x2="1295" y2="302.4" stroke="#c2c2c2" stroke-width="0.35"/>
<line x1="1398" y1="302.4" x2="1403" y2="302.4" stroke="#c2c2c2" stroke-width="0.35"/>
<line x1="1289.5" y1="310.45" x2="1295" y2="310.45" stroke="#c2c2c2" stroke-width="0.35"/>
<line x1="1398" y1="310.45" x2="1403" y2="310.45" stroke="#c2c2c2" stroke-width="0.35"/>
<line x1="1289.5" y1="318.5" x2="1295" y2="318.5" stroke="#c2c2c2" stroke-width="0.35"/>
<line x1="1398" y1="318.5" x2="1403" y2="318.5" stroke="#c2c2c2" stroke-width="0.35"/>
<line x1="1289.5" y1="326.55" x2="1295" y2="326.55" stroke="#c2c2c2" stroke-width="0.35"/>
<line x1="1398" y1="326.55" x2="1403" y2="326.55" stroke="#c2c2c2" stroke-width="0.35"/>
<line x1="1289.5" y1="334.6" x2="1295" y2="334.6" stroke="#c2c2c2" stroke-width="0.35"/>
<line x1="1398" y1="334.6" x2="1403" y2="334.6" stroke="#c2c2c2" stroke-width="0.35"/>
<line x1="1289.5" y1="342.65" x2="1295" y2="342.65" stroke="#c2c2c2" stroke-width="0.35"/>
<line x1="1398" y1="342.65" x2="1403" y2="342.65" stroke="#c2c2c2" stroke-width="0.35"/>
<line x1="1289.5" y1="350.7" x2="1295" y2="350.7" stroke="#c2c2c2" stroke-width="0.35"/>
<line x1="1398" y1="350.7" x2="1403" y2="350.7" stroke="#c2c2c2" stroke-width="0.35"/>
<line x1="1289.5" y1="358.75" x2="1295" y2="358.75" stroke="#c2c2c2" stroke-width="0.35"/>
<line x1="1398" y1="358.75" x2="1403" y2="358.75" stroke="#c2c2c2" stroke-width="0.35"/>
<line x1="1289.5" y1="366.8" x2="1295" y2="366.8" stroke="#c2c2c2" stroke-width="0.35"/>
<line x1="1398" y1="366.8" x2="1403" y2="366.8" stroke="#c2c2c2" stroke-width="0.35"/>
<line x1="1289.5" y1="374.85" x2="1295" y2="374.85" stroke="#c2c2c2" stroke-width="0.35"/>
<line x1="1398" y1="374.85" x2="1403" y2="374.85" stroke="#c2c2c2" stroke-width="0.35"/>
<line x1="1289.5" y1="382.9" x2="1295" y2="382.9" stroke="#c2c2c2" stroke-width="0.35"/>
<line x1="1398" y1="382.9" x2="1403" y2="382.9" stroke="#c2c2c2" stroke-width="0.35"/>
<line x1="1289.5" y1="390.95" x2="1295" y2="390.95" stroke="#c2c2c2" stroke-width="0.35"/>
<line x1="1398" y1="390.95" x2="1403" y2="390.95" stroke="#c2c2c2" stroke-width="0.35"/>
<line x1="1289.5" y1="399" x2="1295" y2="399" stroke="#c2c2c2" stroke-width="0.35"/>
<line x1="1398" y1="399" x2="1403" y2="399" stroke="#c2c2c2" stroke-width="0.35"/>
<line x1="1289.5" y1="407.05" x2="1295" y2="407.05" stroke="#c2c2c2" stroke-width="0.35"/>
<line x1="1398" y1="407.05" x2="1403" y2="407.05" stroke="#c2c2c2" stroke-width="0.35"/>
<line x1="1289.5" y1="415.1" x2="1295" y2="415.1" stroke="#c2c2c2" stroke-width="0.35"/>
<line x1="1398" y1="415.1" x2="1403" y2="415.1" stroke="#c2c2c2" stroke-width="0.35"/>
<line x1="1289.5" y1="423.15" x2="1295" y2="423.15" stroke="#c2c2c2" stroke-width="0.35"/>
<line x1="1398" y1="423.15" x2="1403" y2="423.15" stroke="#c2c2c2" stroke-width="0.35"/>
<line x1="1289.5" y1="431.2" x2="1295" y2="431.2" stroke="#c2c2c2" stroke-width="0.35"/>
<line x1="1398" y1="431.2" x2="1403" y2="431.2" stroke="#c2c2c2" stroke-width="0.35"/>
<line x1="1289.5" y1="439.25" x2="1295" y2="439.25" stroke="#c2c2c2" stroke-width="0.35"/>
<line x1="1398" y1="439.25" x2="1403" y2="439.25" stroke="#c2c2c2" stroke-width="0.35"/>
<line x1="1289.5" y1="447.3" x2="1295" y2="447.3" stroke="#c2c2c2" stroke-width="0.35"/>
<line x1="1398" y1="447.3" x2="1403" y2="447.3" stroke="#c2c2c2" stroke-width="0.35"/>
<line x1="1289.5" y1="455.35" x2="1295" y2="455.35" stroke="#c2c2c2" stroke-width="0.35"/>
<line x1="1398" y1="455.35" x2="1403" y2="455.35" stroke="#c2c2c2" stroke-width="0.35"/>
<path d="M1292.5,52 h4 v10 M1400,52 h-4 v10" fill="none" stroke="#c2c2c2" stroke-width="0.4"/>
<path d="M1299,49 V38 Q1305,24 1322,19 Q1334,16 1346.25,16 Q1358,16 1370,19 Q1387,24 1393,38 V49 L1383,49 Q1378,43 1366,41 Q1356,40 1346.25,40 Q1336,40 1326,41 Q1314,43 1309,49 Z" fill="#f8ec4c" stroke="none" stroke-width="0"/>
<path d="M1326.5,18 Q1331,17 1335,16.6 V40.2 Q1331,40.4 1326,41 Z" fill="#ef9dcc" stroke="none" stroke-width="0"/>
<path d="M1366,18 Q1361.5,17 1357.5,16.6 V40.2 Q1361.5,40.4 1366.5,41 Z" fill="#ef9dcc" stroke="none" stroke-width="0"/>
<path d="M1335,16.6 Q1346.25,15.6 1357.5,16.6 V40.2 Q1346.25,39.6 1335,40.2 Z" fill="#c0e0a2" stroke="none" stroke-width="0"/>
<text x="1304.5" y="43.64" class="cb" font-size="4.56" fill="#1c1c1c" stroke="#1c1c1c" transform="rotate(-90 1304.5 42)">6508</text>
<text x="1313.5" y="38.14" class="cb" font-size="4.56" fill="#1c1c1c" stroke="#1c1c1c" transform="rotate(-86 1313.5 36.5)">6506</text>
<text x="1322" y="33.14" class="cb" font-size="4.56" fill="#1c1c1c" stroke="#1c1c1c" transform="rotate(-86 1322 31.5)">6504</text>
<text x="1330.5" y="29.64" class="cb" font-size="4.56" fill="#1c1c1c" stroke="#1c1c1c" transform="rotate(-88 1330.5 28)">6502*</text>
<text x="1340.5" y="29.14" class="cb" font-size="4.56" fill="#1c1c1c" stroke="#1c1c1c" transform="rotate(-90 1340.5 27.5)">6500</text>
<text x="1352" y="29.14" class="cb" font-size="4.56" fill="#1c1c1c" stroke="#1c1c1c" transform="rotate(-90 1352 27.5)">6200</text>
<text x="1362" y="29.64" class="cb" font-size="4.56" fill="#1c1c1c" stroke="#1c1c1c" transform="rotate(-92 1362 28)">6202*</text>
<text x="1370.5" y="32.64" class="cb" font-size="4.56" fill="#1c1c1c" stroke="#1c1c1c" transform="rotate(-94 1370.5 31)">6204</text>
<text x="1379.5" y="37.14" class="cb" font-size="4.56" fill="#1c1c1c" stroke="#1c1c1c" transform="rotate(-94 1379.5 35.5)">6206</text>
<text x="1388.5" y="43.64" class="cb" font-size="4.56" fill="#1c1c1c" stroke="#1c1c1c" transform="rotate(-90 1388.5 42)">6208</text>
<line x1="1309" y1="20" x2="1309" y2="48" stroke="rgba(0,0,0,0.12)" stroke-width="0.4"/>
<line x1="1317.5" y1="20" x2="1317.5" y2="48" stroke="rgba(0,0,0,0.12)" stroke-width="0.4"/>
<line x1="1346.25" y1="20" x2="1346.25" y2="48" stroke="rgba(0,0,0,0.12)" stroke-width="0.4"/>
<line x1="1374.5" y1="20" x2="1374.5" y2="48" stroke="rgba(0,0,0,0.12)" stroke-width="0.4"/>
<line x1="1383" y1="20" x2="1383" y2="48" stroke="rgba(0,0,0,0.12)" stroke-width="0.4"/>
<rect x="1295" y="69" width="18.8" height="88" fill="#a6d6ef"/>
<text x="1304.4" y="74.92" class="cb" font-size="5.319999999999999" fill="#1c1c1c" stroke="#1c1c1c">6514 Δ</text>
<text x="1304.4" y="82.92" class="cb" font-size="5.319999999999999" fill="#1c1c1c" stroke="#1c1c1c">6516 Δ</text>
<text x="1304.4" y="90.92" class="cb" font-size="5.319999999999999" fill="#1c1c1c" stroke="#1c1c1c">6518 Δ</text>
<text x="1304.4" y="98.92" class="cb" font-size="5.319999999999999" fill="#1c1c1c" stroke="#1c1c1c">6520</text>
<text x="1304.4" y="106.92" class="cb" font-size="5.319999999999999" fill="#1c1c1c" stroke="#1c1c1c">6522</text>
<text x="1304.4" y="114.92" class="cb" font-size="5.319999999999999" fill="#1c1c1c" stroke="#1c1c1c">6524</text>
<text x="1304.4" y="122.92" class="cb" font-size="5.319999999999999" fill="#1c1c1c" stroke="#1c1c1c">6526</text>
<text x="1304.4" y="130.92" class="cb" font-size="5.319999999999999" fill="#1c1c1c" stroke="#1c1c1c">6528</text>
<text x="1304.4" y="138.92" class="cb" font-size="5.319999999999999" fill="#1c1c1c" stroke="#1c1c1c">6530</text>
<text x="1304.4" y="146.92" class="cb" font-size="5.319999999999999" fill="#1c1c1c" stroke="#1c1c1c">6532</text>
<text x="1304.4" y="154.92" class="cb" font-size="5.319999999999999" fill="#1c1c1c" stroke="#1c1c1c">6534</text>
<rect x="1295" y="157.5" width="18.8" height="15.5" fill="#f6d4de"/>
<text x="1304.4" y="163.29" class="cb" font-size="5.319999999999999" fill="#1c1c1c" stroke="#1c1c1c">6536 Δ</text>
<text x="1304.4" y="171.04" class="cb" font-size="5.319999999999999" fill="#1c1c1c" stroke="#1c1c1c">6538 Δ</text>
<rect x="1295" y="174.5" width="18.8" height="23" fill="#f6d4de"/>
<text x="1304.4" y="180.25" class="cb" font-size="5.319999999999999" fill="#1c1c1c" stroke="#1c1c1c">6540 Δ</text>
<text x="1304.4" y="187.92" class="cb" font-size="5.319999999999999" fill="#1c1c1c" stroke="#1c1c1c">6542 Δ</text>
<text x="1304.4" y="195.58" class="cb" font-size="5.319999999999999" fill="#1c1c1c" stroke="#1c1c1c">6544 Δ</text>
<rect x="1295" y="198" width="18.8" height="8" fill="#a6d6ef"/>
<text x="1304.4" y="203.92" class="cb" font-size="5.319999999999999" fill="#1c1c1c" stroke="#1c1c1c">6546 Δ</text>
<rect x="1295" y="207" width="18.8" height="7.5" fill="#ec647b"/>
<text x="1304.4" y="212.67" class="cb" font-size="5.319999999999999" fill="#1c1c1c" stroke="#1c1c1c">6548 Δ</text>
<rect x="1295" y="215" width="18.8" height="7.5" fill="#f6d4de"/>
<text x="1304.4" y="220.67" class="cb" font-size="5.319999999999999" fill="#1c1c1c" stroke="#1c1c1c">6550 Δ</text>
<rect x="1295" y="223" width="18.8" height="7.5" fill="#41b3d2"/>
<text x="1304.4" y="228.67" class="cb" font-size="5.319999999999999" fill="#1c1c1c" stroke="#1c1c1c">6552</text>
<rect x="1295" y="231" width="18.8" height="7" fill="#f6d4de"/>
<text x="1304.4" y="236.42" class="cb" font-size="5.319999999999999" fill="#1c1c1c" stroke="#1c1c1c">6554 Δ</text>
<rect x="1295" y="238" width="18.8" height="32" fill="#41b3d2"/>
<text x="1304.4" y="243.92" class="cb" font-size="5.319999999999999" fill="#1c1c1c" stroke="#1c1c1c">6556</text>
<text x="1304.4" y="251.92" class="cb" font-size="5.319999999999999" fill="#1c1c1c" stroke="#1c1c1c">6558</text>
<text x="1304.4" y="259.92" class="cb" font-size="5.319999999999999" fill="#1c1c1c" stroke="#1c1c1c">6560</text>
<text x="1304.4" y="267.92" class="cb" font-size="5.319999999999999" fill="#1c1c1c" stroke="#1c1c1c">6562</text>
<rect x="1295" y="271" width="18.8" height="23.5" fill="#41b3d2"/>
<text x="1304.4" y="276.83" class="cb" font-size="5.319999999999999" fill="#1c1c1c" stroke="#1c1c1c">6564</text>
<text x="1304.4" y="284.67" class="cb" font-size="5.319999999999999" fill="#1c1c1c" stroke="#1c1c1c">6566</text>
<text x="1304.4" y="292.5" class="cb" font-size="5.319999999999999" fill="#1c1c1c" stroke="#1c1c1c">6568</text>
<rect x="1295" y="295.5" width="18.8" height="72.5" fill="#41b3d2"/>
<text x="1304.4" y="301.44" class="cb" font-size="5.319999999999999" fill="#1c1c1c" stroke="#1c1c1c">6570</text>
<text x="1304.4" y="309.5" class="cb" font-size="5.319999999999999" fill="#1c1c1c" stroke="#1c1c1c">6572</text>
<text x="1304.4" y="317.55" class="cb" font-size="5.319999999999999" fill="#1c1c1c" stroke="#1c1c1c">6574</text>
<text x="1304.4" y="325.61" class="cb" font-size="5.319999999999999" fill="#1c1c1c" stroke="#1c1c1c">6576</text>
<text x="1304.4" y="333.67" class="cb" font-size="5.319999999999999" fill="#1c1c1c" stroke="#1c1c1c">6578</text>
<text x="1304.4" y="341.72" class="cb" font-size="5.319999999999999" fill="#1c1c1c" stroke="#1c1c1c">6580</text>
<text x="1304.4" y="349.78" class="cb" font-size="5.319999999999999" fill="#1c1c1c" stroke="#1c1c1c">6582</text>
<text x="1304.4" y="357.83" class="cb" font-size="5.319999999999999" fill="#1c1c1c" stroke="#1c1c1c">6584</text>
<text x="1304.4" y="365.89" class="cb" font-size="5.319999999999999" fill="#1c1c1c" stroke="#1c1c1c">6586</text>
<rect x="1295" y="369" width="18.8" height="7" fill="#f6d4de"/>
<text x="1304.4" y="374.42" class="cb" font-size="5.319999999999999" fill="#1c1c1c" stroke="#1c1c1c">6588 Δ</text>
<rect x="1295" y="377" width="18.8" height="7" fill="#41b3d2"/>
<text x="1304.4" y="382.42" class="cb" font-size="5.319999999999999" fill="#1c1c1c" stroke="#1c1c1c">6590</text>
<rect x="1295" y="385" width="18.8" height="15" fill="#f6d4de"/>
<text x="1304.4" y="390.67" class="cb" font-size="5.319999999999999" fill="#1c1c1c" stroke="#1c1c1c">6592 Δ</text>
<text x="1304.4" y="398.17" class="cb" font-size="5.319999999999999" fill="#1c1c1c" stroke="#1c1c1c">6594 Δ</text>
<rect x="1295" y="401" width="18.8" height="7" fill="#41b3d2"/>
<text x="1304.4" y="406.42" class="cb" font-size="5.319999999999999" fill="#1c1c1c" stroke="#1c1c1c">6596</text>
<rect x="1295" y="409" width="18.8" height="7" fill="#f6d4de"/>
<text x="1304.4" y="414.42" class="cb" font-size="5.319999999999999" fill="#1c1c1c" stroke="#1c1c1c">6598 Δ</text>
<rect x="1295" y="417.5" width="18.8" height="24.5" fill="#ec647b"/>
<g transform="translate(1304.4,420.02) scale(1.0)" fill="none" stroke="#1c1c1c" stroke-width="0.7"><circle cx="-0.4" cy="-2.6" r="0.6" fill="#1c1c1c" stroke="none"/><path d="M-0.4,-1.8 V0.4 H1.4 L2.2,2.4 M-0.4,-0.8 H1.2"/><path d="M-1.2,-0.2 A2,2 0 1 0 1.6,2.2"/></g>
<text x="1304.4" y="428.14" class="cb" font-size="5.319999999999999" fill="#1c1c1c" stroke="#1c1c1c">6600</text>
<g transform="translate(1304.4,432.27) scale(1.0)" fill="none" stroke="#1c1c1c" stroke-width="0.7"><circle cx="-0.4" cy="-2.6" r="0.6" fill="#1c1c1c" stroke="none"/><path d="M-0.4,-1.8 V0.4 H1.4 L2.2,2.4 M-0.4,-0.8 H1.2"/><path d="M-1.2,-0.2 A2,2 0 1 0 1.6,2.2"/></g>
<text x="1304.4" y="440.39" class="cb" font-size="5.319999999999999" fill="#1c1c1c" stroke="#1c1c1c">6604</text>
<rect x="1295" y="442.5" width="18.8" height="22.5" fill="#f6d4de"/>
<text x="1304.4" y="448.17" class="cb" font-size="5.319999999999999" fill="#1c1c1c" stroke="#1c1c1c">6606 Δ</text>
<text x="1304.4" y="455.67" class="cb" font-size="5.319999999999999" fill="#1c1c1c" stroke="#1c1c1c">6608 Δ</text>
<text x="1304.4" y="463.17" class="cb" font-size="5.319999999999999" fill="#1c1c1c" stroke="#1c1c1c">6610 Δ</text>
<rect x="1378.5" y="69" width="19.5" height="80.5" fill="#a6d6ef"/>
<text x="1388.25" y="74.94" class="cb" font-size="5.319999999999999" fill="#1c1c1c" stroke="#1c1c1c">6214</text>
<text x="1388.25" y="82.99" class="cb" font-size="5.319999999999999" fill="#1c1c1c" stroke="#1c1c1c">6216</text>
<text x="1388.25" y="91.04" class="cb" font-size="5.319999999999999" fill="#1c1c1c" stroke="#1c1c1c">6218</text>
<text x="1388.25" y="99.09" class="cb" font-size="5.319999999999999" fill="#1c1c1c" stroke="#1c1c1c">6220</text>
<text x="1388.25" y="107.14" class="cb" font-size="5.319999999999999" fill="#1c1c1c" stroke="#1c1c1c">6222</text>
<text x="1388.25" y="115.19" class="cb" font-size="5.319999999999999" fill="#1c1c1c" stroke="#1c1c1c">6224</text>
<text x="1388.25" y="123.24" class="cb" font-size="5.319999999999999" fill="#1c1c1c" stroke="#1c1c1c">6226</text>
<text x="1388.25" y="131.29" class="cb" font-size="5.319999999999999" fill="#1c1c1c" stroke="#1c1c1c">6228</text>
<text x="1388.25" y="139.34" class="cb" font-size="5.319999999999999" fill="#1c1c1c" stroke="#1c1c1c">6230</text>
<text x="1388.25" y="147.39" class="cb" font-size="5.319999999999999" fill="#1c1c1c" stroke="#1c1c1c">6232</text>
<rect x="1378.5" y="150" width="19.5" height="15" fill="#f5c462"/>
<text x="1388.25" y="155.67" class="cb" font-size="5.319999999999999" fill="#1c1c1c" stroke="#1c1c1c">6234</text>
<text x="1388.25" y="163.17" class="cb" font-size="5.319999999999999" fill="#1c1c1c" stroke="#1c1c1c">6236</text>
<rect x="1378.5" y="165.5" width="19.5" height="7.5" fill="#a6d6ef"/>
<text x="1388.25" y="171.17" class="cb" font-size="5.319999999999999" fill="#1c1c1c" stroke="#1c1c1c">6238</text>
<rect x="1378.5" y="174.5" width="19.5" height="7.5" fill="#a6d6ef"/>
<text x="1388.25" y="180.17" class="cb" font-size="5.319999999999999" fill="#1c1c1c" stroke="#1c1c1c">6240 Δ</text>
<rect x="1378.5" y="182.5" width="19.5" height="15" fill="#f6d4de"/>
<text x="1388.25" y="188.17" class="cb" font-size="5.319999999999999" fill="#1c1c1c" stroke="#1c1c1c">6242 Δ</text>
<text x="1388.25" y="195.67" class="cb" font-size="5.319999999999999" fill="#1c1c1c" stroke="#1c1c1c">6244 Δ</text>
<rect x="1378.5" y="198" width="19.5" height="8" fill="#a6d6ef"/>
<text x="1388.25" y="203.92" class="cb" font-size="5.319999999999999" fill="#1c1c1c" stroke="#1c1c1c">6246 Δ</text>
<rect x="1378.5" y="207" width="19.5" height="7.5" fill="#ec647b"/>
<text x="1388.25" y="212.67" class="cb" font-size="5.319999999999999" fill="#1c1c1c" stroke="#1c1c1c">6248 Δ</text>
<rect x="1378.5" y="215" width="19.5" height="7.5" fill="#f6d4de"/>
<text x="1388.25" y="220.67" class="cb" font-size="5.319999999999999" fill="#1c1c1c" stroke="#1c1c1c">6250 Δ</text>
<rect x="1378.5" y="223" width="19.5" height="7.5" fill="#41b3d2"/>
<text x="1388.25" y="228.67" class="cb" font-size="5.319999999999999" fill="#1c1c1c" stroke="#1c1c1c">6252</text>
<rect x="1378.5" y="231" width="19.5" height="7" fill="#f6d4de"/>
<text x="1388.25" y="236.42" class="cb" font-size="5.319999999999999" fill="#1c1c1c" stroke="#1c1c1c">6254 Δ</text>
<rect x="1378.5" y="238" width="19.5" height="32" fill="#41b3d2"/>
<text x="1388.25" y="243.92" class="cb" font-size="5.319999999999999" fill="#1c1c1c" stroke="#1c1c1c">6256</text>
<text x="1388.25" y="251.92" class="cb" font-size="5.319999999999999" fill="#1c1c1c" stroke="#1c1c1c">6258</text>
<text x="1388.25" y="259.92" class="cb" font-size="5.319999999999999" fill="#1c1c1c" stroke="#1c1c1c">6260</text>
<text x="1388.25" y="267.92" class="cb" font-size="5.319999999999999" fill="#1c1c1c" stroke="#1c1c1c">6262</text>
<rect x="1378.5" y="271" width="19.5" height="8" fill="#f6d4de"/>
<text x="1388.25" y="276.92" class="cb" font-size="5.319999999999999" fill="#1c1c1c" stroke="#1c1c1c">6264 Δ</text>
<rect x="1378.5" y="279.5" width="19.5" height="7.5" fill="#41b3d2"/>
<text x="1388.25" y="285.17" class="cb" font-size="5.319999999999999" fill="#1c1c1c" stroke="#1c1c1c">6266</text>
<rect x="1378.5" y="287.5" width="19.5" height="7.5" fill="#f6d4de"/>
<text x="1388.25" y="293.17" class="cb" font-size="5.319999999999999" fill="#1c1c1c" stroke="#1c1c1c">6268 Δ</text>
<rect x="1378.5" y="296" width="19.5" height="88" fill="#41b3d2"/>
<text x="1388.25" y="301.92" class="cb" font-size="5.319999999999999" fill="#1c1c1c" stroke="#1c1c1c">6270</text>
<text x="1388.25" y="309.92" class="cb" font-size="5.319999999999999" fill="#1c1c1c" stroke="#1c1c1c">6272</text>
<text x="1388.25" y="317.92" class="cb" font-size="5.319999999999999" fill="#1c1c1c" stroke="#1c1c1c">6274</text>
<text x="1388.25" y="325.92" class="cb" font-size="5.319999999999999" fill="#1c1c1c" stroke="#1c1c1c">6276</text>
<text x="1388.25" y="333.92" class="cb" font-size="5.319999999999999" fill="#1c1c1c" stroke="#1c1c1c">6278</text>
<text x="1388.25" y="341.92" class="cb" font-size="5.319999999999999" fill="#1c1c1c" stroke="#1c1c1c">6280</text>
<text x="1388.25" y="349.92" class="cb" font-size="5.319999999999999" fill="#1c1c1c" stroke="#1c1c1c">6282</text>
<text x="1388.25" y="357.92" class="cb" font-size="5.319999999999999" fill="#1c1c1c" stroke="#1c1c1c">6284</text>
<text x="1388.25" y="365.92" class="cb" font-size="5.319999999999999" fill="#1c1c1c" stroke="#1c1c1c">6286</text>
<text x="1388.25" y="373.92" class="cb" font-size="5.319999999999999" fill="#1c1c1c" stroke="#1c1c1c">6288</text>
<text x="1388.25" y="381.92" class="cb" font-size="5.319999999999999" fill="#1c1c1c" stroke="#1c1c1c">6290</text>
<rect x="1378.5" y="385" width="19.5" height="15" fill="#f6d4de"/>
<text x="1388.25" y="390.67" class="cb" font-size="5.319999999999999" fill="#1c1c1c" stroke="#1c1c1c">6292 Δ</text>
<text x="1388.25" y="398.17" class="cb" font-size="5.319999999999999" fill="#1c1c1c" stroke="#1c1c1c">6294 Δ</text>
<rect x="1378.5" y="401" width="19.5" height="7" fill="#41b3d2"/>
<text x="1388.25" y="406.42" class="cb" font-size="5.319999999999999" fill="#1c1c1c" stroke="#1c1c1c">6296</text>
<rect x="1378.5" y="409" width="19.5" height="7" fill="#f6d4de"/>
<text x="1388.25" y="414.42" class="cb" font-size="5.319999999999999" fill="#1c1c1c" stroke="#1c1c1c">6298 Δ</text>
<rect x="1378.5" y="417.5" width="19.5" height="24.5" fill="#ec647b"/>
<g transform="translate(1388.25,420.02) scale(1.0)" fill="none" stroke="#1c1c1c" stroke-width="0.7"><circle cx="-0.4" cy="-2.6" r="0.6" fill="#1c1c1c" stroke="none"/><path d="M-0.4,-1.8 V0.4 H1.4 L2.2,2.4 M-0.4,-0.8 H1.2"/><path d="M-1.2,-0.2 A2,2 0 1 0 1.6,2.2"/></g>
<text x="1388.25" y="428.14" class="cb" font-size="5.319999999999999" fill="#1c1c1c" stroke="#1c1c1c">6300</text>
<g transform="translate(1388.25,432.27) scale(1.0)" fill="none" stroke="#1c1c1c" stroke-width="0.7"><circle cx="-0.4" cy="-2.6" r="0.6" fill="#1c1c1c" stroke="none"/><path d="M-0.4,-1.8 V0.4 H1.4 L2.2,2.4 M-0.4,-0.8 H1.2"/><path d="M-1.2,-0.2 A2,2 0 1 0 1.6,2.2"/></g>
<text x="1388.25" y="440.39" class="cb" font-size="5.319999999999999" fill="#1c1c1c" stroke="#1c1c1c">6304</text>
<rect x="1378.5" y="442.5" width="19.5" height="22.5" fill="#f6d4de"/>
<text x="1388.25" y="448.17" class="cb" font-size="5.319999999999999" fill="#1c1c1c" stroke="#1c1c1c">6306 Δ</text>
<text x="1388.25" y="455.67" class="cb" font-size="5.319999999999999" fill="#1c1c1c" stroke="#1c1c1c">6308 Δ</text>
<text x="1388.25" y="463.17" class="cb" font-size="5.319999999999999" fill="#1c1c1c" stroke="#1c1c1c">6310 Δ</text>
<rect x="1294" y="466" width="17.5" height="8.32" fill="#41b3d2"/>
<text x="1302.75" y="472.08" class="cb" font-size="5.319999999999999" fill="#1c1c1c" stroke="#1c1c1c">6612</text>
<rect x="1381" y="466" width="17.5" height="8.32" fill="#41b3d2"/>
<text x="1389.75" y="472.08" class="cb" font-size="5.319999999999999" fill="#1c1c1c" stroke="#1c1c1c">6312</text>
<rect x="1292" y="474.12" width="17.5" height="8.32" fill="#41b3d2"/>
<text x="1300.75" y="480.2" class="cb" font-size="5.319999999999999" fill="#1c1c1c" stroke="#1c1c1c">6614</text>
<rect x="1383" y="474.12" width="17.5" height="8.32" fill="#41b3d2"/>
<text x="1391.75" y="480.2" class="cb" font-size="5.319999999999999" fill="#1c1c1c" stroke="#1c1c1c">6314</text>
<rect x="1290.5" y="482.25" width="17.5" height="8.32" fill="#41b3d2"/>
<text x="1299.25" y="488.33" class="cb" font-size="5.319999999999999" fill="#1c1c1c" stroke="#1c1c1c">6616</text>
<rect x="1384.5" y="482.25" width="17.5" height="8.32" fill="#41b3d2"/>
<text x="1393.25" y="488.33" class="cb" font-size="5.319999999999999" fill="#1c1c1c" stroke="#1c1c1c">6316</text>
<rect x="1289.5" y="490.38" width="17.5" height="8.32" fill="#41b3d2"/>
<text x="1298.25" y="496.45" class="cb" font-size="5.319999999999999" fill="#1c1c1c" stroke="#1c1c1c">6618</text>
<rect x="1385.5" y="490.38" width="17.5" height="8.32" fill="#41b3d2"/>
<text x="1394.25" y="496.45" class="cb" font-size="5.319999999999999" fill="#1c1c1c" stroke="#1c1c1c">6318</text>
<rect x="1289.5" y="498.5" width="17.5" height="8.32" fill="#41b3d2"/>
<text x="1298.25" y="504.58" class="cb" font-size="5.319999999999999" fill="#1c1c1c" stroke="#1c1c1c">6620</text>
<rect x="1385.5" y="498.5" width="17.5" height="8.32" fill="#41b3d2"/>
<text x="1394.25" y="504.58" class="cb" font-size="5.319999999999999" fill="#1c1c1c" stroke="#1c1c1c">6320</text>
<rect x="1290.5" y="506.62" width="17.5" height="8.33" fill="#41b3d2"/>
<text x="1299.25" y="512.7" class="cb" font-size="5.319999999999999" fill="#1c1c1c" stroke="#1c1c1c">6622</text>
<rect x="1384.5" y="506.62" width="17.5" height="8.33" fill="#41b3d2"/>
<text x="1393.25" y="512.7" class="cb" font-size="5.319999999999999" fill="#1c1c1c" stroke="#1c1c1c">6322</text>
<rect x="1292" y="514.75" width="17.5" height="8.33" fill="#41b3d2"/>
<text x="1300.75" y="520.83" class="cb" font-size="5.319999999999999" fill="#1c1c1c" stroke="#1c1c1c">6624</text>
<rect x="1383" y="514.75" width="17.5" height="8.33" fill="#41b3d2"/>
<text x="1391.75" y="520.83" class="cb" font-size="5.319999999999999" fill="#1c1c1c" stroke="#1c1c1c">6324</text>
<rect x="1294.5" y="522.88" width="17.5" height="8.33" fill="#41b3d2"/>
<text x="1303.25" y="528.95" class="cb" font-size="5.319999999999999" fill="#1c1c1c" stroke="#1c1c1c">6626</text>
<rect x="1380.5" y="522.88" width="17.5" height="8.33" fill="#41b3d2"/>
<text x="1389.25" y="528.95" class="cb" font-size="5.319999999999999" fill="#1c1c1c" stroke="#1c1c1c">6326</text>
<rect x="1295" y="532" width="18.8" height="7" fill="#f6d4de"/>
<text x="1304.4" y="537.42" class="cb" font-size="5.319999999999999" fill="#1c1c1c" stroke="#1c1c1c">6628 Δ</text>
<rect x="1295" y="540" width="18.8" height="120" fill="#a6d6ef"/>
<text x="1304.4" y="545.92" class="cb" font-size="5.319999999999999" fill="#1c1c1c" stroke="#1c1c1c">6630</text>
<text x="1304.4" y="553.92" class="cb" font-size="5.319999999999999" fill="#1c1c1c" stroke="#1c1c1c">6632</text>
<text x="1304.4" y="561.92" class="cb" font-size="5.319999999999999" fill="#1c1c1c" stroke="#1c1c1c">6634</text>
<text x="1304.4" y="569.92" class="cb" font-size="5.319999999999999" fill="#1c1c1c" stroke="#1c1c1c">6636</text>
<text x="1304.4" y="577.92" class="cb" font-size="5.319999999999999" fill="#1c1c1c" stroke="#1c1c1c">6638</text>
<text x="1304.4" y="585.92" class="cb" font-size="5.319999999999999" fill="#1c1c1c" stroke="#1c1c1c">6640</text>
<text x="1304.4" y="593.92" class="cb" font-size="5.319999999999999" fill="#1c1c1c" stroke="#1c1c1c">6642</text>
<text x="1304.4" y="601.92" class="cb" font-size="5.319999999999999" fill="#1c1c1c" stroke="#1c1c1c">6644 *</text>
<text x="1304.4" y="609.92" class="cb" font-size="5.319999999999999" fill="#1c1c1c" stroke="#1c1c1c">6646 Δ</text>
<text x="1304.4" y="617.92" class="cb" font-size="5.319999999999999" fill="#1c1c1c" stroke="#1c1c1c">6648 *</text>
<text x="1304.4" y="625.92" class="cb" font-size="5.319999999999999" fill="#1c1c1c" stroke="#1c1c1c">6650 *</text>
<text x="1304.4" y="633.92" class="cb" font-size="5.319999999999999" fill="#1c1c1c" stroke="#1c1c1c">6652 *</text>
<text x="1304.4" y="641.92" class="cb" font-size="5.319999999999999" fill="#1c1c1c" stroke="#1c1c1c">6654 *</text>
<text x="1304.4" y="649.92" class="cb" font-size="5.319999999999999" fill="#1c1c1c" stroke="#1c1c1c">6656 *</text>
<text x="1304.4" y="657.92" class="cb" font-size="5.319999999999999" fill="#1c1c1c" stroke="#1c1c1c">6658 *</text>
<rect x="1295" y="661" width="18.8" height="8" fill="#a6d6ef"/>
<text x="1304.4" y="666.92" class="cb" font-size="5.319999999999999" fill="#1c1c1c" stroke="#1c1c1c">6660</text>
<rect x="1295" y="669.5" width="18.8" height="15.5" fill="#f5c462"/>
<text x="1304.4" y="675.29" class="cb" font-size="5.319999999999999" fill="#1c1c1c" stroke="#1c1c1c">6662</text>
<text x="1304.4" y="683.04" class="cb" font-size="5.319999999999999" fill="#1c1c1c" stroke="#1c1c1c">6664</text>
<rect x="1295" y="685.5" width="18.8" height="31.5" fill="#a6d6ef"/>
<text x="1304.4" y="691.35" class="cb" font-size="5.319999999999999" fill="#1c1c1c" stroke="#1c1c1c">6666</text>
<text x="1304.4" y="699.23" class="cb" font-size="5.319999999999999" fill="#1c1c1c" stroke="#1c1c1c">6668</text>
<text x="1304.4" y="707.1" class="cb" font-size="5.319999999999999" fill="#1c1c1c" stroke="#1c1c1c">6670</text>
<text x="1304.4" y="714.98" class="cb" font-size="5.319999999999999" fill="#1c1c1c" stroke="#1c1c1c">6672</text>
<rect x="1295" y="717" width="18.8" height="15.5" fill="#f5c462"/>
<text x="1304.4" y="722.79" class="cb" font-size="5.319999999999999" fill="#1c1c1c" stroke="#1c1c1c">6674</text>
<text x="1304.4" y="730.54" class="cb" font-size="5.319999999999999" fill="#1c1c1c" stroke="#1c1c1c">6676</text>
<rect x="1295" y="733" width="18.8" height="7.5" fill="#a6d6ef"/>
<text x="1304.4" y="738.67" class="cb" font-size="5.319999999999999" fill="#1c1c1c" stroke="#1c1c1c">6678</text>
<rect x="1296" y="741" width="18" height="8" fill="#ef9dcc"/>
<text x="1305" y="746.92" class="cb" font-size="5.319999999999999" fill="#1c1c1c" stroke="#1c1c1c">6680</text>
<rect x="1291" y="749.5" width="18" height="7.5" fill="#ef9dcc"/>
<text x="1300" y="755.17" class="cb" font-size="5.319999999999999" fill="#1c1c1c" stroke="#1c1c1c">6682</text>
<rect x="1378.5" y="532" width="19.5" height="7" fill="#f6d4de"/>
<text x="1388.25" y="537.42" class="cb" font-size="5.319999999999999" fill="#1c1c1c" stroke="#1c1c1c">6328 Δ</text>
<rect x="1378.5" y="540" width="19.5" height="120" fill="#a6d6ef"/>
<text x="1388.25" y="545.92" class="cb" font-size="5.319999999999999" fill="#1c1c1c" stroke="#1c1c1c">6330</text>
<text x="1388.25" y="553.92" class="cb" font-size="5.319999999999999" fill="#1c1c1c" stroke="#1c1c1c">6332</text>
<text x="1388.25" y="561.92" class="cb" font-size="5.319999999999999" fill="#1c1c1c" stroke="#1c1c1c">6334</text>
<text x="1388.25" y="569.92" class="cb" font-size="5.319999999999999" fill="#1c1c1c" stroke="#1c1c1c">6336</text>
<text x="1388.25" y="577.92" class="cb" font-size="5.319999999999999" fill="#1c1c1c" stroke="#1c1c1c">6338</text>
<text x="1388.25" y="585.92" class="cb" font-size="5.319999999999999" fill="#1c1c1c" stroke="#1c1c1c">6340</text>
<text x="1388.25" y="593.92" class="cb" font-size="5.319999999999999" fill="#1c1c1c" stroke="#1c1c1c">6342</text>
<text x="1388.25" y="601.92" class="cb" font-size="5.319999999999999" fill="#1c1c1c" stroke="#1c1c1c">6344</text>
<text x="1388.25" y="609.92" class="cb" font-size="5.319999999999999" fill="#1c1c1c" stroke="#1c1c1c">6346 *</text>
<text x="1388.25" y="617.92" class="cb" font-size="5.319999999999999" fill="#1c1c1c" stroke="#1c1c1c">6348 *</text>
<text x="1388.25" y="625.92" class="cb" font-size="5.319999999999999" fill="#1c1c1c" stroke="#1c1c1c">6350 *</text>
<text x="1388.25" y="633.92" class="cb" font-size="5.319999999999999" fill="#1c1c1c" stroke="#1c1c1c">6352 *</text>
<text x="1388.25" y="641.92" class="cb" font-size="5.319999999999999" fill="#1c1c1c" stroke="#1c1c1c">6354 *</text>
<text x="1388.25" y="649.92" class="cb" font-size="5.319999999999999" fill="#1c1c1c" stroke="#1c1c1c">6356 *</text>
<text x="1388.25" y="657.92" class="cb" font-size="5.319999999999999" fill="#1c1c1c" stroke="#1c1c1c">6358 *</text>
<rect x="1378.5" y="661" width="19.5" height="8" fill="#a6d6ef"/>
<text x="1388.25" y="666.92" class="cb" font-size="5.319999999999999" fill="#1c1c1c" stroke="#1c1c1c">6360</text>
<rect x="1378.5" y="669.5" width="19.5" height="15.5" fill="#f5c462"/>
<text x="1388.25" y="675.29" class="cb" font-size="5.319999999999999" fill="#1c1c1c" stroke="#1c1c1c">6362</text>
<text x="1388.25" y="683.04" class="cb" font-size="5.319999999999999" fill="#1c1c1c" stroke="#1c1c1c">6364</text>
<rect x="1378.5" y="685.5" width="19.5" height="31.5" fill="#a6d6ef"/>
<text x="1388.25" y="691.35" class="cb" font-size="5.319999999999999" fill="#1c1c1c" stroke="#1c1c1c">6366</text>
<text x="1388.25" y="699.23" class="cb" font-size="5.319999999999999" fill="#1c1c1c" stroke="#1c1c1c">6368</text>
<text x="1388.25" y="707.1" class="cb" font-size="5.319999999999999" fill="#1c1c1c" stroke="#1c1c1c">6370</text>
<text x="1388.25" y="714.98" class="cb" font-size="5.319999999999999" fill="#1c1c1c" stroke="#1c1c1c">6372</text>
<rect x="1378.5" y="717" width="19.5" height="15.5" fill="#f5c462"/>
<text x="1388.25" y="722.79" class="cb" font-size="5.319999999999999" fill="#1c1c1c" stroke="#1c1c1c">6374</text>
<text x="1388.25" y="730.54" class="cb" font-size="5.319999999999999" fill="#1c1c1c" stroke="#1c1c1c">6376</text>
<rect x="1378.5" y="733" width="19.5" height="7.5" fill="#a6d6ef"/>
<text x="1388.25" y="738.67" class="cb" font-size="5.319999999999999" fill="#1c1c1c" stroke="#1c1c1c">6378</text>
<rect x="1380" y="741" width="18" height="8" fill="#ef9dcc"/>
<text x="1389" y="746.92" class="cb" font-size="5.319999999999999" fill="#1c1c1c" stroke="#1c1c1c">6380</text>
<rect x="1383" y="749.5" width="18" height="7.5" fill="#ef9dcc"/>
<text x="1392" y="755.17" class="cb" font-size="5.319999999999999" fill="#1c1c1c" stroke="#1c1c1c">6382</text>
<path d="M1315.3,69 V460 M1377,69 V460 M1316,270 V312 M1333,270 V563 M1360,270 V563 M1376,270 V460" fill="none" stroke="#c2c2c2" stroke-width="0.5"/>
<rect x="1318" y="45" width="16" height="112" fill="#d5ab98"/>
<text x="1326" y="50.92" class="cb" font-size="5.319999999999999" fill="#1c1c1c" stroke="#1c1c1c">6509</text>
<text x="1326" y="58.92" class="cb" font-size="5.319999999999999" fill="#1c1c1c" stroke="#1c1c1c">6511*</text>
<text x="1326" y="66.92" class="cb" font-size="5.319999999999999" fill="#1c1c1c" stroke="#1c1c1c">6513*</text>
<text x="1326" y="74.92" class="cb" font-size="5.319999999999999" fill="#1c1c1c" stroke="#1c1c1c">6515</text>
<text x="1326" y="82.92" class="cb" font-size="5.319999999999999" fill="#1c1c1c" stroke="#1c1c1c">6517</text>
<text x="1326" y="90.92" class="cb" font-size="5.319999999999999" fill="#1c1c1c" stroke="#1c1c1c">6519</text>
<text x="1326" y="98.92" class="cb" font-size="5.319999999999999" fill="#1c1c1c" stroke="#1c1c1c">6521*</text>
<text x="1326" y="106.92" class="cb" font-size="5.319999999999999" fill="#1c1c1c" stroke="#1c1c1c">6523*</text>
<text x="1326" y="114.92" class="cb" font-size="5.319999999999999" fill="#1c1c1c" stroke="#1c1c1c">6525</text>
<text x="1326" y="122.92" class="cb" font-size="5.319999999999999" fill="#1c1c1c" stroke="#1c1c1c">6527</text>
<text x="1326" y="130.92" class="cb" font-size="5.319999999999999" fill="#1c1c1c" stroke="#1c1c1c">6529</text>
<text x="1326" y="138.92" class="cb" font-size="5.319999999999999" fill="#1c1c1c" stroke="#1c1c1c">6531*</text>
<text x="1326" y="146.92" class="cb" font-size="5.319999999999999" fill="#1c1c1c" stroke="#1c1c1c">6533*</text>
<text x="1326" y="154.92" class="cb" font-size="5.319999999999999" fill="#1c1c1c" stroke="#1c1c1c">6535*</text>
<rect x="1335.5" y="45" width="16.5" height="72" fill="#d5ab98"/>
<text x="1343.75" y="50.92" class="cb" font-size="5.319999999999999" fill="#1c1c1c" stroke="#1c1c1c">6109</text>
<text x="1343.75" y="58.92" class="cb" font-size="5.319999999999999" fill="#1c1c1c" stroke="#1c1c1c">6111*</text>
<text x="1343.75" y="66.92" class="cb" font-size="5.319999999999999" fill="#1c1c1c" stroke="#1c1c1c">6113*</text>
<text x="1343.75" y="74.92" class="cb" font-size="5.319999999999999" fill="#1c1c1c" stroke="#1c1c1c">6115</text>
<text x="1343.75" y="82.92" class="cb" font-size="5.319999999999999" fill="#1c1c1c" stroke="#1c1c1c">6117</text>
<text x="1343.75" y="90.92" class="cb" font-size="5.319999999999999" fill="#1c1c1c" stroke="#1c1c1c">6119*</text>
<text x="1343.75" y="98.92" class="cb" font-size="5.319999999999999" fill="#1c1c1c" stroke="#1c1c1c">6121*</text>
<text x="1343.75" y="106.92" class="cb" font-size="5.319999999999999" fill="#1c1c1c" stroke="#1c1c1c">6123</text>
<text x="1343.75" y="114.92" class="cb" font-size="5.319999999999999" fill="#1c1c1c" stroke="#1c1c1c">6125</text>
<rect x="1335.5" y="125" width="16.5" height="32" fill="#d5ab98"/>
<text x="1343.75" y="130.92" class="cb" font-size="5.319999999999999" fill="#1c1c1c" stroke="#1c1c1c">6129</text>
<text x="1343.75" y="138.92" class="cb" font-size="5.319999999999999" fill="#1c1c1c" stroke="#1c1c1c">6131*</text>
<text x="1343.75" y="146.92" class="cb" font-size="5.319999999999999" fill="#1c1c1c" stroke="#1c1c1c">6133*</text>
<text x="1343.75" y="154.92" class="cb" font-size="5.319999999999999" fill="#1c1c1c" stroke="#1c1c1c">6135*</text>
<rect x="1335.5" y="160" width="16.5" height="8" fill="#d5ab98"/>
<text x="1343.75" y="165.92" class="cb" font-size="5.319999999999999" fill="#1c1c1c" stroke="#1c1c1c">6137</text>
<rect x="1358" y="45" width="17" height="120" fill="#d5ab98"/>
<text x="1366.5" y="50.92" class="cb" font-size="5.319999999999999" fill="#1c1c1c" stroke="#1c1c1c">6209</text>
<text x="1366.5" y="58.92" class="cb" font-size="5.319999999999999" fill="#1c1c1c" stroke="#1c1c1c">6211</text>
<text x="1366.5" y="66.92" class="cb" font-size="5.319999999999999" fill="#1c1c1c" stroke="#1c1c1c">6213*</text>
<text x="1366.5" y="74.92" class="cb" font-size="5.319999999999999" fill="#1c1c1c" stroke="#1c1c1c">6215*</text>
<text x="1366.5" y="82.92" class="cb" font-size="5.319999999999999" fill="#1c1c1c" stroke="#1c1c1c">6217</text>
<text x="1366.5" y="90.92" class="cb" font-size="5.319999999999999" fill="#1c1c1c" stroke="#1c1c1c">6219</text>
<text x="1366.5" y="98.92" class="cb" font-size="5.319999999999999" fill="#1c1c1c" stroke="#1c1c1c">6221*</text>
<text x="1366.5" y="106.92" class="cb" font-size="5.319999999999999" fill="#1c1c1c" stroke="#1c1c1c">6223*</text>
<text x="1366.5" y="114.92" class="cb" font-size="5.319999999999999" fill="#1c1c1c" stroke="#1c1c1c">6225</text>
<text x="1366.5" y="122.92" class="cb" font-size="5.319999999999999" fill="#1c1c1c" stroke="#1c1c1c">6227</text>
<text x="1366.5" y="130.92" class="cb" font-size="5.319999999999999" fill="#1c1c1c" stroke="#1c1c1c">6229</text>
<text x="1366.5" y="138.92" class="cb" font-size="5.319999999999999" fill="#1c1c1c" stroke="#1c1c1c">6231*</text>
<text x="1366.5" y="146.92" class="cb" font-size="5.319999999999999" fill="#1c1c1c" stroke="#1c1c1c">6233*</text>
<text x="1366.5" y="154.92" class="cb" font-size="5.319999999999999" fill="#1c1c1c" stroke="#1c1c1c">6235*</text>
<text x="1366.5" y="162.92" class="cb" font-size="5.319999999999999" fill="#1c1c1c" stroke="#1c1c1c">6237</text>
<path d="M1353,52.25 l2,2.6 h-1.3 v4.3 h1.3 l-2,2.6 l-2,-2.6 h1.3 v-4.3 h-1.3 z" fill="#111"/>
<path d="M1353,92.25 l2,2.6 h-1.3 v4.3 h1.3 l-2,2.6 l-2,-2.6 h1.3 v-4.3 h-1.3 z" fill="#111"/>
<path d="M1353,140.25 l2,2.6 h-1.3 v4.3 h1.3 l-2,2.6 l-2,-2.6 h1.3 v-4.3 h-1.3 z" fill="#111"/>
<path d="M1376.5,64.25 l2,2.6 h-1.3 v4.3 h1.3 l-2,2.6 l-2,-2.6 h1.3 v-4.3 h-1.3 z" fill="#111"/>
<path d="M1376.5,152.25 l2,2.6 h-1.3 v4.3 h1.3 l-2,2.6 l-2,-2.6 h1.3 v-4.3 h-1.3 z" fill="#111"/>
<path d="M1314.5,160.25 l2,2.6 h-1.3 v4.3 h1.3 l-2,2.6 l-2,-2.6 h1.3 v-4.3 h-1.3 z" fill="#111"/>
<rect x="1318" y="175" width="14.5" height="12" fill="#e5d098"/>
<line x1="1321.62" y1="175" x2="1321.62" y2="187" stroke="#c9b278" stroke-width="0.3"/>
<line x1="1325.25" y1="175" x2="1325.25" y2="187" stroke="#c9b278" stroke-width="0.3"/>
<line x1="1328.88" y1="175" x2="1328.88" y2="187" stroke="#c9b278" stroke-width="0.3"/>
<line x1="1318" y1="181" x2="1332.5" y2="181" stroke="#c9b278" stroke-width="0.3"/>
<rect x="1360" y="175" width="14.5" height="12" fill="#e5d098"/>
<line x1="1363.62" y1="175" x2="1363.62" y2="187" stroke="#c9b278" stroke-width="0.3"/>
<line x1="1367.25" y1="175" x2="1367.25" y2="187" stroke="#c9b278" stroke-width="0.3"/>
<line x1="1370.88" y1="175" x2="1370.88" y2="187" stroke="#c9b278" stroke-width="0.3"/>
<line x1="1360" y1="181" x2="1374.5" y2="181" stroke="#c9b278" stroke-width="0.3"/>
<path d="M1338.5,175 H1354 V187 H1351 V184 H1341.5 V187 H1338.5 Z" fill="none" stroke="#c2c2c2" stroke-width="0.5"/>
<rect x="1317.5" y="201" width="7" height="23.5" fill="#fff" stroke="#c2c2c2" stroke-width="0.5"/>
<g transform="translate(1321.2,212.75) rotate(-90) scale(0.8106,1)" class="lb" font-size="6.55" fill="#111">
<text x="0" y="2.36">ELEV.</text>
</g>
<rect x="1369" y="201" width="7" height="23.5" fill="#fff" stroke="#c2c2c2" stroke-width="0.5"/>
<g transform="translate(1372.7,212.75) rotate(-90) scale(0.8106,1)" class="lb" font-size="6.55" fill="#111">
<text x="0" y="2.36">ELEV.</text>
</g>
<path d="M1333,200 h5 l2,-3 h12.5 l2,3 h5 v70 M1333,200 v70" fill="none" stroke="#c2c2c2" stroke-width="0.5"/>
<rect x="1316" y="222.5" width="17" height="47.5" fill="#1e9b52"/>
<text x="1324.5" y="228.37" class="cb" font-size="5.319999999999999" fill="#1c1c1c" stroke="#1c1c1c">6553</text>
<text x="1324.5" y="236.29" class="cb" font-size="5.319999999999999" fill="#1c1c1c" stroke="#1c1c1c">6555</text>
<text x="1324.5" y="244.21" class="cb" font-size="5.319999999999999" fill="#1c1c1c" stroke="#1c1c1c">6557</text>
<text x="1324.5" y="252.12" class="cb" font-size="5.319999999999999" fill="#1c1c1c" stroke="#1c1c1c">6559</text>
<text x="1324.5" y="260.04" class="cb" font-size="5.319999999999999" fill="#1c1c1c" stroke="#1c1c1c">6561</text>
<text x="1324.5" y="267.96" class="cb" font-size="5.319999999999999" fill="#1c1c1c" stroke="#1c1c1c">6563</text>
<rect x="1316" y="312" width="17" height="16" fill="#1e9b52"/>
<text x="1324.5" y="317.92" class="cb" font-size="5.319999999999999" fill="#1c1c1c" stroke="#1c1c1c">6575</text>
<text x="1324.5" y="325.92" class="cb" font-size="5.319999999999999" fill="#1c1c1c" stroke="#1c1c1c">6577</text>
<rect x="1316" y="328" width="17" height="24.5" fill="#c6c4e0"/>
<text x="1324.5" y="334" class="cb" font-size="5.319999999999999" fill="#1c1c1c" stroke="#1c1c1c">6579</text>
<text x="1324.5" y="342.17" class="cb" font-size="5.319999999999999" fill="#1c1c1c" stroke="#1c1c1c">6581</text>
<text x="1324.5" y="350.33" class="cb" font-size="5.319999999999999" fill="#1c1c1c" stroke="#1c1c1c">6583</text>
<rect x="1316" y="360.5" width="17" height="16.5" fill="#1e9b52"/>
<text x="1324.5" y="366.54" class="cb" font-size="5.319999999999999" fill="#1c1c1c" stroke="#1c1c1c">6587</text>
<text x="1324.5" y="374.79" class="cb" font-size="5.319999999999999" fill="#1c1c1c" stroke="#1c1c1c">6589</text>
<rect x="1316" y="377" width="17" height="32" fill="#c6c4e0"/>
<text x="1324.5" y="382.92" class="cb" font-size="5.319999999999999" fill="#1c1c1c" stroke="#1c1c1c">6591</text>
<text x="1324.5" y="390.92" class="cb" font-size="5.319999999999999" fill="#1c1c1c" stroke="#1c1c1c">6593</text>
<text x="1324.5" y="398.92" class="cb" font-size="5.319999999999999" fill="#1c1c1c" stroke="#1c1c1c">6595</text>
<text x="1324.5" y="406.92" class="cb" font-size="5.319999999999999" fill="#1c1c1c" stroke="#1c1c1c">6597</text>
<rect x="1316" y="417" width="17" height="33" fill="#1e9b52"/>
<text x="1324.5" y="423.04" class="cb" font-size="5.319999999999999" fill="#1c1c1c" stroke="#1c1c1c">6601</text>
<text x="1324.5" y="431.29" class="cb" font-size="5.319999999999999" fill="#1c1c1c" stroke="#1c1c1c">6603</text>
<text x="1324.5" y="439.54" class="cb" font-size="5.319999999999999" fill="#1c1c1c" stroke="#1c1c1c">6605</text>
<text x="1324.5" y="447.79" class="cb" font-size="5.319999999999999" fill="#1c1c1c" stroke="#1c1c1c">6607</text>
<rect x="1316" y="450" width="17" height="16" fill="#c6c4e0"/>
<text x="1324.5" y="455.92" class="cb" font-size="5.319999999999999" fill="#1c1c1c" stroke="#1c1c1c">6609</text>
<text x="1324.5" y="463.92" class="cb" font-size="5.319999999999999" fill="#1c1c1c" stroke="#1c1c1c">6611</text>
<rect x="1360" y="222.5" width="16" height="47.5" fill="#1e9b52"/>
<text x="1368" y="228.37" class="cb" font-size="5.319999999999999" fill="#1c1c1c" stroke="#1c1c1c">6253</text>
<text x="1368" y="236.29" class="cb" font-size="5.319999999999999" fill="#1c1c1c" stroke="#1c1c1c">6255</text>
<text x="1368" y="244.21" class="cb" font-size="5.319999999999999" fill="#1c1c1c" stroke="#1c1c1c">6257</text>
<text x="1368" y="252.12" class="cb" font-size="5.319999999999999" fill="#1c1c1c" stroke="#1c1c1c">6259</text>
<text x="1368" y="260.04" class="cb" font-size="5.319999999999999" fill="#1c1c1c" stroke="#1c1c1c">6261</text>
<text x="1368" y="267.96" class="cb" font-size="5.319999999999999" fill="#1c1c1c" stroke="#1c1c1c">6263</text>
<rect x="1360" y="312" width="16" height="40.5" fill="#c6c4e0"/>
<text x="1368" y="317.97" class="cb" font-size="5.319999999999999" fill="#1c1c1c" stroke="#1c1c1c">6275</text>
<text x="1368" y="326.07" class="cb" font-size="5.319999999999999" fill="#1c1c1c" stroke="#1c1c1c">6277</text>
<text x="1368" y="334.17" class="cb" font-size="5.319999999999999" fill="#1c1c1c" stroke="#1c1c1c">6279</text>
<text x="1368" y="342.27" class="cb" font-size="5.319999999999999" fill="#1c1c1c" stroke="#1c1c1c">6281</text>
<text x="1368" y="350.37" class="cb" font-size="5.319999999999999" fill="#1c1c1c" stroke="#1c1c1c">6283</text>
<rect x="1360" y="360.5" width="16" height="16.5" fill="#1e9b52"/>
<text x="1368" y="366.54" class="cb" font-size="5.319999999999999" fill="#1c1c1c" stroke="#1c1c1c">6287</text>
<text x="1368" y="374.79" class="cb" font-size="5.319999999999999" fill="#1c1c1c" stroke="#1c1c1c">6289</text>
<rect x="1360" y="377" width="16" height="32" fill="#c6c4e0"/>
<text x="1368" y="382.92" class="cb" font-size="5.319999999999999" fill="#1c1c1c" stroke="#1c1c1c">6291</text>
<text x="1368" y="390.92" class="cb" font-size="5.319999999999999" fill="#1c1c1c" stroke="#1c1c1c">6293</text>
<text x="1368" y="398.92" class="cb" font-size="5.319999999999999" fill="#1c1c1c" stroke="#1c1c1c">6295</text>
<text x="1368" y="406.92" class="cb" font-size="5.319999999999999" fill="#1c1c1c" stroke="#1c1c1c">6297</text>
<rect x="1360" y="417" width="16" height="16" fill="#1e9b52"/>
<text x="1368" y="422.92" class="cb" font-size="5.319999999999999" fill="#1c1c1c" stroke="#1c1c1c">6301</text>
<text x="1368" y="430.92" class="cb" font-size="5.319999999999999" fill="#1c1c1c" stroke="#1c1c1c">6303</text>
<rect x="1360" y="433" width="16" height="33" fill="#c6c4e0"/>
<text x="1368" y="439.04" class="cb" font-size="5.319999999999999" fill="#1c1c1c" stroke="#1c1c1c">6305</text>
<text x="1368" y="447.29" class="cb" font-size="5.319999999999999" fill="#1c1c1c" stroke="#1c1c1c">6307</text>
<text x="1368" y="455.54" class="cb" font-size="5.319999999999999" fill="#1c1c1c" stroke="#1c1c1c">6309</text>
<text x="1368" y="463.79" class="cb" font-size="5.319999999999999" fill="#1c1c1c" stroke="#1c1c1c">6311</text>
<path d="M1314.7,225.75 l2,2.6 h-1.3 v4.3 h1.3 l-2,2.6 l-2,-2.6 h1.3 v-4.3 h-1.3 z" fill="#111"/>
<path d="M1314.7,241.75 l2,2.6 h-1.3 v4.3 h1.3 l-2,2.6 l-2,-2.6 h1.3 v-4.3 h-1.3 z" fill="#111"/>
<path d="M1314.7,257.75 l2,2.6 h-1.3 v4.3 h1.3 l-2,2.6 l-2,-2.6 h1.3 v-4.3 h-1.3 z" fill="#111"/>
<path d="M1314.7,315.25 l2,2.6 h-1.3 v4.3 h1.3 l-2,2.6 l-2,-2.6 h1.3 v-4.3 h-1.3 z" fill="#111"/>
<path d="M1314.7,363.75 l2,2.6 h-1.3 v4.3 h1.3 l-2,2.6 l-2,-2.6 h1.3 v-4.3 h-1.3 z" fill="#111"/>
<path d="M1314.7,420.25 l2,2.6 h-1.3 v4.3 h1.3 l-2,2.6 l-2,-2.6 h1.3 v-4.3 h-1.3 z" fill="#111"/>
<path d="M1314.7,436.75 l2,2.6 h-1.3 v4.3 h1.3 l-2,2.6 l-2,-2.6 h1.3 v-4.3 h-1.3 z" fill="#111"/>
<path d="M1377.3,225.75 l2,2.6 h-1.3 v4.3 h1.3 l-2,2.6 l-2,-2.6 h1.3 v-4.3 h-1.3 z" fill="#111"/>
<path d="M1377.3,241.75 l2,2.6 h-1.3 v4.3 h1.3 l-2,2.6 l-2,-2.6 h1.3 v-4.3 h-1.3 z" fill="#111"/>
<path d="M1377.3,257.75 l2,2.6 h-1.3 v4.3 h1.3 l-2,2.6 l-2,-2.6 h1.3 v-4.3 h-1.3 z" fill="#111"/>
<path d="M1377.3,363.75 l2,2.6 h-1.3 v4.3 h1.3 l-2,2.6 l-2,-2.6 h1.3 v-4.3 h-1.3 z" fill="#111"/>
<path d="M1377.3,420.25 l2,2.6 h-1.3 v4.3 h1.3 l-2,2.6 l-2,-2.6 h1.3 v-4.3 h-1.3 z" fill="#111"/>
<path d="M1314.5,447.25 l2,2.6 h-1.3 v4.3 h1.3 l-2,2.6 l-2,-2.6 h1.3 v-4.3 h-1.3 z" fill="#111"/>
<path d="M1378,447.25 l2,2.6 h-1.3 v4.3 h1.3 l-2,2.6 l-2,-2.6 h1.3 v-4.3 h-1.3 z" fill="#111"/>
<rect x="1315" y="476" width="7" height="18" fill="#fff" stroke="#c2c2c2" stroke-width="0.5"/>
<g transform="translate(1318.7,485) rotate(-90) scale(0.8106,1)" class="lb" font-size="6.55" fill="#111">
<text x="0" y="2.36">ELEV.</text>
</g>
<rect x="1371" y="476" width="7" height="18" fill="#fff" stroke="#c2c2c2" stroke-width="0.5"/>
<g transform="translate(1374.7,485) rotate(-90) scale(0.8106,1)" class="lb" font-size="6.55" fill="#111">
<text x="0" y="2.36">ELEV.</text>
</g>
<path d="M1332,545 V470 h6 v-6 h17 v6 h6 V545 M1338,476 h17" fill="none" stroke="#c2c2c2" stroke-width="0.5"/>
<g transform="translate(1346,515) rotate(0) scale(0.7912999999999999,1)" class="lb" font-size="8.21" fill="#111">
<text x="0" y="-1.04">NEXT</text>
<text x="0" y="6.96">CRUISE</text>
</g>
<g transform="translate(1346,532.5)">
<circle r="8" fill="#128fd6"/>
<circle cx="0" cy="-4" r="1.3" fill="#fff"/><rect x="-1.2" y="-1.8" width="2.4" height="7" fill="#fff"/>
</g>
<rect x="1317" y="509.5" width="14" height="11.5" fill="#e5d098"/>
<line x1="1320.5" y1="509.5" x2="1320.5" y2="521" stroke="#c9b278" stroke-width="0.3"/>
<line x1="1324" y1="509.5" x2="1324" y2="521" stroke="#c9b278" stroke-width="0.3"/>
<line x1="1327.5" y1="509.5" x2="1327.5" y2="521" stroke="#c9b278" stroke-width="0.3"/>
<line x1="1317" y1="515.25" x2="1331" y2="515.25" stroke="#c9b278" stroke-width="0.3"/>
<rect x="1361" y="509.5" width="15" height="11.5" fill="#e5d098"/>
<line x1="1364.75" y1="509.5" x2="1364.75" y2="521" stroke="#c9b278" stroke-width="0.3"/>
<line x1="1368.5" y1="509.5" x2="1368.5" y2="521" stroke="#c9b278" stroke-width="0.3"/>
<line x1="1372.25" y1="509.5" x2="1372.25" y2="521" stroke="#c9b278" stroke-width="0.3"/>
<line x1="1361" y1="515.25" x2="1376" y2="515.25" stroke="#c9b278" stroke-width="0.3"/>
<rect x="1335.5" y="555" width="16.5" height="56" fill="#d5ab98"/>
<text x="1343.75" y="560.92" class="cb" font-size="5.319999999999999" fill="#1c1c1c" stroke="#1c1c1c">6435</text>
<text x="1343.75" y="568.92" class="cb" font-size="5.319999999999999" fill="#1c1c1c" stroke="#1c1c1c">6437*</text>
<text x="1343.75" y="576.92" class="cb" font-size="5.319999999999999" fill="#1c1c1c" stroke="#1c1c1c">6439*</text>
<text x="1343.75" y="584.92" class="cb" font-size="5.319999999999999" fill="#1c1c1c" stroke="#1c1c1c">6441</text>
<text x="1343.75" y="592.92" class="cb" font-size="5.319999999999999" fill="#1c1c1c" stroke="#1c1c1c">6443*</text>
<text x="1343.75" y="600.92" class="cb" font-size="5.319999999999999" fill="#1c1c1c" stroke="#1c1c1c">6445*</text>
<text x="1343.75" y="608.92" class="cb" font-size="5.319999999999999" fill="#1c1c1c" stroke="#1c1c1c">6447</text>
<rect x="1318" y="563" width="16" height="88" fill="#d5ab98"/>
<text x="1326" y="568.92" class="cb" font-size="5.319999999999999" fill="#1c1c1c" stroke="#1c1c1c">6637*</text>
<text x="1326" y="576.92" class="cb" font-size="5.319999999999999" fill="#1c1c1c" stroke="#1c1c1c">6639*</text>
<text x="1326" y="584.92" class="cb" font-size="5.319999999999999" fill="#1c1c1c" stroke="#1c1c1c">6641*</text>
<text x="1326" y="592.92" class="cb" font-size="5.319999999999999" fill="#1c1c1c" stroke="#1c1c1c">6643</text>
<text x="1326" y="600.92" class="cb" font-size="5.319999999999999" fill="#1c1c1c" stroke="#1c1c1c">6645</text>
<text x="1326" y="608.92" class="cb" font-size="5.319999999999999" fill="#1c1c1c" stroke="#1c1c1c">6647</text>
<text x="1326" y="616.92" class="cb" font-size="5.319999999999999" fill="#1c1c1c" stroke="#1c1c1c">6649</text>
<text x="1326" y="624.92" class="cb" font-size="5.319999999999999" fill="#1c1c1c" stroke="#1c1c1c">6651</text>
<text x="1326" y="632.92" class="cb" font-size="5.319999999999999" fill="#1c1c1c" stroke="#1c1c1c">6653*</text>
<text x="1326" y="640.92" class="cb" font-size="5.319999999999999" fill="#1c1c1c" stroke="#1c1c1c">6655*</text>
<text x="1326" y="648.92" class="cb" font-size="5.319999999999999" fill="#1c1c1c" stroke="#1c1c1c">6657</text>
<rect x="1335.5" y="619" width="16.5" height="32" fill="#d5ab98"/>
<text x="1343.75" y="624.92" class="cb" font-size="5.319999999999999" fill="#1c1c1c" stroke="#1c1c1c">6451</text>
<text x="1343.75" y="632.92" class="cb" font-size="5.319999999999999" fill="#1c1c1c" stroke="#1c1c1c">6453</text>
<text x="1343.75" y="640.92" class="cb" font-size="5.319999999999999" fill="#1c1c1c" stroke="#1c1c1c">6455*</text>
<text x="1343.75" y="648.92" class="cb" font-size="5.319999999999999" fill="#1c1c1c" stroke="#1c1c1c">6457*</text>
<rect x="1358" y="563" width="17" height="88" fill="#d5ab98"/>
<text x="1366.5" y="568.92" class="cb" font-size="5.319999999999999" fill="#1c1c1c" stroke="#1c1c1c">6337*</text>
<text x="1366.5" y="576.92" class="cb" font-size="5.319999999999999" fill="#1c1c1c" stroke="#1c1c1c">6339*</text>
<text x="1366.5" y="584.92" class="cb" font-size="5.319999999999999" fill="#1c1c1c" stroke="#1c1c1c">6341*</text>
<text x="1366.5" y="592.92" class="cb" font-size="5.319999999999999" fill="#1c1c1c" stroke="#1c1c1c">6343</text>
<text x="1366.5" y="600.92" class="cb" font-size="5.319999999999999" fill="#1c1c1c" stroke="#1c1c1c">6345</text>
<text x="1366.5" y="608.92" class="cb" font-size="5.319999999999999" fill="#1c1c1c" stroke="#1c1c1c">6347</text>
<text x="1366.5" y="616.92" class="cb" font-size="5.319999999999999" fill="#1c1c1c" stroke="#1c1c1c">6349</text>
<text x="1366.5" y="624.92" class="cb" font-size="5.319999999999999" fill="#1c1c1c" stroke="#1c1c1c">6351</text>
<text x="1366.5" y="632.92" class="cb" font-size="5.319999999999999" fill="#1c1c1c" stroke="#1c1c1c">6353*</text>
<text x="1366.5" y="640.92" class="cb" font-size="5.319999999999999" fill="#1c1c1c" stroke="#1c1c1c">6355*</text>
<text x="1366.5" y="648.92" class="cb" font-size="5.319999999999999" fill="#1c1c1c" stroke="#1c1c1c">6357</text>
<rect x="1318" y="677.5" width="16" height="79.5" fill="#d5ab98"/>
<text x="1326" y="683.39" class="cb" font-size="5.319999999999999" fill="#1c1c1c" stroke="#1c1c1c">6665</text>
<text x="1326" y="691.34" class="cb" font-size="5.319999999999999" fill="#1c1c1c" stroke="#1c1c1c">6667*</text>
<text x="1326" y="699.29" class="cb" font-size="5.319999999999999" fill="#1c1c1c" stroke="#1c1c1c">6669</text>
<text x="1326" y="707.24" class="cb" font-size="5.319999999999999" fill="#1c1c1c" stroke="#1c1c1c">6671</text>
<text x="1326" y="715.19" class="cb" font-size="5.319999999999999" fill="#1c1c1c" stroke="#1c1c1c">6673</text>
<text x="1326" y="723.14" class="cb" font-size="5.319999999999999" fill="#1c1c1c" stroke="#1c1c1c">6675</text>
<text x="1326" y="731.09" class="cb" font-size="5.319999999999999" fill="#1c1c1c" stroke="#1c1c1c">6677</text>
<text x="1326" y="739.04" class="cb" font-size="5.319999999999999" fill="#1c1c1c" stroke="#1c1c1c">6679</text>
<text x="1326" y="746.99" class="cb" font-size="5.319999999999999" fill="#1c1c1c" stroke="#1c1c1c">6683</text>
<text x="1326" y="754.94" class="cb" font-size="5.319999999999999" fill="#1c1c1c" stroke="#1c1c1c">6687</text>
<rect x="1335.5" y="677.5" width="16.5" height="55.5" fill="#d5ab98"/>
<text x="1343.75" y="683.38" class="cb" font-size="5.319999999999999" fill="#1c1c1c" stroke="#1c1c1c">6465*</text>
<text x="1343.75" y="691.31" class="cb" font-size="5.319999999999999" fill="#1c1c1c" stroke="#1c1c1c">6467</text>
<text x="1343.75" y="699.24" class="cb" font-size="5.319999999999999" fill="#1c1c1c" stroke="#1c1c1c">6469</text>
<text x="1343.75" y="707.17" class="cb" font-size="5.319999999999999" fill="#1c1c1c" stroke="#1c1c1c">6471</text>
<text x="1343.75" y="715.09" class="cb" font-size="5.319999999999999" fill="#1c1c1c" stroke="#1c1c1c">6473</text>
<text x="1343.75" y="723.02" class="cb" font-size="5.319999999999999" fill="#1c1c1c" stroke="#1c1c1c">6475</text>
<text x="1343.75" y="730.95" class="cb" font-size="5.319999999999999" fill="#1c1c1c" stroke="#1c1c1c">6477</text>
<rect x="1335.5" y="741" width="16.5" height="16" fill="#d5ab98"/>
<text x="1343.75" y="746.92" class="cb" font-size="5.319999999999999" fill="#1c1c1c" stroke="#1c1c1c">6483</text>
<text x="1343.75" y="754.92" class="cb" font-size="5.319999999999999" fill="#1c1c1c" stroke="#1c1c1c">6487</text>
<rect x="1358" y="677.5" width="17" height="79.5" fill="#d5ab98"/>
<text x="1366.5" y="683.39" class="cb" font-size="5.319999999999999" fill="#1c1c1c" stroke="#1c1c1c">6365</text>
<text x="1366.5" y="691.34" class="cb" font-size="5.319999999999999" fill="#1c1c1c" stroke="#1c1c1c">6367*</text>
<text x="1366.5" y="699.29" class="cb" font-size="5.319999999999999" fill="#1c1c1c" stroke="#1c1c1c">6369</text>
<text x="1366.5" y="707.24" class="cb" font-size="5.319999999999999" fill="#1c1c1c" stroke="#1c1c1c">6371</text>
<text x="1366.5" y="715.19" class="cb" font-size="5.319999999999999" fill="#1c1c1c" stroke="#1c1c1c">6373</text>
<text x="1366.5" y="723.14" class="cb" font-size="5.319999999999999" fill="#1c1c1c" stroke="#1c1c1c">6375</text>
<text x="1366.5" y="731.09" class="cb" font-size="5.319999999999999" fill="#1c1c1c" stroke="#1c1c1c">6377</text>
<text x="1366.5" y="739.04" class="cb" font-size="5.319999999999999" fill="#1c1c1c" stroke="#1c1c1c">6379</text>
<text x="1366.5" y="746.99" class="cb" font-size="5.319999999999999" fill="#1c1c1c" stroke="#1c1c1c">6383</text>
<text x="1366.5" y="754.94" class="cb" font-size="5.319999999999999" fill="#1c1c1c" stroke="#1c1c1c">6387</text>
<path d="M1317.5,566.25 l2,2.6 h-1.3 v4.3 h1.3 l-2,2.6 l-2,-2.6 h1.3 v-4.3 h-1.3 z" fill="#111"/>
<path d="M1375.5,566.25 l2,2.6 h-1.3 v4.3 h1.3 l-2,2.6 l-2,-2.6 h1.3 v-4.3 h-1.3 z" fill="#111"/>
<path d="M1314.5,607.25 l2,2.6 h-1.3 v4.3 h1.3 l-2,2.6 l-2,-2.6 h1.3 v-4.3 h-1.3 z" fill="#111"/>
<path d="M1378,607.25 l2,2.6 h-1.3 v4.3 h1.3 l-2,2.6 l-2,-2.6 h1.3 v-4.3 h-1.3 z" fill="#111"/>
<path d="M1314.5,672.25 l2,2.6 h-1.3 v4.3 h1.3 l-2,2.6 l-2,-2.6 h1.3 v-4.3 h-1.3 z" fill="#111"/>
<path d="M1378,672.25 l2,2.6 h-1.3 v4.3 h1.3 l-2,2.6 l-2,-2.6 h1.3 v-4.3 h-1.3 z" fill="#111"/>
<path d="M1314.5,720.25 l2,2.6 h-1.3 v4.3 h1.3 l-2,2.6 l-2,-2.6 h1.3 v-4.3 h-1.3 z" fill="#111"/>
<path d="M1378,720.25 l2,2.6 h-1.3 v4.3 h1.3 l-2,2.6 l-2,-2.6 h1.3 v-4.3 h-1.3 z" fill="#111"/>
<path d="M1318,728.25 l2,2.6 h-1.3 v4.3 h1.3 l-2,2.6 l-2,-2.6 h1.3 v-4.3 h-1.3 z" fill="#111"/>
<path d="M1353,712.25 l2,2.6 h-1.3 v4.3 h1.3 l-2,2.6 l-2,-2.6 h1.3 v-4.3 h-1.3 z" fill="#111"/>
<path d="M1375.5,712.25 l2,2.6 h-1.3 v4.3 h1.3 l-2,2.6 l-2,-2.6 h1.3 v-4.3 h-1.3 z" fill="#111"/>
<path d="M1375.5,728.25 l2,2.6 h-1.3 v4.3 h1.3 l-2,2.6 l-2,-2.6 h1.3 v-4.3 h-1.3 z" fill="#111"/>
<path d="M1334.7,563 V757 M1353.5,545 V757 M1356.5,563 V757 M1316,563 V741 M1377,563 V741" fill="none" stroke="#c2c2c2" stroke-width="0.5"/>
<rect x="1306" y="763" width="16.5" height="19" fill="#f4b9bf"/>
<text x="1310.12" y="774.07" class="cb" font-size="4.369999999999999" fill="#1c1c1c" stroke="#1c1c1c" transform="rotate(-90 1310.12 772.5)">6688 Δ</text>
<line x1="1314.25" y1="763" x2="1314.25" y2="782" stroke="rgba(0,0,0,0.15)" stroke-width="0.4"/>
<text x="1318.38" y="774.07" class="cb" font-size="4.369999999999999" fill="#1c1c1c" stroke="#1c1c1c" transform="rotate(-90 1318.38 772.5)">6690 Δ</text>
<rect x="1322.5" y="761" width="47.5" height="21" fill="#a8305e"/>
<text x="1328.44" y="773.14" class="cb" font-size="4.56" fill="#fff" stroke="#fff" transform="rotate(-90 1328.44 771.5)">6692</text>
<line x1="1334.38" y1="761" x2="1334.38" y2="782" stroke="rgba(255,255,255,0.4)" stroke-width="0.4"/>
<text x="1340.31" y="773.14" class="cb" font-size="4.56" fill="#fff" stroke="#fff" transform="rotate(-90 1340.31 771.5)">6694</text>
<line x1="1346.25" y1="761" x2="1346.25" y2="782" stroke="rgba(255,255,255,0.4)" stroke-width="0.4"/>
<text x="1352.19" y="773.14" class="cb" font-size="4.56" fill="#fff" stroke="#fff" transform="rotate(-90 1352.19 771.5)">6394</text>
<line x1="1358.12" y1="761" x2="1358.12" y2="782" stroke="rgba(255,255,255,0.4)" stroke-width="0.4"/>
<text x="1364.06" y="773.14" class="cb" font-size="4.56" fill="#fff" stroke="#fff" transform="rotate(-90 1364.06 771.5)">6392</text>
<rect x="1370" y="763" width="16" height="19" fill="#f4b9bf"/>
<text x="1374" y="774.07" class="cb" font-size="4.369999999999999" fill="#1c1c1c" stroke="#1c1c1c" transform="rotate(-90 1374 772.5)">6390 Δ</text>
<line x1="1378" y1="763" x2="1378" y2="782" stroke="rgba(0,0,0,0.15)" stroke-width="0.4"/>
<text x="1382" y="774.07" class="cb" font-size="4.369999999999999" fill="#1c1c1c" stroke="#1c1c1c" transform="rotate(-90 1382 772.5)">6388 Δ</text>
<line x1="1306" y1="782" x2="1306" y2="792" stroke="#c2c2c2" stroke-width="0.4"/>
<line x1="1314" y1="782" x2="1314" y2="792" stroke="#c2c2c2" stroke-width="0.4"/>
<line x1="1322.5" y1="782" x2="1322.5" y2="792" stroke="#c2c2c2" stroke-width="0.4"/>
<line x1="1334" y1="782" x2="1334" y2="792" stroke="#c2c2c2" stroke-width="0.4"/>
<line x1="1346" y1="782" x2="1346" y2="792" stroke="#c2c2c2" stroke-width="0.4"/>
<line x1="1358" y1="782" x2="1358" y2="792" stroke="#c2c2c2" stroke-width="0.4"/>
<line x1="1370" y1="782" x2="1370" y2="792" stroke="#c2c2c2" stroke-width="0.4"/>
<line x1="1378" y1="782" x2="1378" y2="792" stroke="#c2c2c2" stroke-width="0.4"/>
<line x1="1386" y1="782" x2="1386" y2="792" stroke="#c2c2c2" stroke-width="0.4"/>
<path d="M1303,782 V790 Q1346,797 1389,790 V782 M1306,803 Q1346,818 1386,803 M1301,800 Q1346,824 1391,800" fill="none" stroke="#c2c2c2" stroke-width="0.45"/>
<text x="1346.5" y="871" class="dk">DECK 6</text>
<path d="M1420.5,160 C1420.52,156.4 1420.05,146.62 1420.6,138.4 C1421.15,130.18 1422.03,120.2 1423.8,110.7 C1425.57,101.2 1428.07,90.9 1431.2,81.4 C1434.33,71.9 1438.27,62.65 1442.6,53.7 C1446.93,44.75 1453.13,34.2 1457.2,27.7 C1461.27,21.2 1464.03,17.88 1467,14.7 C1469.97,11.52 1472.02,9.92 1475,8.6 C1477.98,7.28 1481.6,6.8 1484.9,6.8 C1488.2,6.8 1491.82,7.28 1494.8,8.6 C1497.78,9.92 1499.83,11.52 1502.8,14.7 C1505.77,17.88 1508.53,21.2 1512.6,27.7 C1516.67,34.2 1522.87,44.75 1527.2,53.7 C1531.53,62.65 1535.47,71.9 1538.6,81.4 C1541.73,90.9 1544.23,101.2 1546,110.7 C1547.77,120.2 1548.65,130.18 1549.2,138.4 C1549.75,146.62 1549.28,156.4 1549.3,160 V269.5 H1538 V684 L1546.4,687.3 C1553,692 1554.5,706 1554.5,729 V775 C1554.5,790 1549,797 1537,802.5 V827 H1432 V802.5 C1420,797 1415.5,790 1415.5,775 V729 C1415.5,706 1417,692 1423.6,687.3 L1432.5,684 V269.5 H1420.5 Z" fill="none" stroke="#686868" stroke-width="0.9"/>
<path d="M1424.5,160 C1424.53,156.5 1424.15,147 1424.7,139 C1425.25,131 1426.08,121.25 1427.8,112 C1429.52,102.75 1431.97,92.75 1435,83.5 C1438.03,74.25 1441.83,65.17 1446,56.5 C1450.17,47.83 1456.17,37.67 1460,31.5 C1463.83,25.33 1466.25,22.45 1469,19.5 C1471.75,16.55 1473.85,15.02 1476.5,13.8 C1479.15,12.58 1482.1,12.2 1484.9,12.2 C1487.7,12.2 1490.65,12.58 1493.3,13.8 C1495.95,15.02 1498.05,16.55 1500.8,19.5 C1503.55,22.45 1505.97,25.33 1509.8,31.5 C1513.63,37.67 1519.63,47.83 1523.8,56.5 C1527.97,65.17 1531.77,74.25 1534.8,83.5 C1537.83,92.75 1540.28,102.75 1542,112 C1543.72,121.25 1544.55,131 1545.1,139 C1545.65,147 1545.27,156.5 1545.3,160 V266.5 H1535 V684 M1424.5,160 V266.5 H1435.5 V684" fill="none" stroke="#c2c2c2" stroke-width="0.5"/>
<path d="M1435.5,684 C1424,692 1419.5,706 1419.5,727.5 V772 C1419.5,786 1426,792 1436,796 L1440,800 C1455,815 1515,815 1530,800 L1534,796 C1544,792 1550.5,786 1550.5,772 V727.5 C1550.5,706 1546,692 1535,684" fill="none" stroke="#c2c2c2" stroke-width="0.5"/>
<rect x="1456" y="51" width="4" height="8" fill="#e5d098"/>
<rect x="1509" y="51" width="4" height="8" fill="#e5d098"/>
<path d="M1456,45 V51 M1513,45 V51 M1460,48 C1463,62 1474,68.5 1485,68.5 C1496,68.5 1507,62 1509,48" fill="none" stroke="#c2c2c2" stroke-width="0.5"/>
<path d="M1431,185 V140 C1440,122 1462,114 1485,114 C1508,114 1530,122 1539,140 V185 H1529 V180 H1522 V175 Q1505,171 1496,178 H1472 Q1465,171 1448,175 V180 H1441 V185 Z M1472,178 V169 H1496 V178" fill="none" stroke="#c2c2c2" stroke-width="0.5"/>
<path d="M1439.5,185 V684 M1530,185 V684 M1439.5,283 H1454 M1439.5,308 H1453 V336 H1439.5 M1530,283 H1517 M1530,308 H1517 V336 H1530" fill="none" stroke="#c2c2c2" stroke-width="0.5"/>
<g transform="translate(1484,194)">
<circle r="8" fill="#128fd6"/>
<g transform="rotate(-12)"><path d="M-5.6,-3.4 q2.5,-1 5,0 v3.6 q0,3 -2.5,4.6 q-2.5,-1.6 -2.5,-4.6 z" fill="#fff"/><circle cx="-4.1" cy="-1.2" r="0.7" fill="#128fd6"/><circle cx="-2.1" cy="-1.2" r="0.7" fill="#128fd6"/><path d="M-4.3,1.4 q1.2,1.2 2.4,0" fill="none" stroke="#128fd6" stroke-width="0.6"/></g><g transform="rotate(14)"><path d="M0.2,-4.6 q2.6,-1 5.2,0 v3.6 q0,3 -2.6,4.6 q-2.6,-1.6 -2.6,-4.6 z" fill="#fff"/><circle cx="1.8" cy="-2.4" r="0.7" fill="#128fd6"/><circle cx="3.9" cy="-2.4" r="0.7" fill="#128fd6"/><path d="M1.6,1 q1.2,-1.2 2.4,0" fill="none" stroke="#128fd6" stroke-width="0.6"/></g>
</g>
<g transform="translate(1487.5,214) rotate(0) scale(0.772,1)" class="lb" font-size="7.99" fill="#111">
<text x="0" y="2.88">STAR LOUNGE</text>
</g>
<path d="M1440,240 q12,-2 20,4 q6,6 4,14 l4,4 v8 l-6,3 v6 M1500,262 q2,-12 12,-18 M1498,283 v-10 q4,-6 10,-4 h22" fill="none" stroke="#c2c2c2" stroke-width="0.45"/>
<g transform="translate(1516,249.5)">
<circle r="8" fill="#128fd6"/>
<path d="M-4.6,-4.2 H4.6 L0.5,0.6 V4 H2.6 V4.9 H-2.6 V4 H-0.5 V0.6 Z" fill="#fff"/>
</g>
<g transform="translate(1515,268.7) rotate(0) scale(0.772,1)" class="lb" font-size="7.99" fill="#111">
<text x="0" y="-0.92">CROWN</text>
<text x="0" y="6.68">LOUNGE</text>
</g>
<g transform="translate(1458,263)">
<circle r="8" fill="#128fd6"/>
<path d="M-3.4,-1 H3.4 V4.4 H-3.4 Z M-2.2,-1 V-2.6 A2.2,2.2 0 0 1 2.2,-2.6 V-1 H1.2 V-2.6 A1.2,1.2 0 0 0 -1.2,-2.6 V-1 Z" fill="#fff"/><rect x="-1.5" y="0.6" width="3" height="2.2" fill="#128fd6"/>
</g>
<rect x="1454.5" y="284.5" width="15.5" height="12.5" fill="#e5d098"/>
<line x1="1458.38" y1="284.5" x2="1458.38" y2="297" stroke="#c9b278" stroke-width="0.3"/>
<line x1="1462.25" y1="284.5" x2="1462.25" y2="297" stroke="#c9b278" stroke-width="0.3"/>
<line x1="1466.12" y1="284.5" x2="1466.12" y2="297" stroke="#c9b278" stroke-width="0.3"/>
<line x1="1454.5" y1="290.75" x2="1470" y2="290.75" stroke="#c9b278" stroke-width="0.3"/>
<rect x="1500" y="284.5" width="16" height="12.5" fill="#e5d098"/>
<line x1="1504" y1="284.5" x2="1504" y2="297" stroke="#c9b278" stroke-width="0.3"/>
<line x1="1508" y1="284.5" x2="1508" y2="297" stroke="#c9b278" stroke-width="0.3"/>
<line x1="1512" y1="284.5" x2="1512" y2="297" stroke="#c9b278" stroke-width="0.3"/>
<line x1="1500" y1="290.75" x2="1516" y2="290.75" stroke="#c9b278" stroke-width="0.3"/>
<g transform="translate(1447.5,296) rotate(0) scale(1.2)" fill="#111"><circle cx="0" cy="-3.4" r="1.1"/><path d="M-1.6,-2 H1.6 V1.2 H1 V4.2 H-1 V1.2 H-1.6 Z"/></g>
<g transform="translate(1522.5,296) rotate(0) scale(1.2)" fill="#111"><circle cx="0" cy="-3.4" r="1.1"/><path d="M-1.6,-2 H1.6 V1.2 H1 V4.2 H-1 V1.2 H-1.6 Z"/></g>
<rect x="1454" y="314" width="7" height="18.5" fill="#fff" stroke="#c2c2c2" stroke-width="0.5"/>
<g transform="translate(1457.7,323.25) rotate(-90) scale(0.8106,1)" class="lb" font-size="6.55" fill="#111">
<text x="0" y="2.36">ELEV.</text>
</g>
<rect x="1509" y="314" width="7" height="18.5" fill="#fff" stroke="#c2c2c2" stroke-width="0.5"/>
<g transform="translate(1512.7,323.25) rotate(-90) scale(0.8106,1)" class="lb" font-size="6.55" fill="#111">
<text x="0" y="2.36">ELEV.</text>
</g>
<path d="M1471,318 v-6 h6 l2,-2 h12 l2,2 h6 v6" fill="none" stroke="#c2c2c2" stroke-width="0.5"/>
<path d="M1471,327 q8,-3 9,4 q0,6 -2,10 l-5,-2 q-4,-6 -2,-12 z M1499,327 q-8,-3 -9,4 q0,6 2,10 l5,-2 q4,-6 2,-12 z" fill="#e5d098" stroke="none" stroke-width="0"/>
<g transform="translate(1451,346)">
<circle r="8" fill="#128fd6"/>
<path d="M-4.6,-4.2 H4.6 L0.5,0.6 V4 H2.6 V4.9 H-2.6 V4 H-0.5 V0.6 Z" fill="#fff"/>
</g>
<g transform="translate(1507,350.5) rotate(0) scale(0.772,1)" class="lb" font-size="7.99" fill="#111">
<text x="0" y="-0.72">CAFÉ</text>
<text x="0" y="6.48">PROMENADE</text>
</g>
<g transform="translate(1503,369)">
<circle r="8" fill="#128fd6"/>
<path d="M-4.2,-5 h0.7 v3 h0.6 v-3 h0.7 v3 h0.6 v-3 h0.7 v3.6 q0,1 -1,1.2 v5 h-1.5 v-5 q-1,-0.2 -1,-1.2 z M-0.6,-5 q1.6,0.8 1.6,3.4 q0,1.6 -0.6,2.2 v4.2 h-1.4 v-4.2 z M2.4,-5 q1.7,1 1.7,4.6 h-0.5 v5.2 h-1.3 z" fill="#fff"/>
</g>
<g transform="translate(1456,384) rotate(-90) scale(0.772,1)" class="lb" font-size="7.55" fill="#111">
<text x="0" y="2.72">PLAYMAKERS</text>
</g>
<g transform="translate(1482.5,420) rotate(-90) scale(0.772,1)" class="lb" font-size="7.55" fill="#111">
<text x="0" y="2.72">ROYAL  PROMENADE</text>
</g>
<path d="M1467,345 q2,-2 3,0 v20 h-3 z M1500,382 q-10,6 -8,22 q4,6 8,4 M1439.5,415 H1452 V440 M1439.5,437 H1470 V467 H1439.5" fill="none" stroke="#c2c2c2" stroke-width="0.45"/>
<g transform="translate(1450,429)">
<circle r="8" fill="#128fd6"/>
<path d="M-4.6,-4.2 H4.6 L0.5,0.6 V4 H2.6 V4.9 H-2.6 V4 H-0.5 V0.6 Z" fill="#fff"/>
</g>
<g transform="translate(1457,450) rotate(0) scale(0.772,1)" class="lb" font-size="7.99" fill="#111">
<text x="0" y="-0.92">ENGLISH</text>
<text x="0" y="6.68">PUB</text>
</g>
<g transform="translate(1510,446.2) rotate(0) scale(0.772,1)" class="lb" font-size="7.99" fill="#111">
<text x="0" y="-0.92">TO DRY</text>
<text x="0" y="6.68">FOR</text>
</g>
<path d="M1496,436 q2,-8 10,-6 h14 q6,2 6,8 v14 q-2,8 -10,8 h-12" fill="none" stroke="#c2c2c2" stroke-width="0.45"/>
<path d="M1489,454 q6,4 8,10 q0,6 -3,9 l-5,-4 q2,-6 -3,-11 z" fill="#e5d098" stroke="none" stroke-width="0"/>
<g transform="translate(1521,468)">
<circle r="8" fill="#128fd6"/>
<path d="M-4.6,-4.2 H4.6 L0.5,0.6 V4 H2.6 V4.9 H-2.6 V4 H-0.5 V0.6 Z" fill="#fff"/>
</g>
<g transform="translate(1458.7,490) rotate(-90) scale(0.772,1)" class="lb" font-size="7.55" fill="#111">
<text x="0" y="-1.08">THE</text>
<text x="0" y="6.52">COLLECTION</text>
</g>
<g transform="translate(1507.5,487.5) rotate(-90) scale(0.772,1)" class="lb" font-size="7.55" fill="#111">
<text x="0" y="-4.88">THE</text>
<text x="0" y="2.72">BAMBOO</text>
<text x="0" y="10.32">ROOM</text>
</g>
<g transform="translate(1485,519) rotate(-90) scale(0.772,1)" class="lb" font-size="7.55" fill="#111">
<text x="0" y="2.72">PROMENADE SHOPS</text>
</g>
<g transform="translate(1450,509.5)">
<circle r="8" fill="#128fd6"/>
<path d="M-3.4,-1 H3.4 V4.4 H-3.4 Z M-2.2,-1 V-2.6 A2.2,2.2 0 0 1 2.2,-2.6 V-1 H1.2 V-2.6 A1.2,1.2 0 0 0 -1.2,-2.6 V-1 Z" fill="#fff"/><rect x="-1.5" y="0.6" width="3" height="2.2" fill="#128fd6"/>
</g>
<g transform="translate(1502.5,521)">
<circle r="8" fill="#128fd6"/>
<path d="M-3.4,-1 H3.4 V4.4 H-3.4 Z M-2.2,-1 V-2.6 A2.2,2.2 0 0 1 2.2,-2.6 V-1 H1.2 V-2.6 A1.2,1.2 0 0 0 -1.2,-2.6 V-1 Z" fill="#fff"/><rect x="-1.5" y="0.6" width="3" height="2.2" fill="#128fd6"/>
</g>
<g transform="translate(1457.5,534) rotate(-90) scale(0.772,1)" class="lb" font-size="7.55" fill="#111">
<text x="0" y="-1.08">PORT</text>
<text x="0" y="6.52">MERCHANT</text>
</g>
<g transform="translate(1516,524) rotate(-90) scale(0.772,1)" class="lb" font-size="7.55" fill="#111">
<text x="0" y="2.72">REGALIA</text>
</g>
<g transform="translate(1520,559) rotate(-90) scale(0.772,1)" class="lb" font-size="7.55" fill="#111">
<text x="0" y="-1.08">SHORE</text>
<text x="0" y="6.52">EXCURSIONS</text>
</g>
<path d="M1443,470 H1468 V520 H1443 Z M1446,523 H1470 V552 H1452 V560 H1439.5 M1500,505 H1528 V540 H1500 Z M1500,545 V560" fill="none" stroke="#c2c2c2" stroke-width="0.45"/>
<g transform="translate(1461,575)">
<circle r="8" fill="#128fd6"/>
<path d="M-4.6,-4.2 H4.6 L0.5,0.6 V4 H2.6 V4.9 H-2.6 V4 H-0.5 V0.6 Z" fill="#fff"/>
</g>
<path d="M1479,569 C1469,576 1469,593 1480,601 M1491,569 C1501,576 1501,593 1490,601" fill="none" stroke="#e5d098" stroke-width="4.6"/>
<path d="M1478,568 q7,-8 14,0 M1478,600 q7,8 14,0" fill="none" stroke="#c2c2c2" stroke-width="0.5"/>
<g transform="translate(1511,582)">
<circle r="8" fill="#128fd6"/>
<circle cx="0" cy="-4" r="1.3" fill="#fff"/><rect x="-1.2" y="-1.8" width="2.4" height="7" fill="#fff"/>
</g>
<g transform="translate(1451,592.5) rotate(-90) scale(0.772,1)" class="lb" font-size="7.55" fill="#111">
<text x="0" y="2.72">R BAR</text>
</g>
<g transform="translate(1522,600) rotate(-90) scale(0.772,1)" class="lb" font-size="7.55" fill="#111">
<text x="0" y="-1.08">GUEST</text>
<text x="0" y="6.52">SERVICES</text>
</g>
<path d="M1440,565 q8,-2 10,6 M1442,585 q6,8 2,16 q6,4 12,2 M1500,600 q4,8 12,10" fill="none" stroke="#c2c2c2" stroke-width="0.45"/>
<rect x="1451" y="613" width="7" height="21" fill="#fff" stroke="#c2c2c2" stroke-width="0.5"/>
<g transform="translate(1454.7,623.5) rotate(-90) scale(0.8106,1)" class="lb" font-size="6.55" fill="#111">
<text x="0" y="2.36">ELEV.</text>
</g>
<rect x="1512" y="613" width="7" height="21" fill="#fff" stroke="#c2c2c2" stroke-width="0.5"/>
<g transform="translate(1515.7,623.5) rotate(-90) scale(0.8106,1)" class="lb" font-size="6.55" fill="#111">
<text x="0" y="2.36">ELEV.</text>
</g>
<path d="M1468,612 h8 q6,6 0,12 h-8 z M1468,626 h8 q6,6 0,12 h-8 z M1502,612 h-8 q-6,6 0,12 h8 z M1502,626 h-8 q-6,6 0,12 h8 z M1439.5,640 H1530" fill="none" stroke="#c2c2c2" stroke-width="0.45"/>
<rect x="1452.5" y="649.5" width="15.5" height="12.5" fill="#e5d098"/>
<line x1="1456.38" y1="649.5" x2="1456.38" y2="662" stroke="#c9b278" stroke-width="0.3"/>
<line x1="1460.25" y1="649.5" x2="1460.25" y2="662" stroke="#c9b278" stroke-width="0.3"/>
<line x1="1464.12" y1="649.5" x2="1464.12" y2="662" stroke="#c9b278" stroke-width="0.3"/>
<line x1="1452.5" y1="655.75" x2="1468" y2="655.75" stroke="#c9b278" stroke-width="0.3"/>
<rect x="1501" y="649.5" width="16" height="12.5" fill="#e5d098"/>
<line x1="1505" y1="649.5" x2="1505" y2="662" stroke="#c9b278" stroke-width="0.3"/>
<line x1="1509" y1="649.5" x2="1509" y2="662" stroke="#c9b278" stroke-width="0.3"/>
<line x1="1513" y1="649.5" x2="1513" y2="662" stroke="#c9b278" stroke-width="0.3"/>
<line x1="1501" y1="655.75" x2="1517" y2="655.75" stroke="#c9b278" stroke-width="0.3"/>
<rect x="1440" y="646" width="10" height="40" fill="none" stroke="#c2c2c2" stroke-width="0.45"/>
<rect x="1519" y="646" width="10" height="40" fill="none" stroke="#c2c2c2" stroke-width="0.45"/>
<g transform="translate(1446,664) rotate(0) scale(1.2)" fill="#111"><circle cx="0" cy="-3.4" r="1.1"/><path d="M-1.6,-2 H1.6 V1.2 H1 V4.2 H-1 V1.2 H-1.6 Z"/></g>
<g transform="translate(1522.5,667.5) rotate(0) scale(1.2)" fill="#111"><circle cx="0" cy="-3.4" r="1.1"/><path d="M-1.6,-2 H1.6 V1.2 H1 V4.2 H-1 V1.2 H-1.6 Z"/></g>
<path d="M1468,650 l6,14 v20 l-4,4 v14 h-16 v-12 M1502,650 l-6,14 v20 l4,4 v14 h16 v-12" fill="none" stroke="#c2c2c2" stroke-width="0.45"/>
<g transform="translate(1485,711)">
<circle r="8" fill="#128fd6"/>
<path d="M-4.2,-5 h0.7 v3 h0.6 v-3 h0.7 v3 h0.6 v-3 h0.7 v3.6 q0,1 -1,1.2 v5 h-1.5 v-5 q-1,-0.2 -1,-1.2 z M-0.6,-5 q1.6,0.8 1.6,3.4 q0,1.6 -0.6,2.2 v4.2 h-1.4 v-4.2 z M2.4,-5 q1.7,1 1.7,4.6 h-0.5 v5.2 h-1.3 z" fill="#fff"/>
</g>
<g transform="translate(1485,747) rotate(0) scale(0.772,1)" class="lb" font-size="7.99" fill="#111">
<text x="0" y="-0.92">DINING</text>
<text x="0" y="6.68">ROOM</text>
</g>
<path d="M1477,722 q-4,8 -12,12 q-6,14 2,26 q6,8 0,16 q-4,8 2,14 M1493,722 q4,8 12,12 q6,14 -2,26 q-6,8 0,16 q4,8 -2,14" fill="none" stroke="#c2c2c2" stroke-width="0.45"/>
<circle cx="1485" cy="787" r="9" fill="none" stroke="#c2c2c2" stroke-width="0.5"/>
<path d="M1465,794 l5,-7 q6,1 8,4 l-1,6 z M1505,794 l-5,-7 q-6,1 -8,4 l1,6 z" fill="#e5d098" stroke="none" stroke-width="0"/>
<text x="1480.5" y="871" class="dk">DECK 5</text>
<path d="M1579,72.5 H1704 C1706,120 1709,180 1709,230 V683 C1714,695 1717.5,710 1717.5,727 C1717.5,760 1712,780 1709.5,790 V825.5 H1573 V790 C1570,780 1566,760 1566,727 C1566,710 1569,695 1573,683 V230 C1573,180 1576,120 1579,72.5 Z" fill="none" stroke="#686868" stroke-width="0.9"/>
<path d="M1573,184 H1583 L1591,190 V683 M1709,184 H1699 L1691,190 V683" fill="none" stroke="#c2c2c2" stroke-width="0.5"/>
<path d="M1577,684 C1573,696 1571.5,712 1571.5,727 C1571.5,775 1600,812 1641,812 C1682,812 1711,775 1711,727 C1711,712 1709,696 1705,684" fill="none" stroke="#c2c2c2" stroke-width="0.5"/>
<path d="M1600.5,77.5 H1682.5 V103 H1670 V106 L1680,111 L1676,117 Q1684,140 1680,158 Q1672,172 1641,173 Q1610,172 1602,158 Q1598,140 1606,117 L1602,111 L1612,106 V103 H1600.5 Z" fill="none" stroke="#c2c2c2" stroke-width="0.5"/>
<path d="M1606,117 Q1590,122 1584,130 L1579,134 V184 M1676,117 Q1692,122 1698,130 L1703,134 V184" fill="none" stroke="#c2c2c2" stroke-width="0.45"/>
<g transform="translate(1642,133) rotate(0) scale(0.772,1)" class="lb" font-size="7.99" fill="#111">
<text x="0" y="-0.92">ROYAL</text>
<text x="0" y="6.68">THEATER</text>
</g>
<g transform="translate(1640.5,159)">
<circle r="8" fill="#128fd6"/>
<g transform="rotate(-12)"><path d="M-5.6,-3.4 q2.5,-1 5,0 v3.6 q0,3 -2.5,4.6 q-2.5,-1.6 -2.5,-4.6 z" fill="#fff"/><circle cx="-4.1" cy="-1.2" r="0.7" fill="#128fd6"/><circle cx="-2.1" cy="-1.2" r="0.7" fill="#128fd6"/><path d="M-4.3,1.4 q1.2,1.2 2.4,0" fill="none" stroke="#128fd6" stroke-width="0.6"/></g><g transform="rotate(14)"><path d="M0.2,-4.6 q2.6,-1 5.2,0 v3.6 q0,3 -2.6,4.6 q-2.6,-1.6 -2.6,-4.6 z" fill="#fff"/><circle cx="1.8" cy="-2.4" r="0.7" fill="#128fd6"/><circle cx="3.9" cy="-2.4" r="0.7" fill="#128fd6"/><path d="M1.6,1 q1.2,-1.2 2.4,0" fill="none" stroke="#128fd6" stroke-width="0.6"/></g>
</g>
<path d="M1585,189.5 l6,3 v15 h-6 z M1697.5,189.5 l-6,3 v15 h6 z" fill="#e5d098" stroke="none" stroke-width="0"/>
<path d="M1666,200 a10,10 0 1 0 10,10 l-4.5,0 a5.5,5.5 0 1 1 -5.5,-5.5 z" fill="#e5d098" transform="rotate(40 1666 210)"/>
<path d="M1602,226 V200 H1624 V226 M1680,226 V205 Q1690,198 1691,190" fill="none" stroke="#c2c2c2" stroke-width="0.45"/>
<rect x="1607.5" y="226" width="16.5" height="13.5" fill="#e5d098"/>
<line x1="1611.62" y1="226" x2="1611.62" y2="239.5" stroke="#c9b278" stroke-width="0.3"/>
<line x1="1615.75" y1="226" x2="1615.75" y2="239.5" stroke="#c9b278" stroke-width="0.3"/>
<line x1="1619.88" y1="226" x2="1619.88" y2="239.5" stroke="#c9b278" stroke-width="0.3"/>
<line x1="1607.5" y1="232.75" x2="1624" y2="232.75" stroke="#c9b278" stroke-width="0.3"/>
<rect x="1657.5" y="226" width="17" height="13.5" fill="#e5d098"/>
<line x1="1661.75" y1="226" x2="1661.75" y2="239.5" stroke="#c9b278" stroke-width="0.3"/>
<line x1="1666" y1="226" x2="1666" y2="239.5" stroke="#c9b278" stroke-width="0.3"/>
<line x1="1670.25" y1="226" x2="1670.25" y2="239.5" stroke="#c9b278" stroke-width="0.3"/>
<line x1="1657.5" y1="232.75" x2="1674.5" y2="232.75" stroke="#c9b278" stroke-width="0.3"/>
<path d="M1591,240 H1691 M1632,226 V240 H1650 V226" fill="none" stroke="#c2c2c2" stroke-width="0.45"/>
<g transform="translate(1598,259) rotate(90) scale(1.3)" fill="#111"><circle cx="0" cy="-3.4" r="1.1"/><path d="M-1.6,-2 H1.6 V1.2 H1 V4.2 H-1 V1.2 H-1.6 Z"/></g>
<g transform="translate(1684,259) rotate(90) scale(1.3)" fill="#111"><circle cx="0" cy="-3.4" r="1.1"/><path d="M-1.6,-2 H1.6 V1.2 H1 V4.2 H-1 V1.2 H-1.6 Z"/></g>
<path d="M1591,252 H1606 V280 H1591 M1691,252 H1677 V280 H1691" fill="none" stroke="#c2c2c2" stroke-width="0.45"/>
<rect x="1607.5" y="256" width="7.5" height="21.5" fill="#fff" stroke="#c2c2c2" stroke-width="0.5"/>
<g transform="translate(1611.45,266.75) rotate(-90) scale(0.8106,1)" class="lb" font-size="6.55" fill="#111">
<text x="0" y="2.36">ELEV.</text>
</g>
<rect x="1667.5" y="256" width="7.5" height="21.5" fill="#fff" stroke="#c2c2c2" stroke-width="0.5"/>
<g transform="translate(1671.45,266.75) rotate(-90) scale(0.8106,1)" class="lb" font-size="6.55" fill="#111">
<text x="0" y="2.36">ELEV.</text>
</g>
<path d="M1625,283 V254 h7 l2,-2 h15 l2,2 h7 V283" fill="none" stroke="#c2c2c2" stroke-width="0.45"/>
<path d="M1627,270 q4,-1 6,1 l1,7 q8,4 15,0 l1,-7 q2,-2 6,-1 l-1,10 q-13.5,8 -27,0 z M1638,270 h2.5 v8 h-2.5 z M1643,270 h2.5 v8 h-2.5 z" fill="#e5d098" stroke="none" stroke-width="0"/>
<g transform="translate(1669,300) rotate(0) scale(0.772,1)" class="lb" font-size="7.99" fill="#111">
<text x="0" y="-0.92">SCHOONER</text>
<text x="0" y="6.68">BAR</text>
</g>
<g transform="translate(1679,319)">
<circle r="8" fill="#128fd6"/>
<path d="M-4.6,-4.2 H4.6 L0.5,0.6 V4 H2.6 V4.9 H-2.6 V4 H-0.5 V0.6 Z" fill="#fff"/>
</g>
<g transform="translate(1606,329)">
<circle r="8" fill="#128fd6"/>
<path d="M-4.2,-5 h0.7 v3 h0.6 v-3 h0.7 v3 h0.6 v-3 h0.7 v3.6 q0,1 -1,1.2 v5 h-1.5 v-5 q-1,-0.2 -1,-1.2 z M-0.6,-5 q1.6,0.8 1.6,3.4 q0,1.6 -0.6,2.2 v4.2 h-1.4 v-4.2 z M2.4,-5 q1.7,1 1.7,4.6 h-0.5 v5.2 h-1.3 z" fill="#fff"/>
</g>
<g transform="translate(1624.3,330) rotate(-90) scale(0.772,1)" class="lb" font-size="7.55" fill="#111">
<text x="0" y="-1.08">HOOKED</text>
<text x="0" y="6.52">SEAFOOD</text>
</g>
<path d="M1606,280 L1632,310 V386 H1591 M1691,330 H1662 L1657,338 V380 H1672 L1676,400 H1691" fill="none" stroke="#c2c2c2" stroke-width="0.45"/>
<g transform="translate(1637.5,405)">
<circle r="8" fill="#128fd6"/>
<path d="M-4.6,-4.2 H4.6 L0.5,0.6 V4 H2.6 V4.9 H-2.6 V4 H-0.5 V0.6 Z" fill="#fff"/>
</g>
<g transform="translate(1637.5,423) rotate(0) scale(0.772,1)" class="lb" font-size="7.99" fill="#111">
<text x="0" y="2.88">BAR</text>
</g>
<ellipse cx="1637" cy="424" rx="7" ry="11" fill="none" stroke="#c2c2c2" stroke-width="0.45" transform="rotate(15 1637 424)"/>
<path d="M1649,413 q8,12 -3,27 l-4,-2 q9,-12 3,-23 z" fill="#e5d098" stroke="none" stroke-width="0"/>
<g transform="translate(1609,448) rotate(0) scale(0.772,1)" class="lb" font-size="7.99" fill="#111">
<text x="0" y="-0.92">CASINO</text>
<text x="0" y="6.68">ROYALE</text>
</g>
<g transform="translate(1632,466)">
<circle r="8" fill="#128fd6"/>
<rect x="-4.6" y="-3.6" width="4.6" height="6.4" rx="0.6" transform="rotate(-18)" fill="#fff"/><rect x="-0.4" y="-4" width="4.6" height="6.4" rx="0.6" transform="rotate(14)" fill="#fff"/><circle cx="2.4" cy="-0.4" r="1" fill="#128fd6"/><circle cx="-2.6" cy="-0.2" r="1" fill="#128fd6"/>
</g>
<path d="M1593,470 q6,20 24,24 h12 v14 h-10 q-12,6 -26,4 M1689,470 q-6,20 -24,24 h-12 v14 h10 q12,6 26,4" fill="none" stroke="#c2c2c2" stroke-width="0.45"/>
<g transform="translate(1611,536)">
<circle r="8" fill="#128fd6"/>
<path d="M-4.6,-4.2 H4.6 L0.5,0.6 V4 H2.6 V4.9 H-2.6 V4 H-0.5 V0.6 Z" fill="#fff"/>
</g>
<g transform="translate(1597.5,555) rotate(-90) scale(0.772,1)" class="lb" font-size="7.55" fill="#111">
<text x="0" y="2.72">BOLEROS</text>
</g>
<ellipse cx="1609" cy="556" rx="5.5" ry="8" fill="none" stroke="#c2c2c2" stroke-width="0.45"/>
<path d="M1636,541 q-12,14 0,30 l-4.5,1.5 q-12,-16 0,-33 z" fill="#e5d098" stroke="none" stroke-width="0"/>
<g transform="translate(1640.5,556) rotate(-90) scale(0.772,1)" class="lb" font-size="7.55" fill="#111">
<text x="0" y="2.72">CENTRUM</text>
</g>
<g transform="translate(1671,562.5)">
<circle r="8" fill="#128fd6"/>
<path d="M-3.2,-2.4 H3.2 L2.4,5 H-2.4 Z M-3.6,-4 H3.6 V-3 H-3.6 Z M-2.2,-5.2 H2.2 V-4.4 H-2.2 Z" fill="#fff"/><circle cx="0" cy="1.2" r="1.5" fill="#128fd6"/>
</g>
<g transform="translate(1685,564) rotate(-90) scale(0.772,1)" class="lb" font-size="7.55" fill="#111">
<text x="0" y="2.72">STARBUCKS®</text>
</g>
<rect x="1604" y="587.5" width="7" height="22.5" fill="#fff" stroke="#c2c2c2" stroke-width="0.5"/>
<g transform="translate(1607.7,598.75) rotate(-90) scale(0.8106,1)" class="lb" font-size="6.55" fill="#111">
<text x="0" y="2.36">ELEV.</text>
</g>
<rect x="1671" y="587.5" width="8" height="22.5" fill="#fff" stroke="#c2c2c2" stroke-width="0.5"/>
<g transform="translate(1675.2,598.75) rotate(-90) scale(0.8106,1)" class="lb" font-size="6.55" fill="#111">
<text x="0" y="2.36">ELEV.</text>
</g>
<path d="M1591,586 H1604 M1591,612 H1604 M1691,586 H1679 M1691,612 H1679 M1623,586 h8 q7,7 0,13 h-8 z M1623,600 h8 q7,7 0,13 h-8 z M1659,586 h-8 q-7,7 0,13 h8 z M1659,600 h-8 q-7,7 0,13 h8 z" fill="none" stroke="#c2c2c2" stroke-width="0.45"/>
<rect x="1606" y="628" width="17" height="14" fill="#e5d098"/>
<line x1="1610.25" y1="628" x2="1610.25" y2="642" stroke="#c9b278" stroke-width="0.3"/>
<line x1="1614.5" y1="628" x2="1614.5" y2="642" stroke="#c9b278" stroke-width="0.3"/>
<line x1="1618.75" y1="628" x2="1618.75" y2="642" stroke="#c9b278" stroke-width="0.3"/>
<line x1="1606" y1="635" x2="1623" y2="635" stroke="#c9b278" stroke-width="0.3"/>
<rect x="1659.5" y="628" width="17.5" height="14" fill="#e5d098"/>
<line x1="1663.88" y1="628" x2="1663.88" y2="642" stroke="#c9b278" stroke-width="0.3"/>
<line x1="1668.25" y1="628" x2="1668.25" y2="642" stroke="#c9b278" stroke-width="0.3"/>
<line x1="1672.62" y1="628" x2="1672.62" y2="642" stroke="#c9b278" stroke-width="0.3"/>
<line x1="1659.5" y1="635" x2="1677" y2="635" stroke="#c9b278" stroke-width="0.3"/>
<rect x="1592" y="630" width="11" height="32" fill="none" stroke="#c2c2c2" stroke-width="0.45"/>
<rect x="1679" y="630" width="11" height="32" fill="none" stroke="#c2c2c2" stroke-width="0.45"/>
<g transform="translate(1598,645.5) rotate(0) scale(1.2)" fill="#111"><circle cx="0" cy="-3.4" r="1.1"/><path d="M-1.6,-2 H1.6 V1.2 H1 V4.2 H-1 V1.2 H-1.6 Z"/></g>
<g transform="translate(1685,645.5) rotate(0) scale(1.2)" fill="#111"><circle cx="0" cy="-3.4" r="1.1"/><path d="M-1.6,-2 H1.6 V1.2 H1 V4.2 H-1 V1.2 H-1.6 Z"/></g>
<path d="M1623,630 l7,16 v20 l-5,5 v14 h-18 v-12 M1659.5,630 l-7,16 v20 l5,5 v14 h18 v-12" fill="none" stroke="#c2c2c2" stroke-width="0.45"/>
<g transform="translate(1640.5,700)">
<circle r="8" fill="#128fd6"/>
<path d="M-4.2,-5 h0.7 v3 h0.6 v-3 h0.7 v3 h0.6 v-3 h0.7 v3.6 q0,1 -1,1.2 v5 h-1.5 v-5 q-1,-0.2 -1,-1.2 z M-0.6,-5 q1.6,0.8 1.6,3.4 q0,1.6 -0.6,2.2 v4.2 h-1.4 v-4.2 z M2.4,-5 q1.7,1 1.7,4.6 h-0.5 v5.2 h-1.3 z" fill="#fff"/>
</g>
<g transform="translate(1642,737) rotate(0) scale(0.772,1)" class="lb" font-size="7.99" fill="#111">
<text x="0" y="-0.92">DINING</text>
<text x="0" y="6.68">ROOM</text>
</g>
<path d="M1632,710 q-4,8 -12,12 q-8,14 2,28 q8,8 0,18 q-6,10 2,18 M1650,710 q4,8 12,12 q8,14 -2,28 q-8,8 0,18 q6,10 -2,18" fill="none" stroke="#c2c2c2" stroke-width="0.45"/>
<path d="M1619.5,790 q2,-8 8,-11 q6,-1 9,-10 q4.5,-2 9,0 q3,9 9,10 q6,3 8,11 l-12,1 q-2,-7 -9.5,-7 q-7.5,0 -9.5,7 z" fill="#e5d098" stroke="none" stroke-width="0"/>
<circle cx="1641" cy="792" r="6" fill="none" stroke="#c2c2c2" stroke-width="0.45"/>
<text x="1644" y="871" class="dk">DECK 4</text>
<path d="M1749.5,71 H1863 L1866.5,93 L1865,95 C1872,140 1879.5,190 1879.5,230 V826 H1733.5 V230 C1734,190 1741,140 1748,95 L1746,93 Z" fill="none" stroke="#686868" stroke-width="0.9"/>
<path d="M1740,190 V780 M1874,190 V780 M1740,190 Q1752,180 1768,180 M1874,190 Q1862,180 1846,180" fill="none" stroke="#c2c2c2" stroke-width="0.5"/>
<path d="M1741,780 Q1741,812 1760,814 Q1806,822 1853,814 Q1873,812 1873,780" fill="none" stroke="#c2c2c2" stroke-width="0.5"/>
<path d="M1765,75 H1847.5 V110 Q1850,135 1848,155 Q1840,172 1806,173 Q1772,172 1764,155 Q1762,135 1765,110 Z M1765,110 Q1775,104 1782,100 Q1806,108 1830,100 Q1837,104 1847.5,110" fill="none" stroke="#c2c2c2" stroke-width="0.5"/>
<path d="M1765,115 Q1750,120 1744,128 M1847.5,115 Q1862,120 1868,128" fill="none" stroke="#c2c2c2" stroke-width="0.45"/>
<g transform="translate(1806,133) rotate(0) scale(0.772,1)" class="lb" font-size="7.99" fill="#111">
<text x="0" y="-0.92">ROYAL</text>
<text x="0" y="6.68">THEATER</text>
</g>
<g transform="translate(1807,159)">
<circle r="8" fill="#128fd6"/>
<g transform="rotate(-12)"><path d="M-5.6,-3.4 q2.5,-1 5,0 v3.6 q0,3 -2.5,4.6 q-2.5,-1.6 -2.5,-4.6 z" fill="#fff"/><circle cx="-4.1" cy="-1.2" r="0.7" fill="#128fd6"/><circle cx="-2.1" cy="-1.2" r="0.7" fill="#128fd6"/><path d="M-4.3,1.4 q1.2,1.2 2.4,0" fill="none" stroke="#128fd6" stroke-width="0.6"/></g><g transform="rotate(14)"><path d="M0.2,-4.6 q2.6,-1 5.2,0 v3.6 q0,3 -2.6,4.6 q-2.6,-1.6 -2.6,-4.6 z" fill="#fff"/><circle cx="1.8" cy="-2.4" r="0.7" fill="#128fd6"/><circle cx="3.9" cy="-2.4" r="0.7" fill="#128fd6"/><path d="M1.6,1 q1.2,-1.2 2.4,0" fill="none" stroke="#128fd6" stroke-width="0.6"/></g>
</g>
<g transform="translate(1755,217) rotate(90) scale(1.4)" fill="#111"><circle cx="0" cy="-3.4" r="1.1"/><path d="M-1.6,-2 H1.6 V1.2 H1 V4.2 H-1 V1.2 H-1.6 Z"/></g>
<g transform="translate(1858,217) rotate(90) scale(1.4)" fill="#111"><circle cx="0" cy="-3.4" r="1.1"/><path d="M-1.6,-2 H1.6 V1.2 H1 V4.2 H-1 V1.2 H-1.6 Z"/></g>
<path d="M1740,210 H1766 V222 M1874,210 H1848 V222 M1770,200 H1793 V222 M1793,205 H1820" fill="none" stroke="#c2c2c2" stroke-width="0.45"/>
<path d="M1830,199 a10,10 0 1 0 10,10 l-4.5,0 a5.5,5.5 0 1 1 -5.5,-5.5 z" fill="#e5d098" transform="rotate(40 1830 209)"/>
<rect x="1740.5" y="222.5" width="19.5" height="146.5" fill="#f8ec4c"/>
<text x="1750.25" y="229.09" class="cb" font-size="4.75" fill="#1c1c1c" stroke="#1c1c1c">3540*</text>
<line x1="1740.5" y1="232.27" x2="1760" y2="232.27" stroke="rgba(0,0,0,0.13)" stroke-width="0.4"/>
<text x="1750.25" y="238.86" class="cb" font-size="4.75" fill="#1c1c1c" stroke="#1c1c1c">3542*</text>
<line x1="1740.5" y1="242.03" x2="1760" y2="242.03" stroke="rgba(0,0,0,0.13)" stroke-width="0.4"/>
<text x="1750.25" y="248.63" class="cb" font-size="4.75" fill="#1c1c1c" stroke="#1c1c1c">3544*</text>
<line x1="1740.5" y1="251.8" x2="1760" y2="251.8" stroke="rgba(0,0,0,0.13)" stroke-width="0.4"/>
<text x="1750.25" y="258.39" class="cb" font-size="4.75" fill="#1c1c1c" stroke="#1c1c1c">3546*</text>
<line x1="1740.5" y1="261.57" x2="1760" y2="261.57" stroke="rgba(0,0,0,0.13)" stroke-width="0.4"/>
<text x="1750.25" y="268.16" class="cb" font-size="4.75" fill="#1c1c1c" stroke="#1c1c1c">3548*</text>
<line x1="1740.5" y1="271.33" x2="1760" y2="271.33" stroke="rgba(0,0,0,0.13)" stroke-width="0.4"/>
<text x="1750.25" y="277.93" class="cb" font-size="4.75" fill="#1c1c1c" stroke="#1c1c1c">3550*</text>
<line x1="1740.5" y1="281.1" x2="1760" y2="281.1" stroke="rgba(0,0,0,0.13)" stroke-width="0.4"/>
<text x="1750.25" y="287.69" class="cb" font-size="4.75" fill="#1c1c1c" stroke="#1c1c1c">3552</text>
<line x1="1740.5" y1="290.87" x2="1760" y2="290.87" stroke="rgba(0,0,0,0.13)" stroke-width="0.4"/>
<text x="1750.25" y="297.46" class="cb" font-size="4.75" fill="#1c1c1c" stroke="#1c1c1c">3554*</text>
<line x1="1740.5" y1="300.63" x2="1760" y2="300.63" stroke="rgba(0,0,0,0.13)" stroke-width="0.4"/>
<text x="1750.25" y="307.23" class="cb" font-size="4.75" fill="#1c1c1c" stroke="#1c1c1c">3556*</text>
<line x1="1740.5" y1="310.4" x2="1760" y2="310.4" stroke="rgba(0,0,0,0.13)" stroke-width="0.4"/>
<text x="1750.25" y="316.99" class="cb" font-size="4.75" fill="#1c1c1c" stroke="#1c1c1c">3558*</text>
<line x1="1740.5" y1="320.17" x2="1760" y2="320.17" stroke="rgba(0,0,0,0.13)" stroke-width="0.4"/>
<text x="1750.25" y="326.76" class="cb" font-size="4.75" fill="#1c1c1c" stroke="#1c1c1c">3560*</text>
<line x1="1740.5" y1="329.93" x2="1760" y2="329.93" stroke="rgba(0,0,0,0.13)" stroke-width="0.4"/>
<text x="1750.25" y="336.53" class="cb" font-size="4.75" fill="#1c1c1c" stroke="#1c1c1c">3562*</text>
<line x1="1740.5" y1="339.7" x2="1760" y2="339.7" stroke="rgba(0,0,0,0.13)" stroke-width="0.4"/>
<text x="1750.25" y="346.29" class="cb" font-size="4.75" fill="#1c1c1c" stroke="#1c1c1c">3564*</text>
<line x1="1740.5" y1="349.47" x2="1760" y2="349.47" stroke="rgba(0,0,0,0.13)" stroke-width="0.4"/>
<text x="1750.25" y="356.06" class="cb" font-size="4.75" fill="#1c1c1c" stroke="#1c1c1c">3566*</text>
<line x1="1740.5" y1="359.23" x2="1760" y2="359.23" stroke="rgba(0,0,0,0.13)" stroke-width="0.4"/>
<text x="1750.25" y="365.83" class="cb" font-size="4.75" fill="#1c1c1c" stroke="#1c1c1c">3568*</text>
<rect x="1853" y="222.5" width="19.5" height="146.5" fill="#f8ec4c"/>
<text x="1862.75" y="229.09" class="cb" font-size="4.75" fill="#1c1c1c" stroke="#1c1c1c">3240*</text>
<line x1="1853" y1="232.27" x2="1872.5" y2="232.27" stroke="rgba(0,0,0,0.13)" stroke-width="0.4"/>
<text x="1862.75" y="238.86" class="cb" font-size="4.75" fill="#1c1c1c" stroke="#1c1c1c">3242*</text>
<line x1="1853" y1="242.03" x2="1872.5" y2="242.03" stroke="rgba(0,0,0,0.13)" stroke-width="0.4"/>
<text x="1862.75" y="248.63" class="cb" font-size="4.75" fill="#1c1c1c" stroke="#1c1c1c">3244*</text>
<line x1="1853" y1="251.8" x2="1872.5" y2="251.8" stroke="rgba(0,0,0,0.13)" stroke-width="0.4"/>
<text x="1862.75" y="258.39" class="cb" font-size="4.75" fill="#1c1c1c" stroke="#1c1c1c">3246*</text>
<line x1="1853" y1="261.57" x2="1872.5" y2="261.57" stroke="rgba(0,0,0,0.13)" stroke-width="0.4"/>
<text x="1862.75" y="268.16" class="cb" font-size="4.75" fill="#1c1c1c" stroke="#1c1c1c">3248*</text>
<line x1="1853" y1="271.33" x2="1872.5" y2="271.33" stroke="rgba(0,0,0,0.13)" stroke-width="0.4"/>
<text x="1862.75" y="277.93" class="cb" font-size="4.75" fill="#1c1c1c" stroke="#1c1c1c">3250*</text>
<line x1="1853" y1="281.1" x2="1872.5" y2="281.1" stroke="rgba(0,0,0,0.13)" stroke-width="0.4"/>
<text x="1862.75" y="287.69" class="cb" font-size="4.75" fill="#1c1c1c" stroke="#1c1c1c">3252</text>
<line x1="1853" y1="290.87" x2="1872.5" y2="290.87" stroke="rgba(0,0,0,0.13)" stroke-width="0.4"/>
<text x="1862.75" y="297.46" class="cb" font-size="4.75" fill="#1c1c1c" stroke="#1c1c1c">3254*</text>
<line x1="1853" y1="300.63" x2="1872.5" y2="300.63" stroke="rgba(0,0,0,0.13)" stroke-width="0.4"/>
<text x="1862.75" y="307.23" class="cb" font-size="4.75" fill="#1c1c1c" stroke="#1c1c1c">3256*</text>
<line x1="1853" y1="310.4" x2="1872.5" y2="310.4" stroke="rgba(0,0,0,0.13)" stroke-width="0.4"/>
<text x="1862.75" y="316.99" class="cb" font-size="4.75" fill="#1c1c1c" stroke="#1c1c1c">3258*</text>
<line x1="1853" y1="320.17" x2="1872.5" y2="320.17" stroke="rgba(0,0,0,0.13)" stroke-width="0.4"/>
<text x="1862.75" y="326.76" class="cb" font-size="4.75" fill="#1c1c1c" stroke="#1c1c1c">3260*</text>
<line x1="1853" y1="329.93" x2="1872.5" y2="329.93" stroke="rgba(0,0,0,0.13)" stroke-width="0.4"/>
<text x="1862.75" y="336.53" class="cb" font-size="4.75" fill="#1c1c1c" stroke="#1c1c1c">3262*</text>
<line x1="1853" y1="339.7" x2="1872.5" y2="339.7" stroke="rgba(0,0,0,0.13)" stroke-width="0.4"/>
<text x="1862.75" y="346.29" class="cb" font-size="4.75" fill="#1c1c1c" stroke="#1c1c1c">3264*</text>
<line x1="1853" y1="349.47" x2="1872.5" y2="349.47" stroke="rgba(0,0,0,0.13)" stroke-width="0.4"/>
<text x="1862.75" y="356.06" class="cb" font-size="4.75" fill="#1c1c1c" stroke="#1c1c1c">3266*</text>
<line x1="1853" y1="359.23" x2="1872.5" y2="359.23" stroke="rgba(0,0,0,0.13)" stroke-width="0.4"/>
<text x="1862.75" y="365.83" class="cb" font-size="4.75" fill="#1c1c1c" stroke="#1c1c1c">3268*</text>
<path d="M1761.5,286.25 l2,2.6 h-1.3 v4.3 h1.3 l-2,2.6 l-2,-2.6 h1.3 v-4.3 h-1.3 z" fill="#111"/>
<path d="M1851.5,286.25 l2,2.6 h-1.3 v4.3 h1.3 l-2,2.6 l-2,-2.6 h1.3 v-4.3 h-1.3 z" fill="#111"/>
<path d="M1761.5,344.75 l2,2.6 h-1.3 v4.3 h1.3 l-2,2.6 l-2,-2.6 h1.3 v-4.3 h-1.3 z" fill="#111"/>
<path d="M1851.5,344.75 l2,2.6 h-1.3 v4.3 h1.3 l-2,2.6 l-2,-2.6 h1.3 v-4.3 h-1.3 z" fill="#111"/>
<rect x="1772.5" y="224" width="16.5" height="13.5" fill="#e5d098"/>
<line x1="1776.62" y1="224" x2="1776.62" y2="237.5" stroke="#c9b278" stroke-width="0.3"/>
<line x1="1780.75" y1="224" x2="1780.75" y2="237.5" stroke="#c9b278" stroke-width="0.3"/>
<line x1="1784.88" y1="224" x2="1784.88" y2="237.5" stroke="#c9b278" stroke-width="0.3"/>
<line x1="1772.5" y1="230.75" x2="1789" y2="230.75" stroke="#c9b278" stroke-width="0.3"/>
<rect x="1824" y="224" width="16" height="13.5" fill="#e5d098"/>
<line x1="1828" y1="224" x2="1828" y2="237.5" stroke="#c9b278" stroke-width="0.3"/>
<line x1="1832" y1="224" x2="1832" y2="237.5" stroke="#c9b278" stroke-width="0.3"/>
<line x1="1836" y1="224" x2="1836" y2="237.5" stroke="#c9b278" stroke-width="0.3"/>
<line x1="1824" y1="230.75" x2="1840" y2="230.75" stroke="#c9b278" stroke-width="0.3"/>
<path d="M1793,222 V240 H1820 V222" fill="none" stroke="#c2c2c2" stroke-width="0.45"/>
<rect x="1772" y="255" width="7.5" height="24" fill="#fff" stroke="#c2c2c2" stroke-width="0.5"/>
<g transform="translate(1775.95,267) rotate(-90) scale(0.8106,1)" class="lb" font-size="6.55" fill="#111">
<text x="0" y="2.36">ELEV.</text>
</g>
<rect x="1833" y="255" width="8" height="24" fill="#fff" stroke="#c2c2c2" stroke-width="0.5"/>
<g transform="translate(1837.2,267) rotate(-90) scale(0.8106,1)" class="lb" font-size="6.55" fill="#111">
<text x="0" y="2.36">ELEV.</text>
</g>
<path d="M1790,282 V254 h6 l2,-2 h17 l2,2 h6 V282 q-16.5,8 -33,0 z" fill="none" stroke="#c2c2c2" stroke-width="0.45"/>
<polygon points="1801,252.5 1811,252.5 1809,262.5 1803,262.5" fill="#e5d098"/>
<path d="M1766,284 H1848 M1766,284 V369 H1848 V284" fill="none" stroke="#c2c2c2" stroke-width="0.45"/>
<rect x="1766" y="308" width="16.5" height="40" fill="#d5ab98"/>
<text x="1774.25" y="313.71" class="cb" font-size="4.75" fill="#1c1c1c" stroke="#1c1c1c">3021</text>
<text x="1774.25" y="321.71" class="cb" font-size="4.75" fill="#1c1c1c" stroke="#1c1c1c">3025</text>
<text x="1774.25" y="329.71" class="cb" font-size="4.75" fill="#1c1c1c" stroke="#1c1c1c">3029</text>
<text x="1774.25" y="337.71" class="cb" font-size="4.75" fill="#1c1c1c" stroke="#1c1c1c">3035</text>
<text x="1774.25" y="345.71" class="cb" font-size="4.75" fill="#1c1c1c" stroke="#1c1c1c">3039</text>
<rect x="1799" y="310.5" width="16" height="32" fill="#d5ab98"/>
<text x="1807" y="316.21" class="cb" font-size="4.75" fill="#1c1c1c" stroke="#1c1c1c">3023</text>
<text x="1807" y="324.21" class="cb" font-size="4.75" fill="#1c1c1c" stroke="#1c1c1c">3027</text>
<text x="1807" y="332.21" class="cb" font-size="4.75" fill="#1c1c1c" stroke="#1c1c1c">3031</text>
<text x="1807" y="340.21" class="cb" font-size="4.75" fill="#1c1c1c" stroke="#1c1c1c">3037</text>
<rect x="1815" y="310.5" width="7.5" height="32" fill="#d5ab98"/>
<text x="1819" y="320.07" class="cb" font-size="4.369999999999999" fill="#1c1c1c" stroke="#1c1c1c" transform="rotate(-90 1819 318.5)">3001</text>
<text x="1819" y="335.57" class="cb" font-size="4.369999999999999" fill="#1c1c1c" stroke="#1c1c1c" transform="rotate(-90 1819 334)">3003</text>
<rect x="1830" y="308" width="17" height="40" fill="#d5ab98"/>
<text x="1838.5" y="313.71" class="cb" font-size="4.75" fill="#1c1c1c" stroke="#1c1c1c">3005</text>
<text x="1838.5" y="321.71" class="cb" font-size="4.75" fill="#1c1c1c" stroke="#1c1c1c">3007</text>
<text x="1838.5" y="329.71" class="cb" font-size="4.75" fill="#1c1c1c" stroke="#1c1c1c">3009</text>
<text x="1838.5" y="337.71" class="cb" font-size="4.75" fill="#1c1c1c" stroke="#1c1c1c">3011</text>
<text x="1838.5" y="345.71" class="cb" font-size="4.75" fill="#1c1c1c" stroke="#1c1c1c">3013</text>
<rect x="1792.5" y="352.5" width="23.5" height="16.5" fill="#d5ab98"/>
<text x="1796.42" y="362.32" class="cb" font-size="4.369999999999999" fill="#1c1c1c" stroke="#1c1c1c" transform="rotate(-90 1796.42 360.75)">3019</text>
<text x="1804.25" y="362.32" class="cb" font-size="4.369999999999999" fill="#1c1c1c" stroke="#1c1c1c" transform="rotate(-90 1804.25 360.75)">3017</text>
<text x="1812.08" y="362.32" class="cb" font-size="4.369999999999999" fill="#1c1c1c" stroke="#1c1c1c" transform="rotate(-90 1812.08 360.75)">3015</text>
<path d="M1740,400 H1785 V385 H1829 V400 H1874 M1740,375 H1874" fill="none" stroke="#c2c2c2" stroke-width="0.45"/>
<g transform="translate(1807,409.5)">
<circle r="8" fill="#128fd6"/>
<g transform="rotate(-12)"><path d="M-5.6,-3.4 q2.5,-1 5,0 v3.6 q0,3 -2.5,4.6 q-2.5,-1.6 -2.5,-4.6 z" fill="#fff"/><circle cx="-4.1" cy="-1.2" r="0.7" fill="#128fd6"/><circle cx="-2.1" cy="-1.2" r="0.7" fill="#128fd6"/><path d="M-4.3,1.4 q1.2,1.2 2.4,0" fill="none" stroke="#128fd6" stroke-width="0.6"/></g><g transform="rotate(14)"><path d="M0.2,-4.6 q2.6,-1 5.2,0 v3.6 q0,3 -2.6,4.6 q-2.6,-1.6 -2.6,-4.6 z" fill="#fff"/><circle cx="1.8" cy="-2.4" r="0.7" fill="#128fd6"/><circle cx="3.9" cy="-2.4" r="0.7" fill="#128fd6"/><path d="M1.6,1 q1.2,-1.2 2.4,0" fill="none" stroke="#128fd6" stroke-width="0.6"/></g>
</g>
<g transform="translate(1806,452) rotate(0) scale(0.772,1)" class="lb" font-size="7.99" fill="#111">
<text x="0" y="2.88">STUDIO B</text>
</g>
<path d="M1740,485 H1752 Q1755,500 1770,504 Q1806,512 1842,504 Q1857,500 1860,485 H1874 M1766,519 H1795 L1790,524 V536 M1820,519 H1850 M1822,519 q2,8 10,10 h18" fill="none" stroke="#c2c2c2" stroke-width="0.45"/>
<rect x="1740.5" y="519" width="19.5" height="97" fill="#6cc4c0"/>
<text x="1750.25" y="525.56" class="cb" font-size="4.75" fill="#1c1c1c" stroke="#1c1c1c">3600*</text>
<text x="1750.25" y="535.26" class="cb" font-size="4.75" fill="#1c1c1c" stroke="#1c1c1c">3602*</text>
<text x="1750.25" y="544.96" class="cb" font-size="4.75" fill="#1c1c1c" stroke="#1c1c1c">3604*</text>
<text x="1750.25" y="554.66" class="cb" font-size="4.75" fill="#1c1c1c" stroke="#1c1c1c">3606</text>
<text x="1750.25" y="564.36" class="cb" font-size="4.75" fill="#1c1c1c" stroke="#1c1c1c">3608</text>
<text x="1750.25" y="574.06" class="cb" font-size="4.75" fill="#1c1c1c" stroke="#1c1c1c">3610*</text>
<text x="1750.25" y="583.76" class="cb" font-size="4.75" fill="#1c1c1c" stroke="#1c1c1c">3612</text>
<text x="1750.25" y="593.46" class="cb" font-size="4.75" fill="#1c1c1c" stroke="#1c1c1c">3614</text>
<text x="1750.25" y="603.16" class="cb" font-size="4.75" fill="#1c1c1c" stroke="#1c1c1c">3616</text>
<text x="1750.25" y="612.86" class="cb" font-size="4.75" fill="#1c1c1c" stroke="#1c1c1c">3618*</text>
<rect x="1740.5" y="617" width="19.5" height="48.5" fill="#f8ec4c"/>
<text x="1750.25" y="623.56" class="cb" font-size="4.75" fill="#1c1c1c" stroke="#1c1c1c">3620</text>
<line x1="1740.5" y1="626.7" x2="1760" y2="626.7" stroke="rgba(0,0,0,0.13)" stroke-width="0.4"/>
<text x="1750.25" y="633.26" class="cb" font-size="4.75" fill="#1c1c1c" stroke="#1c1c1c">3622</text>
<line x1="1740.5" y1="636.4" x2="1760" y2="636.4" stroke="rgba(0,0,0,0.13)" stroke-width="0.4"/>
<text x="1750.25" y="642.96" class="cb" font-size="4.75" fill="#1c1c1c" stroke="#1c1c1c">3624</text>
<line x1="1740.5" y1="646.1" x2="1760" y2="646.1" stroke="rgba(0,0,0,0.13)" stroke-width="0.4"/>
<text x="1750.25" y="652.66" class="cb" font-size="4.75" fill="#1c1c1c" stroke="#1c1c1c">3626</text>
<line x1="1740.5" y1="655.8" x2="1760" y2="655.8" stroke="rgba(0,0,0,0.13)" stroke-width="0.4"/>
<text x="1750.25" y="662.36" class="cb" font-size="4.75" fill="#1c1c1c" stroke="#1c1c1c">3628</text>
<rect x="1853" y="519" width="19.5" height="146.5" fill="#f8ec4c"/>
<text x="1862.75" y="525.59" class="cb" font-size="4.75" fill="#1c1c1c" stroke="#1c1c1c">3700</text>
<line x1="1853" y1="528.77" x2="1872.5" y2="528.77" stroke="rgba(0,0,0,0.13)" stroke-width="0.4"/>
<text x="1862.75" y="535.36" class="cb" font-size="4.75" fill="#1c1c1c" stroke="#1c1c1c">3702</text>
<line x1="1853" y1="538.53" x2="1872.5" y2="538.53" stroke="rgba(0,0,0,0.13)" stroke-width="0.4"/>
<text x="1862.75" y="545.13" class="cb" font-size="4.75" fill="#1c1c1c" stroke="#1c1c1c">3704</text>
<line x1="1853" y1="548.3" x2="1872.5" y2="548.3" stroke="rgba(0,0,0,0.13)" stroke-width="0.4"/>
<text x="1862.75" y="554.89" class="cb" font-size="4.75" fill="#1c1c1c" stroke="#1c1c1c">3706</text>
<line x1="1853" y1="558.07" x2="1872.5" y2="558.07" stroke="rgba(0,0,0,0.13)" stroke-width="0.4"/>
<text x="1862.75" y="564.66" class="cb" font-size="4.75" fill="#1c1c1c" stroke="#1c1c1c">3708</text>
<line x1="1853" y1="567.83" x2="1872.5" y2="567.83" stroke="rgba(0,0,0,0.13)" stroke-width="0.4"/>
<text x="1862.75" y="574.43" class="cb" font-size="4.75" fill="#1c1c1c" stroke="#1c1c1c">3710</text>
<line x1="1853" y1="577.6" x2="1872.5" y2="577.6" stroke="rgba(0,0,0,0.13)" stroke-width="0.4"/>
<text x="1862.75" y="584.19" class="cb" font-size="4.75" fill="#1c1c1c" stroke="#1c1c1c">3712</text>
<line x1="1853" y1="587.37" x2="1872.5" y2="587.37" stroke="rgba(0,0,0,0.13)" stroke-width="0.4"/>
<text x="1862.75" y="593.96" class="cb" font-size="4.75" fill="#1c1c1c" stroke="#1c1c1c">3714</text>
<line x1="1853" y1="597.13" x2="1872.5" y2="597.13" stroke="rgba(0,0,0,0.13)" stroke-width="0.4"/>
<text x="1862.75" y="603.73" class="cb" font-size="4.75" fill="#1c1c1c" stroke="#1c1c1c">3716</text>
<line x1="1853" y1="606.9" x2="1872.5" y2="606.9" stroke="rgba(0,0,0,0.13)" stroke-width="0.4"/>
<text x="1862.75" y="613.49" class="cb" font-size="4.75" fill="#1c1c1c" stroke="#1c1c1c">3718</text>
<line x1="1853" y1="616.67" x2="1872.5" y2="616.67" stroke="rgba(0,0,0,0.13)" stroke-width="0.4"/>
<text x="1862.75" y="623.26" class="cb" font-size="4.75" fill="#1c1c1c" stroke="#1c1c1c">3720</text>
<line x1="1853" y1="626.43" x2="1872.5" y2="626.43" stroke="rgba(0,0,0,0.13)" stroke-width="0.4"/>
<text x="1862.75" y="633.03" class="cb" font-size="4.75" fill="#1c1c1c" stroke="#1c1c1c">3722</text>
<line x1="1853" y1="636.2" x2="1872.5" y2="636.2" stroke="rgba(0,0,0,0.13)" stroke-width="0.4"/>
<text x="1862.75" y="642.79" class="cb" font-size="4.75" fill="#1c1c1c" stroke="#1c1c1c">3724</text>
<line x1="1853" y1="645.97" x2="1872.5" y2="645.97" stroke="rgba(0,0,0,0.13)" stroke-width="0.4"/>
<text x="1862.75" y="652.56" class="cb" font-size="4.75" fill="#1c1c1c" stroke="#1c1c1c">3726</text>
<line x1="1853" y1="655.73" x2="1872.5" y2="655.73" stroke="rgba(0,0,0,0.13)" stroke-width="0.4"/>
<text x="1862.75" y="662.33" class="cb" font-size="4.75" fill="#1c1c1c" stroke="#1c1c1c">3728</text>
<path d="M1761.5,533.75 l2,2.6 h-1.3 v4.3 h1.3 l-2,2.6 l-2,-2.6 h1.3 v-4.3 h-1.3 z" fill="#111"/>
<path d="M1761.5,553.25 l2,2.6 h-1.3 v4.3 h1.3 l-2,2.6 l-2,-2.6 h1.3 v-4.3 h-1.3 z" fill="#111"/>
<path d="M1761.5,572.75 l2,2.6 h-1.3 v4.3 h1.3 l-2,2.6 l-2,-2.6 h1.3 v-4.3 h-1.3 z" fill="#111"/>
<path d="M1761.5,592.25 l2,2.6 h-1.3 v4.3 h1.3 l-2,2.6 l-2,-2.6 h1.3 v-4.3 h-1.3 z" fill="#111"/>
<path d="M1761.5,641.25 l2,2.6 h-1.3 v4.3 h1.3 l-2,2.6 l-2,-2.6 h1.3 v-4.3 h-1.3 z" fill="#111"/>
<path d="M1851.5,533.75 l2,2.6 h-1.3 v4.3 h1.3 l-2,2.6 l-2,-2.6 h1.3 v-4.3 h-1.3 z" fill="#111"/>
<path d="M1851.5,553.25 l2,2.6 h-1.3 v4.3 h1.3 l-2,2.6 l-2,-2.6 h1.3 v-4.3 h-1.3 z" fill="#111"/>
<path d="M1851.5,572.75 l2,2.6 h-1.3 v4.3 h1.3 l-2,2.6 l-2,-2.6 h1.3 v-4.3 h-1.3 z" fill="#111"/>
<path d="M1851.5,592.25 l2,2.6 h-1.3 v4.3 h1.3 l-2,2.6 l-2,-2.6 h1.3 v-4.3 h-1.3 z" fill="#111"/>
<path d="M1851.5,641.25 l2,2.6 h-1.3 v4.3 h1.3 l-2,2.6 l-2,-2.6 h1.3 v-4.3 h-1.3 z" fill="#111"/>
<g transform="translate(1777,525) rotate(90) scale(1.4)" fill="#111"><circle cx="0" cy="-3.4" r="1.1"/><path d="M-1.6,-2 H1.6 V1.2 H1 V4.2 H-1 V1.2 H-1.6 Z"/></g>
<g transform="translate(1775,579) rotate(90) scale(1.4)" fill="#111"><circle cx="0" cy="-3.4" r="1.1"/><path d="M-1.6,-2 H1.6 V1.2 H1 V4.2 H-1 V1.2 H-1.6 Z"/></g>
<rect x="1766" y="536" width="13" height="36.5" fill="#fff" stroke="#c2c2c2" stroke-width="0.45"/>
<g transform="translate(1772,556) rotate(-90) scale(0.772,1)" class="lb" font-size="7.55" fill="#111">
<text x="0" y="2.72">RCTV</text>
</g>
<path d="M1766,520 V536 M1766,572.5 V586 H1790 V572 M1766,586 V612" fill="none" stroke="#c2c2c2" stroke-width="0.45"/>
<path d="M1800,541 q-10,10 -5,22 l-5,1 q-5,-14 5,-25 z" fill="#e5d098" stroke="none" stroke-width="0"/>
<g transform="translate(1834.5,538) rotate(0) scale(0.772,1)" class="lb" font-size="7.99" fill="#111">
<text x="0" y="2.88">FOCUS</text>
</g>
<g transform="translate(1836,553)">
<circle r="8" fill="#128fd6"/>
<path d="M-3.4,-1 H3.4 V4.4 H-3.4 Z M-2.2,-1 V-2.6 A2.2,2.2 0 0 1 2.2,-2.6 V-1 H1.2 V-2.6 A1.2,1.2 0 0 0 -1.2,-2.6 V-1 Z" fill="#fff"/><rect x="-1.5" y="0.6" width="3" height="2.2" fill="#128fd6"/>
</g>
<g transform="translate(1806,581.3) rotate(0) scale(0.772,1)" class="lb" font-size="7.99" fill="#111">
<text x="0" y="-0.92">ART</text>
<text x="0" y="6.68">GALLERY</text>
</g>
<rect x="1768" y="589.5" width="7.5" height="18" fill="#fff" stroke="#c2c2c2" stroke-width="0.5"/>
<g transform="translate(1771.95,598.5) rotate(-90) scale(0.8106,1)" class="lb" font-size="6.55" fill="#111">
<text x="0" y="2.36">ELEV.</text>
</g>
<rect x="1836" y="589.5" width="8" height="18" fill="#fff" stroke="#c2c2c2" stroke-width="0.5"/>
<g transform="translate(1840.2,598.5) rotate(-90) scale(0.8106,1)" class="lb" font-size="6.55" fill="#111">
<text x="0" y="2.36">ELEV.</text>
</g>
<path d="M1790,590 h6 q5,5 0,9 h-6 z M1790,602 h6 q5,5 0,9 h-6 z M1822,590 h-6 q-5,5 0,9 h6 z M1822,602 h-6 q-5,5 0,9 h6 z" fill="none" stroke="#c2c2c2" stroke-width="0.45"/>
<rect x="1771" y="630" width="16.5" height="14.5" fill="#e5d098"/>
<line x1="1775.12" y1="630" x2="1775.12" y2="644.5" stroke="#c9b278" stroke-width="0.3"/>
<line x1="1779.25" y1="630" x2="1779.25" y2="644.5" stroke="#c9b278" stroke-width="0.3"/>
<line x1="1783.38" y1="630" x2="1783.38" y2="644.5" stroke="#c9b278" stroke-width="0.3"/>
<line x1="1771" y1="637.25" x2="1787.5" y2="637.25" stroke="#c9b278" stroke-width="0.3"/>
<rect x="1825" y="630" width="17" height="14.5" fill="#e5d098"/>
<line x1="1829.25" y1="630" x2="1829.25" y2="644.5" stroke="#c9b278" stroke-width="0.3"/>
<line x1="1833.5" y1="630" x2="1833.5" y2="644.5" stroke="#c9b278" stroke-width="0.3"/>
<line x1="1837.75" y1="630" x2="1837.75" y2="644.5" stroke="#c9b278" stroke-width="0.3"/>
<line x1="1825" y1="637.25" x2="1842" y2="637.25" stroke="#c9b278" stroke-width="0.3"/>
<path d="M1766,612 V690 H1795 V670 L1790,655 V630 M1848,612 V690 H1819 V670 L1824,655 V630" fill="none" stroke="#c2c2c2" stroke-width="0.45"/>
<g transform="translate(1806,705)">
<circle r="8" fill="#128fd6"/>
<path d="M-4.2,-5 h0.7 v3 h0.6 v-3 h0.7 v3 h0.6 v-3 h0.7 v3.6 q0,1 -1,1.2 v5 h-1.5 v-5 q-1,-0.2 -1,-1.2 z M-0.6,-5 q1.6,0.8 1.6,3.4 q0,1.6 -0.6,2.2 v4.2 h-1.4 v-4.2 z M2.4,-5 q1.7,1 1.7,4.6 h-0.5 v5.2 h-1.3 z" fill="#fff"/>
</g>
<g transform="translate(1807,738) rotate(0) scale(0.772,1)" class="lb" font-size="7.99" fill="#111">
<text x="0" y="-0.92">DINING</text>
<text x="0" y="6.68">ROOM</text>
</g>
<path d="M1798,714 q-4,8 -12,12 q-8,14 2,28 q8,8 0,18 q-6,10 2,18 M1815,714 q4,8 12,12 q8,14 -2,28 q-8,8 0,18 q6,10 -2,18" fill="none" stroke="#c2c2c2" stroke-width="0.45"/>
<path d="M1787,788 q3,-5 9,-5 q6,-1 8,-12 h5 q2,11 8,12 q6,0 9,5 l-3,3 q-4,-3 -8,-3 q-5,-1 -8.5,-5 q-3.5,4 -8.5,5 q-4,0 -8,3 z" fill="#e5d098" stroke="none" stroke-width="0"/>
<circle cx="1806.5" cy="795" r="6" fill="none" stroke="#c2c2c2" stroke-width="0.45"/>
<text x="1810" y="871" class="dk">DECK 3</text>
<path d="M1922.5,69 H2022.5 L2030,96 L2032,99 C2036,130 2040,160 2041,230 V815 Q2041,826 2036,826 H1908 Q1902.5,826 1902.5,815 V230 C1903,160 1908,130 1913,99 L1915,96 Z" fill="none" stroke="#686868" stroke-width="0.9"/>
<path d="M1907,230 V810 Q1907,821 1914,821 H2030 Q2037,821 2037,810 V230" fill="none" stroke="#c2c2c2" stroke-width="0.5"/>
<path d="M1932.5,76 H2012.5 V102 H2003 L1998,106 Q1985,102 1990,112 Q1972,118 1954,112 Q1959,102 1946,106 L1941,102 H1932.5 Z" fill="none" stroke="#c2c2c2" stroke-width="0.5"/>
<path d="M1954,112 Q1925,125 1932,150 Q1940,170 1972,172 Q2004,170 2012,150 Q2019,125 1990,112" fill="none" stroke="#c2c2c2" stroke-width="0.5"/>
<path d="M1941,106 L1932,116 Q1918,122 1916,135 L1907,230 M2003,106 L2012,116 Q2026,122 2028,135 L2037,230" fill="none" stroke="#c2c2c2" stroke-width="0.45"/>
<rect x="1957.5" y="187" width="29.5" height="45" fill="none" stroke="#c2c2c2" stroke-width="0.5"/>
<rect x="1907" y="200" width="20" height="21" fill="none" stroke="#c2c2c2" stroke-width="0.5"/>
<rect x="1907" y="221" width="20" height="145" fill="#f8ec4c"/>
<text x="1917" y="227.54" class="cb" font-size="4.75" fill="#1c1c1c" stroke="#1c1c1c">2540*</text>
<line x1="1907" y1="230.67" x2="1927" y2="230.67" stroke="rgba(0,0,0,0.13)" stroke-width="0.4"/>
<text x="1917" y="237.21" class="cb" font-size="4.75" fill="#1c1c1c" stroke="#1c1c1c">2542*</text>
<line x1="1907" y1="240.33" x2="1927" y2="240.33" stroke="rgba(0,0,0,0.13)" stroke-width="0.4"/>
<text x="1917" y="246.88" class="cb" font-size="4.75" fill="#1c1c1c" stroke="#1c1c1c">2544</text>
<line x1="1907" y1="250" x2="1927" y2="250" stroke="rgba(0,0,0,0.13)" stroke-width="0.4"/>
<text x="1917" y="256.54" class="cb" font-size="4.75" fill="#1c1c1c" stroke="#1c1c1c">2546*</text>
<line x1="1907" y1="259.67" x2="1927" y2="259.67" stroke="rgba(0,0,0,0.13)" stroke-width="0.4"/>
<text x="1917" y="266.21" class="cb" font-size="4.75" fill="#1c1c1c" stroke="#1c1c1c">2548*</text>
<line x1="1907" y1="269.33" x2="1927" y2="269.33" stroke="rgba(0,0,0,0.13)" stroke-width="0.4"/>
<text x="1917" y="275.88" class="cb" font-size="4.75" fill="#1c1c1c" stroke="#1c1c1c">2550</text>
<line x1="1907" y1="279" x2="1927" y2="279" stroke="rgba(0,0,0,0.13)" stroke-width="0.4"/>
<text x="1917" y="285.54" class="cb" font-size="4.75" fill="#1c1c1c" stroke="#1c1c1c">2552*</text>
<line x1="1907" y1="288.67" x2="1927" y2="288.67" stroke="rgba(0,0,0,0.13)" stroke-width="0.4"/>
<text x="1917" y="295.21" class="cb" font-size="4.75" fill="#1c1c1c" stroke="#1c1c1c">2554</text>
<line x1="1907" y1="298.33" x2="1927" y2="298.33" stroke="rgba(0,0,0,0.13)" stroke-width="0.4"/>
<text x="1917" y="304.88" class="cb" font-size="4.75" fill="#1c1c1c" stroke="#1c1c1c">2556</text>
<line x1="1907" y1="308" x2="1927" y2="308" stroke="rgba(0,0,0,0.13)" stroke-width="0.4"/>
<text x="1917" y="314.54" class="cb" font-size="4.75" fill="#1c1c1c" stroke="#1c1c1c">2558</text>
<line x1="1907" y1="317.67" x2="1927" y2="317.67" stroke="rgba(0,0,0,0.13)" stroke-width="0.4"/>
<text x="1917" y="324.21" class="cb" font-size="4.75" fill="#1c1c1c" stroke="#1c1c1c">2560*</text>
<line x1="1907" y1="327.33" x2="1927" y2="327.33" stroke="rgba(0,0,0,0.13)" stroke-width="0.4"/>
<text x="1917" y="333.88" class="cb" font-size="4.75" fill="#1c1c1c" stroke="#1c1c1c">2562</text>
<line x1="1907" y1="337" x2="1927" y2="337" stroke="rgba(0,0,0,0.13)" stroke-width="0.4"/>
<text x="1917" y="343.54" class="cb" font-size="4.75" fill="#1c1c1c" stroke="#1c1c1c">2564*</text>
<line x1="1907" y1="346.67" x2="1927" y2="346.67" stroke="rgba(0,0,0,0.13)" stroke-width="0.4"/>
<text x="1917" y="353.21" class="cb" font-size="4.75" fill="#1c1c1c" stroke="#1c1c1c">2566*</text>
<line x1="1907" y1="356.33" x2="1927" y2="356.33" stroke="rgba(0,0,0,0.13)" stroke-width="0.4"/>
<text x="1917" y="362.88" class="cb" font-size="4.75" fill="#1c1c1c" stroke="#1c1c1c">2568*</text>
<rect x="2018.5" y="221" width="19.5" height="145" fill="#f8ec4c"/>
<text x="2028.25" y="227.54" class="cb" font-size="4.75" fill="#1c1c1c" stroke="#1c1c1c">2240</text>
<line x1="2018.5" y1="230.67" x2="2038" y2="230.67" stroke="rgba(0,0,0,0.13)" stroke-width="0.4"/>
<text x="2028.25" y="237.21" class="cb" font-size="4.75" fill="#1c1c1c" stroke="#1c1c1c">2242</text>
<line x1="2018.5" y1="240.33" x2="2038" y2="240.33" stroke="rgba(0,0,0,0.13)" stroke-width="0.4"/>
<text x="2028.25" y="246.88" class="cb" font-size="4.75" fill="#1c1c1c" stroke="#1c1c1c">2244</text>
<line x1="2018.5" y1="250" x2="2038" y2="250" stroke="rgba(0,0,0,0.13)" stroke-width="0.4"/>
<text x="2028.25" y="256.54" class="cb" font-size="4.75" fill="#1c1c1c" stroke="#1c1c1c">2246</text>
<line x1="2018.5" y1="259.67" x2="2038" y2="259.67" stroke="rgba(0,0,0,0.13)" stroke-width="0.4"/>
<text x="2028.25" y="266.21" class="cb" font-size="4.75" fill="#1c1c1c" stroke="#1c1c1c">2248</text>
<line x1="2018.5" y1="269.33" x2="2038" y2="269.33" stroke="rgba(0,0,0,0.13)" stroke-width="0.4"/>
<text x="2028.25" y="275.88" class="cb" font-size="4.75" fill="#1c1c1c" stroke="#1c1c1c">2250*</text>
<line x1="2018.5" y1="279" x2="2038" y2="279" stroke="rgba(0,0,0,0.13)" stroke-width="0.4"/>
<text x="2028.25" y="285.54" class="cb" font-size="4.75" fill="#1c1c1c" stroke="#1c1c1c">2252*</text>
<line x1="2018.5" y1="288.67" x2="2038" y2="288.67" stroke="rgba(0,0,0,0.13)" stroke-width="0.4"/>
<text x="2028.25" y="295.21" class="cb" font-size="4.75" fill="#1c1c1c" stroke="#1c1c1c">2254</text>
<line x1="2018.5" y1="298.33" x2="2038" y2="298.33" stroke="rgba(0,0,0,0.13)" stroke-width="0.4"/>
<text x="2028.25" y="304.88" class="cb" font-size="4.75" fill="#1c1c1c" stroke="#1c1c1c">2256</text>
<line x1="2018.5" y1="308" x2="2038" y2="308" stroke="rgba(0,0,0,0.13)" stroke-width="0.4"/>
<text x="2028.25" y="314.54" class="cb" font-size="4.75" fill="#1c1c1c" stroke="#1c1c1c">2258</text>
<line x1="2018.5" y1="317.67" x2="2038" y2="317.67" stroke="rgba(0,0,0,0.13)" stroke-width="0.4"/>
<text x="2028.25" y="324.21" class="cb" font-size="4.75" fill="#1c1c1c" stroke="#1c1c1c">2260*</text>
<line x1="2018.5" y1="327.33" x2="2038" y2="327.33" stroke="rgba(0,0,0,0.13)" stroke-width="0.4"/>
<text x="2028.25" y="333.88" class="cb" font-size="4.75" fill="#1c1c1c" stroke="#1c1c1c">2262</text>
<line x1="2018.5" y1="337" x2="2038" y2="337" stroke="rgba(0,0,0,0.13)" stroke-width="0.4"/>
<text x="2028.25" y="343.54" class="cb" font-size="4.75" fill="#1c1c1c" stroke="#1c1c1c">2264*</text>
<line x1="2018.5" y1="346.67" x2="2038" y2="346.67" stroke="rgba(0,0,0,0.13)" stroke-width="0.4"/>
<text x="2028.25" y="353.21" class="cb" font-size="4.75" fill="#1c1c1c" stroke="#1c1c1c">2266*</text>
<line x1="2018.5" y1="356.33" x2="2038" y2="356.33" stroke="rgba(0,0,0,0.13)" stroke-width="0.4"/>
<text x="2028.25" y="362.88" class="cb" font-size="4.75" fill="#1c1c1c" stroke="#1c1c1c">2268*</text>
<path d="M1928.5,283.25 l2,2.6 h-1.3 v4.3 h1.3 l-2,2.6 l-2,-2.6 h1.3 v-4.3 h-1.3 z" fill="#111"/>
<path d="M2017.5,283.25 l2,2.6 h-1.3 v4.3 h1.3 l-2,2.6 l-2,-2.6 h1.3 v-4.3 h-1.3 z" fill="#111"/>
<path d="M1928.5,302.75 l2,2.6 h-1.3 v4.3 h1.3 l-2,2.6 l-2,-2.6 h1.3 v-4.3 h-1.3 z" fill="#111"/>
<path d="M2017.5,302.75 l2,2.6 h-1.3 v4.3 h1.3 l-2,2.6 l-2,-2.6 h1.3 v-4.3 h-1.3 z" fill="#111"/>
<path d="M1928.5,341.25 l2,2.6 h-1.3 v4.3 h1.3 l-2,2.6 l-2,-2.6 h1.3 v-4.3 h-1.3 z" fill="#111"/>
<path d="M2017.5,341.25 l2,2.6 h-1.3 v4.3 h1.3 l-2,2.6 l-2,-2.6 h1.3 v-4.3 h-1.3 z" fill="#111"/>
<rect x="1938" y="221" width="16.5" height="12" fill="#e5d098"/>
<line x1="1942.12" y1="221" x2="1942.12" y2="233" stroke="#c9b278" stroke-width="0.3"/>
<line x1="1946.25" y1="221" x2="1946.25" y2="233" stroke="#c9b278" stroke-width="0.3"/>
<line x1="1950.38" y1="221" x2="1950.38" y2="233" stroke="#c9b278" stroke-width="0.3"/>
<line x1="1938" y1="227" x2="1954.5" y2="227" stroke="#c9b278" stroke-width="0.3"/>
<rect x="1990" y="221" width="16" height="12" fill="#e5d098"/>
<line x1="1994" y1="221" x2="1994" y2="233" stroke="#c9b278" stroke-width="0.3"/>
<line x1="1998" y1="221" x2="1998" y2="233" stroke="#c9b278" stroke-width="0.3"/>
<line x1="2002" y1="221" x2="2002" y2="233" stroke="#c9b278" stroke-width="0.3"/>
<line x1="1990" y1="227" x2="2006" y2="227" stroke="#c9b278" stroke-width="0.3"/>
<g transform="translate(1972.5,239.5) rotate(0) scale(0.772,1)" class="lb" font-size="7.99" fill="#111">
<text x="0" y="-0.72">LOYALTY</text>
<text x="0" y="6.48">DESK</text>
</g>
<rect x="1938" y="254" width="7.5" height="22" fill="#fff" stroke="#c2c2c2" stroke-width="0.5"/>
<g transform="translate(1941.95,265) rotate(-90) scale(0.8106,1)" class="lb" font-size="6.55" fill="#111">
<text x="0" y="2.36">ELEV.</text>
</g>
<rect x="1998" y="254" width="7.5" height="22" fill="#fff" stroke="#c2c2c2" stroke-width="0.5"/>
<g transform="translate(2001.95,265) rotate(-90) scale(0.8106,1)" class="lb" font-size="6.55" fill="#111">
<text x="0" y="2.36">ELEV.</text>
</g>
<path d="M1958,252 h6 q4,4 0,8 h-6 z M1987,252 h-6 q-4,4 0,8 h6 z" fill="none" stroke="#c2c2c2" stroke-width="0.45"/>
<path d="M1932.5,279 H1969 V273 H1975 V279 H2012.5 V385 H1932.5 Z" fill="none" stroke="#c2c2c2" stroke-width="0.5"/>
<g transform="translate(1973,307) rotate(0) scale(0.772,1)" class="lb" font-size="7.99" fill="#111">
<text x="0" y="-1.02">CONFERENCE</text>
<text x="0" y="6.78">CENTER</text>
</g>
<g transform="translate(1972,344)">
<circle r="8" fill="#128fd6"/>
<path d="M-4.4,0.4 H4.4 V2.4 H3.6 V4.8 H-3.6 V2.4 H-4.4 Z M-1.4,-2.6 H1.4 V0 H-1.4 Z M-0.5,-5.2 H0.5 V-3 H-0.5 Z" fill="#fff"/>
</g>
<path d="M1932.5,580 V395 H2012.5 V580" fill="none" stroke="#c2c2c2" stroke-width="0.5"/>
<rect x="1951" y="401" width="43" height="71" fill="none" stroke="#c2c2c2" stroke-width="0.5" stroke-dasharray="2 1.5"/>
<g transform="translate(1972.5,431.3) rotate(0) scale(0.772,1)" class="lb" font-size="7.99" fill="#111">
<text x="0" y="-0.92">ICE</text>
<text x="0" y="6.68">RINK</text>
</g>
<g transform="translate(1973,459)">
<circle r="8" fill="#128fd6"/>
<g transform="rotate(-12)"><path d="M-5.6,-3.4 q2.5,-1 5,0 v3.6 q0,3 -2.5,4.6 q-2.5,-1.6 -2.5,-4.6 z" fill="#fff"/><circle cx="-4.1" cy="-1.2" r="0.7" fill="#128fd6"/><circle cx="-2.1" cy="-1.2" r="0.7" fill="#128fd6"/><path d="M-4.3,1.4 q1.2,1.2 2.4,0" fill="none" stroke="#128fd6" stroke-width="0.6"/></g><g transform="rotate(14)"><path d="M0.2,-4.6 q2.6,-1 5.2,0 v3.6 q0,3 -2.6,4.6 q-2.6,-1.6 -2.6,-4.6 z" fill="#fff"/><circle cx="1.8" cy="-2.4" r="0.7" fill="#128fd6"/><circle cx="3.9" cy="-2.4" r="0.7" fill="#128fd6"/><path d="M1.6,1 q1.2,-1.2 2.4,0" fill="none" stroke="#128fd6" stroke-width="0.6"/></g>
</g>
<path d="M1947,477 H1999 V490 H1947 Z M1951,480 H1995 V487 H1951 Z" fill="none" stroke="#c2c2c2" stroke-width="0.45"/>
<rect x="1907" y="404.5" width="20" height="105.5" fill="#6cc4c0"/>
<text x="1917" y="411.01" class="cb" font-size="4.75" fill="#1c1c1c" stroke="#1c1c1c">2576</text>
<text x="1917" y="420.6" class="cb" font-size="4.75" fill="#1c1c1c" stroke="#1c1c1c">2580</text>
<text x="1917" y="430.19" class="cb" font-size="4.75" fill="#1c1c1c" stroke="#1c1c1c">2582*</text>
<text x="1917" y="439.78" class="cb" font-size="4.75" fill="#1c1c1c" stroke="#1c1c1c">2584*</text>
<text x="1917" y="449.37" class="cb" font-size="4.75" fill="#1c1c1c" stroke="#1c1c1c">2586</text>
<text x="1917" y="458.96" class="cb" font-size="4.75" fill="#1c1c1c" stroke="#1c1c1c">2588*</text>
<text x="1917" y="468.55" class="cb" font-size="4.75" fill="#1c1c1c" stroke="#1c1c1c">2590</text>
<text x="1917" y="478.14" class="cb" font-size="4.75" fill="#1c1c1c" stroke="#1c1c1c">2592</text>
<text x="1917" y="487.73" class="cb" font-size="4.75" fill="#1c1c1c" stroke="#1c1c1c">2594*</text>
<text x="1917" y="497.32" class="cb" font-size="4.75" fill="#1c1c1c" stroke="#1c1c1c">2596</text>
<text x="1917" y="506.91" class="cb" font-size="4.75" fill="#1c1c1c" stroke="#1c1c1c">2598</text>
<rect x="2018.5" y="404.5" width="19.5" height="105.5" fill="#6cc4c0"/>
<text x="2028.25" y="411.01" class="cb" font-size="4.75" fill="#1c1c1c" stroke="#1c1c1c">2278</text>
<text x="2028.25" y="420.6" class="cb" font-size="4.75" fill="#1c1c1c" stroke="#1c1c1c">2280</text>
<text x="2028.25" y="430.19" class="cb" font-size="4.75" fill="#1c1c1c" stroke="#1c1c1c">2282*</text>
<text x="2028.25" y="439.78" class="cb" font-size="4.75" fill="#1c1c1c" stroke="#1c1c1c">2284*</text>
<text x="2028.25" y="449.37" class="cb" font-size="4.75" fill="#1c1c1c" stroke="#1c1c1c">2286</text>
<text x="2028.25" y="458.96" class="cb" font-size="4.75" fill="#1c1c1c" stroke="#1c1c1c">2288*</text>
<text x="2028.25" y="468.55" class="cb" font-size="4.75" fill="#1c1c1c" stroke="#1c1c1c">2290</text>
<text x="2028.25" y="478.14" class="cb" font-size="4.75" fill="#1c1c1c" stroke="#1c1c1c">2292*</text>
<text x="2028.25" y="487.73" class="cb" font-size="4.75" fill="#1c1c1c" stroke="#1c1c1c">2294</text>
<text x="2028.25" y="497.32" class="cb" font-size="4.75" fill="#1c1c1c" stroke="#1c1c1c">2296</text>
<text x="2028.25" y="506.91" class="cb" font-size="4.75" fill="#1c1c1c" stroke="#1c1c1c">2298</text>
<rect x="1907" y="512" width="20" height="95.5" fill="#6cc4c0"/>
<text x="1917" y="518.49" class="cb" font-size="4.75" fill="#1c1c1c" stroke="#1c1c1c">2600</text>
<text x="1917" y="528.04" class="cb" font-size="4.75" fill="#1c1c1c" stroke="#1c1c1c">2602*</text>
<text x="1917" y="537.59" class="cb" font-size="4.75" fill="#1c1c1c" stroke="#1c1c1c">2604*</text>
<text x="1917" y="547.13" class="cb" font-size="4.75" fill="#1c1c1c" stroke="#1c1c1c">2606</text>
<text x="1917" y="556.69" class="cb" font-size="4.75" fill="#1c1c1c" stroke="#1c1c1c">2608</text>
<text x="1917" y="566.24" class="cb" font-size="4.75" fill="#1c1c1c" stroke="#1c1c1c">2610</text>
<text x="1917" y="575.79" class="cb" font-size="4.75" fill="#1c1c1c" stroke="#1c1c1c">2612</text>
<text x="1917" y="585.34" class="cb" font-size="4.75" fill="#1c1c1c" stroke="#1c1c1c">2614</text>
<text x="1917" y="594.88" class="cb" font-size="4.75" fill="#1c1c1c" stroke="#1c1c1c">2616*</text>
<text x="1917" y="604.44" class="cb" font-size="4.75" fill="#1c1c1c" stroke="#1c1c1c">2618*</text>
<rect x="2018.5" y="512" width="19.5" height="95.5" fill="#6cc4c0"/>
<text x="2028.25" y="518.49" class="cb" font-size="4.75" fill="#1c1c1c" stroke="#1c1c1c">2300</text>
<text x="2028.25" y="528.04" class="cb" font-size="4.75" fill="#1c1c1c" stroke="#1c1c1c">2302*</text>
<text x="2028.25" y="537.59" class="cb" font-size="4.75" fill="#1c1c1c" stroke="#1c1c1c">2304*</text>
<text x="2028.25" y="547.13" class="cb" font-size="4.75" fill="#1c1c1c" stroke="#1c1c1c">2306</text>
<text x="2028.25" y="556.69" class="cb" font-size="4.75" fill="#1c1c1c" stroke="#1c1c1c">2308</text>
<text x="2028.25" y="566.24" class="cb" font-size="4.75" fill="#1c1c1c" stroke="#1c1c1c">2310</text>
<text x="2028.25" y="575.79" class="cb" font-size="4.75" fill="#1c1c1c" stroke="#1c1c1c">2312</text>
<text x="2028.25" y="585.34" class="cb" font-size="4.75" fill="#1c1c1c" stroke="#1c1c1c">2314</text>
<text x="2028.25" y="594.88" class="cb" font-size="4.75" fill="#1c1c1c" stroke="#1c1c1c">2316*</text>
<text x="2028.25" y="604.44" class="cb" font-size="4.75" fill="#1c1c1c" stroke="#1c1c1c">2318*</text>
<rect x="1907" y="607.5" width="20" height="48.5" fill="#6cc4c0"/>
<g transform="translate(1917,611.98) scale(1.0)" fill="none" stroke="#1c1c1c" stroke-width="0.7"><circle cx="-0.4" cy="-2.6" r="0.6" fill="#1c1c1c" stroke="none"/><path d="M-0.4,-1.8 V0.4 H1.4 L2.2,2.4 M-0.4,-0.8 H1.2"/><path d="M-1.2,-0.2 A2,2 0 1 0 1.6,2.2"/></g>
<text x="1917" y="619.89" class="cb" font-size="4.75" fill="#1c1c1c" stroke="#1c1c1c">2620</text>
<g transform="translate(1917,628.15) scale(1.0)" fill="none" stroke="#1c1c1c" stroke-width="0.7"><circle cx="-0.4" cy="-2.6" r="0.6" fill="#1c1c1c" stroke="none"/><path d="M-0.4,-1.8 V0.4 H1.4 L2.2,2.4 M-0.4,-0.8 H1.2"/><path d="M-1.2,-0.2 A2,2 0 1 0 1.6,2.2"/></g>
<text x="1917" y="636.06" class="cb" font-size="4.75" fill="#1c1c1c" stroke="#1c1c1c">2624</text>
<g transform="translate(1917,644.32) scale(1.0)" fill="none" stroke="#1c1c1c" stroke-width="0.7"><circle cx="-0.4" cy="-2.6" r="0.6" fill="#1c1c1c" stroke="none"/><path d="M-0.4,-1.8 V0.4 H1.4 L2.2,2.4 M-0.4,-0.8 H1.2"/><path d="M-1.2,-0.2 A2,2 0 1 0 1.6,2.2"/></g>
<text x="1917" y="652.23" class="cb" font-size="4.75" fill="#1c1c1c" stroke="#1c1c1c">2628</text>
<rect x="2018.5" y="607.5" width="19.5" height="48.5" fill="#6cc4c0"/>
<g transform="translate(2028.25,611.98) scale(1.0)" fill="none" stroke="#1c1c1c" stroke-width="0.7"><circle cx="-0.4" cy="-2.6" r="0.6" fill="#1c1c1c" stroke="none"/><path d="M-0.4,-1.8 V0.4 H1.4 L2.2,2.4 M-0.4,-0.8 H1.2"/><path d="M-1.2,-0.2 A2,2 0 1 0 1.6,2.2"/></g>
<text x="2028.25" y="619.89" class="cb" font-size="4.75" fill="#1c1c1c" stroke="#1c1c1c">2320</text>
<g transform="translate(2028.25,628.15) scale(1.0)" fill="none" stroke="#1c1c1c" stroke-width="0.7"><circle cx="-0.4" cy="-2.6" r="0.6" fill="#1c1c1c" stroke="none"/><path d="M-0.4,-1.8 V0.4 H1.4 L2.2,2.4 M-0.4,-0.8 H1.2"/><path d="M-1.2,-0.2 A2,2 0 1 0 1.6,2.2"/></g>
<text x="2028.25" y="636.06" class="cb" font-size="4.75" fill="#1c1c1c" stroke="#1c1c1c">2324</text>
<g transform="translate(2028.25,644.32) scale(1.0)" fill="none" stroke="#1c1c1c" stroke-width="0.7"><circle cx="-0.4" cy="-2.6" r="0.6" fill="#1c1c1c" stroke="none"/><path d="M-0.4,-1.8 V0.4 H1.4 L2.2,2.4 M-0.4,-0.8 H1.2"/><path d="M-1.2,-0.2 A2,2 0 1 0 1.6,2.2"/></g>
<text x="2028.25" y="652.23" class="cb" font-size="4.75" fill="#1c1c1c" stroke="#1c1c1c">2328</text>
<rect x="1907" y="657.5" width="20" height="143" fill="#f8ec4c"/>
<text x="1917" y="663.98" class="cb" font-size="4.75" fill="#1c1c1c" stroke="#1c1c1c">2630*</text>
<line x1="1907" y1="667.03" x2="1927" y2="667.03" stroke="rgba(0,0,0,0.13)" stroke-width="0.4"/>
<text x="1917" y="673.51" class="cb" font-size="4.75" fill="#1c1c1c" stroke="#1c1c1c">2632*</text>
<line x1="1907" y1="676.57" x2="1927" y2="676.57" stroke="rgba(0,0,0,0.13)" stroke-width="0.4"/>
<text x="1917" y="683.04" class="cb" font-size="4.75" fill="#1c1c1c" stroke="#1c1c1c">2634*</text>
<line x1="1907" y1="686.1" x2="1927" y2="686.1" stroke="rgba(0,0,0,0.13)" stroke-width="0.4"/>
<text x="1917" y="692.58" class="cb" font-size="4.75" fill="#1c1c1c" stroke="#1c1c1c">2636*</text>
<line x1="1907" y1="695.63" x2="1927" y2="695.63" stroke="rgba(0,0,0,0.13)" stroke-width="0.4"/>
<text x="1917" y="702.11" class="cb" font-size="4.75" fill="#1c1c1c" stroke="#1c1c1c">2638*</text>
<line x1="1907" y1="705.17" x2="1927" y2="705.17" stroke="rgba(0,0,0,0.13)" stroke-width="0.4"/>
<text x="1917" y="711.64" class="cb" font-size="4.75" fill="#1c1c1c" stroke="#1c1c1c">2640*</text>
<line x1="1907" y1="714.7" x2="1927" y2="714.7" stroke="rgba(0,0,0,0.13)" stroke-width="0.4"/>
<text x="1917" y="721.18" class="cb" font-size="4.75" fill="#1c1c1c" stroke="#1c1c1c">2642*</text>
<line x1="1907" y1="724.23" x2="1927" y2="724.23" stroke="rgba(0,0,0,0.13)" stroke-width="0.4"/>
<text x="1917" y="730.71" class="cb" font-size="4.75" fill="#1c1c1c" stroke="#1c1c1c">2644*</text>
<line x1="1907" y1="733.77" x2="1927" y2="733.77" stroke="rgba(0,0,0,0.13)" stroke-width="0.4"/>
<text x="1917" y="740.24" class="cb" font-size="4.75" fill="#1c1c1c" stroke="#1c1c1c">2646</text>
<line x1="1907" y1="743.3" x2="1927" y2="743.3" stroke="rgba(0,0,0,0.13)" stroke-width="0.4"/>
<text x="1917" y="749.78" class="cb" font-size="4.75" fill="#1c1c1c" stroke="#1c1c1c">2648</text>
<line x1="1907" y1="752.83" x2="1927" y2="752.83" stroke="rgba(0,0,0,0.13)" stroke-width="0.4"/>
<text x="1917" y="759.31" class="cb" font-size="4.75" fill="#1c1c1c" stroke="#1c1c1c">2650</text>
<line x1="1907" y1="762.37" x2="1927" y2="762.37" stroke="rgba(0,0,0,0.13)" stroke-width="0.4"/>
<text x="1917" y="768.84" class="cb" font-size="4.75" fill="#1c1c1c" stroke="#1c1c1c">2652*</text>
<line x1="1907" y1="771.9" x2="1927" y2="771.9" stroke="rgba(0,0,0,0.13)" stroke-width="0.4"/>
<text x="1917" y="778.38" class="cb" font-size="4.75" fill="#1c1c1c" stroke="#1c1c1c">2654*</text>
<line x1="1907" y1="781.43" x2="1927" y2="781.43" stroke="rgba(0,0,0,0.13)" stroke-width="0.4"/>
<text x="1917" y="787.91" class="cb" font-size="4.75" fill="#1c1c1c" stroke="#1c1c1c">2656*</text>
<line x1="1907" y1="790.97" x2="1927" y2="790.97" stroke="rgba(0,0,0,0.13)" stroke-width="0.4"/>
<text x="1917" y="797.44" class="cb" font-size="4.75" fill="#1c1c1c" stroke="#1c1c1c">2658*</text>
<rect x="2018.5" y="657.5" width="19.5" height="143" fill="#f8ec4c"/>
<text x="2028.25" y="663.98" class="cb" font-size="4.75" fill="#1c1c1c" stroke="#1c1c1c">2330*</text>
<line x1="2018.5" y1="667.03" x2="2038" y2="667.03" stroke="rgba(0,0,0,0.13)" stroke-width="0.4"/>
<text x="2028.25" y="673.51" class="cb" font-size="4.75" fill="#1c1c1c" stroke="#1c1c1c">2332*</text>
<line x1="2018.5" y1="676.57" x2="2038" y2="676.57" stroke="rgba(0,0,0,0.13)" stroke-width="0.4"/>
<text x="2028.25" y="683.04" class="cb" font-size="4.75" fill="#1c1c1c" stroke="#1c1c1c">2334*</text>
<line x1="2018.5" y1="686.1" x2="2038" y2="686.1" stroke="rgba(0,0,0,0.13)" stroke-width="0.4"/>
<text x="2028.25" y="692.58" class="cb" font-size="4.75" fill="#1c1c1c" stroke="#1c1c1c">2336*</text>
<line x1="2018.5" y1="695.63" x2="2038" y2="695.63" stroke="rgba(0,0,0,0.13)" stroke-width="0.4"/>
<text x="2028.25" y="702.11" class="cb" font-size="4.75" fill="#1c1c1c" stroke="#1c1c1c">2338*</text>
<line x1="2018.5" y1="705.17" x2="2038" y2="705.17" stroke="rgba(0,0,0,0.13)" stroke-width="0.4"/>
<text x="2028.25" y="711.64" class="cb" font-size="4.75" fill="#1c1c1c" stroke="#1c1c1c">2340*</text>
<line x1="2018.5" y1="714.7" x2="2038" y2="714.7" stroke="rgba(0,0,0,0.13)" stroke-width="0.4"/>
<text x="2028.25" y="721.18" class="cb" font-size="4.75" fill="#1c1c1c" stroke="#1c1c1c">2342*</text>
<line x1="2018.5" y1="724.23" x2="2038" y2="724.23" stroke="rgba(0,0,0,0.13)" stroke-width="0.4"/>
<text x="2028.25" y="730.71" class="cb" font-size="4.75" fill="#1c1c1c" stroke="#1c1c1c">2344*</text>
<line x1="2018.5" y1="733.77" x2="2038" y2="733.77" stroke="rgba(0,0,0,0.13)" stroke-width="0.4"/>
<text x="2028.25" y="740.24" class="cb" font-size="4.75" fill="#1c1c1c" stroke="#1c1c1c">2346</text>
<line x1="2018.5" y1="743.3" x2="2038" y2="743.3" stroke="rgba(0,0,0,0.13)" stroke-width="0.4"/>
<text x="2028.25" y="749.78" class="cb" font-size="4.75" fill="#1c1c1c" stroke="#1c1c1c">2348</text>
<line x1="2018.5" y1="752.83" x2="2038" y2="752.83" stroke="rgba(0,0,0,0.13)" stroke-width="0.4"/>
<text x="2028.25" y="759.31" class="cb" font-size="4.75" fill="#1c1c1c" stroke="#1c1c1c">2350*</text>
<line x1="2018.5" y1="762.37" x2="2038" y2="762.37" stroke="rgba(0,0,0,0.13)" stroke-width="0.4"/>
<text x="2028.25" y="768.84" class="cb" font-size="4.75" fill="#1c1c1c" stroke="#1c1c1c">2352*</text>
<line x1="2018.5" y1="771.9" x2="2038" y2="771.9" stroke="rgba(0,0,0,0.13)" stroke-width="0.4"/>
<text x="2028.25" y="778.38" class="cb" font-size="4.75" fill="#1c1c1c" stroke="#1c1c1c">2354*</text>
<line x1="2018.5" y1="781.43" x2="2038" y2="781.43" stroke="rgba(0,0,0,0.13)" stroke-width="0.4"/>
<text x="2028.25" y="787.91" class="cb" font-size="4.75" fill="#1c1c1c" stroke="#1c1c1c">2356*</text>
<line x1="2018.5" y1="790.97" x2="2038" y2="790.97" stroke="rgba(0,0,0,0.13)" stroke-width="0.4"/>
<text x="2028.25" y="797.44" class="cb" font-size="4.75" fill="#1c1c1c" stroke="#1c1c1c">2358*</text>
<path d="M1928.5,418.95 l2,2.6 h-1.3 v4.3 h1.3 l-2,2.6 l-2,-2.6 h1.3 v-4.3 h-1.3 z" fill="#111"/>
<path d="M1928.5,438.15 l2,2.6 h-1.3 v4.3 h1.3 l-2,2.6 l-2,-2.6 h1.3 v-4.3 h-1.3 z" fill="#111"/>
<path d="M2017.5,438.15 l2,2.6 h-1.3 v4.3 h1.3 l-2,2.6 l-2,-2.6 h1.3 v-4.3 h-1.3 z" fill="#111"/>
<path d="M1928.5,564.25 l2,2.6 h-1.3 v4.3 h1.3 l-2,2.6 l-2,-2.6 h1.3 v-4.3 h-1.3 z" fill="#111"/>
<path d="M2017.5,526.25 l2,2.6 h-1.3 v4.3 h1.3 l-2,2.6 l-2,-2.6 h1.3 v-4.3 h-1.3 z" fill="#111"/>
<path d="M2017.5,564.25 l2,2.6 h-1.3 v4.3 h1.3 l-2,2.6 l-2,-2.6 h1.3 v-4.3 h-1.3 z" fill="#111"/>
<path d="M2017.5,583.25 l2,2.6 h-1.3 v4.3 h1.3 l-2,2.6 l-2,-2.6 h1.3 v-4.3 h-1.3 z" fill="#111"/>
<path d="M1928.5,671.75 l2,2.6 h-1.3 v4.3 h1.3 l-2,2.6 l-2,-2.6 h1.3 v-4.3 h-1.3 z" fill="#111"/>
<path d="M2017.5,671.75 l2,2.6 h-1.3 v4.3 h1.3 l-2,2.6 l-2,-2.6 h1.3 v-4.3 h-1.3 z" fill="#111"/>
<path d="M1928.5,729.25 l2,2.6 h-1.3 v4.3 h1.3 l-2,2.6 l-2,-2.6 h1.3 v-4.3 h-1.3 z" fill="#111"/>
<path d="M2017.5,729.25 l2,2.6 h-1.3 v4.3 h1.3 l-2,2.6 l-2,-2.6 h1.3 v-4.3 h-1.3 z" fill="#111"/>
<path d="M1928.5,767.25 l2,2.6 h-1.3 v4.3 h1.3 l-2,2.6 l-2,-2.6 h1.3 v-4.3 h-1.3 z" fill="#111"/>
<path d="M2017.5,767.25 l2,2.6 h-1.3 v4.3 h1.3 l-2,2.6 l-2,-2.6 h1.3 v-4.3 h-1.3 z" fill="#111"/>
<path d="M2017.5,690.75 l2,2.6 h-1.3 v4.3 h1.3 l-2,2.6 l-2,-2.6 h1.3 v-4.3 h-1.3 z" fill="#111"/>
<path d="M1932.5,580 H2012.5" fill="none" stroke="#c2c2c2" stroke-width="0.5"/>
<rect x="1935" y="582" width="7.5" height="23" fill="#fff" stroke="#c2c2c2" stroke-width="0.5"/>
<g transform="translate(1938.95,593.5) rotate(-90) scale(0.8106,1)" class="lb" font-size="6.55" fill="#111">
<text x="0" y="2.36">ELEV.</text>
</g>
<rect x="2002" y="582" width="7.5" height="23" fill="#fff" stroke="#c2c2c2" stroke-width="0.5"/>
<g transform="translate(2005.95,593.5) rotate(-90) scale(0.8106,1)" class="lb" font-size="6.55" fill="#111">
<text x="0" y="2.36">ELEV.</text>
</g>
<path d="M1955,583 h6 q4,4 0,8 h-6 z M1955,595 h6 q4,4 0,8 h-6 z M1989,583 h-6 q-4,4 0,8 h6 z M1989,595 h-6 q-4,4 0,8 h6 z" fill="none" stroke="#c2c2c2" stroke-width="0.45"/>
<rect x="1938" y="618" width="16.5" height="14" fill="#e5d098"/>
<line x1="1942.12" y1="618" x2="1942.12" y2="632" stroke="#c9b278" stroke-width="0.3"/>
<line x1="1946.25" y1="618" x2="1946.25" y2="632" stroke="#c9b278" stroke-width="0.3"/>
<line x1="1950.38" y1="618" x2="1950.38" y2="632" stroke="#c9b278" stroke-width="0.3"/>
<line x1="1938" y1="625" x2="1954.5" y2="625" stroke="#c9b278" stroke-width="0.3"/>
<rect x="1991" y="618" width="17" height="14" fill="#e5d098"/>
<line x1="1995.25" y1="618" x2="1995.25" y2="632" stroke="#c9b278" stroke-width="0.3"/>
<line x1="1999.5" y1="618" x2="1999.5" y2="632" stroke="#c9b278" stroke-width="0.3"/>
<line x1="2003.75" y1="618" x2="2003.75" y2="632" stroke="#c9b278" stroke-width="0.3"/>
<line x1="1991" y1="625" x2="2008" y2="625" stroke="#c9b278" stroke-width="0.3"/>
<path d="M1938,632.5 V800 H2008 V632.5" fill="none" stroke="#c2c2c2" stroke-width="0.5"/>
<text x="1976.5" y="871" class="dk">DECK 2</text>
</svg>
</body></html>
